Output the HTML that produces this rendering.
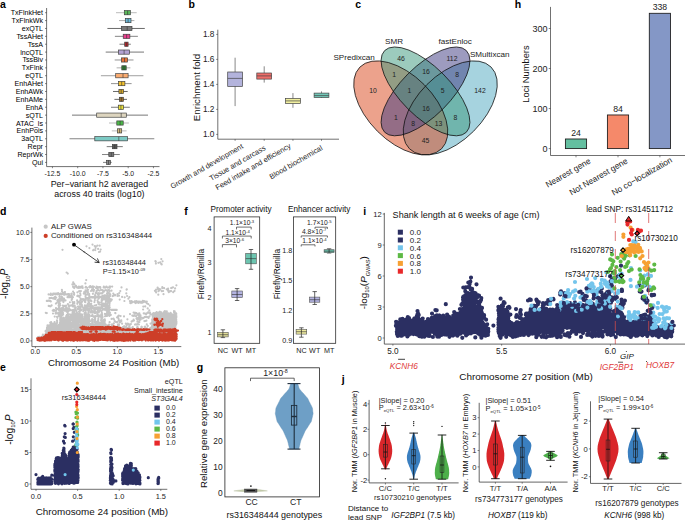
<!DOCTYPE html>
<html><head><meta charset="utf-8"><style>
html,body{margin:0;padding:0;background:#fff;width:685px;height:522px;overflow:hidden}
svg{display:block}
text{font-family:"Liberation Sans",sans-serif}
</style></head><body>
<svg width="685" height="522" viewBox="0 0 685 522">
<rect width="685" height="522" fill="#fff"/>
<text x="0" y="8.4" font-size="10.5" fill="#000" font-weight="bold">a</text>
<line x1="46.6" y1="8" x2="46.6" y2="166.6" stroke="#333" stroke-width="0.7"/>
<line x1="46.6" y1="166.6" x2="159.5" y2="166.6" stroke="#333" stroke-width="0.7"/>
<line x1="45" y1="12.7" x2="46.6" y2="12.7" stroke="#333" stroke-width="0.6"/>
<text x="43" y="15.2" font-size="7.1" text-anchor="end">TxFlnkHet</text>
<line x1="116" y1="12.7" x2="136.7" y2="12.7" stroke="#aaa" stroke-width="0.8"/>
<rect x="124.3" y="10.6" width="6.1" height="4.2" fill="#5cb85c" stroke="#3a3a3a" stroke-width="0.65"/>
<line x1="127.6" y1="10.6" x2="127.6" y2="14.8" stroke="#333" stroke-width="0.6"/>
<line x1="45" y1="20.58" x2="46.6" y2="20.58" stroke="#333" stroke-width="0.6"/>
<text x="43" y="23.08" font-size="7.1" text-anchor="end">TxFlnkWk</text>
<line x1="119" y1="20.58" x2="134.4" y2="20.58" stroke="#999" stroke-width="0.8"/>
<rect x="125.3" y="18.48" width="5.7" height="4.2" fill="#6bb8d8" stroke="#3a3a3a" stroke-width="0.65"/>
<line x1="128.1" y1="18.48" x2="128.1" y2="22.68" stroke="#333" stroke-width="0.6"/>
<line x1="45" y1="28.46" x2="46.6" y2="28.46" stroke="#333" stroke-width="0.6"/>
<text x="43" y="30.96" font-size="7.1" text-anchor="end">exQTL</text>
<line x1="107.4" y1="28.46" x2="144.8" y2="28.46" stroke="#444" stroke-width="0.8"/>
<rect x="121.4" y="26.36" width="10.6" height="4.2" fill="#7a7a7a" stroke="#3a3a3a" stroke-width="0.65"/>
<line x1="127.2" y1="26.36" x2="127.2" y2="30.56" stroke="#333" stroke-width="0.6"/>
<line x1="45" y1="36.34" x2="46.6" y2="36.34" stroke="#333" stroke-width="0.6"/>
<text x="43" y="38.84" font-size="7.1" text-anchor="end">TssAHet</text>
<line x1="114.9" y1="36.34" x2="137.9" y2="36.34" stroke="#666" stroke-width="0.8"/>
<rect x="123.2" y="34.24" width="6.7" height="4.2" fill="#e83e8c" stroke="#3a3a3a" stroke-width="0.65"/>
<line x1="126.6" y1="34.24" x2="126.6" y2="38.44" stroke="#333" stroke-width="0.6"/>
<line x1="45" y1="44.22" x2="46.6" y2="44.22" stroke="#333" stroke-width="0.6"/>
<text x="43" y="46.72" font-size="7.1" text-anchor="end">TssA</text>
<line x1="119.5" y1="44.22" x2="130.8" y2="44.22" stroke="#555" stroke-width="0.8"/>
<rect x="124.7" y="42.12" width="3.4" height="4.2" fill="#b8262b" stroke="#3a3a3a" stroke-width="0.65"/>
<line x1="126.4" y1="42.12" x2="126.4" y2="46.32" stroke="#333" stroke-width="0.6"/>
<line x1="45" y1="52.09" x2="46.6" y2="52.09" stroke="#333" stroke-width="0.6"/>
<text x="43" y="54.59" font-size="7.1" text-anchor="end">lncQTL</text>
<line x1="105.7" y1="52.09" x2="144" y2="52.09" stroke="#555" stroke-width="0.8"/>
<rect x="118.6" y="49.99" width="10.8" height="4.2" fill="#b3a3d3" stroke="#3a3a3a" stroke-width="0.65"/>
<line x1="124.1" y1="49.99" x2="124.1" y2="54.19" stroke="#333" stroke-width="0.6"/>
<line x1="45" y1="59.97" x2="46.6" y2="59.97" stroke="#333" stroke-width="0.6"/>
<text x="43" y="62.47" font-size="7.1" text-anchor="end">TssBiv</text>
<line x1="114.7" y1="59.97" x2="133.5" y2="59.97" stroke="#777" stroke-width="0.8"/>
<rect x="121.4" y="57.87" width="6.2" height="4.2" fill="#e8743b" stroke="#3a3a3a" stroke-width="0.65"/>
<line x1="124.5" y1="57.87" x2="124.5" y2="62.07" stroke="#333" stroke-width="0.6"/>
<line x1="45" y1="67.85" x2="46.6" y2="67.85" stroke="#333" stroke-width="0.6"/>
<text x="43" y="70.35" font-size="7.1" text-anchor="end">TxFlnk</text>
<line x1="116.6" y1="67.85" x2="130.4" y2="67.85" stroke="#999" stroke-width="0.8"/>
<rect x="121.8" y="65.75" width="4.4" height="4.2" fill="#2e7d32" stroke="#3a3a3a" stroke-width="0.65"/>
<line x1="124" y1="65.75" x2="124" y2="69.95" stroke="#333" stroke-width="0.6"/>
<line x1="45" y1="75.73" x2="46.6" y2="75.73" stroke="#333" stroke-width="0.6"/>
<text x="43" y="78.23" font-size="7.1" text-anchor="end">eQTL</text>
<line x1="100.9" y1="75.73" x2="143.4" y2="75.73" stroke="#888" stroke-width="0.8"/>
<rect x="115.7" y="73.63" width="12.4" height="4.2" fill="#f9ab70" stroke="#3a3a3a" stroke-width="0.65"/>
<line x1="123" y1="73.63" x2="123" y2="77.83" stroke="#333" stroke-width="0.6"/>
<line x1="45" y1="83.61" x2="46.6" y2="83.61" stroke="#333" stroke-width="0.6"/>
<text x="43" y="86.11" font-size="7.1" text-anchor="end">EnhAHet</text>
<line x1="111" y1="83.61" x2="131.6" y2="83.61" stroke="#777" stroke-width="0.8"/>
<rect x="118.6" y="81.51" width="6.3" height="4.2" fill="#f2c12e" stroke="#3a3a3a" stroke-width="0.65"/>
<line x1="121.7" y1="81.51" x2="121.7" y2="85.71" stroke="#333" stroke-width="0.6"/>
<line x1="45" y1="91.49" x2="46.6" y2="91.49" stroke="#333" stroke-width="0.6"/>
<text x="43" y="93.99" font-size="7.1" text-anchor="end">EnhAWk</text>
<line x1="113" y1="91.49" x2="127.7" y2="91.49" stroke="#444" stroke-width="0.8"/>
<rect x="118.9" y="89.39" width="4.6" height="4.2" fill="#d4a82c" stroke="#3a3a3a" stroke-width="0.65"/>
<line x1="121.2" y1="89.39" x2="121.2" y2="93.59" stroke="#333" stroke-width="0.6"/>
<line x1="45" y1="99.37" x2="46.6" y2="99.37" stroke="#333" stroke-width="0.6"/>
<text x="43" y="101.87" font-size="7.1" text-anchor="end">EnhAMe</text>
<line x1="114.4" y1="99.37" x2="127" y2="99.37" stroke="#444" stroke-width="0.8"/>
<rect x="119.4" y="97.27" width="4" height="4.2" fill="#9c6e2a" stroke="#3a3a3a" stroke-width="0.65"/>
<line x1="121.4" y1="97.27" x2="121.4" y2="101.47" stroke="#333" stroke-width="0.6"/>
<line x1="45" y1="107.25" x2="46.6" y2="107.25" stroke="#333" stroke-width="0.6"/>
<text x="43" y="109.75" font-size="7.1" text-anchor="end">EnhA</text>
<line x1="111" y1="107.25" x2="129.8" y2="107.25" stroke="#555" stroke-width="0.8"/>
<rect x="118.3" y="105.15" width="5.2" height="4.2" fill="#e8e03a" stroke="#3a3a3a" stroke-width="0.65"/>
<line x1="120.9" y1="105.15" x2="120.9" y2="109.35" stroke="#333" stroke-width="0.6"/>
<line x1="45" y1="115.13" x2="46.6" y2="115.13" stroke="#333" stroke-width="0.6"/>
<text x="43" y="117.63" font-size="7.1" text-anchor="end">sQTL</text>
<line x1="72" y1="115.13" x2="148" y2="115.13" stroke="#555" stroke-width="0.8"/>
<rect x="96.7" y="113.03" width="29.6" height="4.2" fill="#ddd5bf" stroke="#3a3a3a" stroke-width="0.65"/>
<line x1="121.2" y1="113.03" x2="121.2" y2="117.23" stroke="#333" stroke-width="0.6"/>
<line x1="45" y1="123.01" x2="46.6" y2="123.01" stroke="#333" stroke-width="0.6"/>
<text x="43" y="125.51" font-size="7.1" text-anchor="end">ATAC_ls</text>
<line x1="109" y1="123.01" x2="128.9" y2="123.01" stroke="#aaa" stroke-width="0.8"/>
<rect x="116.8" y="120.91" width="6.4" height="4.2" fill="#4cb848" stroke="#3a3a3a" stroke-width="0.65"/>
<line x1="120.1" y1="120.91" x2="120.1" y2="125.11" stroke="#333" stroke-width="0.6"/>
<line x1="45" y1="130.88" x2="46.6" y2="130.88" stroke="#333" stroke-width="0.6"/>
<text x="43" y="133.38" font-size="7.1" text-anchor="end">EnhPois</text>
<line x1="111.8" y1="130.88" x2="126.6" y2="130.88" stroke="#aaa" stroke-width="0.8"/>
<rect x="117.4" y="128.78" width="4.3" height="4.2" fill="#d3b97a" stroke="#3a3a3a" stroke-width="0.65"/>
<line x1="119.55" y1="128.78" x2="119.55" y2="132.98" stroke="#333" stroke-width="0.6"/>
<line x1="45" y1="138.76" x2="46.6" y2="138.76" stroke="#333" stroke-width="0.6"/>
<text x="43" y="141.26" font-size="7.1" text-anchor="end">3aQTL</text>
<line x1="69.5" y1="138.76" x2="154.3" y2="138.76" stroke="#666" stroke-width="0.8"/>
<rect x="94.8" y="136.66" width="32.8" height="4.2" fill="#7ccac4" stroke="#3a3a3a" stroke-width="0.65"/>
<line x1="118.8" y1="136.66" x2="118.8" y2="140.86" stroke="#333" stroke-width="0.6"/>
<line x1="45" y1="146.64" x2="46.6" y2="146.64" stroke="#333" stroke-width="0.6"/>
<text x="43" y="149.14" font-size="7.1" text-anchor="end">Repr</text>
<line x1="106.7" y1="146.64" x2="122.8" y2="146.64" stroke="#555" stroke-width="0.8"/>
<rect x="112.4" y="144.54" width="4.6" height="4.2" fill="#555555" stroke="#3a3a3a" stroke-width="0.65"/>
<line x1="114.7" y1="144.54" x2="114.7" y2="148.74" stroke="#333" stroke-width="0.6"/>
<line x1="45" y1="154.52" x2="46.6" y2="154.52" stroke="#333" stroke-width="0.6"/>
<text x="43" y="157.02" font-size="7.1" text-anchor="end">ReprWk</text>
<line x1="102" y1="154.52" x2="119.8" y2="154.52" stroke="#666" stroke-width="0.8"/>
<rect x="108.8" y="152.42" width="5" height="4.2" fill="#777777" stroke="#3a3a3a" stroke-width="0.65"/>
<line x1="111.3" y1="152.42" x2="111.3" y2="156.62" stroke="#333" stroke-width="0.6"/>
<line x1="45" y1="162.4" x2="46.6" y2="162.4" stroke="#333" stroke-width="0.6"/>
<text x="43" y="164.9" font-size="7.1" text-anchor="end">Qui</text>
<line x1="103" y1="162.4" x2="111.7" y2="162.4" stroke="#666" stroke-width="0.8"/>
<rect x="106.6" y="160.3" width="3.8" height="4.2" fill="#8a8a8a" stroke="#3a3a3a" stroke-width="0.65"/>
<line x1="108.5" y1="160.3" x2="108.5" y2="164.5" stroke="#333" stroke-width="0.6"/>
<line x1="52.45" y1="166.6" x2="52.45" y2="168.2" stroke="#333" stroke-width="0.6"/>
<text x="52.45" y="176.4" font-size="6.9" text-anchor="middle" fill="#222">-12.5</text>
<line x1="77.7" y1="166.6" x2="77.7" y2="168.2" stroke="#333" stroke-width="0.6"/>
<text x="77.7" y="176.4" font-size="6.9" text-anchor="middle" fill="#222">-10.0</text>
<line x1="102.95" y1="166.6" x2="102.95" y2="168.2" stroke="#333" stroke-width="0.6"/>
<text x="102.95" y="176.4" font-size="6.9" text-anchor="middle" fill="#222">-7.5</text>
<line x1="128.2" y1="166.6" x2="128.2" y2="168.2" stroke="#333" stroke-width="0.6"/>
<text x="128.2" y="176.4" font-size="6.9" text-anchor="middle" fill="#222">-5.0</text>
<line x1="153.45" y1="166.6" x2="153.45" y2="168.2" stroke="#333" stroke-width="0.6"/>
<text x="153.45" y="176.4" font-size="6.9" text-anchor="middle" fill="#222">-2.5</text>
<text x="99.4" y="186.6" font-size="8.9" text-anchor="middle" fill="#111">Per−variant h2 averaged</text>
<text x="99.4" y="197.1" font-size="8.9" text-anchor="middle" fill="#111">across 40 traits (log10)</text>
<text x="188.6" y="8.4" font-size="10.5" fill="#000" font-weight="bold">b</text>
<line x1="217.8" y1="29.7" x2="217.8" y2="139.2" stroke="#333" stroke-width="0.7"/>
<line x1="217.8" y1="139.2" x2="339" y2="139.2" stroke="#333" stroke-width="0.7"/>
<line x1="216.2" y1="134.4" x2="217.8" y2="134.4" stroke="#333" stroke-width="0.6"/>
<text x="214.5" y="137.3" font-size="8.3" text-anchor="end" fill="#222">1.0</text>
<line x1="216.2" y1="109.4" x2="217.8" y2="109.4" stroke="#333" stroke-width="0.6"/>
<text x="214.5" y="112.3" font-size="8.3" text-anchor="end" fill="#222">1.2</text>
<line x1="216.2" y1="84.4" x2="217.8" y2="84.4" stroke="#333" stroke-width="0.6"/>
<text x="214.5" y="87.3" font-size="8.3" text-anchor="end" fill="#222">1.4</text>
<line x1="216.2" y1="59.4" x2="217.8" y2="59.4" stroke="#333" stroke-width="0.6"/>
<text x="214.5" y="62.3" font-size="8.3" text-anchor="end" fill="#222">1.6</text>
<line x1="216.2" y1="34.4" x2="217.8" y2="34.4" stroke="#333" stroke-width="0.6"/>
<text x="214.5" y="37.3" font-size="8.3" text-anchor="end" fill="#222">1.8</text>
<line x1="235.1" y1="57.7" x2="235.1" y2="106.1" stroke="#555" stroke-width="0.7"/>
<rect x="227.7" y="72" width="14.8" height="14.4" fill="#b3b3dc" stroke="#444" stroke-width="0.7"/>
<line x1="227.7" y1="78.4" x2="242.5" y2="78.4" stroke="#444" stroke-width="0.7"/>
<line x1="235.1" y1="139.2" x2="235.1" y2="140.8" stroke="#333" stroke-width="0.6"/>
<line x1="264.2" y1="66.3" x2="264.2" y2="82.6" stroke="#555" stroke-width="0.7"/>
<rect x="256.8" y="73" width="14.8" height="6.1" fill="#ee6e6a" stroke="#444" stroke-width="0.7"/>
<line x1="256.8" y1="75.9" x2="271.6" y2="75.9" stroke="#444" stroke-width="0.7"/>
<line x1="264.2" y1="139.2" x2="264.2" y2="140.8" stroke="#333" stroke-width="0.6"/>
<line x1="292.95" y1="93.1" x2="292.95" y2="107.8" stroke="#555" stroke-width="0.7"/>
<rect x="285.55" y="98.4" width="14.8" height="5.1" fill="#f2f0a0" stroke="#444" stroke-width="0.7"/>
<line x1="285.55" y1="100.9" x2="300.35" y2="100.9" stroke="#444" stroke-width="0.7"/>
<line x1="292.95" y1="139.2" x2="292.95" y2="140.8" stroke="#333" stroke-width="0.6"/>
<line x1="321.5" y1="91.4" x2="321.5" y2="98" stroke="#555" stroke-width="0.7"/>
<rect x="314.1" y="93.1" width="14.8" height="4.4" fill="#72c8b8" stroke="#444" stroke-width="0.7"/>
<line x1="314.1" y1="95.6" x2="328.9" y2="95.6" stroke="#444" stroke-width="0.7"/>
<line x1="321.5" y1="139.2" x2="321.5" y2="140.8" stroke="#333" stroke-width="0.6"/>
<text transform="translate(199.5 87.5) rotate(-90)" font-size="9.7" fill="#111" text-anchor="middle">Enrichment fold</text>
<text x="243.7" y="147.8" font-size="7.4" text-anchor="end" fill="#222" transform="rotate(-30 243.7 147.8)">Growth and development</text>
<text x="266.2" y="149.4" font-size="7.4" text-anchor="end" fill="#222" transform="rotate(-30 266.2 149.4)">Tissue and carcass</text>
<text x="291.5" y="147.4" font-size="7.4" text-anchor="end" fill="#222" transform="rotate(-30 291.5 147.4)">Feed intake and efficiency</text>
<text x="323.1" y="149.4" font-size="7.4" text-anchor="end" fill="#222" transform="rotate(-30 323.1 149.4)">Blood biochemical</text>
<text x="355.2" y="8.4" font-size="10.5" fill="#000" font-weight="bold">c</text>
<ellipse cx="450.25" cy="107.9" rx="57.75" ry="33" transform="rotate(-45 450.25 107.9)" fill="#4da7bf" fill-opacity="0.5" stroke="none"/>
<ellipse cx="400.75" cy="107.9" rx="57.75" ry="33" transform="rotate(45 400.75 107.9)" fill="#d94519" fill-opacity="0.5" stroke="none"/>
<ellipse cx="425.5" cy="91.4" rx="57.75" ry="24.75" transform="rotate(-45 425.5 91.4)" fill="#3b377f" fill-opacity="0.5" stroke="none"/>
<ellipse cx="425.5" cy="91.4" rx="57.75" ry="24.75" transform="rotate(45 425.5 91.4)" fill="#39977b" fill-opacity="0.5" stroke="none"/>
<ellipse cx="400.75" cy="107.9" rx="57.75" ry="33" transform="rotate(45 400.75 107.9)" fill="none" fill-opacity="0" stroke="#111" stroke-width="0.75"/>
<ellipse cx="425.5" cy="91.4" rx="57.75" ry="24.75" transform="rotate(45 425.5 91.4)" fill="none" fill-opacity="0" stroke="#111" stroke-width="0.75"/>
<ellipse cx="425.5" cy="91.4" rx="57.75" ry="24.75" transform="rotate(-45 425.5 91.4)" fill="none" fill-opacity="0" stroke="#111" stroke-width="0.75"/>
<ellipse cx="450.25" cy="107.9" rx="57.75" ry="33" transform="rotate(-45 450.25 107.9)" fill="none" fill-opacity="0" stroke="#111" stroke-width="0.75"/>
<text x="401.1" y="60.6" font-size="6.8" text-anchor="middle" fill="#222">46</text>
<text x="452" y="60.6" font-size="6.8" text-anchor="middle" fill="#222">112</text>
<text x="394.1" y="77.4" font-size="6.8" text-anchor="middle" fill="#222">1</text>
<text x="426.1" y="74.4" font-size="6.8" text-anchor="middle" fill="#222">16</text>
<text x="457.1" y="77.4" font-size="6.8" text-anchor="middle" fill="#222">8</text>
<text x="373" y="92.6" font-size="6.8" text-anchor="middle" fill="#222">10</text>
<text x="409.3" y="92.6" font-size="6.8" text-anchor="middle" fill="#222">1</text>
<text x="442.7" y="92.6" font-size="6.8" text-anchor="middle" fill="#222">5</text>
<text x="480" y="92.6" font-size="6.8" text-anchor="middle" fill="#222">142</text>
<text x="426.1" y="111.3" font-size="6.8" text-anchor="middle" fill="#222">16</text>
<text x="395.9" y="119.5" font-size="6.8" text-anchor="middle" fill="#222">1</text>
<text x="455.3" y="119.5" font-size="6.8" text-anchor="middle" fill="#222">8</text>
<text x="413.2" y="125.8" font-size="6.8" text-anchor="middle" fill="#222">8</text>
<text x="438.5" y="125.8" font-size="6.8" text-anchor="middle" fill="#222">13</text>
<text x="425.6" y="142.9" font-size="6.8" text-anchor="middle" fill="#222">45</text>
<text x="333.4" y="60" font-size="8.1" fill="#222">SPredixcan</text>
<text x="385" y="43.5" font-size="8.1" fill="#222">SMR</text>
<text x="438.5" y="43.7" font-size="8.1" fill="#222">fastEnloc</text>
<text x="469.9" y="56.8" font-size="8.1" fill="#222">SMultixcan</text>
<text x="514.8" y="8.4" font-size="10.5" fill="#000" font-weight="bold">h</text>
<line x1="550.5" y1="6.9" x2="550.5" y2="155.5" stroke="#333" stroke-width="0.7"/>
<line x1="550.5" y1="155.5" x2="685" y2="155.5" stroke="#333" stroke-width="0.7"/>
<line x1="548.7" y1="148.6" x2="550.5" y2="148.6" stroke="#333" stroke-width="0.6"/>
<text x="547.5" y="152" font-size="9" text-anchor="end" fill="#222">0</text>
<line x1="548.7" y1="108.57" x2="550.5" y2="108.57" stroke="#333" stroke-width="0.6"/>
<text x="547.5" y="111.97" font-size="9" text-anchor="end" fill="#222">100</text>
<line x1="548.7" y1="68.54" x2="550.5" y2="68.54" stroke="#333" stroke-width="0.6"/>
<text x="547.5" y="71.94" font-size="9" text-anchor="end" fill="#222">200</text>
<line x1="548.7" y1="28.51" x2="550.5" y2="28.51" stroke="#333" stroke-width="0.6"/>
<text x="547.5" y="31.91" font-size="9" text-anchor="end" fill="#222">300</text>
<rect x="565.4" y="138.99" width="21.2" height="9.61" fill="#64bfa0" stroke="#1a1a1a" stroke-width="0.85"/>
<text x="576" y="136.09" font-size="8.7" text-anchor="middle" fill="#222">24</text>
<line x1="576" y1="155.5" x2="576" y2="157.3" stroke="#333" stroke-width="0.6"/>
<rect x="607.4" y="114.97" width="21.2" height="33.63" fill="#f5896a" stroke="#1a1a1a" stroke-width="0.85"/>
<text x="618" y="112.07" font-size="8.7" text-anchor="middle" fill="#222">84</text>
<line x1="618" y1="155.5" x2="618" y2="157.3" stroke="#333" stroke-width="0.6"/>
<rect x="649.3" y="13.3" width="21.2" height="135.3" fill="#8497c6" stroke="#1a1a1a" stroke-width="0.85"/>
<text x="659.9" y="10.4" font-size="8.7" text-anchor="middle" fill="#222">338</text>
<line x1="659.9" y1="155.5" x2="659.9" y2="157.3" stroke="#333" stroke-width="0.6"/>
<text x="529.2" y="74.1" font-size="9.3" text-anchor="middle" fill="#111" transform="rotate(-90 529.2 74.1)">Loci Numbers</text>
<text x="591.3" y="162.6" font-size="8.4" text-anchor="end" fill="#222" transform="rotate(-30 591.3 162.6)">Nearest gene</text>
<text x="628.4" y="162.6" font-size="8.4" text-anchor="end" fill="#222" transform="rotate(-30 628.4 162.6)">Not Nearest gene</text>
<text x="672.9" y="161.6" font-size="8.4" text-anchor="end" fill="#222" transform="rotate(-30 672.9 161.6)">No co−localization</text>
<text x="0" y="215.2" font-size="10.5" fill="#000" font-weight="bold">d</text>
<path d="M38.5 339.3h0M38.1 337.2h0M37.9 337.3h0M38.5 338.4h0M38.1 339.0h0M38.1 338.4h0M39.5 337.4h0M39.2 336.9h0M38.9 339.6h0M39.2 340.3h0M38.7 338.2h0M40.0 338.1h0M39.9 339.1h0M39.5 339.4h0M40.1 339.3h0M39.8 340.8h0M40.2 339.6h0M40.7 337.5h0M40.8 337.7h0M40.4 338.3h0M40.7 337.4h0M40.6 338.1h0M40.4 338.7h0M41.8 338.6h0M41.9 337.9h0M41.6 337.7h0M41.7 339.6h0M42.3 339.7h0M42.8 339.0h0M42.5 338.6h0M42.7 337.2h0M42.1 336.6h0M43.2 338.9h0M42.9 334.7h0M43.2 338.6h0M43.5 335.9h0M43.2 337.3h0M43.1 338.1h0M42.8 334.9h0M43.2 336.4h0M43.0 335.4h0M42.8 337.3h0M44.4 337.9h0M44.0 338.3h0M44.3 338.9h0M44.1 337.8h0M45.0 336.1h0M44.5 336.0h0M44.4 336.6h0M45.1 339.4h0M44.8 336.4h0M44.4 337.0h0M45.8 336.6h0M45.4 335.2h0M45.4 335.4h0M46.0 333.4h0M45.5 336.1h0M46.0 334.5h0M46.0 333.9h0M45.7 331.1h0M45.8 333.4h0M45.6 331.2h0M45.6 331.0h0M45.3 334.6h0M45.7 330.8h0M46.6 332.5h0M46.6 330.8h0M46.3 335.0h0M46.2 339.2h0M46.2 331.1h0M46.7 338.1h0M46.6 334.3h0M46.5 332.9h0M46.3 330.8h0M46.4 333.1h0M46.6 337.2h0M46.1 334.9h0M46.7 331.8h0M46.7 338.1h0M46.8 331.9h0M47.6 338.4h0M46.9 339.4h0M47.1 334.0h0M47.0 329.6h0M46.9 329.3h0M47.0 328.3h0M46.9 333.0h0M47.6 329.9h0M47.5 328.5h0M47.4 335.0h0M47.4 338.6h0M47.5 325.4h0M47.6 338.2h0M47.2 332.9h0M47.0 328.9h0M47.5 333.0h0M47.6 327.0h0M47.0 327.4h0M47.6 334.9h0M47.4 328.8h0M47.4 337.0h0M48.4 327.7h0M48.0 328.5h0M48.4 326.8h0M47.8 339.2h0M48.2 334.9h0M48.2 326.3h0M48.0 334.3h0M48.1 329.2h0M47.8 332.5h0M47.8 329.1h0M48.4 332.5h0M48.0 330.5h0M47.9 334.4h0M48.0 331.5h0M47.8 328.2h0M48.2 333.6h0M47.8 328.1h0M47.8 336.4h0M47.8 337.6h0M48.4 334.0h0M48.0 327.4h0M48.9 326.4h0M48.8 328.2h0M48.6 328.0h0M49.2 327.0h0M49.1 332.3h0M48.6 330.4h0M49.1 335.1h0M48.7 330.2h0M49.1 326.3h0M48.6 335.3h0M49.2 328.9h0M49.1 325.3h0M49.3 326.8h0M49.2 332.0h0M49.0 335.2h0M49.1 327.7h0M49.1 331.3h0M49.4 328.1h0M49.8 332.9h0M49.8 329.2h0M49.7 328.2h0M50.1 332.9h0M49.5 328.9h0M50.2 336.4h0M49.9 328.2h0M50.1 336.9h0M49.4 326.8h0M49.4 335.9h0M49.8 332.1h0M50.0 335.6h0M50.1 335.2h0M50.0 338.1h0M49.7 339.1h0M49.6 333.8h0M50.2 322.7h0M50.9 323.6h0M50.4 330.4h0M50.3 335.7h0M50.2 328.8h0M50.3 334.5h0M50.9 329.1h0M50.3 326.5h0M50.4 328.5h0M50.4 328.6h0M50.7 328.3h0M50.5 325.0h0M50.9 334.4h0M50.3 336.0h0M51.0 323.3h0M50.3 323.0h0M50.3 328.8h0M50.6 323.6h0M50.2 331.8h0M50.7 337.3h0M50.4 329.4h0M50.9 325.4h0M50.8 325.4h0M51.5 325.0h0M51.2 334.4h0M51.6 334.4h0M51.7 326.9h0M51.3 322.6h0M51.1 328.1h0M51.1 322.2h0M51.5 324.2h0M51.2 324.2h0M51.6 326.3h0M51.8 329.4h0M51.3 325.6h0M51.7 331.0h0M51.5 333.5h0M51.4 324.6h0M51.0 325.2h0M51.0 322.3h0M51.4 329.8h0M51.6 328.0h0M51.6 336.6h0M51.4 327.5h0M51.7 338.2h0M51.4 326.4h0M51.4 336.9h0M51.5 333.2h0M51.1 323.3h0M51.1 329.0h0M51.6 325.4h0M51.4 324.1h0M52.5 327.1h0M52.3 330.8h0M52.3 330.9h0M52.4 331.2h0M52.2 326.2h0M52.2 331.8h0M52.5 331.2h0M52.5 325.9h0M52.2 326.7h0M51.8 331.0h0M52.5 328.4h0M52.3 327.3h0M52.4 328.3h0M52.1 334.6h0M52.0 332.6h0M52.2 323.5h0M52.1 330.2h0M52.1 328.4h0M52.6 324.7h0M52.1 333.0h0M52.5 329.5h0M52.4 337.3h0M52.5 332.3h0M52.2 334.3h0M53.3 330.0h0M53.2 330.2h0M52.9 329.0h0M52.8 332.3h0M53.2 326.2h0M52.7 326.7h0M53.3 330.4h0M52.7 327.3h0M52.8 327.7h0M52.9 327.8h0M52.8 329.9h0M53.1 327.9h0M52.8 324.2h0M52.9 332.5h0M52.8 337.5h0M53.0 326.2h0M53.2 334.5h0M52.7 332.2h0M53.2 329.8h0M53.4 327.6h0M53.1 326.3h0M53.2 331.9h0M52.8 330.5h0M53.0 335.6h0M53.0 327.8h0M52.7 335.7h0M54.2 339.3h0M53.6 335.9h0M53.8 339.7h0M53.8 336.0h0M53.7 328.1h0M53.6 329.9h0M53.8 332.2h0M54.1 336.0h0M54.2 327.2h0M54.0 338.5h0M54.0 330.1h0M54.1 335.1h0M54.2 327.2h0M53.5 333.6h0M53.5 327.8h0M54.2 326.3h0M53.9 329.4h0M55.0 325.6h0M54.5 327.1h0M54.3 324.0h0M54.8 328.7h0M55.0 323.5h0M54.5 336.5h0M54.4 333.4h0M54.5 328.2h0M55.0 331.3h0M55.0 324.6h0M55.0 329.0h0M54.3 323.1h0M54.5 334.5h0M54.9 324.5h0M54.4 331.6h0M55.0 331.6h0M54.8 334.9h0M54.9 335.2h0M54.7 338.1h0M54.7 322.3h0M54.3 331.4h0M54.9 325.6h0M54.5 325.3h0M54.6 322.1h0M54.5 323.5h0M54.8 323.7h0M54.6 323.9h0M54.8 329.3h0M55.7 335.7h0M55.7 334.7h0M55.5 328.6h0M55.4 334.5h0M55.3 338.0h0M55.3 334.8h0M55.2 338.3h0M55.5 335.6h0M55.7 328.1h0M55.3 331.3h0M55.5 338.1h0M55.2 328.4h0M55.5 329.1h0M55.1 331.1h0M55.8 328.6h0M55.1 331.8h0M55.4 329.5h0M55.1 334.8h0M55.7 332.4h0M55.5 327.7h0M55.3 338.9h0M56.0 328.2h0M56.7 328.0h0M56.4 331.8h0M56.4 325.8h0M56.4 325.2h0M56.4 334.1h0M56.4 329.2h0M56.0 327.5h0M56.6 335.5h0M56.3 326.1h0M56.2 332.7h0M56.2 328.5h0M56.5 328.3h0M56.0 325.1h0M56.7 336.4h0M56.1 334.6h0M56.6 324.0h0M55.9 331.7h0M56.1 329.5h0M56.9 325.1h0M57.1 320.5h0M57.1 333.4h0M57.0 316.8h0M57.3 334.2h0M57.4 328.8h0M57.4 339.1h0M57.4 332.7h0M57.1 321.9h0M57.1 332.6h0M56.8 329.4h0M56.8 331.2h0M56.8 325.5h0M57.0 323.2h0M57.0 337.7h0M57.0 320.3h0M56.9 326.7h0M57.3 326.7h0M57.4 317.8h0M57.0 320.6h0M56.9 333.4h0M57.1 322.9h0M57.5 333.2h0M57.3 325.3h0M58.1 336.4h0M58.3 337.0h0M57.6 333.0h0M58.3 338.9h0M58.3 329.5h0M57.6 330.0h0M57.9 330.0h0M58.1 328.8h0M58.4 335.9h0M58.2 331.9h0M58.2 326.6h0M58.4 334.0h0M57.9 326.1h0M58.3 332.4h0M58.3 332.0h0M57.8 328.0h0M57.9 331.4h0M57.9 331.6h0M57.7 338.0h0M58.2 330.0h0M58.1 327.5h0M57.7 334.5h0M57.8 333.4h0M58.2 332.4h0M57.8 329.2h0M58.9 327.2h0M58.6 328.6h0M58.4 331.5h0M58.8 333.8h0M58.6 328.9h0M58.8 335.6h0M58.9 337.3h0M59.2 334.7h0M58.6 334.7h0M59.2 333.3h0M58.9 324.8h0M59.1 338.5h0M58.8 329.0h0M58.9 332.5h0M58.6 340.3h0M58.4 329.6h0M59.5 337.8h0M59.2 326.5h0M59.5 335.1h0M59.8 340.0h0M59.4 326.2h0M59.9 329.4h0M59.3 333.3h0M59.2 334.8h0M59.2 336.6h0M59.7 337.1h0M59.3 326.7h0M59.5 333.1h0M59.3 327.8h0M59.7 330.4h0M59.7 337.1h0M59.4 330.0h0M60.5 323.3h0M60.0 316.5h0M60.1 333.2h0M60.6 317.8h0M60.6 324.7h0M60.1 337.4h0M60.7 315.1h0M60.2 316.9h0M60.3 327.9h0M60.4 339.4h0M60.4 331.0h0M60.6 323.6h0M60.7 316.4h0M60.3 328.7h0M60.8 323.6h0M60.1 336.8h0M60.8 322.1h0M60.0 323.4h0M60.4 325.0h0M60.8 315.6h0M60.1 332.5h0M60.3 317.5h0M60.5 319.3h0M60.5 330.6h0M60.7 338.9h0M60.6 331.1h0M60.4 315.2h0M60.4 336.2h0M60.4 320.5h0M60.0 329.4h0M60.0 322.8h0M60.3 323.6h0M60.2 320.6h0M60.1 316.3h0M60.8 323.8h0M60.4 317.0h0M60.2 318.0h0M60.2 319.4h0M60.3 321.6h0M60.8 336.3h0M61.1 327.8h0M60.9 329.9h0M61.3 334.8h0M61.4 316.8h0M61.6 317.9h0M61.5 332.1h0M61.6 331.4h0M61.5 318.1h0M61.3 324.2h0M61.0 324.2h0M61.1 333.8h0M60.9 319.3h0M61.6 333.3h0M60.8 329.8h0M60.9 331.8h0M61.3 326.2h0M61.2 331.4h0M61.4 329.2h0M61.1 325.4h0M61.6 330.3h0M61.4 328.7h0M61.6 326.8h0M61.2 318.1h0M61.4 334.9h0M60.9 316.4h0M60.8 328.9h0M61.6 338.9h0M61.0 331.1h0M60.9 325.2h0M61.3 328.5h0M60.9 319.1h0M61.5 323.4h0M60.9 323.8h0M62.3 328.0h0M62.1 334.7h0M62.1 321.5h0M62.2 330.8h0M62.5 322.2h0M62.0 327.5h0M62.3 332.9h0M62.2 322.3h0M62.1 319.9h0M62.0 326.5h0M61.9 319.3h0M61.9 322.6h0M62.0 319.1h0M62.4 338.1h0M62.5 324.1h0M61.7 326.0h0M61.7 325.0h0M61.8 328.4h0M61.9 324.1h0M62.3 319.0h0M61.9 324.7h0M61.6 328.3h0M62.4 334.6h0M62.4 323.3h0M61.9 321.3h0M61.9 319.6h0M61.7 334.6h0M62.3 326.8h0M62.7 329.2h0M63.1 325.6h0M62.5 328.6h0M63.3 330.4h0M63.1 336.7h0M63.2 328.8h0M63.2 326.3h0M63.2 337.9h0M63.0 334.6h0M62.7 332.3h0M62.9 328.2h0M63.2 339.7h0M62.6 331.8h0M63.1 329.2h0M62.9 326.6h0M63.0 332.9h0M62.5 330.3h0M63.2 328.6h0M62.5 330.6h0M62.8 328.8h0M62.9 324.6h0M62.7 331.1h0M63.9 326.2h0M63.9 325.9h0M64.1 330.1h0M63.4 320.2h0M63.5 320.0h0M63.8 325.5h0M63.4 320.9h0M63.3 318.3h0M64.0 329.6h0M63.4 319.4h0M63.7 334.3h0M63.7 330.9h0M63.6 323.2h0M64.0 320.7h0M63.4 326.1h0M63.7 317.9h0M63.4 325.5h0M64.0 327.6h0M63.5 324.7h0M63.5 318.8h0M63.3 331.9h0M63.3 322.1h0M63.5 319.2h0M64.0 318.7h0M63.5 340.6h0M63.6 318.3h0M63.9 336.6h0M63.9 319.0h0M64.1 322.0h0M64.0 320.1h0M63.6 335.1h0M63.9 333.9h0M63.6 317.8h0M63.7 325.3h0M64.1 330.0h0M64.1 319.0h0M64.2 321.8h0M64.3 339.7h0M64.8 326.1h0M64.7 324.2h0M64.1 336.1h0M64.5 337.6h0M64.5 324.2h0M64.6 325.9h0M64.1 332.4h0M64.8 335.2h0M64.5 337.6h0M64.9 333.9h0M64.4 326.9h0M64.7 321.6h0M64.7 330.2h0M64.2 324.6h0M64.9 339.2h0M64.7 333.8h0M64.5 327.3h0M64.6 320.9h0M64.7 329.4h0M64.7 328.2h0M64.4 329.9h0M65.1 333.9h0M65.3 330.3h0M65.6 320.9h0M65.2 324.3h0M65.7 329.0h0M65.4 327.3h0M65.5 319.4h0M65.0 319.3h0M65.5 321.6h0M65.4 320.6h0M65.2 322.9h0M65.1 326.2h0M65.5 332.5h0M65.0 321.7h0M65.6 323.6h0M65.2 323.7h0M65.0 323.6h0M65.4 324.4h0M65.3 331.9h0M65.5 327.0h0M65.5 328.9h0M65.0 325.6h0M65.4 319.9h0M65.6 336.9h0M65.6 331.0h0M66.0 324.6h0M66.2 320.7h0M66.3 321.0h0M66.1 321.0h0M66.0 322.3h0M66.1 323.1h0M65.8 324.3h0M65.9 326.7h0M65.8 321.4h0M66.5 327.4h0M65.8 322.0h0M65.8 317.4h0M65.8 327.2h0M66.1 333.9h0M66.0 329.3h0M66.3 316.0h0M66.0 319.1h0M65.9 322.8h0M66.1 329.0h0M66.4 319.8h0M65.8 328.9h0M66.4 315.9h0M66.2 317.8h0M66.5 319.9h0M66.3 330.7h0M66.0 322.0h0M66.5 328.7h0M66.1 338.3h0M66.3 325.5h0M66.4 330.4h0M66.9 331.7h0M66.9 320.0h0M66.7 335.0h0M66.9 330.5h0M67.2 318.8h0M67.3 318.5h0M67.1 331.8h0M67.2 320.3h0M67.2 320.8h0M67.2 328.9h0M67.1 324.1h0M66.8 328.2h0M66.7 324.6h0M66.9 326.1h0M67.3 321.1h0M67.1 316.2h0M66.7 324.3h0M66.6 326.7h0M67.3 335.2h0M67.2 318.1h0M67.0 319.1h0M66.9 327.6h0M67.0 331.6h0M66.8 328.7h0M67.4 328.0h0M66.7 316.9h0M66.7 316.5h0M67.3 321.7h0M66.9 331.5h0M66.6 334.5h0M66.8 326.4h0M67.3 323.8h0M67.4 320.4h0M66.7 323.4h0M66.7 337.3h0M67.5 333.5h0M67.9 322.6h0M67.4 317.0h0M67.6 315.8h0M67.8 320.8h0M67.8 317.8h0M68.2 315.4h0M67.4 321.8h0M67.6 333.5h0M67.5 328.3h0M68.2 316.5h0M68.1 317.4h0M67.6 324.3h0M67.7 326.9h0M67.7 315.9h0M67.4 327.4h0M67.8 317.8h0M67.9 316.8h0M67.5 330.4h0M67.6 327.3h0M68.0 311.8h0M67.9 337.1h0M67.6 315.3h0M68.1 319.5h0M67.7 325.2h0M67.9 314.2h0M67.7 330.1h0M67.4 332.0h0M68.1 318.9h0M68.2 335.0h0M67.7 315.5h0M67.9 335.2h0M67.7 318.6h0M67.9 322.8h0M67.5 312.3h0M68.6 335.9h0M68.4 336.6h0M68.4 332.2h0M68.5 329.4h0M68.5 320.7h0M68.2 335.1h0M68.9 325.3h0M68.6 330.6h0M68.6 331.7h0M68.9 320.6h0M68.5 338.4h0M68.9 329.9h0M68.7 320.1h0M68.9 320.0h0M68.6 320.3h0M68.6 330.6h0M68.6 329.1h0M68.8 320.5h0M68.3 333.2h0M68.5 326.5h0M69.0 318.9h0M69.0 322.0h0M68.8 330.5h0M68.5 340.2h0M68.9 330.4h0M68.3 329.5h0M68.5 322.1h0M68.2 331.5h0M68.9 320.1h0M68.7 324.8h0M68.4 319.9h0M68.8 325.6h0M68.3 331.8h0M69.1 328.2h0M69.4 330.6h0M69.3 329.6h0M69.3 324.5h0M69.4 332.6h0M69.7 326.3h0M69.4 323.1h0M69.6 321.1h0M69.7 323.7h0M69.6 333.7h0M69.6 331.3h0M69.2 334.8h0M69.3 338.8h0M69.6 322.6h0M69.7 334.5h0M69.5 321.3h0M69.0 332.8h0M69.2 327.2h0M69.2 325.8h0M69.3 324.0h0M69.5 323.5h0M69.2 323.2h0M69.6 322.9h0M69.1 319.8h0M69.5 330.9h0M69.4 326.2h0M70.1 327.8h0M70.5 326.2h0M69.9 325.9h0M70.0 339.2h0M70.6 329.4h0M70.3 327.9h0M69.9 318.3h0M70.6 332.1h0M70.2 327.6h0M70.0 322.1h0M70.5 320.5h0M70.4 338.8h0M70.0 324.7h0M70.4 327.3h0M70.2 319.2h0M69.9 330.0h0M70.1 316.9h0M70.0 337.0h0M70.2 322.3h0M70.0 319.2h0M70.0 321.4h0M70.0 318.6h0M70.0 320.9h0M70.5 330.3h0M69.9 323.4h0M70.2 325.4h0M70.5 325.7h0M71.0 326.9h0M70.8 329.3h0M70.9 330.5h0M71.3 334.4h0M70.8 324.5h0M70.9 330.7h0M71.0 325.0h0M71.2 317.3h0M71.4 326.4h0M71.0 326.7h0M70.9 317.6h0M70.7 331.6h0M71.2 323.4h0M70.9 317.8h0M71.0 323.3h0M70.7 318.5h0M70.7 327.1h0M71.4 317.7h0M71.4 319.4h0M70.9 337.9h0M71.0 336.3h0M71.4 339.6h0M70.9 331.7h0M70.7 325.0h0M70.7 318.3h0M71.2 327.7h0M71.4 319.9h0M70.9 319.1h0M71.4 322.8h0M70.9 318.3h0M71.4 328.1h0M72.0 333.3h0M71.9 331.9h0M72.2 331.3h0M71.6 338.1h0M71.8 322.7h0M71.7 329.5h0M72.3 340.0h0M71.7 324.7h0M71.6 323.4h0M72.2 335.2h0M72.0 328.1h0M72.0 331.9h0M71.8 333.1h0M71.7 334.5h0M72.2 323.9h0M71.8 326.2h0M71.9 332.4h0M71.8 323.0h0M71.8 327.7h0M72.3 332.1h0M72.1 335.9h0M72.1 324.8h0M72.2 322.9h0M72.1 322.9h0M71.7 328.5h0M71.7 336.8h0M71.8 325.9h0M72.1 339.3h0M72.5 312.9h0M73.0 314.9h0M72.6 321.2h0M73.0 324.1h0M73.0 313.9h0M72.7 311.6h0M72.6 314.6h0M72.8 324.8h0M72.7 317.8h0M72.7 332.6h0M73.1 310.3h0M72.3 310.7h0M72.7 331.9h0M73.0 322.0h0M72.9 313.0h0M72.7 335.7h0M73.0 315.8h0M73.0 326.7h0M72.9 312.1h0M72.6 322.6h0M72.6 339.5h0M72.5 324.8h0M72.4 314.3h0M72.7 318.6h0M72.5 324.0h0M72.9 321.0h0M72.8 322.3h0M72.8 311.6h0M72.5 319.8h0M72.9 333.7h0M73.1 320.3h0M72.5 314.4h0M73.0 317.2h0M73.1 333.6h0M72.7 314.8h0M73.6 323.2h0M73.6 319.0h0M73.9 313.1h0M73.7 311.1h0M73.2 314.2h0M73.5 314.6h0M73.4 321.1h0M73.8 336.7h0M73.4 320.6h0M73.8 326.7h0M73.8 327.5h0M73.4 319.0h0M73.7 312.0h0M73.8 327.3h0M73.7 317.1h0M73.4 314.1h0M73.9 320.8h0M73.9 331.8h0M73.3 314.3h0M73.4 318.3h0M73.5 331.1h0M73.7 314.8h0M73.2 327.0h0M73.8 311.4h0M73.8 320.3h0M73.4 321.7h0M73.3 320.4h0M73.3 330.4h0M73.4 334.9h0M73.5 315.8h0M73.7 310.2h0M73.8 317.2h0M73.9 321.7h0M73.8 326.2h0M73.6 310.1h0M73.6 320.1h0M73.8 325.4h0M73.8 338.0h0M73.3 329.9h0M73.3 310.7h0M73.1 325.8h0M73.6 315.6h0M73.8 323.4h0M73.3 312.6h0M74.1 328.2h0M74.7 324.8h0M74.4 327.8h0M74.5 326.2h0M74.2 336.2h0M74.1 324.1h0M74.5 323.9h0M74.0 322.6h0M74.3 322.3h0M74.4 327.4h0M74.6 326.2h0M74.5 334.5h0M74.4 330.4h0M74.0 335.1h0M74.3 332.2h0M74.6 335.4h0M74.0 321.5h0M74.2 327.9h0M74.1 333.3h0M74.8 319.8h0M75.6 324.4h0M75.1 331.1h0M74.9 329.0h0M75.5 340.1h0M75.4 322.5h0M74.8 336.2h0M75.4 322.4h0M75.0 319.5h0M74.9 326.8h0M74.9 322.9h0M74.8 332.5h0M75.4 325.4h0M75.3 321.4h0M75.3 332.0h0M75.3 334.5h0M75.0 326.4h0M74.9 334.8h0M75.3 321.3h0M75.1 327.6h0M74.9 325.0h0M75.2 318.4h0M74.8 318.8h0M75.6 328.5h0M75.4 320.0h0M75.3 329.8h0M75.3 319.2h0M74.8 325.8h0M74.8 319.7h0M75.4 337.2h0M75.4 322.1h0M74.9 325.0h0M75.3 328.7h0M75.2 317.8h0M75.3 325.4h0M76.3 325.7h0M76.3 327.8h0M76.1 328.5h0M76.2 331.6h0M76.0 329.4h0M76.1 333.7h0M75.6 336.7h0M75.7 324.3h0M76.2 325.6h0M75.9 336.3h0M76.0 324.3h0M76.0 327.1h0M75.9 335.1h0M76.1 329.1h0M75.9 332.8h0M76.2 331.8h0M76.1 332.8h0M76.2 330.8h0M76.0 323.5h0M76.7 316.1h0M76.7 313.5h0M77.1 319.4h0M77.1 321.8h0M77.0 333.0h0M77.2 316.8h0M76.5 329.1h0M76.9 317.5h0M76.5 314.0h0M76.7 313.4h0M77.0 323.0h0M76.7 334.1h0M76.5 320.0h0M77.0 314.9h0M76.7 314.4h0M76.6 314.4h0M77.2 331.9h0M77.1 318.6h0M77.0 316.1h0M76.8 322.6h0M76.7 315.6h0M77.1 331.7h0M77.0 328.2h0M76.6 330.5h0M76.9 328.1h0M76.6 334.0h0M76.7 317.3h0M76.4 323.1h0M76.9 336.4h0M76.6 314.9h0M77.2 315.9h0M76.5 317.5h0M76.8 331.4h0M76.8 314.6h0M77.1 325.2h0M76.5 315.0h0M77.2 322.5h0M76.6 321.8h0M77.0 323.1h0M76.7 329.0h0M77.4 320.4h0M77.2 323.5h0M77.9 328.6h0M77.7 332.4h0M77.8 323.8h0M77.8 327.1h0M78.0 321.5h0M77.7 324.1h0M77.4 320.5h0M77.7 321.2h0M77.5 320.0h0M77.3 326.5h0M77.3 333.1h0M77.8 336.8h0M77.5 333.1h0M77.9 336.2h0M77.5 321.7h0M77.8 323.8h0M78.0 338.7h0M77.8 323.2h0M77.8 323.7h0M78.7 327.8h0M78.3 339.8h0M78.5 336.7h0M78.7 331.7h0M78.7 336.6h0M78.4 336.5h0M78.7 328.5h0M78.2 323.7h0M78.6 331.7h0M78.7 331.0h0M78.8 332.4h0M78.8 337.6h0M78.6 332.5h0M78.4 327.5h0M78.1 333.7h0M78.1 326.2h0M78.2 329.3h0M78.3 333.5h0M79.4 316.9h0M79.5 327.6h0M78.9 322.1h0M79.0 338.0h0M79.6 318.5h0M79.2 331.9h0M79.5 320.6h0M79.0 311.6h0M79.6 312.6h0M79.5 320.6h0M79.1 318.0h0M79.0 318.7h0M78.9 338.7h0M79.4 325.3h0M79.4 315.4h0M79.5 318.7h0M79.6 317.8h0M79.6 313.1h0M78.9 327.5h0M79.2 327.9h0M79.0 313.6h0M78.9 330.2h0M79.5 328.8h0M79.1 311.8h0M79.5 322.6h0M79.0 327.4h0M79.7 315.1h0M78.9 316.8h0M79.2 316.6h0M79.1 332.2h0M78.9 326.6h0M79.6 313.2h0M79.4 316.0h0M79.0 325.0h0M79.6 311.5h0M79.2 315.4h0M79.6 311.3h0M79.1 317.9h0M79.2 322.2h0M79.7 321.6h0M80.3 320.5h0M79.8 331.4h0M80.2 319.1h0M80.1 332.3h0M80.2 318.8h0M80.4 319.7h0M80.0 330.8h0M80.4 321.3h0M80.4 328.0h0M79.9 331.3h0M80.4 319.4h0M80.0 320.0h0M80.0 326.9h0M80.1 331.7h0M79.9 330.7h0M79.9 325.7h0M79.8 321.4h0M79.8 327.0h0M80.2 334.0h0M80.0 324.9h0M80.1 319.7h0M80.3 334.5h0M80.4 325.1h0M80.2 333.4h0M80.1 322.6h0M80.7 316.7h0M81.0 319.7h0M81.2 325.2h0M81.3 315.9h0M81.2 325.8h0M80.9 331.5h0M81.1 315.7h0M80.6 318.3h0M81.1 337.2h0M81.3 323.5h0M80.7 337.6h0M81.1 326.8h0M80.9 330.8h0M81.0 325.4h0M81.2 319.7h0M81.1 329.1h0M80.6 315.9h0M81.3 320.2h0M81.3 319.0h0M81.0 324.9h0M80.8 323.3h0M80.7 324.7h0M80.9 337.5h0M80.8 328.2h0M81.0 317.1h0M81.0 319.8h0M81.0 329.0h0M80.8 316.5h0M81.3 331.2h0M80.5 314.5h0M81.2 320.9h0M81.2 321.1h0M81.2 329.3h0M80.9 319.6h0M80.7 318.8h0M80.7 318.9h0M81.2 324.8h0M81.3 320.4h0M81.1 338.3h0M80.6 318.9h0M81.3 320.5h0M82.1 314.8h0M81.8 323.9h0M81.9 328.8h0M81.9 318.2h0M81.8 328.3h0M81.3 330.3h0M82.0 329.8h0M81.4 328.7h0M81.7 320.4h0M82.0 315.2h0M82.1 314.7h0M81.7 332.1h0M82.1 329.2h0M81.8 328.2h0M82.0 330.1h0M81.7 329.5h0M82.0 319.7h0M81.8 326.8h0M81.5 315.1h0M81.9 317.4h0M82.1 321.0h0M81.5 319.9h0M81.6 322.0h0M81.7 320.9h0M82.1 316.0h0M81.7 315.9h0M82.0 316.7h0M81.8 314.4h0M82.4 323.6h0M82.5 327.6h0M82.5 332.6h0M82.2 337.3h0M82.7 329.6h0M82.5 319.6h0M82.7 321.3h0M82.8 319.3h0M82.2 328.4h0M82.9 326.9h0M82.9 332.8h0M82.2 320.1h0M82.5 326.1h0M82.9 332.0h0M82.9 328.1h0M82.3 331.6h0M82.6 326.8h0M82.9 337.2h0M82.2 333.7h0M82.6 321.7h0M82.5 324.3h0M82.7 338.8h0M82.3 318.7h0M83.4 332.9h0M83.0 333.0h0M83.2 328.8h0M83.3 327.1h0M83.3 338.4h0M83.2 321.6h0M83.0 324.5h0M83.4 324.8h0M83.2 330.0h0M83.4 322.2h0M83.2 336.4h0M83.0 322.6h0M83.2 335.4h0M83.4 323.0h0M83.5 334.5h0M83.3 332.0h0M83.0 321.5h0M83.3 335.0h0M83.7 321.3h0M83.6 332.2h0M83.1 327.5h0M83.4 322.6h0M83.8 322.2h0M83.2 326.6h0M83.1 327.6h0M83.0 335.6h0M83.1 331.3h0M83.2 324.9h0M83.0 335.6h0M83.5 325.3h0M83.5 324.7h0M83.5 327.0h0M84.0 320.1h0M83.9 323.9h0M84.0 325.9h0M84.5 321.5h0M84.1 329.5h0M84.4 321.5h0M84.1 318.0h0M84.3 316.3h0M84.3 317.5h0M84.2 320.6h0M84.5 335.0h0M84.2 322.5h0M83.8 319.3h0M84.4 316.9h0M84.1 325.1h0M84.5 326.3h0M84.5 326.1h0M84.1 329.4h0M84.0 325.9h0M83.9 318.6h0M84.6 334.7h0M83.8 340.0h0M84.5 335.7h0M84.3 328.7h0M83.9 330.1h0M85.3 323.9h0M84.8 331.6h0M85.1 322.8h0M84.9 328.5h0M85.0 318.3h0M85.0 319.4h0M85.1 324.0h0M85.0 321.9h0M85.0 321.2h0M84.7 328.8h0M85.3 327.2h0M85.3 317.9h0M85.1 334.8h0M85.2 322.2h0M84.8 319.0h0M85.0 336.6h0M84.7 331.0h0M85.1 319.7h0M84.7 338.5h0M85.1 326.9h0M85.0 319.7h0M85.4 317.5h0M85.2 340.1h0M86.2 337.2h0M85.8 331.2h0M85.8 333.2h0M85.6 333.8h0M85.5 329.1h0M85.8 327.1h0M85.9 324.5h0M85.7 325.3h0M85.7 327.8h0M86.1 331.2h0M85.8 328.1h0M85.5 329.4h0M85.5 334.0h0M85.9 324.3h0M86.2 333.4h0M85.5 329.5h0M85.8 331.5h0M86.1 327.2h0M85.9 328.2h0M85.9 327.6h0M86.2 324.6h0M86.2 325.5h0M85.5 330.4h0M86.7 336.5h0M86.4 326.5h0M86.3 326.0h0M86.4 318.1h0M86.5 327.0h0M86.9 323.3h0M86.3 330.9h0M86.7 331.4h0M86.4 322.2h0M86.6 329.6h0M86.7 322.0h0M86.3 329.5h0M86.5 317.9h0M86.3 327.7h0M86.4 320.9h0M86.9 336.4h0M86.9 320.9h0M86.4 317.3h0M86.5 319.3h0M86.3 325.4h0M86.7 317.6h0M86.9 323.6h0M86.3 325.9h0M86.5 316.1h0M86.8 326.4h0M86.5 319.7h0M86.3 318.8h0M86.8 325.8h0M86.8 326.6h0M87.1 337.1h0M87.4 326.1h0M87.2 329.9h0M87.9 326.1h0M87.8 327.8h0M87.5 328.9h0M87.6 330.4h0M87.4 333.9h0M87.1 331.8h0M87.7 329.3h0M87.2 326.2h0M87.1 325.0h0M87.6 329.2h0M87.4 326.1h0M87.1 339.5h0M87.5 332.9h0M87.4 329.5h0M87.1 324.5h0M87.6 336.8h0M87.7 329.5h0M88.7 334.4h0M88.7 325.8h0M88.0 327.9h0M88.2 318.9h0M88.3 336.3h0M88.5 325.5h0M88.5 337.2h0M88.6 319.0h0M87.9 325.8h0M88.0 324.9h0M88.0 319.1h0M88.0 322.5h0M88.4 329.0h0M88.1 318.6h0M87.9 330.6h0M88.1 323.9h0M88.2 334.6h0M88.3 321.6h0M88.5 325.6h0M88.1 339.4h0M88.3 323.1h0M88.2 318.0h0M88.0 320.2h0M88.5 318.9h0M88.6 331.0h0M88.6 327.3h0M88.4 318.1h0M88.4 323.9h0M87.9 323.7h0M88.1 327.6h0M88.2 317.8h0M88.4 321.5h0M88.0 329.4h0M88.6 334.3h0M89.0 322.9h0M89.1 323.9h0M89.0 319.3h0M88.9 331.8h0M89.1 334.7h0M89.1 323.4h0M89.3 333.8h0M89.0 317.8h0M89.0 316.9h0M89.3 336.9h0M89.0 318.1h0M89.1 319.8h0M89.5 319.8h0M89.1 316.7h0M89.1 339.2h0M88.9 321.3h0M89.5 321.1h0M88.9 314.3h0M89.0 329.9h0M89.2 326.8h0M88.8 319.1h0M89.3 314.6h0M88.8 315.6h0M89.4 329.2h0M89.1 320.6h0M89.0 333.9h0M89.4 331.8h0M89.1 324.6h0M89.4 322.0h0M89.0 314.5h0M89.0 318.8h0M88.9 318.3h0M89.3 317.0h0M90.0 321.3h0M89.8 338.9h0M89.7 321.0h0M89.5 337.3h0M89.6 321.6h0M89.8 324.3h0M90.1 328.4h0M90.1 327.9h0M90.0 330.7h0M89.5 325.8h0M89.7 331.4h0M90.2 329.6h0M89.6 325.2h0M90.0 337.2h0M89.8 325.5h0M89.7 320.4h0M90.2 327.2h0M90.3 338.1h0M89.7 321.3h0M89.9 333.7h0M90.0 323.8h0M90.0 337.6h0M89.6 328.8h0M90.9 331.9h0M90.4 327.3h0M90.6 327.2h0M90.8 329.8h0M90.7 329.3h0M90.5 334.4h0M91.1 335.2h0M90.7 328.6h0M90.6 332.8h0M91.1 335.2h0M90.5 327.2h0M90.6 333.3h0M91.1 333.5h0M91.2 327.8h0M91.0 334.9h0M91.8 333.9h0M91.3 333.5h0M91.3 330.7h0M91.6 327.9h0M91.2 334.5h0M91.3 333.1h0M91.3 324.4h0M91.5 335.6h0M91.7 324.0h0M91.8 327.7h0M91.5 330.9h0M91.4 325.8h0M91.8 329.7h0M91.9 327.6h0M91.7 333.1h0M91.4 333.8h0M91.9 325.9h0M91.9 325.6h0M91.8 330.5h0M91.8 335.0h0M91.7 338.3h0M92.0 325.0h0M91.3 326.2h0M91.8 338.3h0M91.6 330.7h0M92.6 332.2h0M92.4 325.3h0M92.0 334.3h0M92.3 333.1h0M92.2 323.4h0M92.8 327.1h0M92.5 322.1h0M92.5 323.7h0M92.0 320.6h0M92.1 333.0h0M92.4 324.8h0M92.6 330.3h0M92.8 324.2h0M92.7 326.7h0M92.0 339.3h0M92.5 327.7h0M92.3 329.6h0M92.1 326.8h0M92.2 320.3h0M92.1 319.2h0M92.7 328.5h0M92.6 324.9h0M92.4 321.4h0M92.7 332.4h0M92.7 338.1h0M92.0 326.6h0M92.2 327.7h0M92.4 326.9h0M92.7 319.9h0M92.3 330.4h0M92.5 332.5h0M92.3 322.8h0M92.0 322.0h0M92.6 328.4h0M93.0 325.4h0M93.3 332.3h0M93.5 328.0h0M92.9 330.7h0M93.2 324.1h0M93.1 330.1h0M93.6 330.5h0M93.5 336.6h0M93.1 334.6h0M93.5 328.7h0M93.0 336.7h0M93.1 336.6h0M93.2 326.5h0M93.1 334.9h0M93.1 335.0h0M93.5 336.6h0M93.4 331.9h0M93.4 326.0h0M92.9 326.2h0M93.6 328.5h0M93.3 332.1h0M92.9 326.3h0M93.5 334.2h0M94.1 332.3h0M94.4 327.3h0M94.4 329.4h0M94.2 325.7h0M93.6 329.7h0M93.8 327.3h0M93.8 327.8h0M93.9 328.8h0M94.2 326.1h0M94.3 331.4h0M94.2 335.3h0M93.7 328.1h0M94.4 327.8h0M94.0 329.0h0M94.2 329.7h0M93.9 326.7h0M93.9 326.2h0M94.3 327.3h0M95.3 324.7h0M94.7 320.6h0M95.2 322.4h0M94.5 337.4h0M94.8 319.7h0M95.2 327.3h0M94.9 324.5h0M94.5 340.5h0M94.9 324.7h0M95.1 332.1h0M95.1 329.7h0M94.9 321.0h0M94.6 317.2h0M95.2 316.9h0M94.4 322.1h0M95.0 318.3h0M94.6 333.9h0M95.1 330.0h0M94.5 335.1h0M95.0 324.1h0M95.1 319.4h0M94.4 317.5h0M95.2 317.4h0M95.1 327.1h0M94.6 317.8h0M94.8 325.0h0M95.0 321.4h0M95.0 322.5h0M94.9 320.1h0M94.8 329.9h0M95.2 318.8h0M95.0 332.5h0M94.5 317.6h0M95.2 329.7h0M95.0 338.7h0M94.8 321.1h0M94.7 319.4h0M95.2 333.5h0M95.0 327.3h0M94.6 327.9h0M95.9 340.0h0M95.3 320.9h0M95.7 326.0h0M95.5 323.0h0M95.7 326.3h0M95.5 323.7h0M95.4 334.8h0M95.7 323.0h0M95.5 331.1h0M95.4 326.1h0M95.9 335.1h0M95.7 327.1h0M95.3 327.2h0M95.5 333.3h0M96.1 336.2h0M95.5 325.9h0M95.6 339.1h0M96.0 332.4h0M95.6 322.0h0M96.1 321.9h0M95.6 324.1h0M96.0 333.3h0M96.1 335.8h0M95.8 332.4h0M95.4 334.8h0M96.0 335.1h0M96.0 334.1h0M95.5 333.0h0M96.1 336.1h0M96.0 331.2h0M96.0 324.0h0M96.2 330.8h0M96.1 327.2h0M96.6 333.0h0M96.1 324.3h0M96.2 332.1h0M96.1 331.2h0M96.4 329.0h0M96.3 333.4h0M96.7 332.9h0M96.4 329.6h0M96.3 326.6h0M96.1 332.1h0M96.4 333.2h0M96.8 331.6h0M96.4 329.9h0M96.8 334.0h0M96.8 324.2h0M96.3 334.9h0M96.7 332.3h0M96.3 337.2h0M96.6 324.3h0M96.8 328.3h0M97.4 322.1h0M97.5 325.3h0M97.5 335.3h0M97.1 337.1h0M97.7 321.6h0M97.4 334.6h0M97.0 329.0h0M97.2 333.6h0M97.0 326.0h0M97.5 337.2h0M97.2 331.5h0M97.3 326.6h0M97.2 323.2h0M97.2 331.5h0M97.5 323.5h0M97.6 334.2h0M97.1 328.7h0M97.7 326.4h0M97.4 331.0h0M97.7 333.9h0M97.4 325.6h0M97.6 323.8h0M97.2 332.1h0M97.7 327.4h0M97.1 335.0h0M97.6 323.4h0M97.4 330.0h0M97.4 321.8h0M97.4 324.2h0M97.6 324.6h0M97.3 334.0h0M98.5 333.7h0M97.8 323.9h0M98.4 336.1h0M98.2 330.8h0M98.5 328.8h0M97.8 321.6h0M98.0 327.6h0M97.8 329.4h0M97.8 331.0h0M98.2 330.1h0M98.3 319.9h0M98.2 338.2h0M98.5 332.4h0M98.0 325.7h0M98.2 329.2h0M98.1 324.0h0M98.1 330.4h0M98.1 328.3h0M98.0 324.4h0M98.1 327.8h0M98.3 321.2h0M98.3 329.2h0M98.5 335.1h0M98.4 327.6h0M98.0 320.7h0M98.3 318.9h0M98.4 334.8h0M98.1 321.8h0M97.8 325.4h0M98.5 331.4h0M97.8 330.3h0M98.0 330.4h0M98.1 320.9h0M98.1 324.6h0M99.3 332.9h0M99.3 333.0h0M99.1 329.1h0M98.6 337.8h0M98.9 336.5h0M98.8 335.2h0M98.8 331.4h0M98.8 333.0h0M98.9 328.8h0M98.6 325.7h0M98.9 326.4h0M98.5 338.2h0M98.6 326.5h0M98.9 327.2h0M99.1 337.4h0M99.7 325.6h0M99.4 323.6h0M99.8 331.0h0M99.9 332.5h0M99.9 330.2h0M99.8 334.2h0M99.5 324.3h0M99.8 330.1h0M100.0 323.7h0M99.5 322.8h0M99.4 327.4h0M99.6 333.0h0M99.8 327.5h0M99.7 326.1h0M100.1 334.7h0M99.6 327.4h0M99.7 331.8h0M99.8 326.3h0M100.1 323.4h0M100.0 331.3h0M100.1 326.1h0M100.4 328.3h0M100.7 326.0h0M100.7 325.2h0M100.2 338.7h0M100.3 329.6h0M100.5 337.4h0M100.3 329.5h0M100.5 327.5h0M100.6 326.3h0M100.8 330.5h0M100.5 334.6h0M100.4 332.4h0M100.5 335.3h0M100.6 336.7h0M100.9 329.8h0M100.3 332.8h0M100.4 335.7h0M100.6 335.2h0M100.3 328.1h0M100.5 328.4h0M100.6 330.4h0M100.4 331.4h0M100.6 332.6h0M100.9 334.1h0M100.4 332.6h0M101.5 328.4h0M101.5 320.4h0M101.2 322.9h0M101.6 327.8h0M101.1 323.9h0M101.2 328.3h0M101.4 318.4h0M101.1 336.1h0M101.4 318.7h0M101.0 323.3h0M101.0 324.8h0M101.1 323.0h0M101.3 323.1h0M101.2 336.0h0M101.1 330.3h0M101.1 332.2h0M101.4 326.9h0M101.7 325.8h0M101.4 322.2h0M101.7 324.3h0M101.0 326.5h0M101.0 323.9h0M101.1 325.0h0M101.1 320.0h0M101.1 323.0h0M101.6 330.3h0M101.5 329.1h0M101.2 330.7h0M101.0 322.8h0M101.1 332.2h0M101.1 320.7h0M101.4 326.3h0M101.5 320.7h0M101.5 325.5h0M101.3 325.4h0M102.2 317.9h0M101.9 336.2h0M102.5 317.1h0M101.9 338.3h0M101.8 323.2h0M101.9 323.5h0M102.4 338.9h0M102.5 330.1h0M102.3 327.7h0M102.1 326.6h0M101.8 326.1h0M102.0 327.6h0M102.0 328.1h0M102.4 316.5h0M102.0 318.3h0M102.3 334.7h0M101.8 318.0h0M102.0 334.5h0M102.4 320.9h0M102.6 324.6h0M102.1 328.5h0M102.0 322.1h0M102.6 335.3h0M102.1 327.7h0M101.9 322.9h0M102.6 329.5h0M102.4 317.8h0M102.0 317.5h0M102.4 321.9h0M102.0 329.5h0M101.9 317.8h0M102.5 335.2h0M102.3 331.2h0M103.4 323.2h0M102.7 329.0h0M103.1 320.6h0M102.9 333.0h0M102.9 331.6h0M102.8 329.6h0M102.8 326.6h0M103.4 320.1h0M102.8 325.6h0M103.2 334.0h0M103.1 332.7h0M102.9 330.0h0M103.3 331.9h0M103.1 325.3h0M102.9 320.4h0M102.9 330.0h0M103.2 327.0h0M103.2 334.0h0M102.8 323.1h0M103.0 321.4h0M102.8 331.8h0M103.3 329.3h0M102.7 332.2h0M103.3 331.2h0M103.1 321.7h0M103.1 322.8h0M103.4 330.5h0M103.4 325.9h0M102.8 334.5h0M104.1 329.6h0M103.5 326.1h0M103.9 331.1h0M103.6 330.7h0M104.2 329.3h0M103.8 329.0h0M103.9 328.8h0M103.6 335.8h0M103.5 326.5h0M103.5 333.8h0M103.9 330.3h0M104.2 334.5h0M103.6 335.5h0M103.9 333.2h0M103.8 328.1h0M103.7 328.3h0M103.5 329.7h0M104.7 319.5h0M104.5 330.4h0M104.6 326.5h0M105.0 327.6h0M104.3 323.4h0M104.5 320.8h0M104.5 330.5h0M104.4 330.3h0M104.8 331.1h0M104.3 325.2h0M104.9 335.2h0M104.6 336.6h0M104.3 328.9h0M104.5 320.9h0M104.3 324.3h0M104.9 328.1h0M104.7 331.6h0M104.5 337.2h0M105.0 338.3h0M104.4 323.1h0M104.7 326.4h0M104.5 333.7h0M104.9 334.7h0M104.5 322.7h0M104.5 319.9h0M104.4 326.2h0M104.7 326.6h0M104.9 337.5h0M104.7 322.1h0M104.3 325.9h0M104.6 328.3h0M104.7 324.6h0M104.9 320.6h0M104.8 319.3h0M105.2 337.1h0M105.3 335.7h0M105.7 326.1h0M105.6 330.5h0M105.5 332.7h0M105.9 339.4h0M105.4 327.7h0M105.2 324.1h0M105.5 330.7h0M105.2 332.3h0M105.6 332.3h0M105.1 327.6h0M105.3 324.2h0M105.7 325.7h0M105.8 324.6h0M105.4 327.7h0M105.3 333.8h0M105.3 336.0h0M105.3 333.4h0M105.7 332.8h0M105.1 329.9h0M106.1 331.5h0M106.1 332.3h0M106.6 334.4h0M106.4 332.8h0M106.0 339.6h0M106.6 333.9h0M106.5 333.1h0M106.6 335.9h0M106.3 331.6h0M106.6 339.3h0M106.2 332.4h0M106.4 336.8h0M106.4 330.2h0M106.5 335.5h0M106.3 334.5h0M106.2 333.7h0M106.7 339.9h0M106.7 339.2h0M106.0 335.7h0M107.4 327.8h0M107.1 339.8h0M107.3 328.1h0M106.8 328.7h0M106.7 329.6h0M107.1 328.0h0M107.5 338.7h0M107.1 335.1h0M107.1 338.2h0M107.0 332.9h0M106.7 332.2h0M107.5 338.4h0M107.5 332.0h0M106.9 327.5h0M107.1 332.6h0M107.0 328.2h0M106.8 335.5h0M107.0 338.3h0M107.4 332.0h0M107.2 328.2h0M107.1 334.6h0M107.8 334.5h0M107.9 328.1h0M107.7 325.5h0M107.8 333.8h0M107.7 332.1h0M107.9 328.7h0M108.3 334.2h0M108.2 333.3h0M107.9 336.4h0M108.3 332.4h0M108.1 339.2h0M108.1 334.6h0M107.9 328.7h0M107.7 330.4h0M108.2 335.7h0M107.9 335.3h0M107.7 330.9h0M107.9 329.1h0M108.3 328.4h0M107.8 330.9h0M108.9 330.3h0M108.5 326.1h0M108.6 331.5h0M109.1 334.6h0M109.1 334.3h0M108.5 330.1h0M109.0 331.6h0M109.1 331.7h0M109.0 336.6h0M108.6 336.3h0M109.0 330.7h0M108.9 334.1h0M109.0 324.9h0M108.4 332.8h0M109.1 326.3h0M109.1 334.3h0M108.8 337.2h0M108.7 329.3h0M108.6 331.3h0M108.7 337.2h0M108.4 327.0h0M108.4 324.9h0M109.1 324.9h0M109.0 340.5h0M109.3 338.9h0M110.0 330.7h0M109.8 336.2h0M109.9 331.4h0M109.5 337.8h0M109.3 334.6h0M109.9 338.6h0M109.6 335.1h0M109.9 337.4h0M109.7 335.4h0M109.7 331.3h0M109.9 331.2h0M110.1 335.6h0M110.1 330.5h0M110.1 336.4h0M110.7 330.6h0M110.8 334.1h0M110.1 330.3h0M110.3 330.5h0M110.0 339.3h0M110.5 331.3h0M110.5 332.6h0M110.5 337.3h0M110.1 334.5h0M110.5 335.7h0M111.2 335.9h0M111.6 330.3h0M110.9 333.8h0M111.0 335.2h0M110.9 338.5h0M110.9 337.7h0M111.4 338.5h0M111.6 331.3h0M111.1 332.1h0M111.6 337.9h0M111.3 334.0h0M111.1 335.7h0M110.9 332.4h0M111.0 334.4h0M111.9 324.7h0M112.1 328.8h0M111.8 327.9h0M112.0 329.2h0M112.0 337.2h0M112.4 327.3h0M112.4 332.6h0M111.9 335.8h0M111.9 332.3h0M111.8 333.3h0M111.9 325.5h0M112.0 325.9h0M111.7 334.7h0M112.4 338.1h0M111.7 329.5h0M111.9 334.6h0M112.2 328.3h0M111.8 329.2h0M112.0 325.6h0M111.7 333.8h0M113.2 327.4h0M112.7 329.1h0M112.7 327.6h0M112.7 340.3h0M112.5 332.3h0M112.5 327.3h0M113.0 331.1h0M113.0 332.7h0M113.2 329.7h0M112.8 334.4h0M112.6 334.0h0M112.8 337.9h0M113.2 334.8h0M113.8 330.6h0M113.4 327.7h0M113.4 334.9h0M113.9 333.9h0M114.0 335.2h0M113.6 330.2h0M114.0 328.5h0M113.5 331.7h0M113.6 330.3h0M113.5 328.9h0M113.9 336.2h0M113.6 333.9h0M114.1 332.5h0M114.4 327.6h0M114.4 339.9h0M114.2 329.8h0M114.4 328.5h0M114.6 329.9h0M114.4 330.9h0M114.7 333.2h0M114.5 328.5h0M114.9 333.6h0M114.2 328.5h0M114.5 327.4h0M114.7 333.3h0M114.8 331.3h0M114.7 328.1h0M114.6 327.6h0M114.4 333.2h0M114.6 332.9h0M114.7 331.5h0M114.7 328.6h0M114.6 327.8h0M114.8 328.3h0M114.1 339.8h0M115.7 333.1h0M115.5 335.0h0M115.5 328.0h0M115.6 333.4h0M115.3 331.5h0M115.2 332.0h0M115.7 328.2h0M115.2 330.0h0M115.7 333.4h0M115.6 328.9h0M115.7 337.8h0M115.7 327.3h0M115.1 330.5h0M115.0 330.8h0M115.5 329.4h0M115.6 334.3h0M115.8 336.9h0M116.0 332.7h0M116.1 332.3h0M116.3 332.2h0M116.4 332.0h0M116.0 335.7h0M116.3 334.0h0M116.4 332.4h0M116.0 338.2h0M116.4 333.2h0M116.0 339.2h0M115.8 336.7h0M116.0 337.2h0M115.8 337.6h0M116.7 334.1h0M117.3 330.6h0M116.9 337.7h0M116.8 332.1h0M116.9 332.9h0M117.2 332.2h0M117.3 338.3h0M116.8 339.4h0M117.0 332.5h0M116.8 338.9h0M117.0 337.1h0M118.2 335.5h0M118.0 335.4h0M117.7 337.9h0M117.6 332.4h0M117.8 336.2h0M118.2 331.8h0M117.6 334.9h0M117.9 337.5h0M117.8 336.3h0M118.1 338.5h0M118.2 336.7h0M117.7 338.8h0M118.3 330.6h0M118.5 329.7h0M118.5 326.1h0M118.4 327.4h0M118.4 329.2h0M118.6 330.6h0M118.6 329.5h0M118.3 338.1h0M119.0 334.3h0M118.5 334.5h0M118.7 325.9h0M118.6 333.2h0M118.5 339.2h0M118.3 338.4h0M118.5 325.9h0M118.3 330.3h0M118.4 338.8h0M118.9 336.5h0M118.3 327.5h0M118.4 335.1h0M119.0 335.2h0M118.9 333.4h0M118.7 333.4h0M119.8 337.1h0M119.6 337.5h0M119.3 338.7h0M119.6 331.9h0M119.7 331.5h0M119.4 337.0h0M119.0 334.2h0M119.8 334.1h0M119.5 330.5h0M119.7 331.8h0M119.5 336.3h0M119.7 334.4h0M119.6 336.4h0M119.8 337.2h0M119.7 330.7h0M119.2 330.9h0M119.6 332.8h0M120.1 334.6h0M120.4 332.4h0M120.4 335.4h0M120.1 332.1h0M120.7 336.7h0M120.2 336.1h0M120.7 340.0h0M120.6 332.1h0M120.1 332.7h0M120.2 333.0h0M120.2 331.1h0M120.2 331.8h0M121.5 336.1h0M121.4 328.4h0M121.4 331.5h0M121.2 328.8h0M121.0 329.6h0M121.3 329.3h0M121.0 331.1h0M120.8 338.3h0M120.8 330.3h0M121.0 328.9h0M120.7 336.5h0M121.4 333.4h0M120.9 330.0h0M120.9 328.4h0M120.9 329.3h0M121.7 329.5h0M121.7 333.5h0M122.0 332.5h0M122.1 331.3h0M121.7 340.2h0M122.1 332.1h0M122.0 333.0h0M122.3 335.1h0M122.2 336.8h0M122.1 329.3h0M121.6 330.7h0M121.7 338.7h0M121.9 331.2h0M121.7 329.3h0M121.5 335.5h0M121.8 334.3h0M121.7 339.7h0M121.7 335.5h0M122.1 334.2h0M122.6 336.3h0M122.5 328.0h0M122.7 334.0h0M122.5 328.2h0M122.9 329.8h0M123.0 335.0h0M122.9 338.1h0M122.9 333.9h0M122.9 335.3h0M122.6 330.1h0M123.1 333.7h0M122.5 337.0h0M122.9 328.0h0M122.3 333.6h0M122.5 327.5h0M122.4 338.1h0M122.9 327.1h0M123.5 331.3h0M123.9 329.0h0M123.2 332.1h0M123.8 331.1h0M123.7 327.0h0M123.9 328.2h0M123.6 333.9h0M123.3 336.1h0M123.7 328.8h0M123.8 327.5h0M123.4 333.6h0M123.3 331.1h0M123.9 328.9h0M123.5 336.2h0M124.6 333.9h0M124.3 330.3h0M124.7 334.6h0M124.3 338.2h0M124.0 334.6h0M124.6 329.3h0M124.4 332.3h0M124.2 328.4h0M124.4 337.9h0M124.5 326.3h0M124.0 326.3h0M124.0 333.7h0M124.8 326.5h0M124.1 328.9h0M124.5 332.5h0M124.6 329.8h0M124.1 331.4h0M124.5 329.9h0M124.4 328.7h0M124.1 338.7h0M124.0 329.9h0M124.3 327.7h0M124.8 337.0h0M125.2 330.3h0M125.3 335.4h0M125.3 335.1h0M125.2 338.1h0M125.2 333.7h0M125.3 332.9h0M125.2 331.5h0M124.9 331.4h0M125.3 331.9h0M125.1 338.3h0M125.5 330.9h0M125.6 333.8h0M125.5 330.5h0M125.2 330.3h0M125.7 332.5h0M126.0 329.7h0M126.1 327.6h0M126.3 337.2h0M125.9 327.5h0M126.2 339.7h0M126.1 336.7h0M126.0 326.5h0M125.7 328.0h0M126.0 326.6h0M126.3 338.1h0M126.1 327.7h0M125.8 329.2h0M125.8 335.3h0M127.2 336.3h0M126.8 333.8h0M127.0 330.2h0M126.9 330.9h0M126.5 332.4h0M126.6 330.9h0M126.9 337.6h0M127.1 333.5h0M126.8 338.5h0M127.2 333.6h0M127.1 338.6h0M127.0 334.8h0M127.9 329.1h0M127.4 329.6h0M127.3 340.1h0M127.5 335.1h0M127.9 332.1h0M127.6 330.1h0M128.0 331.4h0M127.8 329.6h0M127.5 328.5h0M127.4 339.0h0M127.9 336.6h0M127.5 332.6h0M127.3 333.5h0M127.5 338.1h0M127.7 333.2h0M127.4 330.2h0M127.6 339.5h0M128.1 333.8h0M128.3 338.6h0M128.3 335.8h0M128.2 329.1h0M128.2 339.4h0M128.2 333.7h0M128.2 330.0h0M128.8 327.6h0M128.4 328.0h0M128.7 329.5h0M128.7 332.6h0M128.7 330.8h0M128.7 328.5h0M128.1 327.5h0M128.1 331.9h0M128.5 327.6h0M128.1 329.2h0M128.3 338.7h0M128.9 331.0h0M128.9 336.3h0M129.2 338.8h0M129.6 330.2h0M129.6 336.8h0M129.6 335.2h0M129.1 332.2h0M128.9 340.4h0M129.6 335.1h0M129.5 334.4h0M129.0 333.9h0M129.0 338.5h0M128.9 334.6h0M129.1 335.2h0M129.7 331.2h0M130.3 329.9h0M130.1 335.1h0M129.9 332.8h0M129.9 328.2h0M130.1 330.1h0M130.4 330.7h0M129.8 334.0h0M130.5 338.7h0M129.9 330.7h0M130.4 328.8h0M130.3 329.9h0M130.0 338.3h0M130.2 338.1h0M130.4 336.9h0M129.7 327.3h0M130.6 331.3h0M130.5 333.2h0M131.2 336.2h0M130.5 339.6h0M130.6 332.7h0M131.0 331.8h0M131.0 333.8h0M130.7 337.0h0M131.3 331.5h0M130.9 332.5h0M131.1 336.4h0M130.7 332.8h0M131.3 331.3h0M131.6 338.7h0M132.1 335.4h0M132.0 336.1h0M132.1 333.7h0M132.0 332.7h0M132.0 338.6h0M131.4 334.9h0M132.1 330.4h0M131.9 332.8h0M131.4 330.3h0M131.9 332.6h0M132.7 329.3h0M132.8 337.3h0M132.8 327.1h0M132.7 335.8h0M132.9 337.2h0M132.3 327.6h0M132.6 333.3h0M132.8 329.6h0M132.3 334.8h0M132.8 328.0h0M132.2 331.0h0M132.7 333.4h0M132.2 332.2h0M132.9 328.8h0M132.3 327.7h0M132.7 333.9h0M133.3 335.2h0M133.2 331.3h0M133.6 334.1h0M133.8 332.7h0M133.8 331.6h0M133.5 332.5h0M133.6 332.1h0M133.7 335.4h0M133.3 336.4h0M133.7 331.1h0M133.3 334.9h0M134.4 331.7h0M134.3 334.6h0M134.4 332.1h0M134.5 335.9h0M134.2 331.8h0M134.2 332.6h0M134.2 332.4h0M133.9 340.7h0M133.9 335.2h0M134.1 331.7h0M134.6 338.1h0M134.5 334.6h0M134.5 335.7h0M134.4 340.5h0M134.2 336.0h0M135.0 334.1h0M135.1 332.3h0M135.3 330.8h0M135.2 336.3h0M135.1 334.6h0M134.8 335.6h0M134.8 333.8h0M134.7 333.8h0M135.0 340.4h0M134.8 330.8h0M135.1 338.9h0M135.1 332.5h0M135.6 334.4h0M136.1 336.9h0M135.6 338.0h0M135.9 339.0h0M135.9 332.6h0M136.1 333.5h0M135.4 335.2h0M135.6 334.6h0M135.6 338.1h0M136.2 332.1h0M135.5 332.5h0M137.1 332.3h0M136.6 333.7h0M136.6 332.8h0M136.5 337.4h0M136.4 334.1h0M136.7 332.5h0M136.4 333.0h0M137.0 333.4h0M136.4 338.0h0M136.3 336.3h0M137.4 338.7h0M137.6 337.4h0M137.7 330.4h0M137.2 329.6h0M137.4 331.4h0M137.5 334.5h0M137.4 328.8h0M137.8 328.2h0M137.5 328.0h0M137.2 327.0h0M137.1 327.7h0M137.7 332.9h0M137.7 327.2h0M137.2 330.1h0M138.0 334.2h0M137.9 336.0h0M138.6 336.7h0M138.7 335.5h0M138.0 332.7h0M138.0 334.7h0M138.7 332.7h0M138.4 337.5h0M138.3 336.8h0M138.2 336.6h0M138.1 339.7h0M138.5 340.3h0M139.3 331.8h0M139.1 330.0h0M139.2 329.0h0M139.2 329.2h0M139.4 330.6h0M139.0 332.7h0M138.8 330.5h0M139.2 329.7h0M138.8 337.2h0M139.2 330.4h0M138.8 339.3h0M139.0 334.3h0M138.8 337.8h0M138.9 339.9h0M138.8 339.5h0M140.1 332.6h0M139.9 336.8h0M139.6 336.8h0M140.3 331.0h0M140.0 332.6h0M140.2 331.0h0M139.7 331.1h0M140.1 335.7h0M139.8 337.0h0M140.0 329.9h0M140.2 337.1h0M139.6 335.7h0M139.7 337.4h0M140.1 335.3h0M140.0 335.3h0M140.3 332.7h0M140.6 335.0h0M140.6 334.7h0M140.6 336.1h0M140.5 331.6h0M140.5 336.5h0M140.7 338.3h0M140.5 335.4h0M140.8 334.4h0M140.7 333.4h0M141.0 336.6h0M140.6 333.7h0M140.7 332.4h0M140.4 334.3h0M140.6 337.2h0M141.8 327.4h0M142.0 336.8h0M141.3 337.5h0M141.4 326.9h0M141.7 336.1h0M141.3 328.4h0M141.7 340.5h0M141.7 335.4h0M141.4 337.2h0M142.0 331.6h0M141.7 335.2h0M141.5 329.5h0M141.8 326.9h0M141.4 334.6h0M141.5 333.6h0M141.9 332.7h0M142.5 334.9h0M142.0 331.6h0M142.1 330.7h0M142.2 336.0h0M142.4 330.3h0M142.3 333.7h0M142.3 337.9h0M142.2 330.3h0M142.8 336.0h0M142.8 340.0h0M142.6 339.7h0M142.3 334.3h0M142.4 330.1h0M142.3 339.9h0M142.9 339.2h0M143.0 331.8h0M143.2 338.0h0M143.4 335.7h0M143.3 331.7h0M143.4 334.5h0M143.6 334.7h0M143.2 332.5h0M143.6 333.3h0M143.1 335.5h0M142.8 337.0h0M143.5 334.9h0M143.5 333.6h0M144.0 331.0h0M144.0 334.2h0M144.3 338.3h0M144.4 328.6h0M144.3 332.9h0M144.0 333.6h0M144.0 335.8h0M144.3 329.2h0M144.1 329.4h0M143.9 329.4h0M144.4 331.0h0M144.4 330.5h0M144.2 332.8h0M143.7 337.3h0M144.3 336.4h0M144.2 336.7h0M144.3 328.6h0M144.1 339.1h0M144.2 332.8h0M144.7 326.8h0M145.1 326.9h0M144.9 329.2h0M145.2 329.4h0M144.5 336.1h0M144.5 336.9h0M144.5 332.5h0M145.0 327.4h0M144.8 336.0h0M145.2 326.8h0M145.3 339.3h0M144.9 329.7h0M144.9 335.5h0M145.2 330.7h0M144.5 333.1h0M145.9 335.5h0M145.6 334.3h0M145.4 328.1h0M145.6 329.3h0M146.0 334.4h0M145.3 331.5h0M145.5 328.2h0M145.4 329.6h0M145.3 334.6h0M145.4 328.4h0M145.8 330.2h0M145.3 334.1h0M146.0 330.6h0M145.9 331.8h0M145.4 327.8h0M146.6 338.5h0M146.7 332.4h0M146.4 333.9h0M146.5 338.7h0M146.2 335.3h0M146.1 337.1h0M146.4 333.0h0M146.5 337.3h0M146.7 331.8h0M146.6 332.6h0M146.3 331.5h0M147.5 331.3h0M147.4 332.8h0M147.5 330.3h0M147.4 338.4h0M147.1 328.3h0M147.3 331.2h0M147.0 331.8h0M147.4 330.1h0M147.7 332.9h0M147.2 336.7h0M147.2 333.1h0M147.7 332.4h0M147.5 330.3h0M148.2 339.4h0M147.9 333.7h0M148.3 338.3h0M147.8 333.2h0M148.1 336.6h0M148.3 334.2h0M148.6 338.7h0M148.4 335.5h0M147.9 335.3h0M148.6 334.0h0M149.1 337.2h0M148.8 333.5h0M148.9 336.3h0M149.3 334.9h0M149.0 334.5h0M148.6 335.9h0M149.2 334.2h0M149.3 336.6h0M149.5 338.1h0M149.5 336.9h0M149.7 333.9h0M150.0 330.6h0M149.8 331.6h0M149.8 335.0h0M149.8 331.8h0M150.2 330.3h0M149.4 331.8h0M149.5 331.9h0M150.1 331.3h0M149.5 333.8h0M149.5 331.6h0M150.5 330.9h0M150.4 327.8h0M151.0 339.2h0M150.7 329.7h0M150.4 339.1h0M150.2 329.8h0M150.2 333.2h0M150.9 338.6h0M150.8 332.6h0M150.5 332.1h0M150.5 328.4h0M150.7 333.2h0M150.3 331.8h0M151.0 328.1h0M150.3 333.5h0M150.6 332.9h0M150.3 335.9h0M150.6 329.7h0M150.8 330.1h0M150.8 340.1h0M151.2 333.3h0M151.3 333.9h0M151.0 328.6h0M151.8 330.9h0M151.2 332.6h0M151.8 331.0h0M151.6 330.1h0M151.8 330.5h0M151.1 332.0h0M151.8 337.0h0M151.1 338.7h0M151.1 336.4h0M151.7 331.0h0M151.6 331.5h0M151.3 329.3h0M151.2 333.6h0M152.5 324.9h0M152.3 330.4h0M152.3 320.6h0M152.2 322.0h0M152.3 325.9h0M152.3 334.0h0M152.0 333.0h0M152.3 323.3h0M152.4 332.1h0M152.1 333.8h0M152.4 327.6h0M152.1 331.7h0M152.6 326.4h0M152.7 329.5h0M152.0 322.5h0M152.6 333.3h0M152.5 324.6h0M152.6 319.2h0M152.2 319.3h0M152.0 327.1h0M152.2 331.2h0M152.2 322.0h0M151.9 326.4h0M152.3 332.4h0M152.4 331.1h0M152.3 324.9h0M152.5 319.3h0M152.6 326.1h0M152.1 331.3h0M152.5 321.9h0M152.5 320.8h0M152.3 319.9h0M153.3 319.1h0M153.3 313.9h0M153.0 317.2h0M152.9 322.6h0M153.4 313.2h0M153.4 317.1h0M153.4 314.7h0M153.2 328.8h0M152.7 317.0h0M153.3 317.6h0M153.1 319.0h0M153.2 321.6h0M153.2 329.4h0M153.1 319.6h0M153.1 328.4h0M152.8 319.1h0M152.8 316.4h0M152.8 316.8h0M153.0 314.4h0M152.8 331.6h0M153.2 316.8h0M152.9 323.0h0M153.2 327.4h0M153.0 320.9h0M152.9 332.0h0M153.4 332.9h0M153.5 315.5h0M153.0 315.2h0M152.7 321.0h0M152.9 327.2h0M153.4 336.9h0M153.4 334.8h0M153.2 327.6h0M153.1 314.0h0M153.3 333.9h0M152.9 322.6h0M153.2 339.6h0M153.4 315.5h0M153.4 330.1h0M153.9 329.7h0M153.5 330.5h0M154.0 319.4h0M153.8 316.2h0M153.9 323.4h0M153.8 325.8h0M153.8 317.8h0M153.8 330.1h0M153.8 316.1h0M154.0 334.2h0M153.8 324.5h0M153.5 315.5h0M154.2 334.3h0M153.9 328.0h0M153.7 329.0h0M153.5 320.1h0M153.8 319.9h0M154.1 322.3h0M153.8 332.9h0M154.0 320.4h0M154.1 333.0h0M153.5 316.9h0M154.0 334.6h0M154.1 336.3h0M154.0 322.7h0M154.1 334.6h0M154.2 315.9h0M154.3 318.8h0M153.7 315.3h0M154.0 319.6h0M154.0 330.8h0M154.2 320.9h0M153.7 326.4h0M153.6 325.2h0M154.3 326.3h0M153.8 318.1h0M153.5 333.6h0M154.1 333.3h0M154.0 317.9h0M153.9 335.2h0M155.1 320.8h0M154.9 321.9h0M154.6 321.6h0M154.3 325.6h0M155.0 330.9h0M154.8 319.6h0M154.4 317.2h0M154.5 315.5h0M154.6 321.5h0M155.1 317.8h0M154.7 331.2h0M154.8 322.0h0M154.4 326.3h0M155.1 323.2h0M154.4 320.9h0M154.7 316.3h0M154.7 338.0h0M154.4 331.8h0M155.1 326.8h0M154.6 315.3h0M154.5 321.4h0M155.1 316.3h0M154.4 324.4h0M154.5 319.9h0M154.5 331.7h0M154.5 333.2h0M154.9 328.8h0M154.6 328.9h0M154.6 328.1h0M154.6 319.8h0M154.4 320.2h0M154.6 334.6h0M154.4 316.5h0M154.3 328.9h0M155.3 327.5h0M155.8 332.8h0M155.9 332.7h0M155.6 315.7h0M155.6 321.3h0M155.5 328.0h0M155.9 323.8h0M155.6 319.6h0M155.9 328.3h0M155.2 313.3h0M155.5 318.4h0M155.6 315.5h0M155.8 317.1h0M155.1 314.5h0M155.2 314.1h0M155.1 315.7h0M155.6 337.6h0M155.7 319.7h0M155.2 313.7h0M155.6 322.4h0M155.9 329.6h0M155.3 313.4h0M155.3 314.8h0M155.3 314.9h0M155.5 318.9h0M155.6 324.1h0M155.5 318.2h0M155.2 313.0h0M155.8 329.4h0M155.3 324.1h0M156.2 316.1h0M156.1 317.3h0M156.6 333.5h0M156.4 319.7h0M156.7 326.8h0M156.3 313.0h0M156.0 313.7h0M156.2 325.6h0M156.8 324.4h0M156.1 329.6h0M156.5 318.8h0M156.1 321.9h0M156.2 314.8h0M156.2 319.2h0M156.7 328.6h0M156.7 322.1h0M156.5 327.6h0M156.5 317.0h0M156.4 314.4h0M156.3 338.6h0M156.7 320.2h0M156.4 319.6h0M156.0 327.2h0M156.0 318.5h0M156.6 318.3h0M156.6 325.9h0M156.0 323.9h0M156.1 326.7h0M156.1 330.5h0M156.5 319.6h0M156.6 312.2h0M156.1 313.0h0M156.6 320.4h0M156.7 321.5h0M156.0 332.6h0M156.2 317.6h0M156.4 317.8h0M156.0 328.3h0M157.1 329.7h0M157.0 317.2h0M157.3 328.8h0M157.5 336.6h0M157.0 323.9h0M157.4 321.0h0M157.3 313.8h0M157.1 330.9h0M157.1 321.1h0M156.9 336.9h0M157.4 313.1h0M157.5 325.4h0M157.1 315.9h0M157.6 325.9h0M157.5 318.4h0M156.9 323.6h0M156.8 324.6h0M157.2 316.5h0M157.0 319.3h0M157.3 321.9h0M157.3 323.4h0M157.3 323.3h0M157.5 333.3h0M157.5 317.5h0M156.8 318.0h0M157.1 322.3h0M157.2 317.7h0M157.2 319.6h0M156.9 335.2h0M157.3 313.1h0M156.8 314.5h0M157.1 319.2h0M157.0 318.5h0M157.1 316.5h0M157.0 326.5h0M157.3 333.7h0M157.6 320.2h0M157.6 331.0h0M157.3 330.2h0M158.0 322.9h0M158.0 331.3h0M158.1 329.3h0M157.8 318.8h0M158.1 319.8h0M158.3 317.6h0M157.8 315.7h0M158.0 322.9h0M157.8 326.4h0M158.0 337.6h0M158.2 327.3h0M158.1 319.7h0M158.1 335.5h0M158.0 327.2h0M158.2 320.0h0M158.0 319.7h0M157.7 318.2h0M158.4 316.9h0M158.2 326.0h0M158.3 322.8h0M157.8 323.2h0M158.3 320.6h0M158.3 337.5h0M158.4 316.5h0M158.0 316.5h0M157.7 326.9h0M157.7 320.8h0M158.3 316.4h0M157.6 319.1h0M158.0 330.6h0M158.3 323.4h0M157.6 326.7h0M158.6 319.9h0M158.5 313.7h0M158.4 312.7h0M158.9 316.7h0M158.9 321.8h0M158.8 329.7h0M158.6 333.9h0M158.6 318.6h0M158.9 320.4h0M158.8 313.1h0M159.1 328.0h0M158.9 312.7h0M158.6 317.7h0M158.9 318.3h0M158.9 316.9h0M158.7 313.3h0M158.9 325.9h0M158.9 318.0h0M159.2 319.0h0M158.8 325.5h0M158.7 327.3h0M158.9 314.6h0M158.9 329.9h0M158.4 314.3h0M158.6 317.9h0M159.2 313.2h0M158.9 313.7h0M158.7 313.2h0M159.0 334.6h0M159.1 331.3h0M159.2 336.2h0M159.0 331.6h0M158.8 325.0h0M159.1 327.7h0M159.0 313.2h0M158.5 317.4h0M158.5 316.2h0M159.1 332.1h0M159.1 323.4h0M158.7 312.8h0M158.7 329.6h0M158.7 313.8h0M159.2 323.0h0M158.8 319.8h0M159.9 311.8h0M159.6 322.9h0M160.0 323.6h0M159.5 313.9h0M159.6 318.1h0M159.5 317.4h0M159.5 315.3h0M159.6 312.7h0M159.7 313.9h0M159.6 317.6h0M159.4 319.4h0M159.8 329.9h0M159.7 312.7h0M159.4 321.6h0M159.9 323.2h0M159.2 320.8h0M159.6 312.6h0M159.8 315.5h0M159.5 313.2h0M159.9 333.9h0M159.8 313.0h0M159.8 311.8h0M159.4 319.4h0M159.7 326.7h0M159.9 323.0h0M159.8 315.3h0M159.8 333.4h0M159.3 314.6h0M160.1 322.0h0M160.2 313.4h0M160.2 313.2h0M160.6 320.7h0M160.6 317.9h0M160.3 322.2h0M160.1 336.3h0M160.8 314.9h0M160.7 333.5h0M160.6 317.4h0M160.4 324.9h0M160.6 339.1h0M160.4 328.2h0M160.4 320.8h0M160.4 314.4h0M160.8 316.6h0M160.7 322.0h0M160.3 315.5h0M160.1 319.9h0M160.6 333.3h0M160.2 318.3h0M160.7 324.6h0M160.5 317.6h0M160.5 322.8h0M160.6 317.5h0M160.7 320.6h0M160.6 330.1h0M160.2 315.6h0M160.2 323.4h0M160.8 331.8h0M161.4 315.3h0M161.5 316.0h0M161.3 320.8h0M161.0 332.9h0M161.5 336.0h0M161.6 330.4h0M161.5 323.1h0M161.4 316.4h0M161.1 315.1h0M161.5 320.0h0M161.3 324.6h0M161.7 324.5h0M161.1 320.5h0M161.6 313.3h0M161.3 324.4h0M161.5 320.5h0M161.5 315.0h0M161.4 312.5h0M161.4 312.4h0M161.4 329.3h0M161.4 316.2h0M161.2 331.0h0M161.1 316.0h0M161.0 338.9h0M161.6 312.5h0M161.6 315.6h0M161.5 320.7h0M161.4 316.6h0M161.1 329.7h0M161.4 319.5h0M161.7 323.9h0M161.2 332.7h0M162.2 315.9h0M161.8 332.4h0M162.2 328.5h0M161.7 317.1h0M161.8 325.4h0M162.3 318.9h0M162.5 322.3h0M161.8 335.3h0M162.2 323.4h0M161.9 332.2h0M162.0 328.8h0M162.0 327.3h0M162.3 324.9h0M162.4 324.0h0M161.9 316.6h0M162.2 317.9h0M161.9 315.8h0M162.2 326.7h0M161.9 334.5h0M161.7 331.3h0M161.9 323.5h0M162.0 336.9h0M161.8 338.6h0M161.7 328.6h0M162.2 332.6h0M162.4 315.6h0M162.2 336.8h0M163.3 314.7h0M163.1 316.2h0M162.6 323.3h0M162.9 330.3h0M163.0 322.2h0M163.3 335.7h0M162.7 331.7h0M162.7 327.6h0M162.8 315.1h0M162.8 323.8h0M162.6 330.2h0M162.7 322.0h0M162.7 328.6h0M162.9 338.7h0M163.2 336.4h0M162.8 314.6h0M162.6 336.8h0M162.9 320.8h0M162.8 330.2h0M163.1 321.6h0M162.8 321.1h0M163.2 323.1h0M162.8 321.1h0M162.9 334.3h0M163.2 333.3h0M163.1 324.9h0M163.1 323.0h0M163.2 324.1h0M162.7 318.3h0M163.2 323.4h0M163.3 319.4h0M163.3 331.0h0M163.3 318.3h0M163.3 326.8h0M163.9 327.4h0M163.6 313.4h0M163.9 336.0h0M163.5 320.9h0M163.5 322.9h0M163.9 334.5h0M163.5 314.5h0M163.4 333.3h0M164.0 318.4h0M163.7 314.9h0M163.5 339.6h0M164.0 319.2h0M163.6 320.4h0M163.4 326.7h0M163.8 315.2h0M163.6 335.6h0M163.4 326.9h0M163.8 317.8h0M163.9 314.6h0M163.9 318.5h0M163.8 318.6h0M163.9 312.8h0M163.5 319.1h0M163.4 329.9h0M164.1 324.4h0M163.8 329.7h0M163.7 337.8h0M163.8 313.2h0M163.9 318.6h0M163.8 326.5h0M164.0 324.8h0M163.6 321.1h0M164.1 317.3h0M163.9 332.6h0M164.0 323.9h0M163.8 320.8h0M164.0 337.3h0M163.4 327.6h0M163.5 318.3h0M163.4 334.1h0M163.8 335.3h0M164.0 326.3h0M163.6 320.0h0M164.1 327.6h0M163.5 325.3h0M164.3 337.3h0M164.4 325.9h0M164.8 317.3h0M164.8 324.0h0M164.5 312.3h0M164.2 337.9h0M164.2 314.6h0M164.6 317.0h0M164.7 314.7h0M164.6 325.7h0M164.2 323.5h0M164.3 312.5h0M164.8 326.9h0M164.6 322.0h0M164.6 312.2h0M164.4 318.7h0M164.6 312.0h0M164.3 318.0h0M164.2 320.3h0M164.9 316.5h0M164.2 311.5h0M164.6 319.5h0M164.9 319.4h0M164.3 323.0h0M164.8 323.9h0M164.3 324.0h0M164.2 333.4h0M164.2 321.1h0M164.4 330.3h0M164.7 318.8h0M164.8 331.0h0M164.6 327.6h0M164.5 322.6h0M164.6 319.7h0M164.9 318.5h0M164.4 315.0h0M164.3 315.4h0M164.6 327.7h0M164.8 332.8h0M164.2 327.3h0M164.6 318.4h0M164.4 319.5h0M164.9 311.2h0M164.7 326.4h0M164.5 314.8h0M164.9 312.1h0M164.5 325.4h0M165.7 321.5h0M165.3 319.4h0M165.3 321.3h0M165.1 334.0h0M165.3 328.4h0M165.1 314.1h0M165.5 325.4h0M165.8 333.7h0M165.2 315.4h0M165.8 317.0h0M165.1 321.4h0M165.0 335.7h0M165.7 340.2h0M165.0 333.8h0M165.5 320.1h0M165.1 324.8h0M165.7 330.1h0M165.0 319.8h0M165.0 321.6h0M165.2 337.4h0M165.5 317.8h0M165.2 331.8h0M165.8 329.1h0M165.2 325.9h0M165.2 329.1h0M165.7 334.8h0M165.6 322.1h0M165.0 332.1h0M165.5 321.5h0M165.2 327.8h0M165.7 318.1h0M165.5 314.7h0M165.1 326.8h0M165.6 324.1h0M165.3 316.7h0M165.8 315.4h0M165.6 324.0h0M165.5 329.7h0M165.2 330.3h0M165.5 314.3h0M165.6 328.5h0M166.5 322.0h0M166.0 327.0h0M165.8 325.0h0M166.1 322.6h0M166.3 313.0h0M166.5 320.0h0M166.1 330.8h0M166.3 335.3h0M165.8 318.5h0M165.9 314.4h0M166.3 321.1h0M166.5 332.2h0M166.0 321.5h0M166.6 334.5h0M166.3 313.1h0M165.9 317.2h0M166.3 325.1h0M166.2 312.9h0M166.2 322.7h0M166.2 337.2h0M166.4 336.0h0M166.6 312.2h0M166.5 313.6h0M166.3 326.6h0M166.3 317.8h0M165.9 315.8h0M166.0 321.3h0M166.0 327.2h0M166.5 315.9h0M165.8 315.9h0M166.5 317.2h0M166.3 327.8h0M166.4 324.6h0M166.5 317.2h0M166.0 313.8h0M166.8 338.7h0M167.2 334.0h0M166.8 316.0h0M166.9 326.8h0M166.7 335.9h0M167.1 331.8h0M167.4 337.6h0M166.9 330.1h0M167.3 315.8h0M166.7 335.6h0M166.7 316.0h0M167.2 318.2h0M167.0 322.1h0M167.1 333.0h0M167.3 315.2h0M167.2 328.4h0M166.8 311.4h0M167.4 315.8h0M167.2 322.2h0M167.3 317.0h0M167.0 317.2h0M166.7 323.8h0M167.3 321.7h0M167.1 319.8h0M167.4 329.5h0M167.2 322.4h0M166.8 336.0h0M167.1 330.1h0M167.1 322.9h0M166.9 313.1h0M166.7 319.8h0M166.9 331.3h0M166.9 313.5h0M167.6 322.9h0M167.9 335.4h0M168.1 326.0h0M167.6 330.5h0M168.2 315.1h0M167.8 328.7h0M168.0 336.3h0M168.1 339.7h0M167.5 327.0h0M167.8 339.8h0M167.7 314.4h0M168.1 336.0h0M168.1 324.0h0M168.2 327.4h0M167.7 319.7h0M167.8 328.5h0M167.9 320.5h0M167.7 317.1h0M168.0 318.3h0M168.0 329.8h0M168.0 331.5h0M167.5 323.2h0M167.6 333.1h0M167.9 314.6h0M167.5 324.5h0M167.5 322.4h0M167.9 323.5h0M167.5 319.3h0M167.8 321.7h0M168.0 315.7h0M167.8 315.6h0M167.6 324.3h0M167.6 326.1h0M168.2 314.6h0M167.8 328.5h0M167.7 315.8h0M167.8 330.8h0M168.1 323.0h0M168.9 338.7h0M169.0 323.5h0M168.4 314.6h0M168.6 318.7h0M168.9 330.5h0M169.0 321.2h0M168.3 321.7h0M168.3 313.4h0M168.8 325.3h0M168.9 316.6h0M168.8 329.2h0M168.3 315.5h0M169.0 326.2h0M168.6 324.7h0M168.5 314.1h0M168.7 318.2h0M168.7 334.3h0M168.3 332.1h0M168.6 319.8h0M169.1 314.7h0M168.8 325.2h0M168.5 318.5h0M168.5 317.2h0M168.8 333.1h0M168.9 334.2h0M168.5 313.5h0M168.8 315.5h0M169.0 328.4h0M168.9 325.5h0M168.3 333.6h0M168.3 319.8h0M168.8 315.7h0M168.5 317.2h0M168.5 327.0h0M168.8 325.0h0M169.1 326.9h0M168.4 315.1h0M169.0 331.5h0M168.5 322.3h0M168.3 325.5h0M168.9 317.1h0M168.4 327.3h0M168.5 318.7h0M168.3 313.3h0M169.6 315.6h0M169.6 317.1h0M169.5 330.3h0M169.4 321.5h0M169.5 318.3h0M169.5 326.2h0M169.5 323.2h0M169.1 327.5h0M169.5 319.6h0M169.4 319.0h0M169.5 326.5h0M169.3 318.1h0M169.8 319.3h0M169.2 319.7h0M169.5 316.0h0M169.1 318.5h0M169.4 317.1h0M169.6 339.5h0M169.6 323.0h0M169.3 333.5h0M169.4 322.4h0M169.5 338.6h0M169.2 320.1h0M169.5 319.0h0M169.4 329.3h0M169.7 330.4h0M169.1 326.5h0M169.4 330.7h0M169.8 330.0h0M169.2 320.5h0M169.2 328.7h0M169.4 328.9h0M169.6 332.9h0M169.6 333.7h0M170.5 313.3h0M170.3 331.5h0M170.2 316.4h0M170.0 318.6h0M170.1 313.9h0M170.2 326.5h0M170.1 321.2h0M170.7 321.2h0M170.5 321.6h0M169.9 320.2h0M170.4 320.0h0M170.1 328.0h0M170.1 337.4h0M170.0 327.4h0M170.3 314.0h0M170.5 321.7h0M170.5 323.4h0M169.9 318.2h0M170.5 318.8h0M170.6 316.3h0M170.6 336.4h0M170.7 320.2h0M170.4 319.7h0M170.1 327.0h0M170.6 319.9h0M170.7 329.8h0M170.4 319.9h0M169.9 319.4h0M170.2 323.7h0M170.0 320.1h0M170.4 314.3h0M170.6 312.8h0M170.7 317.9h0M170.1 321.2h0M169.9 320.7h0M170.1 321.3h0M170.5 335.6h0M170.6 336.9h0M170.3 329.5h0M169.9 322.6h0M170.1 334.6h0M170.6 328.6h0M170.6 319.8h0M170.2 335.6h0M170.6 333.4h0M170.5 321.5h0M171.0 338.5h0M171.3 318.4h0M170.8 322.4h0M170.8 318.3h0M170.9 331.2h0M170.9 313.6h0M171.4 324.8h0M171.4 325.8h0M170.9 314.9h0M170.7 316.8h0M171.5 334.6h0M171.4 317.0h0M170.7 323.8h0M170.9 325.3h0M171.0 325.0h0M170.7 328.2h0M170.9 319.5h0M171.3 317.5h0M171.2 315.0h0M171.2 327.1h0M170.7 318.0h0M171.2 331.5h0M171.1 314.1h0M171.2 327.2h0M171.4 325.0h0M170.7 334.8h0M171.5 334.2h0M171.3 337.5h0M171.8 334.4h0M171.8 317.6h0M172.0 332.7h0M172.2 315.6h0M171.9 326.0h0M171.5 335.3h0M171.8 333.5h0M172.3 319.8h0M171.8 321.0h0M171.7 314.8h0M171.9 318.7h0M171.7 323.3h0M172.1 325.3h0M171.6 323.4h0M172.2 323.6h0M172.3 321.5h0M172.2 337.4h0M172.0 322.5h0M171.8 315.1h0M171.6 323.1h0M171.8 314.1h0M172.2 330.4h0M171.6 338.0h0M171.7 314.6h0M172.2 316.9h0M171.8 323.2h0M172.0 316.7h0M171.5 331.0h0M172.0 332.4h0M172.3 336.6h0M172.3 330.0h0M172.9 315.0h0M172.7 316.3h0M173.1 314.9h0M172.6 324.1h0M172.4 326.1h0M172.6 333.4h0M173.0 328.7h0M172.4 333.7h0M172.4 318.7h0M172.8 323.1h0M172.7 315.3h0M172.6 324.1h0M172.9 315.8h0M173.0 316.6h0M172.5 315.6h0M173.0 327.4h0M173.0 315.4h0M172.9 319.0h0M173.0 316.6h0M173.0 335.2h0M172.5 333.5h0M172.7 335.8h0M172.8 315.9h0M173.1 337.2h0M172.9 332.7h0M173.0 337.6h0M172.4 327.6h0M172.3 320.4h0M172.5 319.4h0M173.1 324.2h0M172.7 314.7h0M172.6 316.5h0M172.9 339.3h0M173.2 316.6h0M173.9 318.3h0M173.8 321.3h0M173.8 324.0h0M173.5 319.3h0M173.5 327.7h0M173.4 324.7h0M173.5 318.4h0M173.8 317.6h0M173.9 326.4h0M173.5 316.9h0M173.3 319.3h0M173.6 320.0h0M173.7 319.9h0M173.4 338.1h0M173.9 315.9h0M173.6 320.1h0M173.2 324.2h0M173.6 319.4h0M173.3 334.5h0M173.9 316.7h0M173.3 317.2h0M173.8 331.3h0M173.8 325.9h0M173.4 332.0h0M173.6 321.0h0M173.6 334.2h0M173.8 327.5h0M173.4 320.5h0M173.3 315.7h0M173.7 317.8h0M173.4 324.9h0M173.4 329.3h0M173.5 317.8h0M173.6 317.0h0M173.3 328.2h0M173.2 315.6h0M173.2 322.4h0M173.7 330.6h0M174.2 331.7h0M174.5 320.7h0M174.5 318.4h0M174.8 315.2h0M174.2 315.6h0M174.3 311.3h0M174.4 338.9h0M174.7 327.0h0M174.7 318.5h0M174.6 315.8h0M174.7 313.9h0M174.5 325.5h0M174.4 326.9h0M174.3 322.0h0M174.3 326.6h0M174.2 326.0h0M174.1 319.1h0M174.1 327.9h0M174.1 316.5h0M174.2 333.4h0M174.7 322.6h0M174.6 325.7h0M174.3 319.7h0M174.0 311.2h0M174.1 312.4h0M174.5 315.3h0M174.2 312.8h0M174.4 323.2h0M174.1 330.5h0M174.7 311.4h0M174.3 316.1h0M174.6 321.2h0M174.4 319.8h0M174.3 315.7h0M174.3 320.9h0M174.1 311.3h0M174.0 316.3h0M174.5 325.0h0M174.8 336.8h0M174.2 325.2h0M174.5 319.0h0M174.6 313.4h0M174.0 319.6h0M174.3 316.8h0M174.4 324.9h0M174.0 326.0h0M174.3 325.2h0M174.3 317.6h0M174.3 313.6h0M175.2 315.7h0M175.3 314.6h0M174.8 314.8h0M175.0 315.8h0M174.8 316.5h0M175.3 319.5h0M175.1 325.7h0M174.9 332.6h0M175.3 326.8h0M174.8 331.7h0M174.9 330.9h0M175.2 315.5h0M175.3 318.5h0M174.9 319.4h0M175.5 314.2h0M175.4 321.0h0M175.6 333.0h0M175.5 318.9h0M175.4 326.5h0M174.9 332.6h0M175.4 327.6h0M175.6 333.3h0M175.5 323.7h0M175.0 329.1h0M175.1 326.2h0M175.0 330.1h0M175.6 324.9h0M175.3 319.2h0M175.1 315.1h0M175.0 330.9h0M174.8 328.9h0M174.9 320.6h0M175.3 338.1h0M175.6 318.7h0M176.1 331.1h0M176.3 313.9h0M175.7 322.5h0M175.8 314.8h0M175.7 316.5h0M175.8 319.7h0M176.2 317.4h0M175.7 323.0h0M175.7 332.9h0M175.8 332.1h0M176.4 321.3h0M175.8 322.9h0M175.7 329.9h0M176.1 318.6h0M176.1 313.4h0M176.4 316.1h0M176.0 317.5h0M175.8 315.5h0M175.8 313.3h0M175.6 316.7h0M176.0 316.4h0M176.0 316.1h0M176.2 319.7h0M176.4 333.2h0M176.4 322.1h0M176.2 319.1h0M175.9 322.0h0M176.4 322.9h0M176.4 339.3h0M176.1 318.7h0M175.9 334.8h0M176.3 317.5h0M175.9 334.0h0M176.3 317.1h0M176.3 316.3h0M175.8 320.0h0M176.0 325.1h0M176.0 319.0h0M176.4 323.2h0M175.9 319.9h0M176.1 324.7h0M176.1 319.4h0M176.2 331.4h0M176.2 324.5h0M137.5 314.4h0M138.5 315.5h0M139.5 315.2h0M140.5 315.4h0M144.8 317.0h0M145.7 316.9h0M146.7 317.1h0M147.7 317.0h0M143.7 313.3h0M144.7 313.5h0M145.7 313.9h0M48.7 305.9h0M49.6 306.1h0M50.6 306.3h0M51.6 305.4h0M52.9 298.5h0M53.9 298.7h0M54.9 298.6h0M55.9 297.5h0M52.7 310.6h0M53.7 309.9h0M54.7 310.6h0M55.7 310.4h0M108.8 314.6h0M109.8 314.5h0M110.8 314.9h0M107.6 305.4h0M108.6 306.2h0M137.4 321.7h0M138.4 321.9h0M139.4 322.1h0M88.7 310.2h0M77.8 295.6h0M78.8 296.4h0M79.8 295.8h0M86.2 297.9h0M87.2 298.0h0M88.2 297.9h0M136.5 318.4h0M137.5 318.1h0M138.5 319.1h0M78.1 309.0h0M79.1 308.8h0M80.1 308.4h0M81.0 309.4h0M60.6 310.2h0M61.6 310.5h0M147.1 313.1h0M148.1 312.3h0M149.1 313.1h0M150.1 312.7h0M114.6 321.1h0M115.6 321.8h0M116.6 322.2h0M117.6 321.8h0M63.6 306.4h0M64.6 305.9h0M66.9 314.8h0M67.9 314.6h0M68.8 314.4h0M69.8 314.6h0M70.8 314.6h0M93.0 316.5h0M94.0 316.4h0M94.9 316.3h0M95.9 316.2h0M84.1 300.6h0M150.0 313.7h0M151.0 314.3h0M152.0 314.3h0M153.0 313.8h0M154.0 314.0h0M107.9 300.1h0M108.9 300.3h0M109.8 299.9h0M110.8 301.0h0M111.8 299.7h0M92.6 308.2h0M93.6 308.7h0M94.6 308.2h0M95.6 307.7h0M96.6 308.4h0M135.4 313.6h0M136.4 313.2h0M137.4 314.3h0M138.4 313.8h0M139.4 313.4h0M66.9 310.7h0M67.9 310.5h0M68.8 310.2h0M69.8 310.6h0M75.5 309.4h0M76.5 310.9h0M46.8 300.9h0M47.8 300.9h0M48.8 300.7h0M49.8 300.9h0M50.8 301.4h0M101.9 306.1h0M102.9 306.6h0M103.9 305.6h0M104.9 306.3h0M105.9 306.4h0M139.6 317.8h0M140.6 317.5h0M141.6 317.5h0M142.6 318.5h0M143.6 317.9h0M133.6 312.6h0M134.6 312.9h0M135.5 313.2h0M49.5 298.1h0M50.4 298.1h0M51.4 297.9h0M58.0 308.9h0M59.0 309.3h0M60.0 308.8h0M93.9 309.6h0M94.8 310.3h0M95.8 309.2h0M96.8 309.1h0M97.8 310.0h0M118.0 324.4h0M119.0 324.6h0M76.1 316.9h0M77.1 317.0h0M78.1 317.8h0M79.0 316.0h0M80.0 317.1h0M87.4 316.8h0M88.4 316.1h0M89.4 316.2h0M146.8 324.4h0M147.8 325.9h0M100.5 297.1h0M101.5 297.4h0M102.5 297.3h0M103.5 297.3h0M104.5 297.7h0M99.0 308.4h0M100.0 308.2h0M101.0 307.8h0M102.0 307.9h0M91.2 311.5h0M92.2 311.7h0M93.2 311.8h0M94.2 312.3h0M95.2 311.5h0M55.6 313.6h0M56.6 313.5h0M57.6 313.1h0M132.3 315.6h0M133.3 315.9h0M134.3 315.4h0M135.2 316.0h0M136.2 316.1h0M73.8 314.8h0M74.8 313.6h0M75.7 313.9h0M76.7 314.0h0M77.7 313.7h0M102.0 304.5h0M102.9 303.9h0M103.9 303.5h0M104.9 304.6h0M45.8 312.8h0M46.8 313.1h0M108.3 295.1h0M109.3 295.5h0M110.3 294.5h0M67.7 308.9h0M68.7 308.5h0M138.2 318.0h0M139.2 317.1h0M140.2 317.2h0M60.0 308.4h0M60.9 309.1h0M61.9 308.0h0M62.9 308.7h0M72.1 305.2h0M73.1 306.6h0M66.6 310.4h0M67.6 309.3h0M68.6 309.6h0M69.6 309.5h0M70.6 309.9h0M78.6 301.8h0M79.6 302.9h0M80.6 302.5h0M81.6 302.8h0M131.6 321.7h0M132.6 320.9h0M82.1 299.4h0M83.1 299.0h0M103.1 308.9h0M104.0 309.4h0M105.0 309.2h0M106.0 309.2h0M107.0 308.4h0M61.9 297.4h0M102.9 309.7h0M103.9 309.5h0M104.9 309.8h0M105.8 309.7h0M139.7 320.2h0M140.7 319.5h0M135.0 324.6h0M136.0 324.3h0M137.0 324.7h0M138.0 324.1h0M138.9 324.5h0M58.9 303.9h0M54.2 297.6h0M55.2 298.0h0M56.2 297.6h0M98.8 311.1h0M99.8 310.8h0M100.8 310.7h0M117.8 325.7h0M118.8 325.4h0M59.3 306.1h0M60.3 305.5h0M78.5 316.7h0M79.5 316.6h0M80.5 316.6h0M81.4 316.8h0M97.4 316.0h0M98.4 316.9h0M99.3 316.3h0M100.3 316.7h0M126.8 325.0h0M127.8 323.9h0M128.8 324.1h0M129.8 325.0h0M117.1 317.4h0M118.1 317.7h0M144.4 321.1h0M145.4 321.0h0M146.4 320.7h0M69.2 306.2h0M80.9 291.1h0M72.1 299.0h0M72.0 296.2h0M75.6 316.5h0M84.0 308.2h0M68.1 309.4h0M51.9 298.0h0M85.5 300.5h0M86.8 307.1h0M80.0 304.6h0M108.2 308.0h0M61.2 314.8h0M72.5 302.1h0M87.6 298.1h0M92.4 314.9h0M75.8 307.4h0M58.7 301.7h0M99.4 315.9h0M84.4 313.9h0M99.5 302.5h0M55.9 303.6h0M66.6 311.6h0M92.8 306.5h0M108.9 293.2h0M104.3 306.3h0M107.4 315.2h0M99.5 307.7h0M105.0 316.3h0M87.2 315.2h0M69.9 302.3h0M60.3 299.0h0M83.3 311.2h0M84.9 305.4h0M53.9 298.6h0M95.7 293.3h0M109.7 307.4h0M91.4 301.2h0M55.0 298.2h0M68.6 306.0h0M90.0 303.9h0M69.0 294.3h0M57.6 301.3h0M63.2 292.9h0M109.4 298.4h0M106.2 297.1h0M92.0 297.6h0M107.8 311.4h0M96.7 312.4h0M80.1 308.2h0M90.8 300.4h0M107.3 295.2h0M55.8 312.5h0M54.6 298.5h0M73.1 291.6h0M65.0 292.1h0M98.3 297.2h0M89.2 294.0h0M66.2 294.4h0M106.0 301.2h0M92.5 311.1h0M82.0 301.7h0M71.2 315.9h0M110.2 296.0h0M74.3 303.2h0M88.2 292.1h0M86.1 298.2h0M101.2 314.4h0M87.6 292.8h0M102.5 293.0h0M61.8 296.8h0M69.0 294.2h0M100.0 307.3h0M87.4 304.8h0M109.7 302.6h0M56.6 303.1h0M53.0 313.5h0M82.0 305.0h0M56.0 308.2h0M69.5 309.6h0M79.0 316.1h0M53.8 310.9h0M95.9 292.6h0M98.2 315.0h0M102.5 295.7h0M103.7 298.1h0M67.9 304.1h0M78.9 316.1h0M85.0 310.1h0M110.4 299.7h0M101.6 316.2h0M95.6 296.1h0M80.2 310.5h0M81.7 302.7h0M78.5 308.7h0M92.9 293.8h0M68.3 294.1h0M55.2 299.1h0M73.0 303.4h0M73.6 314.9h0M62.0 291.3h0M77.4 292.3h0M83.8 293.6h0M79.2 291.2h0M81.2 310.3h0M62.6 315.2h0M58.6 299.3h0M74.1 294.3h0M64.0 292.7h0M63.5 310.0h0M72.7 310.2h0M77.3 296.1h0M56.2 310.7h0M55.1 296.8h0M59.2 303.8h0M105.2 308.8h0M58.9 310.1h0M109.6 314.6h0M104.9 313.9h0M61.9 296.9h0M91.1 308.7h0M95.0 313.2h0M106.0 302.0h0M110.0 301.5h0M87.0 294.7h0M87.6 314.8h0M89.4 309.4h0M91.0 291.0h0M89.3 295.3h0M73.6 316.7h0M54.7 316.6h0M65.2 310.0h0M71.6 300.0h0M97.9 297.0h0M98.0 294.8h0M96.2 305.1h0M77.2 314.9h0M52.6 294.7h0M60.9 294.5h0M76.4 315.5h0M101.8 314.2h0M101.8 312.5h0M101.7 310.7h0M102.3 303.8h0M101.5 302.1h0M101.6 300.3h0M102.0 298.6h0M94.9 312.5h0M93.7 309.0h0M94.5 305.5h0M94.4 302.1h0M94.8 300.3h0M94.9 298.6h0M94.8 296.8h0M94.9 295.1h0M107.1 312.5h0M107.6 310.7h0M107.8 309.0h0M106.9 307.3h0M107.6 303.8h0M107.5 300.3h0M107.9 296.8h0M107.7 295.1h0M107.0 293.4h0M107.5 291.6h0M105.7 315.9h0M105.9 314.2h0M105.7 307.3h0M105.4 303.8h0M105.8 302.1h0M105.7 300.3h0M105.7 298.6h0M97.3 314.2h0M97.5 312.5h0M98.0 310.7h0M97.3 309.0h0M97.2 307.3h0M97.8 302.1h0M97.5 300.3h0M63.1 314.2h0M62.9 312.5h0M62.8 310.7h0M63.2 309.0h0M63.2 307.3h0M62.9 305.5h0M63.4 302.1h0M63.1 300.3h0M63.0 298.6h0M62.5 293.4h0M61.9 289.9h0M88.4 312.5h0M88.2 309.0h0M87.8 303.8h0M88.4 300.3h0M88.1 298.6h0M64.8 310.7h0M65.4 309.0h0M88.2 310.7h0M88.4 303.8h0M88.4 302.1h0M88.1 300.3h0M61.5 315.9h0M61.6 314.2h0M61.6 312.5h0M61.5 310.7h0M61.6 309.0h0M84.9 312.5h0M85.7 309.0h0M85.3 307.3h0M85.3 305.5h0M85.1 300.3h0M109.4 315.9h0M109.6 314.2h0M108.9 312.5h0M109.0 310.7h0M109.5 309.0h0M109.5 307.3h0M107.1 315.9h0M107.8 314.2h0M107.8 310.7h0M107.9 309.0h0M107.6 307.3h0M108.0 305.5h0M107.3 303.8h0M107.8 302.1h0M107.7 300.3h0M107.6 298.6h0M107.2 296.8h0M107.4 295.1h0M107.1 293.4h0M91.4 315.9h0M92.1 312.5h0M91.8 310.7h0M91.3 309.0h0M91.5 307.3h0M91.6 305.5h0M91.2 303.8h0M107.3 314.2h0M106.8 310.7h0M85.4 312.5h0M85.7 309.0h0M85.2 307.3h0M85.5 305.5h0M85.0 302.1h0M85.7 300.3h0M85.6 298.6h0M85.5 296.8h0M85.5 295.1h0M85.3 293.4h0M86.0 291.6h0M77.4 315.9h0M77.5 314.2h0M76.9 312.5h0M77.6 309.0h0M77.3 303.8h0M77.4 302.1h0M77.1 300.3h0M65.9 310.7h0M66.0 309.0h0M66.2 307.3h0M66.1 305.5h0M98.2 312.5h0M98.5 310.7h0M98.0 309.0h0M98.7 307.3h0M98.4 303.8h0M98.6 302.1h0M98.7 298.6h0M98.8 295.1h0M98.3 293.4h0M58.7 315.9h0M58.6 314.2h0M58.5 312.5h0M59.0 309.0h0M58.8 307.3h0M58.6 305.5h0M59.0 303.8h0M58.6 302.1h0M58.8 300.3h0M59.4 296.8h0M60.0 314.2h0M59.9 310.7h0M59.5 309.0h0M59.4 303.8h0M102.2 315.9h0M102.1 314.2h0M101.8 312.5h0M101.6 310.7h0M102.6 309.0h0M102.2 307.3h0M101.8 305.5h0M101.7 302.1h0M102.2 300.3h0M102.2 298.6h0M101.6 296.8h0M75.5 315.9h0M75.0 314.2h0M74.2 312.5h0M75.2 310.7h0M74.7 309.0h0M75.1 307.3h0M74.7 305.5h0M74.3 302.1h0M85.0 315.9h0M86.1 314.2h0M85.8 312.5h0M85.7 310.7h0M85.2 309.0h0M85.8 307.3h0M85.4 305.5h0M85.4 302.1h0M106.5 314.2h0M107.3 312.5h0M106.6 310.7h0M107.3 309.0h0M59.9 315.9h0M59.8 314.2h0M60.0 312.5h0M60.0 310.7h0M59.9 309.0h0M59.2 305.5h0M60.0 303.8h0M59.6 302.1h0M59.6 300.3h0M60.0 298.6h0M59.8 296.8h0M109.8 314.2h0M109.9 312.5h0M109.5 309.0h0M109.5 307.3h0M109.4 305.5h0M109.6 303.8h0M109.4 302.1h0M109.1 296.8h0M109.7 293.4h0M99.5 315.9h0M100.0 310.7h0M100.1 309.0h0M88.0 314.2h0M88.5 312.5h0M89.6 310.7h0M89.0 309.0h0M88.7 305.5h0M88.4 303.8h0M89.2 302.1h0M88.8 300.3h0M89.0 295.1h0M80.6 315.9h0M80.1 314.2h0M79.7 310.7h0M80.3 309.0h0M79.4 307.3h0M80.6 303.8h0M79.9 302.1h0M80.2 300.3h0M80.6 298.6h0M79.5 296.8h0M80.5 295.1h0M80.2 293.4h0M68.7 295.7h0M69.6 295.7h0M70.5 295.7h0M71.4 295.7h0M89.0 297.2h0M89.9 297.2h0M90.8 297.2h0M91.7 297.2h0M92.6 297.2h0M93.5 297.2h0M94.4 297.2h0M95.3 297.2h0M96.2 297.2h0M97.1 297.2h0M61.3 298.7h0M62.2 298.7h0M63.1 298.7h0M64.0 298.7h0M104.4 295.4h0M105.3 295.4h0M106.2 295.4h0M107.1 295.4h0M108.1 295.4h0M57.4 300.4h0M58.3 300.4h0M59.2 300.4h0M60.1 300.4h0M61.0 300.4h0M61.9 300.4h0M62.8 300.4h0M63.7 300.4h0M64.6 300.4h0M65.5 300.4h0M78.0 306.7h0M78.9 306.7h0M79.8 306.7h0M80.7 306.7h0M81.6 306.7h0M82.5 306.7h0M83.2 309.5h0M84.1 309.5h0M85.0 309.5h0M85.9 309.5h0M86.8 309.5h0M87.7 309.5h0M88.6 309.5h0M56.7 309.0h0M57.6 309.0h0M58.5 309.0h0M59.4 309.0h0M60.3 309.0h0M61.2 309.0h0M62.1 309.0h0M63.0 309.0h0M61.5 309.9h0M62.4 309.9h0M63.3 309.9h0M64.3 309.9h0M65.2 309.9h0M105.6 300.0h0M106.5 300.0h0M107.4 300.0h0M108.3 300.0h0M109.2 300.0h0M110.1 300.0h0M56.5 294.1h0M57.4 294.1h0M58.3 294.1h0M59.2 294.1h0M60.1 294.1h0M61.0 294.1h0M61.9 294.1h0M62.8 294.1h0M63.7 294.1h0M99.2 304.5h0M100.1 304.5h0M101.0 304.5h0M101.9 304.5h0M102.8 304.5h0M103.8 304.5h0M104.7 304.5h0M105.6 304.5h0M106.5 304.5h0M83.3 308.1h0M84.2 308.1h0M85.1 308.1h0M86.0 308.1h0M86.9 308.1h0M87.8 308.1h0M88.7 308.1h0M89.6 308.1h0M90.5 308.1h0M91.4 308.1h0M92.3 308.1h0M84.9 306.1h0M85.8 306.1h0M86.7 306.1h0M87.6 306.1h0M88.5 306.1h0M89.4 306.1h0M90.3 306.1h0M91.2 306.1h0M92.1 306.1h0M83.0 299.4h0M83.9 299.4h0M84.8 299.4h0M85.7 299.4h0M65.5 308.3h0M66.4 308.3h0M67.3 308.3h0M68.2 308.3h0M69.1 308.3h0M97.1 293.3h0M98.0 293.3h0M98.9 293.3h0M99.8 293.3h0M100.7 293.3h0M101.6 293.3h0M101.8 299.3h0M102.7 299.3h0M103.6 299.3h0M104.5 299.3h0M105.4 299.3h0M106.3 299.3h0M107.2 299.3h0M108.1 299.3h0M109.0 299.3h0M109.9 299.3h0M110.8 299.3h0M69.1 305.6h0M70.0 305.6h0M70.9 305.6h0M71.8 305.6h0M72.7 305.6h0M73.6 305.6h0M67.5 297.2h0M68.4 297.2h0M69.3 297.2h0M70.2 297.2h0M71.1 297.2h0M72.0 297.2h0M72.9 297.2h0M85.9 298.4h0M86.8 298.4h0M87.7 298.4h0M88.6 298.4h0M89.5 298.4h0M111.3 309.9h0M112.2 309.9h0M113.1 309.9h0M114.0 309.9h0M114.9 309.9h0M115.8 309.9h0M116.7 309.9h0M97.8 296.9h0M98.7 296.9h0M99.6 296.9h0M100.5 296.9h0M101.4 296.9h0M102.3 296.9h0M103.2 296.9h0M104.1 296.9h0M90.7 312.4h0M91.6 312.4h0M92.5 312.4h0M93.4 312.4h0M94.3 312.4h0M95.2 312.4h0M96.1 312.4h0M97.0 312.4h0M97.9 312.4h0M98.8 312.4h0M93.2 297.5h0M94.1 297.5h0M95.0 297.5h0M95.9 297.5h0M96.8 297.5h0M97.7 297.5h0M98.6 297.5h0M99.6 297.5h0M118.5 318.5h0M120.6 316.1h0M112.6 324.6h0M149.5 316.4h0M119.9 322.4h0M127.7 323.5h0M115.2 313.1h0M118.2 316.2h0M139.8 316.4h0M122.1 323.7h0M135.5 312.8h0M125.8 323.7h0M130.9 324.1h0M124.0 316.4h0M119.5 320.5h0M136.6 324.5h0M115.4 313.2h0M146.2 314.3h0M133.6 319.7h0M113.8 323.4h0M114.0 319.3h0M127.8 324.4h0M113.4 318.7h0M115.2 326.6h0M118.8 315.5h0M137.2 319.5h0M118.8 320.2h0M109.6 322.2h0M129.6 325.5h0M133.9 320.6h0M111.5 324.7h0M130.0 314.1h0M111.6 318.9h0M121.3 321.3h0M148.5 317.9h0M121.3 320.4h0M151.0 314.6h0M127.4 319.3h0M128.7 324.7h0M150.5 323.6h0M86.5 246.3h0M84.3 252.1h0M100.7 249.5h0M100.1 251.6h0M94.7 246.0h0M92.5 244.6h0M93.6 249.8h0M89.4 248.1h0M99.7 245.7h0M93.1 250.3h0M99.0 252.0h0M95.8 246.7h0M95.5 248.1h0M95.3 250.1h0M97.4 245.6h0M98.1 248.9h0M73.2 282.3h0M72.4 284.4h0M74.5 284.6h0M74.2 283.9h0M48.6 294.4h0M50.6 295.0h0M68.5 295.0h0M71.6 294.4h0M57.3 294.3h0M71.3 293.8h0M52.5 295.0h0M63.4 293.0h0M57.2 293.5h0M62.1 293.6h0M53.0 294.6h0M58.1 293.1h0M60.2 294.4h0M63.4 293.0h0M53.2 293.5h0M64.1 294.8h0M53.4 294.5h0M74.1 293.0h0M54.2 293.5h0M50.7 294.3h0M55.0 294.1h0M63.1 294.1h0M59.8 294.7h0M65.5 294.3h0M50.7 294.6h0M58.9 294.5h0M62.7 293.9h0M74.1 294.8h0M71.7 293.7h0M63.2 294.1h0M55.8 293.7h0M50.8 293.6h0M64.8 293.4h0M62.9 293.8h0M60.5 293.7h0M67.2 294.3h0M60.3 293.8h0M68.8 294.8h0M55.5 294.3h0M56.6 293.7h0M92.8 286.3h0M74.2 288.1h0M89.5 287.3h0M90.1 286.9h0M109.9 287.8h0M85.5 287.5h0M97.8 287.9h0M91.9 287.1h0M103.6 287.5h0M96.6 286.7h0M112.2 286.6h0M97.9 287.1h0M86.0 287.4h0M89.2 287.0h0M106.7 287.1h0M87.1 287.8h0M109.5 286.6h0M90.0 287.0h0M110.2 286.7h0M78.3 287.9h0M103.8 286.7h0M90.2 286.0h0M81.4 286.8h0M96.0 287.9h0M74.7 287.1h0M80.3 287.2h0M106.3 287.0h0M93.3 287.3h0M85.9 286.9h0M78.1 287.4h0M78.7 287.0h0M81.5 287.5h0M90.8 287.1h0M73.1 286.6h0M80.5 287.4h0M89.5 286.8h0M107.8 287.6h0M107.1 287.3h0M109.9 287.3h0M81.3 286.5h0M77.3 287.6h0M106.4 286.5h0M100.4 287.9h0M82.2 287.2h0M89.7 286.6h0M109.5 286.8h0M105.1 287.7h0M109.9 287.8h0M92.1 286.7h0M80.0 287.8h0M94.0 286.8h0M76.9 287.4h0M77.0 287.2h0M76.0 285.9h0M82.4 286.3h0M78.9 286.7h0M82.7 287.9h0M100.2 287.0h0M99.3 287.1h0M73.3 287.2h0M96.6 290.9h0M104.4 290.7h0M98.1 290.2h0M111.5 290.7h0M106.7 290.3h0M96.7 291.0h0M87.6 289.6h0M93.8 290.8h0M94.0 289.8h0M93.1 289.2h0M103.8 291.7h0M107.5 291.0h0M107.3 290.5h0M88.1 289.8h0M87.3 290.7h0M102.5 290.2h0M104.4 290.8h0M105.9 290.1h0M109.6 291.1h0M92.3 289.9h0M84.2 292.1h0M93.4 291.4h0M92.0 289.4h0M85.5 290.3h0M102.8 290.9h0M97.7 289.2h0M101.1 289.8h0M108.5 289.8h0M99.6 290.6h0M109.1 290.1h0M128.4 298.7h0M127.1 296.0h0M124.4 301.0h0M112.7 296.1h0M129.4 297.2h0M120.3 291.1h0M117.5 294.2h0M113.6 295.7h0M115.0 294.8h0M113.3 293.6h0M122.1 296.9h0M119.0 295.7h0M117.5 296.0h0M126.6 289.7h0M113.9 295.0h0M119.7 299.6h0M126.3 293.4h0M126.8 289.4h0M124.7 297.3h0M121.5 287.4h0M115.2 295.3h0M119.3 293.0h0M139.1 301.9h0M142.8 301.8h0M135.6 303.1h0M131.8 301.4h0M136.1 301.6h0M144.0 301.7h0M137.2 302.4h0M136.5 302.2h0M143.2 302.2h0M139.8 301.5h0M132.1 302.4h0M136.3 301.0h0M145.4 301.6h0M130.2 303.0h0M142.8 300.9h0M135.0 301.7h0M142.6 302.1h0M132.5 301.8h0M141.0 302.8h0M144.5 301.7h0M130.8 303.2h0M146.2 302.4h0M131.5 301.0h0M129.9 301.1h0M143.9 302.0h0M138.5 302.4h0M130.3 301.3h0M141.0 301.8h0M138.5 301.7h0M146.8 301.5h0M146.5 302.4h0M144.8 301.4h0M138.7 303.0h0M143.8 301.0h0M142.4 302.7h0M134.4 302.2h0M142.6 302.2h0M134.8 301.4h0M136.9 301.4h0M131.1 301.6h0M145.2 306.4h0M149.8 305.6h0M143.3 306.6h0M147.7 308.4h0M143.1 309.5h0M149.3 310.4h0M146.9 303.3h0M148.2 304.0h0M161.2 264.0h0M158.4 262.8h0M161.3 263.9h0M161.3 259.1h0M155.4 261.2h0M160.2 262.4h0M161.7 264.4h0M162.6 261.3h0M155.8 261.7h0M155.9 263.6h0M170.1 291.2h0M168.1 288.6h0M159.9 289.7h0M158.3 294.7h0M155.6 290.4h0M158.0 289.1h0M162.3 287.2h0M161.8 291.2h0M155.8 291.7h0M173.0 287.3h0M158.4 291.2h0M156.1 289.6h0M158.9 288.8h0M164.1 288.2h0M168.1 289.8h0M156.1 292.4h0M157.6 287.6h0M154.9 290.8h0M163.1 291.0h0M176.4 285.3h0M171.6 287.9h0M173.2 292.2h0M174.5 290.9h0M159.2 290.4h0M168.6 291.5h0M163.5 294.2h0M162.3 288.1h0M171.1 288.1h0M166.7 289.3h0M168.1 290.8h0M160.3 289.4h0M175.1 288.4h0M168.8 292.2h0M168.2 290.6h0M171.1 291.1h0M62.5 249.8h0M66.6 272.5h0M67.8 273.6h0M86.2 280.1h0M85.4 283.4h0" stroke="#c4c4c4" stroke-width="2.2" stroke-linecap="round" fill="none"/>
<path d="M37.4 338.8h0M37.4 338.8h0M37.5 339.9h0M37.2 338.3h0M37.5 339.0h0M37.8 339.7h0M37.8 339.9h0M37.6 339.6h0M37.9 340.2h0M37.6 339.9h0M38.5 339.8h0M38.5 339.2h0M38.4 338.8h0M38.2 338.4h0M38.5 339.3h0M39.0 338.8h0M38.7 340.2h0M38.7 339.4h0M38.9 338.8h0M38.8 338.4h0M39.4 340.5h0M39.0 338.3h0M39.4 339.8h0M39.1 340.4h0M39.2 338.3h0M39.6 338.5h0M39.6 339.9h0M39.9 338.4h0M40.0 340.6h0M39.7 339.0h0M40.4 339.9h0M40.3 340.1h0M40.1 338.4h0M40.3 339.0h0M40.2 338.7h0M40.7 340.5h0M40.6 338.2h0M40.6 338.2h0M40.6 338.6h0M40.7 338.8h0M40.7 338.6h0M41.3 339.1h0M41.0 338.1h0M41.0 339.3h0M41.4 337.7h0M41.3 340.2h0M41.5 340.5h0M41.8 338.1h0M41.8 338.2h0M41.8 340.4h0M41.8 338.5h0M41.7 338.6h0M42.0 338.0h0M42.1 339.8h0M42.0 339.4h0M42.2 339.9h0M42.0 339.0h0M42.0 338.9h0M42.5 340.2h0M42.9 338.2h0M42.9 338.2h0M42.7 339.3h0M42.7 338.6h0M42.9 339.4h0M43.4 337.4h0M43.3 338.3h0M43.4 338.9h0M43.3 340.3h0M43.1 338.7h0M43.3 339.8h0M43.7 340.0h0M43.5 339.0h0M43.8 337.3h0M43.8 339.6h0M43.9 339.9h0M43.6 338.1h0M44.1 338.8h0M44.4 338.7h0M44.0 339.1h0M44.2 338.5h0M44.4 338.6h0M44.3 337.9h0M44.6 338.4h0M44.5 340.1h0M44.5 339.9h0M44.5 338.7h0M44.5 336.7h0M44.6 340.8h0M44.7 337.5h0M45.0 338.6h0M45.3 337.3h0M45.2 336.1h0M45.4 340.7h0M45.1 336.0h0M44.9 338.5h0M45.3 340.1h0M45.2 336.1h0M45.4 339.8h0M45.6 340.7h0M45.7 338.8h0M45.6 336.5h0M45.8 336.5h0M45.5 338.4h0M45.7 337.7h0M45.8 338.1h0M46.0 336.4h0M46.3 335.0h0M46.1 335.4h0M46.2 336.5h0M46.0 335.4h0M45.9 334.9h0M46.2 336.8h0M46.0 336.3h0M46.0 335.6h0M46.5 335.6h0M46.7 338.2h0M46.7 336.0h0M46.6 336.0h0M46.8 335.1h0M46.8 339.6h0M46.8 334.8h0M46.6 335.0h0M46.5 340.2h0M46.6 339.5h0M47.1 334.9h0M47.1 334.8h0M47.1 337.3h0M46.9 339.8h0M47.3 336.2h0M47.2 335.2h0M47.2 338.4h0M47.3 336.0h0M46.9 335.5h0M47.8 335.3h0M47.8 339.5h0M47.7 338.1h0M47.8 339.5h0M47.8 334.6h0M47.6 336.7h0M47.7 335.0h0M47.4 335.2h0M47.5 337.5h0M47.8 339.4h0M48.2 336.0h0M48.0 336.1h0M48.0 340.4h0M48.0 339.2h0M48.1 337.4h0M48.1 335.1h0M48.1 339.0h0M48.3 336.4h0M48.3 337.4h0M48.5 334.4h0M48.5 334.6h0M48.5 335.4h0M48.7 335.3h0M48.5 334.3h0M48.6 339.8h0M48.7 339.8h0M48.7 335.6h0M48.5 339.4h0M48.4 335.9h0M49.3 337.8h0M48.9 336.0h0M49.3 335.5h0M49.1 338.2h0M49.2 334.8h0M49.0 335.6h0M49.2 334.1h0M49.0 337.4h0M48.9 339.0h0M49.2 338.2h0M49.5 335.0h0M49.5 335.2h0M49.6 338.6h0M49.4 338.0h0M49.4 334.6h0M49.8 335.0h0M49.3 334.5h0M49.7 334.7h0M49.7 338.6h0M49.5 337.3h0M49.8 334.9h0M50.0 336.5h0M49.9 335.3h0M50.2 340.2h0M49.9 335.9h0M49.9 340.5h0M49.9 339.3h0M50.2 335.7h0M50.1 338.2h0M50.2 336.4h0M50.4 336.2h0M50.6 337.7h0M50.6 338.6h0M50.6 339.4h0M50.8 335.6h0M50.6 334.9h0M50.7 336.8h0M50.6 336.2h0M50.8 335.8h0M50.8 335.0h0M51.2 336.6h0M51.1 334.9h0M50.8 339.2h0M51.0 334.6h0M51.2 336.5h0M51.0 339.2h0M50.8 339.3h0M50.9 337.0h0M51.0 334.7h0M51.6 338.9h0M51.5 340.3h0M51.6 337.3h0M51.8 337.8h0M51.7 337.3h0M51.6 337.5h0M51.7 338.4h0M51.4 340.0h0M51.5 335.3h0M51.5 334.7h0M51.6 336.4h0M51.8 336.4h0M51.9 339.8h0M51.9 339.0h0M52.1 338.2h0M51.9 337.4h0M52.3 338.4h0M51.9 338.4h0M52.0 338.1h0M52.2 334.4h0M52.0 335.0h0M52.5 335.6h0M52.3 334.8h0M52.5 337.1h0M52.8 335.1h0M52.4 337.4h0M52.7 337.3h0M52.8 338.9h0M52.8 336.5h0M52.6 336.2h0M53.0 338.7h0M53.2 338.0h0M52.9 335.1h0M53.0 334.8h0M53.0 336.2h0M53.2 336.9h0M53.2 335.5h0M53.2 336.8h0M52.8 339.1h0M52.9 336.8h0M53.5 337.0h0M53.3 337.4h0M53.4 336.8h0M53.5 334.2h0M53.5 334.4h0M53.3 337.6h0M53.6 336.9h0M53.3 337.5h0M53.5 334.1h0M53.4 339.6h0M53.6 335.9h0M54.0 338.0h0M54.1 335.1h0M53.9 334.9h0M54.0 337.0h0M53.9 339.7h0M53.9 338.5h0M54.0 337.0h0M54.2 337.8h0M54.1 338.4h0M54.0 339.8h0M54.4 335.8h0M54.5 336.7h0M54.4 334.8h0M54.5 339.2h0M54.3 336.6h0M54.5 338.1h0M54.4 334.8h0M54.6 339.1h0M54.7 340.0h0M54.7 334.7h0M54.3 334.0h0M54.8 335.7h0M55.0 339.1h0M54.9 338.6h0M55.1 336.2h0M55.2 337.8h0M55.0 337.4h0M54.9 336.1h0M55.1 335.5h0M54.8 338.1h0M55.1 335.1h0M55.2 337.5h0M55.3 336.8h0M55.4 336.7h0M55.5 339.0h0M55.3 335.7h0M55.6 334.4h0M55.5 339.9h0M55.3 334.5h0M55.6 339.0h0M55.5 338.8h0M55.6 335.7h0M56.1 337.2h0M56.2 337.3h0M56.1 338.5h0M55.9 336.0h0M55.9 334.6h0M56.0 334.2h0M56.0 336.1h0M56.0 338.7h0M55.9 334.4h0M56.1 335.0h0M55.9 338.6h0M56.4 335.1h0M56.3 337.6h0M56.5 334.3h0M56.3 334.1h0M56.6 338.7h0M56.2 334.4h0M56.6 335.4h0M56.4 339.6h0M56.5 335.8h0M56.4 334.2h0M56.7 338.0h0M57.2 335.3h0M57.1 338.8h0M57.2 335.8h0M56.9 335.6h0M56.8 334.5h0M56.8 338.2h0M57.1 337.2h0M57.2 334.9h0M57.1 337.5h0M57.4 338.0h0M57.2 338.4h0M57.6 336.7h0M57.4 337.9h0M57.3 339.8h0M57.3 336.2h0M57.7 335.9h0M57.4 336.5h0M57.3 339.8h0M57.2 336.5h0M57.8 334.5h0M57.8 336.7h0M58.0 340.3h0M57.8 336.6h0M58.0 335.8h0M58.0 339.8h0M57.7 334.9h0M57.8 337.6h0M58.1 340.1h0M58.1 335.9h0M58.3 336.8h0M58.6 338.8h0M58.3 336.9h0M58.6 337.4h0M58.4 334.6h0M58.5 335.4h0M58.5 336.7h0M58.4 336.1h0M58.6 339.2h0M58.3 338.7h0M58.8 337.0h0M58.9 334.2h0M58.7 338.8h0M59.1 336.9h0M58.9 334.3h0M58.7 340.5h0M59.1 334.9h0M59.0 338.2h0M59.1 339.0h0M58.9 338.9h0M59.2 337.1h0M59.4 334.5h0M59.4 336.7h0M59.3 338.2h0M59.3 334.5h0M59.2 336.1h0M59.6 334.7h0M59.5 338.9h0M59.6 336.8h0M59.4 334.9h0M60.0 335.9h0M60.0 339.0h0M60.1 338.7h0M59.8 335.5h0M60.1 338.5h0M59.9 335.5h0M59.9 338.7h0M59.9 336.5h0M60.0 338.2h0M60.5 338.2h0M60.3 338.3h0M60.3 339.4h0M60.4 339.0h0M60.5 339.6h0M60.3 334.9h0M60.4 335.1h0M60.3 335.6h0M60.2 334.9h0M60.6 336.1h0M61.0 335.5h0M61.0 335.6h0M60.8 335.6h0M60.8 337.0h0M60.9 338.8h0M60.8 335.1h0M60.7 337.1h0M60.9 339.6h0M60.7 337.4h0M60.8 338.5h0M61.3 336.3h0M61.6 338.1h0M61.3 336.0h0M61.3 339.4h0M61.5 337.8h0M61.1 338.0h0M61.6 340.1h0M61.6 336.4h0M61.6 336.7h0M61.5 335.1h0M61.7 336.7h0M61.9 336.9h0M61.8 334.7h0M61.9 336.5h0M61.7 338.4h0M61.8 334.7h0M61.7 337.0h0M62.0 336.4h0M62.0 337.8h0M61.7 338.7h0M62.4 337.4h0M62.6 337.4h0M62.2 336.2h0M62.4 335.3h0M62.4 340.7h0M62.4 338.9h0M62.2 335.4h0M62.6 334.8h0M62.2 337.2h0M62.6 335.0h0M62.8 336.6h0M62.7 340.5h0M62.7 336.9h0M63.0 335.9h0M62.9 336.6h0M62.9 335.7h0M62.9 336.2h0M63.1 339.5h0M62.6 337.0h0M63.6 338.0h0M63.4 335.8h0M63.2 340.7h0M63.3 338.8h0M63.2 337.1h0M63.2 336.5h0M63.4 337.0h0M63.4 338.8h0M63.4 335.0h0M63.5 339.5h0M64.0 336.5h0M63.8 335.2h0M64.0 336.6h0M63.7 334.6h0M63.8 337.8h0M63.7 334.7h0M63.9 339.9h0M63.7 334.8h0M63.6 336.0h0M63.9 336.9h0M64.3 336.0h0M64.5 336.3h0M64.4 336.1h0M64.2 337.7h0M64.5 336.3h0M64.2 334.7h0M64.3 338.3h0M64.2 334.4h0M64.5 337.9h0M64.2 334.8h0M64.8 336.2h0M65.1 336.1h0M64.6 337.0h0M65.0 338.4h0M64.6 340.0h0M65.0 335.0h0M64.8 338.2h0M64.8 339.0h0M64.8 337.2h0M64.9 339.6h0M65.4 336.1h0M65.5 340.0h0M65.4 337.3h0M65.4 334.1h0M65.1 338.8h0M65.3 336.3h0M65.5 335.2h0M65.4 338.6h0M65.3 336.9h0M65.1 334.2h0M65.5 335.8h0M65.9 338.0h0M65.9 340.3h0M65.9 336.7h0M66.0 336.6h0M66.0 338.7h0M65.8 338.0h0M66.1 334.7h0M65.7 336.3h0M65.6 336.7h0M66.1 339.3h0M66.3 334.1h0M66.3 334.9h0M66.4 335.0h0M66.5 335.8h0M66.2 336.1h0M66.5 334.9h0M66.4 336.9h0M66.1 339.4h0M66.4 337.3h0M66.4 336.5h0M66.7 335.1h0M66.7 336.2h0M66.6 334.5h0M66.6 336.9h0M67.0 338.5h0M66.9 337.4h0M67.0 339.3h0M66.7 336.6h0M66.9 336.5h0M66.6 336.9h0M67.4 338.1h0M67.5 337.7h0M67.1 340.6h0M67.2 338.5h0M67.5 335.7h0M67.2 338.5h0M67.1 339.5h0M67.4 340.1h0M67.4 337.7h0M67.8 339.5h0M67.9 334.7h0M67.6 334.2h0M67.9 336.1h0M67.9 340.1h0M67.7 334.5h0M68.0 338.5h0M67.8 337.7h0M67.6 335.1h0M67.9 339.9h0M68.0 339.6h0M68.2 340.2h0M68.3 335.7h0M68.2 335.6h0M68.1 339.7h0M68.3 340.3h0M68.4 334.6h0M68.0 335.1h0M68.3 334.2h0M68.4 334.5h0M68.9 335.1h0M69.0 339.6h0M68.9 335.5h0M68.7 337.0h0M68.6 337.8h0M68.9 336.3h0M69.0 338.2h0M68.6 335.2h0M69.0 337.4h0M68.7 340.0h0M68.6 334.3h0M69.3 334.5h0M69.1 335.6h0M69.5 337.5h0M69.3 335.1h0M69.1 338.1h0M69.3 338.1h0M69.1 338.9h0M69.4 336.7h0M69.3 335.7h0M69.2 335.6h0M69.2 339.5h0M69.8 335.8h0M70.0 340.1h0M69.8 335.7h0M69.7 337.2h0M69.9 336.6h0M69.7 335.9h0M69.8 339.7h0M69.7 334.7h0M69.6 336.7h0M69.8 339.4h0M70.2 336.5h0M70.1 335.6h0M70.3 335.5h0M70.1 336.8h0M70.4 337.4h0M70.3 337.5h0M70.4 336.3h0M70.4 334.7h0M70.4 336.6h0M70.1 336.9h0M71.0 339.3h0M70.8 340.4h0M70.5 337.3h0M70.5 335.6h0M70.7 337.2h0M70.9 337.4h0M70.6 337.9h0M70.5 335.2h0M70.8 337.0h0M70.9 337.6h0M70.6 340.2h0M71.2 338.0h0M71.2 340.1h0M71.0 336.1h0M71.2 335.6h0M71.4 337.8h0M71.2 335.7h0M71.1 335.5h0M71.2 338.5h0M71.2 336.2h0M71.4 335.4h0M71.6 338.0h0M71.5 337.4h0M71.7 337.0h0M71.7 338.6h0M71.8 340.1h0M71.5 335.9h0M71.6 339.2h0M71.6 336.7h0M71.6 336.3h0M72.2 334.4h0M72.3 339.2h0M72.1 339.5h0M72.3 338.8h0M72.2 339.6h0M72.4 335.4h0M72.3 335.6h0M72.2 338.8h0M72.0 337.3h0M72.4 340.3h0M72.7 339.9h0M72.6 335.7h0M72.6 338.1h0M72.6 338.8h0M72.9 334.8h0M72.8 338.5h0M72.6 336.0h0M72.8 335.4h0M72.5 338.9h0M72.6 337.4h0M73.0 337.9h0M73.0 334.9h0M73.3 334.9h0M73.1 336.4h0M73.4 340.4h0M73.3 335.1h0M73.2 335.0h0M73.3 338.8h0M73.4 334.2h0M73.1 334.1h0M73.2 336.5h0M73.9 338.2h0M73.5 334.7h0M73.7 336.3h0M73.7 334.5h0M73.7 335.5h0M73.8 340.8h0M73.7 336.0h0M73.5 338.9h0M73.5 337.1h0M73.8 338.3h0M74.0 337.5h0M74.1 334.0h0M74.0 334.6h0M74.2 338.1h0M74.1 339.2h0M74.2 335.6h0M74.2 334.9h0M74.3 335.5h0M74.3 337.0h0M74.0 336.4h0M74.2 339.0h0M74.7 335.7h0M74.5 338.4h0M74.5 334.5h0M74.8 337.9h0M74.5 337.7h0M74.8 334.5h0M74.5 334.4h0M74.5 340.2h0M74.5 340.5h0M74.6 335.2h0M75.3 339.6h0M75.3 339.3h0M75.1 334.6h0M75.3 335.6h0M75.2 337.6h0M75.2 337.2h0M75.3 335.9h0M75.4 335.0h0M75.3 339.6h0M74.9 337.5h0M75.7 336.0h0M75.8 335.7h0M75.5 336.7h0M75.8 334.7h0M75.4 333.7h0M75.7 337.9h0M75.6 334.0h0M75.9 337.4h0M75.7 339.8h0M75.8 339.7h0M75.8 337.7h0M76.0 334.7h0M76.0 337.2h0M76.0 337.1h0M76.3 338.5h0M76.3 337.8h0M76.0 335.4h0M76.1 336.3h0M76.4 335.9h0M76.1 336.4h0M76.3 338.7h0M76.5 340.2h0M76.7 336.6h0M76.5 336.6h0M76.5 334.7h0M76.6 336.3h0M76.5 334.0h0M76.5 336.0h0M76.8 336.4h0M76.6 335.6h0M76.8 339.1h0M76.5 338.7h0M77.2 334.7h0M77.0 335.0h0M77.1 335.1h0M76.9 338.1h0M77.3 335.1h0M77.3 336.2h0M77.0 334.8h0M77.2 335.5h0M77.1 335.0h0M77.7 339.2h0M77.6 339.6h0M77.6 336.3h0M77.5 340.7h0M77.6 335.3h0M77.6 335.2h0M77.6 336.4h0M77.5 339.7h0M77.8 336.6h0M77.8 335.1h0M78.1 337.9h0M78.0 336.8h0M78.2 334.6h0M78.4 335.3h0M78.2 338.0h0M78.2 338.0h0M78.3 338.4h0M78.1 338.4h0M78.0 335.1h0M78.0 337.7h0M77.9 334.3h0M78.6 334.2h0M78.5 338.2h0M78.6 338.5h0M78.8 333.9h0M78.4 336.8h0M78.6 333.8h0M78.9 339.9h0M78.8 335.6h0M78.6 336.9h0M78.8 339.2h0M78.6 339.5h0M79.3 335.1h0M78.9 338.4h0M79.2 339.0h0M78.9 334.9h0M78.9 334.8h0M79.2 337.5h0M79.0 337.5h0M79.3 336.4h0M78.9 336.5h0M79.0 334.8h0M79.6 340.4h0M79.5 335.9h0M79.7 334.9h0M79.4 337.2h0M79.4 336.0h0M79.4 334.9h0M79.6 336.8h0M79.5 337.6h0M79.8 335.7h0M79.5 335.4h0M79.9 338.6h0M80.1 337.2h0M79.9 335.8h0M80.0 336.0h0M80.1 336.1h0M80.3 335.7h0M80.1 335.9h0M80.1 334.4h0M80.2 339.1h0M79.9 337.2h0M80.4 338.3h0M80.8 335.1h0M80.6 338.9h0M80.4 337.6h0M80.4 334.3h0M80.6 336.5h0M80.6 336.5h0M80.5 335.1h0M80.7 334.2h0M80.6 339.2h0M80.8 340.5h0M81.2 335.2h0M81.3 336.5h0M81.0 340.3h0M81.2 336.3h0M80.9 335.7h0M81.3 338.9h0M81.1 337.5h0M81.1 339.5h0M81.3 338.2h0M81.1 338.6h0M81.8 338.4h0M81.8 335.2h0M81.6 336.7h0M81.3 335.6h0M81.7 336.5h0M81.7 337.1h0M81.5 335.7h0M81.6 336.4h0M81.4 338.8h0M81.4 335.4h0M82.3 336.1h0M82.2 339.3h0M82.0 334.0h0M82.0 338.9h0M82.0 334.9h0M82.3 340.2h0M82.1 334.5h0M82.2 334.1h0M82.1 334.4h0M82.0 335.9h0M82.1 336.8h0M82.7 339.1h0M82.7 335.7h0M82.4 337.7h0M82.7 337.2h0M82.7 337.4h0M82.8 337.5h0M82.8 337.5h0M82.5 338.9h0M82.7 339.8h0M82.7 336.8h0M83.1 334.1h0M83.0 338.4h0M83.3 334.3h0M83.2 335.9h0M82.9 340.5h0M83.2 335.6h0M83.0 336.4h0M83.2 338.3h0M82.8 339.5h0M83.3 338.5h0M83.3 340.3h0M83.5 336.7h0M83.3 336.3h0M83.6 334.8h0M83.7 334.9h0M83.3 334.6h0M83.5 334.6h0M83.7 339.7h0M83.5 336.6h0M83.6 334.3h0M83.3 336.1h0M83.8 335.7h0M84.1 339.4h0M83.8 336.8h0M84.3 335.0h0M84.1 337.4h0M84.2 336.9h0M83.8 336.2h0M83.8 334.8h0M84.0 335.5h0M84.2 335.2h0M84.7 337.3h0M84.3 338.2h0M84.6 337.8h0M84.8 337.8h0M84.6 339.3h0M84.5 334.9h0M84.7 339.8h0M84.7 334.0h0M84.3 334.8h0M84.3 335.5h0M84.8 339.6h0M84.8 336.1h0M84.9 336.2h0M85.1 338.7h0M84.9 339.4h0M85.0 339.7h0M84.8 335.3h0M85.1 340.3h0M85.1 335.6h0M84.9 337.9h0M84.9 336.0h0M84.8 336.3h0M85.5 335.4h0M85.4 338.0h0M85.5 337.9h0M85.6 339.2h0M85.7 334.5h0M85.3 336.9h0M85.4 337.8h0M85.4 336.6h0M85.7 338.5h0M85.6 335.5h0M86.2 336.1h0M86.1 334.2h0M86.2 336.2h0M85.9 336.1h0M86.1 335.4h0M85.9 335.3h0M85.9 339.3h0M86.2 334.4h0M86.0 336.4h0M85.8 334.3h0M86.5 339.3h0M86.3 336.4h0M86.6 334.4h0M86.6 336.2h0M86.5 338.2h0M86.4 336.2h0M86.3 338.1h0M86.3 340.3h0M86.5 337.6h0M86.5 337.4h0M87.2 340.2h0M86.7 340.5h0M87.1 337.8h0M87.2 338.1h0M86.9 336.0h0M87.2 335.0h0M86.9 336.1h0M86.8 336.7h0M87.0 338.3h0M87.1 338.2h0M87.3 336.4h0M87.7 335.8h0M87.7 334.1h0M87.6 334.9h0M87.6 336.5h0M87.6 334.9h0M87.6 340.7h0M87.2 336.8h0M87.6 337.1h0M87.4 340.4h0M87.5 334.1h0M87.8 335.9h0M87.9 337.5h0M87.7 335.5h0M87.7 334.8h0M87.7 335.1h0M87.9 337.6h0M88.0 338.8h0M87.8 335.5h0M88.2 339.2h0M87.9 334.1h0M88.7 337.3h0M88.6 335.4h0M88.6 336.8h0M88.4 337.5h0M88.3 339.7h0M88.4 334.7h0M88.4 336.3h0M88.6 339.5h0M88.4 337.4h0M88.6 334.4h0M89.0 340.8h0M88.8 337.6h0M88.8 337.6h0M88.9 337.1h0M88.8 337.7h0M88.8 337.5h0M89.0 340.4h0M89.2 339.3h0M89.1 338.3h0M88.7 335.6h0M89.3 337.4h0M89.6 335.5h0M89.3 338.4h0M89.5 339.3h0M89.3 335.0h0M89.5 340.4h0M89.4 337.3h0M89.6 337.1h0M89.3 334.9h0M89.3 335.9h0M90.0 339.0h0M90.1 337.7h0M90.0 335.6h0M89.9 336.7h0M89.7 336.7h0M89.9 334.9h0M89.9 339.1h0M89.9 335.4h0M89.7 340.3h0M90.2 336.6h0M90.4 338.7h0M90.5 338.3h0M90.4 338.6h0M90.6 337.3h0M90.5 338.8h0M90.5 337.9h0M90.2 337.8h0M90.2 336.0h0M90.4 334.6h0M90.2 337.2h0M90.7 337.6h0M91.1 339.7h0M91.0 336.9h0M91.1 337.0h0M91.0 338.5h0M91.2 338.8h0M91.1 336.1h0M90.9 337.7h0M90.7 335.6h0M90.8 335.2h0M91.1 338.8h0M91.5 335.5h0M91.2 335.2h0M91.6 336.2h0M91.6 334.5h0M91.3 334.6h0M91.6 336.4h0M91.2 334.5h0M91.5 337.6h0M91.3 334.6h0M91.3 335.2h0M92.0 335.1h0M91.7 338.3h0M91.7 337.4h0M91.7 334.6h0M92.0 336.3h0M91.7 338.6h0M91.9 334.6h0M92.1 334.5h0M91.8 335.7h0M91.9 336.5h0M92.3 338.1h0M92.3 338.4h0M92.6 337.5h0M92.2 335.8h0M92.6 336.3h0M92.3 334.4h0M92.5 335.9h0M92.4 335.1h0M92.5 336.3h0M92.3 335.0h0M92.7 340.3h0M92.7 334.3h0M92.9 337.1h0M93.1 334.0h0M92.8 337.3h0M92.9 335.9h0M93.1 334.3h0M92.8 334.4h0M92.7 338.5h0M92.8 339.7h0M92.8 340.3h0M93.5 338.1h0M93.4 337.2h0M93.5 337.9h0M93.2 334.9h0M93.5 335.3h0M93.2 340.1h0M93.6 333.9h0M93.2 336.6h0M93.4 338.0h0M93.2 338.2h0M93.6 336.9h0M93.7 336.1h0M94.0 338.4h0M94.0 340.5h0M93.7 336.2h0M93.7 337.1h0M93.9 340.4h0M94.0 335.7h0M94.0 336.1h0M93.8 335.9h0M93.9 336.3h0M94.3 334.3h0M94.3 337.7h0M94.4 334.0h0M94.5 339.5h0M94.2 335.5h0M94.6 336.3h0M94.4 340.9h0M94.2 334.8h0M94.2 336.3h0M94.4 336.0h0M94.5 335.7h0M94.9 335.8h0M94.6 334.5h0M94.9 334.4h0M95.0 340.3h0M94.6 335.0h0M94.7 334.7h0M95.1 335.4h0M94.9 337.2h0M95.1 336.1h0M94.7 335.6h0M95.2 337.6h0M95.5 335.5h0M95.3 335.1h0M95.4 337.8h0M95.1 335.9h0M95.2 336.8h0M95.2 336.1h0M95.1 338.2h0M95.4 335.0h0M95.5 338.1h0M95.8 334.5h0M95.7 335.2h0M95.6 335.0h0M95.6 337.5h0M95.8 335.9h0M95.7 335.2h0M96.1 335.6h0M95.6 339.6h0M96.0 337.3h0M95.8 335.0h0M96.3 337.9h0M96.1 339.4h0M96.1 337.2h0M96.5 339.4h0M96.3 335.9h0M96.5 333.9h0M96.4 336.1h0M96.4 337.0h0M96.5 334.7h0M96.2 336.4h0M96.2 339.3h0M96.9 336.7h0M96.8 336.5h0M96.8 340.4h0M96.9 335.2h0M96.8 335.9h0M96.7 335.5h0M96.8 336.0h0M96.9 337.2h0M96.7 334.5h0M97.0 337.5h0M97.5 335.4h0M97.2 335.1h0M97.2 335.0h0M97.1 334.5h0M97.2 334.6h0M97.2 337.6h0M97.2 336.3h0M97.2 335.8h0M97.4 335.4h0M97.3 337.2h0M97.8 336.7h0M97.7 336.6h0M97.6 337.4h0M97.7 336.7h0M97.9 340.3h0M97.8 339.6h0M97.7 335.6h0M97.9 335.7h0M98.0 337.8h0M97.7 338.9h0M98.4 335.9h0M98.4 336.6h0M98.1 336.0h0M98.5 334.9h0M98.1 337.6h0M98.3 336.1h0M98.4 340.4h0M98.5 337.2h0M98.5 335.3h0M98.2 334.5h0M98.6 338.7h0M98.8 335.3h0M98.7 334.4h0M98.7 334.2h0M98.9 335.4h0M98.7 336.6h0M98.7 336.7h0M99.0 335.3h0M98.9 337.3h0M98.7 336.2h0M99.4 338.3h0M99.4 334.2h0M99.4 335.1h0M99.4 336.0h0M99.2 335.1h0M99.2 338.7h0M99.5 334.0h0M99.1 334.6h0M99.3 337.5h0M99.2 339.0h0M99.3 338.4h0M100.0 337.9h0M99.7 336.5h0M99.6 339.1h0M99.6 334.8h0M99.8 335.0h0M99.9 337.9h0M99.6 339.9h0M99.9 336.4h0M99.9 335.7h0M99.6 336.7h0M99.7 339.3h0M100.4 336.1h0M100.2 339.4h0M100.1 337.3h0M100.4 337.4h0M100.4 337.7h0M100.3 335.7h0M100.2 337.1h0M100.0 339.5h0M100.4 339.7h0M100.1 337.0h0M101.0 334.8h0M100.7 338.7h0M100.7 339.8h0M100.6 335.2h0M100.8 334.0h0M100.7 336.9h0M100.9 338.1h0M100.6 333.7h0M100.7 334.3h0M100.7 334.1h0M100.9 337.8h0M101.3 337.9h0M101.2 335.9h0M101.2 338.3h0M101.4 335.5h0M101.4 338.0h0M101.5 337.0h0M101.2 339.3h0M101.4 336.0h0M101.5 339.7h0M101.0 335.1h0M101.7 339.4h0M101.7 338.7h0M101.5 334.6h0M101.6 337.7h0M101.6 335.2h0M101.9 334.7h0M101.7 335.4h0M101.9 335.1h0M101.6 336.9h0M101.8 338.0h0M102.3 334.8h0M102.4 336.9h0M102.0 338.3h0M102.2 334.0h0M102.1 334.7h0M102.1 336.0h0M102.4 336.8h0M102.1 337.8h0M102.4 335.5h0M102.3 338.5h0M102.4 334.6h0M102.6 336.1h0M102.9 337.0h0M102.8 335.4h0M102.9 339.7h0M102.8 339.9h0M102.6 335.7h0M102.6 335.8h0M102.9 335.7h0M102.9 336.1h0M102.7 334.2h0M103.1 336.8h0M103.3 337.6h0M103.4 337.8h0M103.1 336.6h0M103.1 336.1h0M103.1 337.6h0M103.3 335.8h0M103.0 336.4h0M103.2 337.6h0M103.2 336.2h0M103.8 334.5h0M103.7 338.1h0M103.8 338.9h0M103.5 339.1h0M103.5 337.0h0M103.7 333.9h0M103.9 334.6h0M103.8 338.7h0M103.5 334.7h0M103.8 340.0h0M103.7 338.0h0M104.2 336.9h0M104.3 335.1h0M104.4 336.7h0M104.1 334.7h0M104.0 335.2h0M104.0 338.0h0M104.4 337.9h0M104.0 339.3h0M104.4 337.2h0M104.1 334.5h0M104.6 339.3h0M104.9 337.2h0M104.7 338.9h0M104.6 334.2h0M104.9 338.6h0M104.8 339.1h0M104.7 334.8h0M104.6 335.9h0M104.5 337.9h0M104.8 337.5h0M104.6 337.6h0M105.1 335.9h0M105.1 335.8h0M105.0 339.9h0M105.0 334.9h0M105.0 337.0h0M105.4 338.3h0M105.0 338.0h0M105.2 334.3h0M105.0 336.3h0M104.9 333.8h0M105.2 335.5h0M105.7 335.2h0M105.5 338.7h0M105.6 335.2h0M105.9 335.5h0M105.5 338.0h0M105.8 337.2h0M105.6 334.3h0M105.6 335.4h0M105.5 334.7h0M105.6 334.7h0M106.4 335.7h0M106.0 337.2h0M106.4 339.3h0M106.2 336.4h0M106.1 338.0h0M106.1 338.6h0M106.0 340.2h0M106.3 334.4h0M106.0 339.9h0M106.1 339.4h0M106.1 338.2h0M106.8 334.6h0M106.8 334.8h0M106.9 337.2h0M106.5 338.9h0M106.6 335.5h0M106.8 338.9h0M106.7 339.8h0M106.7 334.6h0M106.6 335.6h0M106.7 335.7h0M107.2 340.0h0M107.1 340.1h0M107.4 337.8h0M107.0 334.9h0M107.1 336.8h0M107.3 336.8h0M107.1 335.6h0M107.1 339.2h0M107.3 336.9h0M107.4 336.6h0M107.4 340.4h0M107.6 334.5h0M107.6 335.7h0M107.6 337.4h0M107.6 337.9h0M107.4 335.4h0M107.5 334.0h0M107.7 338.9h0M107.5 338.7h0M107.8 338.1h0M107.7 336.8h0M108.3 336.7h0M108.0 339.0h0M108.0 338.8h0M108.2 335.4h0M108.2 335.6h0M108.3 336.4h0M108.0 336.0h0M107.9 336.9h0M108.0 335.7h0M108.2 337.8h0M108.7 336.6h0M108.5 339.4h0M108.8 339.6h0M108.5 335.1h0M108.4 339.1h0M108.6 339.0h0M108.4 335.1h0M108.5 334.4h0M108.4 338.1h0M108.7 339.5h0M109.1 336.1h0M109.3 337.2h0M109.3 338.5h0M109.2 337.1h0M109.3 336.6h0M109.3 339.0h0M109.0 336.4h0M109.2 337.4h0M109.3 337.4h0M109.3 334.4h0M109.7 335.2h0M109.4 335.8h0M109.7 336.9h0M109.5 335.8h0M109.5 339.0h0M109.5 334.6h0M109.6 339.3h0M109.6 335.6h0M109.7 335.9h0M109.8 338.2h0M110.3 337.5h0M110.1 335.0h0M110.2 334.6h0M109.9 336.1h0M110.1 337.3h0M110.0 337.5h0M110.3 336.9h0M110.0 335.7h0M110.3 337.3h0M109.9 335.5h0M110.7 340.5h0M110.4 334.0h0M110.6 338.1h0M110.4 336.7h0M110.5 339.0h0M110.7 338.8h0M110.8 338.4h0M110.8 337.5h0M110.5 335.1h0M110.6 339.1h0M110.8 336.2h0M111.0 334.8h0M111.1 339.8h0M111.3 336.2h0M111.0 340.2h0M110.9 339.3h0M111.0 336.5h0M111.0 335.0h0M111.1 337.1h0M111.1 338.3h0M111.1 338.4h0M111.6 336.0h0M111.5 335.6h0M111.5 334.6h0M111.4 336.4h0M111.5 337.1h0M111.4 337.8h0M111.4 335.8h0M111.7 335.3h0M111.8 337.5h0M111.6 334.4h0M112.1 335.8h0M111.8 334.8h0M112.0 335.3h0M111.9 336.7h0M112.1 335.2h0M112.1 336.0h0M112.3 338.1h0M112.0 334.6h0M112.0 336.1h0M112.1 334.2h0M112.7 340.3h0M112.5 335.1h0M112.4 335.0h0M112.8 335.1h0M112.7 338.0h0M112.4 334.1h0M112.5 334.3h0M112.6 334.2h0M112.3 334.8h0M112.7 336.2h0M112.4 338.6h0M113.0 334.9h0M113.3 338.3h0M112.8 340.2h0M113.0 334.5h0M113.2 335.8h0M112.8 338.1h0M112.9 338.9h0M112.9 340.2h0M113.1 337.4h0M113.0 337.9h0M113.2 337.8h0M113.4 338.4h0M113.5 337.6h0M113.4 336.2h0M113.4 334.8h0M113.7 336.9h0M113.7 338.7h0M113.4 334.8h0M113.5 335.6h0M113.7 335.8h0M113.5 337.6h0M114.2 336.0h0M113.8 335.3h0M113.9 335.2h0M113.9 340.5h0M114.2 335.0h0M114.0 334.9h0M113.8 339.2h0M114.3 334.8h0M114.1 337.9h0M114.1 340.9h0M114.7 338.5h0M114.3 336.8h0M114.6 337.9h0M114.7 334.6h0M114.4 337.5h0M114.7 336.7h0M114.7 337.9h0M114.7 335.0h0M114.7 334.8h0M114.5 336.7h0M115.1 336.2h0M114.8 338.4h0M115.0 335.0h0M115.2 333.7h0M115.0 333.8h0M115.0 338.7h0M115.2 339.4h0M115.0 334.8h0M115.1 334.4h0M115.0 336.8h0M114.9 335.7h0M115.5 335.6h0M115.5 335.5h0M115.5 335.1h0M115.4 337.5h0M115.4 334.5h0M115.6 334.2h0M115.5 334.2h0M115.6 334.5h0M115.4 334.0h0M115.4 335.2h0M115.9 339.5h0M115.8 340.6h0M116.0 336.2h0M115.8 340.2h0M115.8 336.1h0M116.1 334.4h0M116.0 335.2h0M115.9 340.0h0M116.0 337.7h0M116.0 339.4h0M116.1 334.5h0M116.3 338.0h0M116.3 333.8h0M116.4 339.0h0M116.7 338.5h0M116.3 337.3h0M116.3 336.7h0M116.5 337.7h0M116.5 334.8h0M116.4 338.0h0M116.6 337.0h0M116.4 334.0h0M116.9 338.1h0M117.1 336.0h0M117.2 338.3h0M117.1 335.9h0M116.8 338.4h0M117.2 337.2h0M116.8 339.3h0M116.9 336.0h0M116.8 339.1h0M117.2 338.3h0M117.6 335.1h0M117.5 336.8h0M117.6 337.4h0M117.6 335.4h0M117.3 340.7h0M117.6 336.7h0M117.5 335.6h0M117.5 339.2h0M117.5 337.9h0M117.5 340.3h0M117.7 338.7h0M118.1 337.1h0M118.0 338.3h0M117.7 336.3h0M117.8 338.7h0M117.8 336.0h0M118.1 333.6h0M117.8 334.3h0M118.0 340.5h0M117.9 333.5h0M118.1 335.3h0M118.1 333.7h0M118.3 340.0h0M118.5 338.8h0M118.7 334.1h0M118.5 336.0h0M118.3 334.9h0M118.4 335.2h0M118.4 334.9h0M118.3 334.1h0M118.6 337.6h0M118.4 338.5h0M119.2 336.8h0M118.9 336.9h0M118.9 337.1h0M119.0 335.4h0M119.1 340.3h0M119.2 337.6h0M118.9 336.5h0M119.2 340.2h0M119.1 335.6h0M119.0 337.2h0M119.5 336.9h0M119.7 336.2h0M119.4 334.4h0M119.2 334.4h0M119.4 339.2h0M119.5 338.2h0M119.4 336.4h0M119.7 335.6h0M119.4 335.8h0M119.5 339.1h0M119.8 339.4h0M119.9 340.2h0M119.8 338.8h0M120.0 337.2h0M119.7 334.1h0M120.1 335.7h0M120.0 335.5h0M119.8 335.5h0M119.9 338.7h0M119.8 334.9h0M120.6 334.1h0M120.7 336.8h0M120.5 336.1h0M120.2 335.3h0M120.6 338.7h0M120.4 335.9h0M120.7 337.6h0M120.6 339.8h0M120.5 338.0h0M120.6 338.8h0M120.9 335.6h0M121.0 337.8h0M121.0 339.2h0M120.9 335.0h0M120.8 338.5h0M120.9 338.7h0M120.9 337.4h0M121.0 340.5h0M121.1 337.5h0M120.7 336.3h0M121.3 335.5h0M121.2 334.6h0M121.3 336.3h0M121.2 334.3h0M121.6 336.0h0M121.3 337.7h0M121.5 338.2h0M121.5 334.8h0M121.2 338.3h0M121.6 335.0h0M121.7 336.2h0M122.1 334.6h0M121.7 337.1h0M121.9 335.2h0M121.9 340.2h0M121.7 337.0h0M121.7 336.9h0M122.0 336.9h0M121.9 340.6h0M122.0 340.3h0M122.2 337.2h0M122.6 334.8h0M122.6 335.5h0M122.4 335.0h0M122.2 340.3h0M122.6 335.4h0M122.4 338.2h0M122.6 338.5h0M122.3 334.2h0M122.5 334.7h0M123.1 337.0h0M122.8 335.9h0M122.8 337.4h0M122.9 334.0h0M122.9 337.4h0M122.7 334.4h0M123.0 338.4h0M123.0 339.6h0M122.7 337.8h0M123.0 336.2h0M123.0 334.0h0M123.6 336.7h0M123.4 340.8h0M123.2 336.7h0M123.3 336.1h0M123.1 333.7h0M123.4 338.8h0M123.5 335.8h0M123.5 333.5h0M123.4 340.9h0M123.2 336.9h0M123.3 336.4h0M123.9 340.0h0M123.6 340.3h0M124.0 337.1h0M123.9 337.2h0M124.0 333.9h0M123.9 338.6h0M124.0 338.5h0M124.0 336.1h0M123.6 338.7h0M123.7 337.3h0M124.1 335.3h0M124.3 340.3h0M124.2 334.6h0M124.3 338.1h0M124.6 338.5h0M124.5 337.4h0M124.3 337.7h0M124.3 338.2h0M124.3 336.9h0M124.3 340.5h0M124.3 334.9h0M124.7 338.5h0M124.9 335.7h0M124.6 337.7h0M124.9 335.4h0M124.9 335.6h0M125.1 334.3h0M124.7 334.4h0M124.7 340.8h0M125.0 334.1h0M124.7 335.0h0M124.7 334.1h0M125.3 334.4h0M125.3 336.4h0M125.2 338.8h0M125.4 334.7h0M125.3 340.7h0M125.2 336.7h0M125.1 339.1h0M125.2 334.8h0M125.3 339.2h0M125.4 336.2h0M126.0 336.1h0M125.6 336.0h0M125.9 336.5h0M125.7 338.6h0M125.9 335.0h0M125.6 335.1h0M125.8 335.8h0M126.0 339.6h0M126.0 335.1h0M125.8 338.2h0M125.9 336.0h0M126.4 335.4h0M126.5 334.3h0M126.6 340.4h0M126.5 334.6h0M126.6 335.1h0M126.6 334.1h0M126.2 339.3h0M126.4 334.5h0M126.4 336.6h0M126.5 336.2h0M126.9 336.3h0M126.8 334.7h0M126.6 337.5h0M126.6 335.4h0M126.8 334.1h0M126.8 334.0h0M126.7 333.9h0M127.0 337.8h0M126.8 339.7h0M126.9 335.3h0M126.8 336.8h0M127.5 338.6h0M127.5 335.4h0M127.3 334.1h0M127.4 336.6h0M127.3 337.6h0M127.3 339.6h0M127.4 337.6h0M127.4 336.0h0M127.6 335.3h0M127.1 339.3h0M127.8 336.8h0M127.9 334.3h0M127.6 335.9h0M127.7 337.3h0M128.0 339.9h0M127.7 336.6h0M127.9 334.2h0M128.0 334.3h0M128.0 336.9h0M127.7 334.6h0M128.4 334.9h0M128.5 336.2h0M128.2 340.6h0M128.2 335.5h0M128.2 338.6h0M128.1 340.2h0M128.3 335.5h0M128.5 334.8h0M128.1 338.5h0M128.5 337.9h0M128.3 334.7h0M128.6 336.7h0M128.8 336.3h0M128.6 334.0h0M128.8 335.5h0M128.9 338.2h0M128.6 335.8h0M129.0 334.3h0M129.0 338.6h0M129.0 339.7h0M128.7 334.7h0M128.6 334.9h0M129.5 334.3h0M129.4 338.8h0M129.1 339.7h0M129.2 337.7h0M129.5 334.4h0M129.1 336.6h0M129.4 337.1h0M129.3 334.2h0M129.5 338.8h0M129.4 336.7h0M129.1 337.7h0M129.6 338.8h0M130.0 336.8h0M130.0 337.9h0M129.6 333.9h0M129.7 333.8h0M129.9 334.4h0M129.7 335.1h0M129.9 335.2h0M130.0 334.0h0M129.8 333.8h0M129.9 334.0h0M130.2 339.2h0M130.0 336.0h0M130.5 336.1h0M130.5 335.2h0M130.3 337.4h0M130.1 334.5h0M130.5 334.8h0M130.2 335.5h0M130.3 335.2h0M130.3 340.6h0M130.7 337.8h0M130.7 340.5h0M130.8 334.5h0M130.8 338.6h0M131.0 334.8h0M131.0 339.4h0M130.9 337.8h0M130.9 337.5h0M130.6 334.3h0M130.9 335.9h0M131.3 335.7h0M131.2 337.2h0M131.1 335.9h0M131.2 337.1h0M131.2 334.4h0M131.3 339.1h0M131.1 335.1h0M131.5 338.5h0M131.3 336.7h0M131.2 335.5h0M131.9 338.4h0M131.8 338.9h0M131.6 337.4h0M131.8 336.4h0M131.5 336.4h0M131.6 338.8h0M131.9 335.5h0M131.6 334.8h0M132.0 334.3h0M131.6 335.4h0M131.7 336.8h0M132.1 334.4h0M132.2 339.0h0M132.2 337.1h0M132.1 335.5h0M132.3 335.6h0M132.4 334.8h0M132.5 335.7h0M132.5 334.3h0M132.1 337.5h0M132.2 337.0h0M132.7 335.4h0M132.7 336.0h0M132.8 336.2h0M132.5 337.6h0M132.9 337.7h0M133.0 334.6h0M132.7 334.5h0M132.6 337.0h0M132.9 339.7h0M132.7 337.4h0M133.2 336.1h0M133.4 340.0h0M133.1 335.6h0M133.2 335.4h0M133.4 334.9h0M133.1 338.5h0M133.3 340.0h0M133.3 336.0h0M133.2 334.8h0M133.0 340.5h0M133.9 340.2h0M133.8 335.7h0M133.5 336.9h0M133.8 335.6h0M133.6 340.6h0M133.5 338.1h0M133.6 338.4h0M133.6 339.4h0M133.7 337.4h0M133.6 337.1h0M133.9 334.6h0M134.0 336.5h0M134.0 335.2h0M134.1 334.4h0M134.1 336.6h0M134.0 339.0h0M134.1 334.6h0M134.5 336.1h0M134.3 335.5h0M134.2 334.6h0M134.1 334.7h0M134.7 336.3h0M134.8 338.9h0M134.6 334.8h0M134.6 338.1h0M134.7 334.5h0M134.6 339.0h0M134.5 334.5h0M134.6 335.7h0M134.5 337.3h0M134.7 335.7h0M135.2 338.9h0M135.2 336.7h0M135.1 339.1h0M135.4 338.6h0M135.1 336.7h0M135.0 334.9h0M135.0 334.6h0M135.0 340.4h0M135.2 336.3h0M135.2 334.2h0M135.3 334.7h0M135.8 334.6h0M135.9 334.9h0M135.5 336.3h0M135.8 336.3h0M135.7 337.6h0M135.5 334.1h0M135.6 340.3h0M135.6 333.6h0M135.4 333.6h0M135.5 340.2h0M135.9 338.0h0M136.1 337.3h0M136.4 338.0h0M136.3 334.2h0M136.1 339.2h0M136.3 338.8h0M136.1 338.4h0M136.4 337.8h0M136.2 335.2h0M136.1 335.8h0M136.3 333.4h0M136.1 337.3h0M136.7 337.8h0M136.6 335.9h0M136.8 335.5h0M136.7 339.2h0M136.8 338.6h0M136.8 334.6h0M136.6 334.3h0M136.7 335.4h0M136.8 335.8h0M136.5 336.2h0M137.3 336.6h0M137.4 333.9h0M137.1 334.2h0M137.0 338.9h0M137.2 334.4h0M137.3 337.6h0M137.2 334.6h0M137.3 333.6h0M137.0 334.8h0M137.2 337.8h0M137.4 336.3h0M137.9 336.3h0M137.7 336.0h0M137.8 335.5h0M137.5 339.9h0M137.9 335.0h0M137.5 334.4h0M137.7 335.8h0M137.8 334.1h0M137.6 339.9h0M137.7 337.7h0M137.8 335.4h0M138.3 338.9h0M138.0 336.3h0M138.0 336.4h0M138.0 333.8h0M138.3 334.8h0M138.3 338.2h0M138.2 335.8h0M137.9 338.2h0M138.3 338.1h0M138.3 336.6h0M138.1 339.2h0M138.6 338.3h0M138.5 338.8h0M138.8 337.2h0M138.7 337.4h0M138.8 336.2h0M138.6 333.8h0M138.8 333.6h0M138.8 338.3h0M138.6 334.6h0M138.5 336.7h0M138.5 336.7h0M139.0 336.0h0M139.0 336.6h0M139.2 335.2h0M139.1 338.8h0M139.4 336.3h0M139.1 340.2h0M139.3 334.9h0M139.2 336.8h0M139.1 334.7h0M139.3 336.0h0M139.2 334.6h0M139.5 335.3h0M139.7 337.7h0M139.8 335.3h0M139.4 336.7h0M139.7 334.5h0M139.7 338.4h0M139.5 334.2h0M139.8 337.1h0M139.6 335.2h0M139.7 338.2h0M140.3 336.9h0M139.9 339.5h0M139.9 335.7h0M140.0 335.7h0M140.0 334.9h0M140.1 334.2h0M140.2 336.7h0M140.3 337.7h0M140.1 337.5h0M139.9 337.8h0M139.9 339.4h0M140.5 336.5h0M140.6 336.1h0M140.5 338.1h0M140.4 334.7h0M140.4 336.1h0M140.6 339.8h0M140.8 336.8h0M140.6 335.5h0M140.5 337.5h0M140.4 334.9h0M141.3 334.7h0M141.1 336.1h0M141.0 336.8h0M141.0 334.3h0M141.2 334.5h0M141.0 338.6h0M140.9 336.2h0M141.0 338.1h0M141.1 336.3h0M141.2 334.6h0M141.6 334.6h0M141.5 336.5h0M141.6 335.4h0M141.7 337.4h0M141.5 336.1h0M141.8 337.4h0M141.6 338.4h0M141.8 340.0h0M141.5 339.7h0M141.6 336.2h0M142.2 338.3h0M141.9 337.8h0M142.3 334.9h0M142.0 340.3h0M141.9 337.1h0M141.8 335.8h0M142.1 337.4h0M141.9 334.5h0M142.0 338.4h0M142.3 335.5h0M142.5 334.8h0M142.7 334.4h0M142.8 336.1h0M142.7 334.2h0M142.4 335.8h0M142.7 334.8h0M142.7 336.8h0M142.8 336.6h0M142.5 336.9h0M142.7 339.7h0M142.3 339.9h0M142.9 339.3h0M142.8 338.3h0M143.1 335.5h0M143.1 334.6h0M142.8 334.8h0M142.8 336.3h0M142.9 335.6h0M143.2 335.2h0M143.0 339.1h0M143.2 335.8h0M143.5 336.6h0M143.8 339.3h0M143.6 334.6h0M143.4 335.2h0M143.7 338.3h0M143.5 337.0h0M143.8 334.4h0M143.8 337.4h0M143.7 336.6h0M143.6 335.7h0M143.7 337.6h0M143.9 334.6h0M144.0 334.2h0M143.9 335.9h0M144.3 335.5h0M144.2 334.3h0M144.1 338.8h0M144.1 335.8h0M144.0 338.8h0M144.0 335.1h0M144.0 335.0h0M144.7 336.0h0M144.8 338.5h0M144.7 337.0h0M144.4 338.9h0M144.4 335.6h0M144.7 337.9h0M144.5 339.3h0M144.6 339.4h0M144.5 334.5h0M144.6 337.9h0M144.8 335.0h0M145.2 336.5h0M144.9 338.3h0M145.2 335.1h0M145.3 338.6h0M145.0 334.7h0M145.1 336.5h0M144.9 333.9h0M144.9 335.1h0M145.1 334.7h0M145.2 336.6h0M145.3 335.1h0M145.4 339.3h0M145.3 337.9h0M145.3 338.9h0M145.5 337.5h0M145.4 338.8h0M145.6 336.3h0M145.5 338.6h0M145.7 339.5h0M145.5 338.5h0M145.6 336.3h0M146.1 335.4h0M145.8 340.6h0M146.1 334.5h0M146.2 333.4h0M146.2 335.9h0M146.1 337.3h0M146.3 333.5h0M146.1 338.2h0M146.0 335.1h0M146.2 335.4h0M146.2 334.6h0M146.3 335.1h0M146.5 334.7h0M146.3 336.5h0M146.4 336.6h0M146.7 334.9h0M146.7 334.5h0M146.3 335.1h0M146.6 334.9h0M146.4 337.3h0M146.6 338.0h0M146.5 337.0h0M146.8 338.7h0M147.0 334.7h0M147.1 338.0h0M147.1 335.2h0M147.2 335.8h0M147.1 335.9h0M146.8 336.3h0M146.8 336.1h0M147.1 337.6h0M146.8 336.8h0M147.4 335.7h0M147.3 334.5h0M147.7 337.6h0M147.7 335.1h0M147.6 337.3h0M147.4 338.7h0M147.6 335.8h0M147.7 336.1h0M147.3 338.7h0M147.3 338.1h0M148.0 335.9h0M147.9 334.2h0M148.0 338.3h0M147.9 337.2h0M147.8 336.1h0M148.0 340.5h0M147.9 339.3h0M147.9 338.8h0M147.8 337.3h0M147.8 339.8h0M148.1 338.4h0M148.4 335.9h0M148.6 339.4h0M148.2 337.3h0M148.7 337.3h0M148.4 335.7h0M148.2 335.8h0M148.6 334.0h0M148.5 335.3h0M148.3 336.7h0M148.3 337.7h0M148.3 337.1h0M148.9 340.3h0M149.2 337.3h0M148.9 335.8h0M149.1 335.8h0M148.9 336.5h0M148.9 335.4h0M148.9 334.6h0M148.9 338.6h0M149.2 339.9h0M149.2 334.3h0M149.4 339.4h0M149.4 335.3h0M149.3 335.5h0M149.4 336.3h0M149.6 336.6h0M149.5 337.5h0M149.5 334.8h0M149.6 334.1h0M149.4 339.5h0M149.2 339.0h0M149.6 338.7h0M149.7 334.7h0M149.9 338.9h0M150.0 334.8h0M149.7 336.9h0M149.8 333.8h0M149.9 336.6h0M150.0 334.5h0M150.2 337.0h0M149.9 334.4h0M150.1 335.3h0M150.1 333.9h0M150.5 338.3h0M150.7 340.5h0M150.4 337.0h0M150.2 337.9h0M150.4 339.6h0M150.6 337.7h0M150.4 335.3h0M150.6 338.4h0M150.6 338.1h0M150.7 334.7h0M150.7 334.6h0M151.0 334.9h0M150.9 334.0h0M150.9 335.0h0M150.7 334.2h0M150.9 339.1h0M150.9 339.2h0M151.0 335.7h0M150.8 339.6h0M151.1 335.5h0M151.0 334.0h0M151.4 340.1h0M151.6 335.0h0M151.4 336.3h0M151.5 336.0h0M151.5 338.3h0M151.5 335.5h0M151.4 336.6h0M151.4 336.2h0M151.6 340.3h0M151.6 335.6h0M151.8 335.8h0M152.1 339.0h0M152.0 335.2h0M151.8 334.8h0M151.9 339.7h0M152.1 340.2h0M152.1 336.3h0M151.7 339.0h0M151.7 335.7h0M152.1 337.4h0M152.0 336.2h0M152.3 339.1h0M152.4 334.3h0M152.3 334.4h0M152.2 334.2h0M152.4 334.3h0M152.4 336.1h0M152.5 338.8h0M152.2 337.0h0M152.2 338.2h0M152.3 339.2h0M152.6 335.5h0M153.1 340.6h0M153.1 335.0h0M152.9 334.3h0M152.8 339.2h0M152.7 335.3h0M152.8 338.2h0M153.1 334.6h0M152.8 337.6h0M152.9 337.2h0M153.1 336.4h0M153.2 334.3h0M153.3 334.3h0M153.6 337.1h0M153.3 335.5h0M153.2 339.9h0M153.2 336.3h0M153.5 335.9h0M153.6 339.7h0M153.5 335.6h0M153.5 336.6h0M153.8 338.4h0M154.1 335.3h0M154.1 336.4h0M153.7 335.5h0M153.8 335.9h0M153.9 336.4h0M153.7 334.7h0M153.8 334.9h0M154.1 336.4h0M153.7 337.4h0M154.3 339.7h0M154.6 335.9h0M154.4 339.5h0M154.4 334.8h0M154.2 334.2h0M154.2 339.2h0M154.5 338.7h0M154.6 338.1h0M154.2 335.8h0M154.1 339.4h0M154.4 335.1h0M155.0 338.8h0M155.0 336.8h0M155.0 339.1h0M154.9 339.5h0M154.7 337.5h0M154.9 336.1h0M154.7 337.8h0M155.1 340.3h0M154.8 334.6h0M155.0 336.1h0M154.7 338.2h0M155.4 337.7h0M155.6 334.2h0M155.5 338.1h0M155.3 334.1h0M155.3 333.4h0M155.3 336.1h0M155.5 339.4h0M155.4 335.5h0M155.2 338.7h0M155.1 337.1h0M155.4 339.7h0M155.7 334.7h0M155.6 340.7h0M155.9 337.5h0M156.1 337.2h0M156.0 336.6h0M155.9 337.2h0M156.0 340.3h0M156.0 335.6h0M156.0 339.4h0M156.0 336.4h0M156.0 336.4h0M156.5 335.8h0M156.6 336.1h0M156.3 334.1h0M156.2 334.6h0M156.4 333.4h0M156.1 337.7h0M156.6 335.7h0M156.2 335.0h0M156.3 335.8h0M156.2 340.2h0M156.5 335.2h0M156.8 337.8h0M156.6 335.8h0M157.0 333.6h0M156.8 337.8h0M156.7 333.6h0M156.9 336.0h0M157.0 334.7h0M156.9 334.5h0M156.9 334.6h0M156.8 334.9h0M156.7 340.0h0M157.5 338.4h0M157.5 336.7h0M157.4 334.4h0M157.5 335.6h0M157.2 338.8h0M157.4 336.0h0M157.4 337.2h0M157.2 334.1h0M157.4 335.4h0M157.1 336.3h0M157.3 339.7h0M157.7 336.0h0M158.0 336.0h0M157.7 334.9h0M157.9 335.0h0M157.9 339.0h0M157.8 338.2h0M157.7 340.0h0M158.0 336.4h0M157.7 335.5h0M157.8 339.8h0M158.5 336.0h0M158.4 335.9h0M158.2 339.9h0M158.4 337.8h0M158.4 337.6h0M158.3 333.9h0M158.1 337.9h0M158.4 336.8h0M158.5 339.2h0M158.1 334.5h0M158.1 337.8h0M158.8 334.6h0M158.8 335.5h0M158.6 336.5h0M158.7 338.6h0M158.7 337.4h0M158.9 339.5h0M158.7 334.3h0M158.7 340.4h0M159.0 340.7h0M158.8 335.6h0M159.5 333.6h0M159.3 333.4h0M159.2 337.4h0M159.4 335.4h0M159.5 339.1h0M159.2 335.4h0M159.1 336.2h0M159.5 340.3h0M159.5 334.8h0M159.3 338.3h0M159.4 337.2h0M159.6 334.9h0M160.0 334.0h0M160.0 339.9h0M159.9 338.2h0M159.6 334.7h0M160.0 339.8h0M159.7 336.6h0M160.0 336.7h0M159.6 335.0h0M160.0 338.9h0M160.0 333.8h0M160.5 335.8h0M160.5 335.6h0M160.2 335.4h0M160.2 337.5h0M160.0 339.7h0M160.1 335.6h0M160.3 337.2h0M160.3 337.7h0M160.2 335.9h0M160.4 335.2h0M160.3 334.0h0M161.0 337.6h0M160.9 339.3h0M161.0 335.7h0M160.6 339.1h0M160.9 335.0h0M160.7 336.5h0M160.9 334.4h0M160.9 337.0h0M160.7 335.1h0M160.6 335.0h0M160.9 334.5h0M161.2 338.4h0M161.2 335.9h0M161.2 334.6h0M161.3 335.1h0M161.5 335.1h0M161.1 337.7h0M161.0 337.3h0M161.2 337.8h0M161.2 338.7h0M161.4 337.3h0M161.7 337.6h0M161.6 335.8h0M161.7 335.4h0M161.8 334.5h0M161.7 340.2h0M161.6 335.5h0M161.6 336.3h0M161.6 335.0h0M161.7 338.1h0M162.0 335.7h0M162.5 334.6h0M162.0 334.1h0M162.1 335.1h0M162.2 337.8h0M162.2 340.7h0M162.4 338.0h0M162.3 339.0h0M162.1 340.5h0M162.2 337.0h0M162.4 336.9h0M162.3 336.0h0M162.7 335.0h0M163.0 336.8h0M162.7 334.9h0M162.8 340.2h0M162.6 336.0h0M162.6 336.6h0M163.0 336.6h0M162.7 335.1h0M162.8 334.9h0M162.5 334.9h0M163.1 336.3h0M163.3 339.0h0M163.4 336.8h0M163.4 337.6h0M163.2 336.5h0M163.3 335.3h0M163.2 336.1h0M163.1 335.6h0M163.2 334.5h0M163.4 339.8h0M163.7 337.6h0M163.6 335.2h0M163.9 336.8h0M163.7 337.5h0M163.9 333.7h0M163.7 336.7h0M163.6 337.9h0M163.7 337.0h0M163.6 337.3h0M163.5 337.9h0M163.8 334.1h0M164.3 338.5h0M164.4 338.3h0M164.0 334.3h0M164.1 338.6h0M164.2 334.8h0M164.2 336.9h0M164.3 340.4h0M164.4 335.5h0M164.3 337.6h0M164.5 339.8h0M164.8 335.9h0M164.5 335.0h0M164.7 337.8h0M164.8 337.4h0M164.5 337.3h0M164.5 338.0h0M164.8 339.8h0M164.7 337.0h0M164.5 338.7h0M164.5 336.7h0M165.0 336.0h0M165.4 340.1h0M165.3 337.6h0M165.0 334.3h0M165.1 334.4h0M165.4 338.1h0M165.4 334.0h0M165.0 334.2h0M165.3 340.7h0M165.2 334.3h0M165.4 334.2h0M165.5 337.5h0M165.6 335.7h0M165.6 336.1h0M165.6 336.7h0M165.8 334.7h0M165.5 336.8h0M165.6 335.7h0M165.8 335.2h0M165.5 339.0h0M165.9 337.7h0M165.8 340.5h0M166.1 335.4h0M166.0 334.2h0M166.3 335.7h0M166.2 334.7h0M166.2 335.6h0M166.1 340.5h0M166.2 334.7h0M166.3 339.6h0M166.0 338.8h0M166.3 337.7h0M166.1 334.3h0M166.8 337.7h0M166.8 338.1h0M166.7 339.2h0M166.6 336.0h0M166.8 339.0h0M166.8 334.4h0M166.7 338.2h0M166.8 336.4h0M166.8 335.1h0M166.9 339.1h0M167.0 334.0h0M167.4 335.3h0M167.2 339.0h0M167.1 339.2h0M167.1 339.6h0M166.9 340.0h0M167.1 339.0h0M167.0 335.3h0M167.3 334.3h0M167.3 334.3h0M167.7 336.9h0M167.6 340.5h0M167.8 337.6h0M167.8 333.8h0M167.8 336.3h0M167.7 334.1h0M167.5 335.8h0M167.7 335.7h0M167.6 336.6h0M167.7 334.7h0M167.9 340.0h0M168.2 335.4h0M168.2 334.4h0M168.1 337.0h0M168.2 333.5h0M168.1 336.8h0M168.2 333.4h0M168.0 335.6h0M168.2 334.0h0M168.1 335.5h0M168.0 337.0h0M167.9 337.8h0M168.6 337.1h0M168.5 338.2h0M168.6 335.6h0M168.7 333.9h0M168.5 334.8h0M168.4 338.4h0M168.4 336.6h0M168.4 339.9h0M168.7 335.7h0M168.5 335.8h0M168.6 334.5h0M169.2 333.7h0M169.0 336.7h0M169.3 335.1h0M168.9 340.6h0M169.0 333.8h0M168.9 340.4h0M169.3 339.1h0M169.1 334.3h0M169.1 340.1h0M169.1 335.1h0M169.0 338.0h0M169.4 335.5h0M169.4 338.5h0M169.6 335.1h0M169.4 334.1h0M169.6 338.9h0M169.5 336.4h0M169.4 338.9h0M169.9 334.5h0M169.7 335.2h0M169.4 338.1h0M169.4 336.1h0M169.9 334.3h0M169.9 334.4h0M170.1 336.9h0M169.9 337.5h0M170.1 335.8h0M170.4 337.9h0M169.9 334.5h0M170.1 337.4h0M170.3 336.1h0M170.1 339.2h0M170.5 335.6h0M170.5 338.2h0M170.7 334.8h0M170.9 335.1h0M170.7 335.6h0M170.5 333.8h0M170.7 339.9h0M170.6 337.4h0M170.4 335.1h0M170.8 333.9h0M170.8 333.4h0M171.1 337.3h0M171.2 335.6h0M170.9 338.1h0M171.0 339.8h0M171.0 336.8h0M171.0 339.1h0M171.3 339.9h0M171.0 335.7h0M171.1 335.9h0M170.9 334.4h0M171.8 337.1h0M171.8 340.3h0M171.5 333.9h0M171.4 334.6h0M171.5 336.7h0M171.5 337.5h0M171.8 336.7h0M171.4 335.1h0M171.5 336.3h0M171.7 336.8h0M171.4 335.2h0M172.2 333.6h0M172.1 338.4h0M172.0 334.3h0M172.3 337.8h0M172.3 334.5h0M172.0 334.2h0M172.1 338.9h0M172.1 338.0h0M172.1 333.4h0M171.9 335.8h0M172.1 338.7h0M172.5 334.1h0M172.8 336.2h0M172.5 339.0h0M172.5 336.2h0M172.6 339.1h0M172.7 336.5h0M172.8 337.1h0M172.6 334.7h0M172.5 334.7h0M172.6 339.3h0M172.8 334.1h0M173.0 336.3h0M172.9 337.3h0M172.9 336.6h0M173.1 334.5h0M173.2 338.2h0M173.2 334.3h0M172.9 336.5h0M172.9 338.3h0M173.1 340.6h0M173.1 338.0h0M173.6 338.7h0M173.4 334.5h0M173.5 336.5h0M173.4 334.4h0M173.6 338.1h0M173.7 336.0h0M173.6 337.2h0M173.4 335.4h0M173.3 339.9h0M173.6 334.8h0M173.9 334.2h0M173.9 338.5h0M174.0 335.7h0M174.1 333.7h0M174.1 337.1h0M174.0 338.5h0M174.2 338.6h0M174.1 339.5h0M174.2 337.1h0M174.2 338.7h0M174.1 333.9h0M174.4 339.4h0M174.6 333.5h0M174.5 335.1h0M174.6 333.5h0M174.5 339.5h0M174.4 333.9h0M174.4 335.8h0M174.6 333.9h0M174.5 338.1h0M174.8 335.6h0M174.8 334.6h0M175.0 340.8h0M175.2 337.3h0M174.8 334.9h0M175.3 334.9h0M174.9 337.4h0M175.0 337.7h0M175.1 335.0h0M174.9 337.1h0M175.0 338.0h0M175.1 334.6h0M175.2 333.7h0M175.8 334.4h0M175.5 334.6h0M175.8 337.8h0M175.5 340.3h0M175.7 334.3h0M175.4 336.5h0M175.4 337.2h0M175.5 333.5h0M175.4 335.6h0M175.7 334.8h0M175.3 337.2h0M175.9 336.5h0M176.2 338.4h0M176.0 333.6h0M175.8 337.7h0M175.8 339.9h0M176.2 336.0h0M176.1 337.9h0M176.1 338.9h0M175.9 339.8h0M176.2 337.4h0M175.9 336.7h0M176.7 338.1h0M176.3 334.8h0M176.6 338.8h0M176.5 339.0h0M176.7 334.4h0M176.3 338.5h0M176.5 336.0h0M176.7 334.5h0M176.7 336.2h0M176.6 334.5h0M141.9 330.0h0M142.6 330.0h0M143.3 330.0h0M143.9 330.0h0M144.6 330.0h0M127.5 329.5h0M128.2 329.5h0M128.8 329.5h0M129.5 329.5h0M51.5 332.2h0M52.1 332.2h0M52.8 332.2h0M53.4 332.2h0M54.1 332.2h0M54.8 332.2h0M55.4 332.2h0M148.0 332.8h0M148.7 332.8h0M149.3 332.8h0M150.0 332.8h0M150.7 332.8h0M151.3 332.8h0M152.0 332.8h0M72.1 332.8h0M72.8 332.8h0M73.4 332.8h0M74.1 332.8h0M74.8 332.8h0M75.4 332.8h0M76.1 332.8h0M168.8 330.6h0M169.5 330.6h0M170.1 330.6h0M170.8 330.6h0M171.4 330.6h0M172.1 330.6h0M172.7 330.6h0M173.4 330.6h0M50.7 332.8h0M51.3 332.8h0M52.0 332.8h0M52.6 332.8h0M114.7 327.0h0M115.4 327.0h0M116.0 327.0h0M112.7 331.7h0M113.4 331.7h0M114.0 331.7h0M114.7 331.7h0M61.7 332.8h0M62.4 332.8h0M63.0 332.8h0M63.7 332.8h0M64.3 332.8h0M65.0 332.8h0M153.0 332.2h0M153.7 332.2h0M154.3 332.2h0M155.0 332.2h0M155.7 332.2h0M162.7 331.7h0M163.3 331.7h0M164.0 331.7h0M164.6 331.7h0M165.3 331.7h0M165.9 331.7h0M171.7 329.5h0M172.4 329.5h0M173.0 329.5h0M173.7 329.5h0M174.3 329.5h0M175.0 329.5h0M175.6 329.5h0M136.7 331.7h0M137.4 331.7h0M138.0 331.7h0M68.6 332.8h0M69.3 332.8h0M69.9 332.8h0M70.6 332.8h0M71.2 332.8h0M71.9 332.8h0M77.0 332.8h0M77.6 332.8h0M78.3 332.8h0M79.0 332.8h0M79.6 332.8h0M80.3 332.8h0M80.9 332.8h0M81.6 332.8h0M85.2 327.9h0M85.9 327.9h0M86.5 327.9h0M87.2 327.9h0M87.8 327.9h0M88.5 327.9h0M116.4 327.9h0M117.1 327.9h0M117.7 327.9h0M118.4 327.9h0M119.1 327.9h0M119.7 327.9h0M120.4 327.9h0M73.5 332.2h0M74.1 332.2h0M74.8 332.2h0M91.5 327.0h0M92.2 327.0h0M92.8 327.0h0M93.5 327.0h0M113.5 329.0h0M114.1 329.0h0M114.8 329.0h0M115.4 329.0h0M116.1 329.0h0M116.7 329.0h0M150.5 332.2h0M151.2 332.2h0M151.8 332.2h0M152.5 332.2h0M149.5 332.2h0M150.2 332.2h0M150.9 332.2h0M151.5 332.2h0M152.2 332.2h0M152.8 332.2h0M153.5 332.2h0M154.1 332.2h0M133.3 330.0h0M134.0 330.0h0M134.6 330.0h0M135.3 330.0h0M135.9 330.0h0M136.6 330.0h0M85.7 327.9h0M86.4 327.9h0M87.1 327.9h0M87.7 327.9h0M66.3 332.2h0M66.9 332.2h0M67.6 332.2h0M68.2 332.2h0M68.9 332.2h0M95.1 329.0h0M95.7 329.0h0M96.4 329.0h0M97.0 329.0h0M97.7 329.0h0M98.3 329.0h0M99.0 329.0h0M81.5 327.9h0M82.2 327.9h0M82.9 327.9h0M83.5 327.9h0M84.2 327.9h0M55.4 332.8h0M56.0 332.8h0M56.7 332.8h0M57.3 332.8h0M78.9 332.2h0M79.5 332.2h0M80.2 332.2h0M80.9 332.2h0M163.7 329.5h0M164.4 329.5h0M165.0 329.5h0M165.7 329.5h0M173.7 330.6h0M174.4 330.6h0M175.0 330.6h0M99.7 327.9h0M100.4 327.9h0M101.0 327.9h0M101.7 327.9h0M102.3 327.9h0M103.0 327.9h0M103.6 327.9h0M126.7 329.5h0M127.3 329.5h0M128.0 329.5h0M128.6 329.5h0M129.3 329.5h0M130.0 329.5h0M66.0 332.8h0M66.7 332.8h0M67.3 332.8h0M162.0 331.7h0M162.7 331.7h0M163.3 331.7h0M135.5 330.0h0M136.2 330.0h0M136.9 330.0h0M145.6 329.5h0M146.2 329.5h0M146.9 329.5h0M147.6 329.5h0M148.2 329.5h0M148.9 329.5h0M149.5 329.5h0M172.0 330.6h0M172.7 330.6h0M173.3 330.6h0M174.0 330.6h0M174.6 330.6h0M175.3 330.6h0M174.4 329.5h0M175.1 329.5h0M175.7 329.5h0M53.6 332.8h0M54.3 332.8h0M55.0 332.8h0M55.6 332.8h0M56.3 332.8h0M56.9 332.8h0M57.6 332.8h0M78.8 332.2h0M79.5 332.2h0M80.1 332.2h0M80.8 332.2h0M81.4 332.2h0M82.1 332.2h0M131.5 330.0h0M132.2 330.0h0M132.8 330.0h0M133.5 330.0h0M173.0 331.7h0M173.7 331.7h0M174.3 331.7h0M175.0 331.7h0M175.7 331.7h0M60.0 332.8h0M60.6 332.8h0M61.3 332.8h0M61.9 332.8h0M62.6 332.8h0M63.2 332.8h0M63.9 332.8h0M95.2 327.0h0M95.8 327.0h0M96.5 327.0h0M97.1 327.0h0M97.8 327.0h0M98.4 327.0h0M99.1 327.0h0M56.3 332.8h0M57.0 332.8h0M57.6 332.8h0M58.3 332.8h0M58.9 332.8h0M59.6 332.8h0M142.9 329.5h0M143.5 329.5h0M144.2 329.5h0M144.8 329.5h0M97.9 327.0h0M98.5 327.0h0M99.2 327.0h0M99.8 327.0h0M100.5 327.0h0M101.1 327.0h0M174.0 330.6h0M174.7 330.6h0M175.3 330.6h0M176.0 330.6h0M176.7 330.6h0M177.3 330.6h0M178.0 330.6h0M102.7 329.0h0M103.4 329.0h0M104.0 329.0h0M104.7 329.0h0M105.3 329.0h0M106.0 329.0h0M90.1 331.7h0M90.7 331.7h0M91.4 331.7h0M91.0 327.0h0M91.7 327.0h0M92.3 327.0h0M89.7 329.0h0M90.3 329.0h0M91.0 329.0h0M68.0 332.2h0M68.6 332.2h0M69.3 332.2h0M70.0 332.2h0M70.6 332.2h0M81.4 327.9h0M82.1 327.9h0M82.8 327.9h0M83.4 327.9h0M84.1 327.9h0M167.9 329.5h0M168.6 329.5h0M169.2 329.5h0M169.9 329.5h0M170.5 329.5h0M110.9 329.0h0M111.6 329.0h0M112.2 329.0h0M112.9 329.0h0M113.5 329.0h0M114.2 329.0h0M114.8 329.0h0M115.5 329.0h0M68.9 332.2h0M69.6 332.2h0M70.3 332.2h0M70.9 332.2h0M71.6 332.2h0M115.2 327.0h0M115.8 327.0h0M116.5 327.0h0M117.2 327.0h0M95.6 331.7h0M96.3 331.7h0M96.9 331.7h0M155.0 329.5h0M155.7 329.5h0M156.3 329.5h0M157.0 329.5h0M157.6 329.5h0M158.3 329.5h0M54.0 332.8h0M54.7 332.8h0M55.3 332.8h0M56.0 332.8h0M56.6 332.8h0M57.3 332.8h0M58.0 332.8h0M95.8 327.9h0M96.5 327.9h0M97.1 327.9h0M97.8 327.9h0M169.9 330.6h0M170.5 330.6h0M171.2 330.6h0M82.0 327.0h0M82.7 327.0h0M83.3 327.0h0M84.0 327.0h0M84.6 327.0h0M137.0 329.5h0M137.6 329.5h0M138.3 329.5h0M138.9 329.5h0M139.6 329.5h0M140.3 329.5h0M140.9 329.5h0M141.6 329.5h0M57.9 332.2h0M58.6 332.2h0M59.2 332.2h0M59.9 332.2h0M60.5 332.2h0M61.2 332.2h0M61.9 332.2h0M171.3 331.7h0M171.9 331.7h0M172.6 331.7h0M159.9 331.7h0M160.6 331.7h0M161.2 331.7h0M161.9 331.7h0M162.5 331.7h0M48.8 332.8h0M49.5 332.8h0M50.1 332.8h0M50.8 332.8h0M51.5 332.8h0M52.1 332.8h0M52.8 332.8h0M66.6 332.2h0M67.3 332.2h0M67.9 332.2h0M68.6 332.2h0M69.3 332.2h0M69.9 332.2h0M70.6 332.2h0M126.5 330.0h0M127.2 330.0h0M127.9 330.0h0M128.5 330.0h0M129.2 330.0h0M129.8 330.0h0M171.3 331.7h0M172.0 331.7h0M172.6 331.7h0M173.3 331.7h0M173.9 331.7h0M174.6 331.7h0M175.3 331.7h0M175.9 331.7h0M64.2 332.8h0M64.8 332.8h0M65.5 332.8h0M66.1 332.8h0M66.8 332.8h0M67.4 332.8h0M68.1 332.8h0M80.5 327.5h0M81.1 327.7h0M81.6 327.8h0M81.6 328.7h0M82.2 327.1h0M82.8 326.7h0M82.8 329.2h0M83.4 327.6h0M83.9 327.6h0M83.9 329.0h0M84.5 326.9h0M84.5 328.4h0M85.1 327.6h0M85.1 329.0h0M86.2 327.3h0M86.2 329.2h0M86.8 327.8h0M86.8 329.1h0M88.5 327.4h0M88.5 329.3h0M89.1 328.6h0M89.7 328.2h0M90.3 329.0h0M90.8 327.8h0M91.4 327.5h0M91.4 329.2h0M92.0 327.1h0M92.0 329.3h0M92.6 328.7h0M93.1 327.0h0M93.1 329.6h0M93.7 327.1h0M94.3 327.5h0M94.3 329.4h0M94.9 327.5h0M95.4 327.3h0M95.4 329.2h0M96.0 327.6h0M96.0 329.4h0M96.6 327.9h0M96.6 328.8h0M97.1 327.5h0M97.7 327.0h0M97.7 329.1h0M98.3 329.0h0M98.9 328.0h0M98.9 329.1h0M99.4 327.2h0M99.4 329.1h0M100.0 327.1h0M100.0 329.4h0M100.6 327.4h0M101.2 327.4h0M101.2 329.3h0M101.7 327.5h0M102.3 327.0h0M102.9 327.2h0M103.5 327.3h0M103.5 328.4h0M104.0 329.0h0M104.6 327.9h0M105.2 329.3h0M105.8 327.1h0M105.8 329.7h0M106.3 328.7h0M106.9 329.2h0M107.5 326.8h0M107.5 329.0h0M108.1 327.0h0M108.6 326.9h0M108.6 328.7h0M109.2 327.1h0M109.8 327.4h0M109.8 328.9h0M110.3 327.0h0M110.3 329.1h0M110.9 327.2h0M111.5 327.5h0M112.6 327.6h0M113.2 327.5h0M113.2 328.9h0M113.8 326.4h0M113.8 329.1h0M114.4 327.9h0M114.4 329.1h0M117.4 330.1h0M118.0 329.5h0M119.7 329.6h0M120.3 329.0h0M120.8 329.3h0M121.4 329.7h0M122.6 330.1h0M123.1 329.1h0M124.3 329.7h0M125.4 329.8h0M126.0 330.1h0M126.6 329.9h0M128.3 329.8h0M128.9 329.4h0M129.5 330.1h0M131.7 329.9h0M132.9 329.3h0M134.0 329.8h0M134.6 329.2h0M136.3 330.1h0M136.9 329.6h0M137.5 329.5h0M138.6 329.5h0M139.8 330.1h0M140.4 329.6h0M140.9 329.4h0M142.7 330.0h0M143.2 329.5h0M143.8 329.7h0M146.1 329.6h0M146.7 329.9h0M154.4 324.6h0M155.4 319.2h0M155.9 320.3h0M156.8 322.5h0M157.3 319.2h0M157.8 326.8h0M158.3 324.6h0M158.8 324.6h0M159.3 322.5h0M159.8 324.6h0M160.3 324.6h0M160.8 324.6h0M161.3 324.6h0M162.3 319.2h0M157.2 319.1h0M155.5 320.2h0M156.8 318.6h0M154.6 319.0h0M154.8 319.2h0M156.3 319.9h0M154.8 319.6h0M155.1 320.2h0M155.5 319.5h0M156.3 320.2h0M154.8 318.6h0M154.5 319.6h0M155.6 319.5h0M156.5 319.4h0M158.6 324.1h0M162.9 323.7h0M162.0 324.6h0M157.0 325.1h0M162.7 324.2h0M162.5 325.9h0M155.8 324.5h0M158.2 324.7h0M157.8 324.3h0M159.3 325.5h0M160.2 324.8h0M158.0 325.2h0M160.3 324.9h0M159.9 324.2h0M158.8 324.7h0M154.5 324.9h0M156.7 323.8h0M157.7 324.6h0M158.7 322.5h0M157.8 322.4h0M157.7 322.1h0M160.2 322.0h0M159.2 322.4h0M160.9 321.2h0M158.5 322.2h0M158.2 320.9h0M161.2 321.2h0M157.8 322.7h0M164.0 330.6h0M161.2 331.4h0M167.6 330.3h0M154.2 330.0h0M169.2 330.5h0M170.3 329.6h0M169.4 330.0h0M167.7 330.3h0M160.9 329.6h0M169.1 331.7h0M162.3 330.6h0M168.2 332.1h0M159.3 330.6h0M159.6 331.0h0M168.4 329.9h0M157.4 331.0h0M172.6 331.2h0M172.3 330.7h0M166.2 330.7h0M159.4 330.2h0M161.4 331.4h0M156.9 331.9h0M170.6 332.0h0M175.4 329.6h0M156.2 331.7h0M155.1 331.0h0M163.4 331.6h0M175.8 329.8h0M158.2 331.1h0M158.2 329.5h0M162.7 331.2h0M161.2 330.3h0M159.6 330.0h0M166.7 329.8h0M156.0 331.6h0M155.5 330.9h0M164.8 330.7h0M175.2 332.2h0M158.0 330.0h0M158.7 330.3h0M158.7 330.2h0M155.4 331.8h0M155.7 330.4h0M160.8 330.2h0M160.0 329.7h0M167.0 331.0h0M157.2 330.0h0M174.4 328.9h0M166.6 331.0h0M171.9 331.0h0" stroke="#cd3e28" stroke-width="2.2" stroke-linecap="round" fill="none"/>
<line x1="31.9" y1="227.6" x2="31.9" y2="346.6" stroke="#333" stroke-width="0.7"/>
<line x1="31.9" y1="346.6" x2="181.3" y2="346.6" stroke="#333" stroke-width="0.7"/>
<line x1="30.3" y1="340.9" x2="31.9" y2="340.9" stroke="#333" stroke-width="0.6"/>
<text x="29.5" y="343.3" font-size="6.9" text-anchor="end" fill="#222">0.0</text>
<line x1="30.3" y1="313.77" x2="31.9" y2="313.77" stroke="#333" stroke-width="0.6"/>
<text x="29.5" y="316.17" font-size="6.9" text-anchor="end" fill="#222">2.5</text>
<line x1="30.3" y1="286.65" x2="31.9" y2="286.65" stroke="#333" stroke-width="0.6"/>
<text x="29.5" y="289.05" font-size="6.9" text-anchor="end" fill="#222">5.0</text>
<line x1="30.3" y1="259.52" x2="31.9" y2="259.52" stroke="#333" stroke-width="0.6"/>
<text x="29.5" y="261.92" font-size="6.9" text-anchor="end" fill="#222">7.5</text>
<line x1="30.3" y1="232.4" x2="31.9" y2="232.4" stroke="#333" stroke-width="0.6"/>
<text x="29.5" y="234.8" font-size="6.9" text-anchor="end" fill="#222">10.0</text>
<line x1="35.4" y1="346.6" x2="35.4" y2="348.2" stroke="#333" stroke-width="0.6"/>
<text x="35.4" y="353.6" font-size="6.9" text-anchor="middle" fill="#222">0.0</text>
<line x1="76.4" y1="346.6" x2="76.4" y2="348.2" stroke="#333" stroke-width="0.6"/>
<text x="76.4" y="353.6" font-size="6.9" text-anchor="middle" fill="#222">0.5</text>
<line x1="117.4" y1="346.6" x2="117.4" y2="348.2" stroke="#333" stroke-width="0.6"/>
<text x="117.4" y="353.6" font-size="6.9" text-anchor="middle" fill="#222">1.0</text>
<line x1="158.4" y1="346.6" x2="158.4" y2="348.2" stroke="#333" stroke-width="0.6"/>
<text x="158.4" y="353.6" font-size="6.9" text-anchor="middle" fill="#222">1.5</text>
<circle cx="45.7" cy="226.7" r="2.1" fill="#c6c6c6"/>
<circle cx="45.7" cy="235.9" r="2.1" fill="#cd3e28"/>
<text x="50.9" y="228.9" font-size="7.9" fill="#222">ALP GWAS</text>
<text x="50.9" y="238.2" font-size="7.9" fill="#222">Conditioned on rs316348444</text>
<circle cx="74.0" cy="244.7" r="1.9" fill="#000"/>
<line x1="74" y1="244.7" x2="99.2" y2="262.6" stroke="#111" stroke-width="0.8"/>
<path d="M94.6 262.2 L99.2 262.6 L97.4 258.4" fill="none" stroke="#111" stroke-width="0.8"/>
<text x="102.8" y="264.8" font-size="7.4" fill="#222">rs316348444</text>
<text x="102.8" y="274.0" font-size="7.4" fill="#222">P=1.15×10<tspan font-size="4.3" dy="-2.8">-09</tspan></text>
<text transform="translate(8.0 299.0) rotate(-90)" font-size="10.2" fill="#111">-log<tspan font-size="5.8" dy="2.2">10</tspan><tspan dy="-2.2" font-style="italic">P</tspan></text>
<text x="47.9" y="366.3" font-size="9.7" fill="#111">Chromosome 24 Position (Mb)</text>
<text x="0" y="370.6" font-size="10.5" fill="#000" font-weight="bold">e</text>
<path d="M39.5 479.4h0M44.7 478.5h0M46.2 482.1h0M38.1 483.7h0M39.8 478.6h0M50.8 478.9h0M38.7 478.0h0M39.5 481.1h0M51.1 480.5h0M46.5 482.6h0M42.9 483.5h0M44.9 483.0h0M47.0 480.1h0M41.6 482.8h0M39.6 480.4h0M48.8 481.8h0M47.1 482.1h0M44.9 478.0h0M49.2 483.6h0M45.4 481.9h0M51.5 483.6h0M40.6 478.3h0M45.5 481.8h0M44.5 482.8h0M42.7 483.6h0M46.0 481.1h0M41.0 482.4h0M49.0 483.7h0M49.9 484.0h0M39.5 482.5h0M44.3 481.2h0M41.6 481.6h0M38.8 478.6h0M50.3 478.5h0M43.7 478.3h0M39.8 479.5h0M47.2 481.9h0M40.5 481.6h0M50.4 482.4h0M40.7 482.4h0M38.1 483.9h0M40.5 479.5h0M42.6 483.2h0M44.3 484.0h0M50.5 482.0h0M47.5 480.2h0M42.5 482.2h0M37.9 482.6h0M39.9 480.6h0M51.8 483.6h0M44.2 484.0h0M47.4 481.1h0M38.4 481.6h0M38.1 478.9h0M49.6 482.3h0M46.0 479.6h0M42.0 484.0h0M42.2 484.0h0M38.9 481.1h0M40.1 483.3h0M38.0 483.9h0M49.5 483.7h0M44.3 482.6h0M39.5 482.8h0M48.1 481.3h0M40.4 478.7h0M38.5 482.6h0M46.1 483.5h0M50.3 481.2h0M38.0 484.0h0M49.1 482.5h0M40.4 482.9h0M39.0 482.5h0M37.9 483.9h0M41.8 481.4h0M47.9 480.9h0M44.6 479.9h0M49.7 478.1h0M40.7 482.7h0M42.1 480.7h0M41.3 482.1h0M51.5 483.4h0M51.0 478.7h0M42.5 479.9h0M43.8 478.2h0M42.1 479.3h0M48.2 478.5h0M38.2 483.7h0M38.6 484.0h0M43.4 483.4h0M41.1 482.3h0M49.6 480.4h0M48.2 482.2h0M45.4 481.7h0M47.0 479.8h0M47.5 483.9h0M48.7 480.5h0M50.8 483.9h0M39.8 483.2h0M46.5 480.1h0M39.7 480.4h0M43.9 482.4h0M48.8 483.0h0M50.3 479.3h0M48.4 483.1h0M38.2 484.0h0M42.7 483.2h0M40.0 484.0h0M51.8 479.4h0M39.7 483.7h0M41.1 477.9h0M42.7 483.4h0M38.5 482.9h0M50.0 481.2h0M46.7 482.9h0M39.9 482.5h0M44.7 483.8h0M38.8 482.5h0M46.3 484.0h0M40.9 483.3h0M38.2 478.5h0M39.3 483.1h0M45.5 483.1h0M46.7 480.5h0M42.3 478.8h0M46.8 483.0h0M42.6 482.5h0M39.5 480.2h0M42.1 479.6h0M43.3 481.0h0M50.6 483.5h0M39.3 483.5h0M38.9 479.8h0M45.6 480.3h0M51.3 478.7h0M50.5 479.7h0M47.6 482.3h0M38.6 483.7h0M49.1 478.7h0M47.3 480.3h0M39.7 481.2h0M44.2 480.5h0M38.4 482.5h0M49.0 482.7h0M47.8 481.2h0M49.0 481.9h0M48.4 480.2h0M41.4 478.3h0M48.8 479.1h0M41.2 482.5h0M39.6 482.6h0M43.2 478.4h0M44.7 482.4h0M41.7 479.5h0M46.2 483.8h0M46.2 482.1h0M41.1 481.7h0M46.5 479.4h0M42.7 478.8h0M48.1 483.6h0M41.8 480.9h0M49.0 480.9h0M43.5 483.6h0M45.5 479.2h0M47.2 481.4h0M45.0 478.1h0M41.3 483.5h0M51.5 481.6h0M39.0 482.8h0M42.3 480.8h0M45.4 481.0h0M38.1 481.7h0M39.9 482.8h0M49.0 481.7h0M48.8 482.6h0M46.7 478.7h0M50.4 482.0h0M48.4 481.9h0M41.9 483.2h0M46.8 483.2h0M42.5 478.1h0M48.3 482.9h0M43.1 478.9h0M39.8 481.1h0M50.1 477.9h0M47.4 483.6h0M48.2 478.2h0M45.6 479.7h0M48.7 481.3h0M44.0 480.2h0M45.7 480.1h0M38.5 482.1h0M45.5 480.8h0M49.2 483.3h0M47.6 484.0h0M49.0 480.5h0M44.7 481.9h0M50.1 478.6h0M39.2 483.1h0M50.0 479.3h0M42.9 477.8h0M39.0 478.6h0M46.4 478.0h0M44.1 483.6h0M43.7 483.6h0M49.7 483.3h0M39.6 482.6h0M46.4 483.8h0M43.5 483.6h0M45.1 484.0h0M44.7 478.3h0M39.6 482.6h0M44.9 480.9h0M49.9 482.1h0M40.1 480.0h0M37.8 479.4h0M38.6 482.5h0M44.2 481.5h0M51.4 483.8h0M38.3 483.0h0M51.7 483.3h0M45.2 482.9h0M39.4 482.8h0M43.6 481.3h0M40.6 482.8h0M47.8 482.8h0M45.3 479.2h0M41.7 484.0h0M41.3 484.0h0M49.9 483.9h0M48.5 478.9h0M43.8 480.8h0M43.4 480.1h0M48.1 478.1h0M51.4 483.4h0M38.8 478.4h0M39.9 483.2h0M42.8 481.6h0M44.8 480.5h0M38.7 479.5h0M38.4 483.2h0M40.8 481.9h0M43.1 483.9h0M48.1 483.0h0M46.3 477.9h0M38.1 478.6h0M38.3 481.2h0M44.1 479.6h0M50.0 478.6h0M50.6 482.8h0M42.8 477.9h0M50.2 482.1h0M50.8 483.6h0M43.4 481.6h0M48.2 481.1h0M42.8 480.4h0M39.8 480.5h0M45.8 483.9h0M38.9 480.8h0M47.0 478.4h0M36.0 474.6h0M51.8 475.2h0M42.7 476.4h0M55.2 470.9h0M55.1 478.7h0M55.2 472.3h0M55.2 474.6h0M55.0 465.4h0M55.1 469.0h0M55.2 480.2h0M54.8 470.2h0M55.2 467.9h0M54.9 479.6h0M54.9 471.5h0M55.0 469.0h0M54.9 464.9h0M54.9 479.6h0M54.9 464.0h0M54.8 475.5h0M55.2 474.0h0M55.1 481.6h0M55.2 476.4h0M54.8 467.0h0M55.2 463.7h0M55.1 464.3h0M55.2 470.2h0M54.8 465.3h0M54.9 474.7h0M55.0 482.0h0M54.7 475.8h0M55.0 466.9h0M55.2 465.8h0M55.2 468.7h0M55.1 469.6h0M54.8 481.0h0M55.3 464.2h0M55.5 483.3h0M55.5 470.8h0M55.3 474.9h0M55.4 472.9h0M55.6 477.3h0M55.4 467.6h0M55.7 478.9h0M55.3 476.7h0M55.3 477.5h0M55.3 476.2h0M55.3 470.1h0M55.5 472.5h0M55.3 479.5h0M55.4 477.2h0M55.5 462.8h0M55.6 476.4h0M55.2 480.5h0M55.4 472.5h0M55.6 479.9h0M55.3 466.1h0M55.5 469.3h0M55.7 478.9h0M55.3 468.4h0M55.5 461.0h0M55.7 467.9h0M55.6 465.9h0M55.3 467.7h0M55.4 472.6h0M55.3 483.2h0M55.6 465.5h0M55.6 474.2h0M55.4 477.1h0M55.5 463.4h0M55.6 461.8h0M55.3 465.8h0M56.0 479.2h0M56.0 469.5h0M55.9 473.3h0M56.1 470.7h0M55.9 479.2h0M55.9 464.2h0M56.2 472.8h0M56.2 463.8h0M55.8 475.0h0M56.1 474.3h0M56.2 473.0h0M56.1 466.5h0M55.8 463.9h0M55.9 479.3h0M55.7 471.2h0M56.0 475.1h0M56.1 475.2h0M56.1 482.0h0M55.8 477.8h0M55.9 473.3h0M55.9 464.1h0M56.0 468.3h0M55.9 464.8h0M56.0 465.9h0M56.2 468.2h0M55.9 475.3h0M56.2 465.6h0M56.1 476.3h0M55.9 463.6h0M55.8 464.7h0M56.0 476.3h0M55.9 480.3h0M56.1 466.2h0M55.7 474.4h0M56.3 467.0h0M56.6 466.3h0M56.3 459.4h0M56.6 466.4h0M56.4 466.0h0M56.4 478.1h0M56.3 481.0h0M56.3 474.2h0M56.5 466.1h0M56.5 461.1h0M56.3 470.4h0M56.3 469.7h0M56.3 480.1h0M56.3 470.4h0M56.6 473.2h0M56.6 474.5h0M56.4 468.5h0M56.3 469.0h0M56.5 461.0h0M56.2 461.5h0M56.5 466.1h0M56.2 460.0h0M56.4 466.8h0M56.5 459.4h0M56.5 457.9h0M56.3 464.3h0M56.5 467.5h0M56.5 466.7h0M56.4 464.7h0M56.3 468.3h0M56.4 475.1h0M56.5 464.2h0M56.3 472.8h0M56.2 465.7h0M56.3 474.6h0M56.4 468.9h0M56.2 458.7h0M56.3 465.4h0M56.3 465.7h0M56.4 472.2h0M57.0 466.8h0M57.1 474.2h0M56.8 474.6h0M56.9 466.6h0M56.9 473.1h0M56.8 466.8h0M56.8 468.5h0M57.1 466.3h0M56.8 472.0h0M57.2 479.4h0M57.1 470.2h0M57.0 471.2h0M56.8 467.5h0M56.7 461.8h0M57.1 471.6h0M57.0 468.3h0M57.2 481.2h0M56.9 470.9h0M57.1 464.2h0M56.9 482.9h0M57.0 470.9h0M56.8 466.1h0M56.9 473.2h0M56.9 468.4h0M56.8 471.2h0M57.2 469.3h0M56.8 468.4h0M57.2 461.7h0M57.1 461.1h0M57.1 465.2h0M56.9 477.5h0M57.1 466.1h0M57.2 472.9h0M57.2 475.5h0M57.2 459.4h0M56.7 472.8h0M57.2 459.9h0M57.1 478.0h0M57.3 462.7h0M57.6 471.8h0M57.6 463.4h0M57.4 463.8h0M57.4 473.8h0M57.2 477.8h0M57.5 482.4h0M57.5 477.6h0M57.6 478.7h0M57.3 475.2h0M57.5 464.9h0M57.6 466.0h0M57.6 469.5h0M57.4 477.3h0M57.6 472.1h0M57.5 480.6h0M57.4 479.6h0M57.4 466.2h0M57.4 467.0h0M57.3 472.6h0M57.4 470.2h0M57.3 466.8h0M57.7 464.8h0M57.2 470.6h0M57.4 469.0h0M57.3 466.2h0M57.4 462.7h0M57.2 472.0h0M57.5 464.5h0M57.6 477.3h0M57.4 466.1h0M57.4 475.3h0M57.7 464.3h0M57.4 469.4h0M57.8 459.2h0M58.2 462.8h0M58.1 463.6h0M58.0 465.8h0M57.8 466.2h0M58.1 468.0h0M58.1 468.6h0M58.1 462.9h0M57.8 461.9h0M57.9 479.4h0M57.8 471.9h0M58.0 471.8h0M57.8 461.9h0M57.9 459.8h0M57.8 463.5h0M57.9 460.3h0M58.0 463.8h0M57.8 462.3h0M57.9 462.5h0M58.1 477.9h0M57.7 462.1h0M58.2 459.3h0M57.9 460.6h0M57.7 480.4h0M58.0 467.0h0M58.1 474.4h0M57.9 457.6h0M57.9 469.9h0M58.0 457.5h0M57.8 463.5h0M57.9 470.0h0M57.8 468.5h0M58.0 470.2h0M58.0 464.7h0M58.1 466.3h0M57.9 458.2h0M57.8 480.9h0M58.2 473.5h0M57.8 470.4h0M57.9 471.1h0M58.4 477.7h0M58.3 458.9h0M58.4 471.3h0M58.6 459.2h0M58.5 461.5h0M58.3 471.5h0M58.5 474.5h0M58.4 475.9h0M58.3 461.0h0M58.6 478.3h0M58.4 463.3h0M58.6 466.7h0M58.6 474.5h0M58.6 461.4h0M58.4 474.5h0M58.2 465.2h0M58.5 483.8h0M58.5 459.1h0M58.2 477.5h0M58.2 469.4h0M58.4 460.4h0M58.2 475.6h0M58.7 482.4h0M58.3 470.4h0M58.2 473.1h0M58.5 465.5h0M58.5 464.7h0M58.5 481.5h0M58.5 466.2h0M58.3 469.8h0M58.3 460.4h0M58.4 476.7h0M58.6 462.5h0M58.6 464.2h0M58.4 468.5h0M58.5 465.9h0M58.7 473.7h0M58.6 482.5h0M58.3 459.0h0M58.3 467.7h0M59.0 468.2h0M59.1 458.2h0M59.2 476.1h0M58.8 473.1h0M58.8 462.3h0M59.1 477.4h0M58.8 472.1h0M59.1 462.2h0M58.9 464.9h0M59.2 460.1h0M58.8 463.4h0M59.1 459.6h0M58.9 476.9h0M59.0 471.0h0M58.9 461.6h0M59.0 464.0h0M59.0 477.3h0M58.7 470.3h0M59.1 464.7h0M59.1 465.2h0M59.1 457.9h0M59.1 460.4h0M59.2 462.8h0M59.1 479.6h0M58.7 459.3h0M58.8 472.6h0M58.8 465.0h0M58.7 461.6h0M58.9 462.7h0M59.2 463.8h0M58.9 465.2h0M59.1 463.4h0M58.8 483.1h0M59.2 465.2h0M58.7 466.8h0M59.0 472.9h0M59.2 474.4h0M58.8 472.5h0M58.9 460.0h0M59.0 478.0h0M59.3 465.6h0M59.6 479.5h0M59.5 475.2h0M59.4 464.9h0M59.7 474.4h0M59.5 473.7h0M59.2 467.5h0M59.3 465.9h0M59.6 478.0h0M59.5 476.2h0M59.6 474.2h0M59.6 466.7h0M59.5 475.9h0M59.6 472.6h0M59.6 470.1h0M59.4 465.5h0M59.4 464.6h0M59.4 465.0h0M59.6 461.4h0M59.4 472.8h0M59.7 469.2h0M59.4 465.7h0M59.3 461.2h0M59.6 466.7h0M59.4 463.8h0M59.7 464.1h0M59.7 479.6h0M59.6 462.8h0M59.5 480.0h0M59.5 475.3h0M59.2 461.6h0M59.6 466.9h0M59.6 466.2h0M59.4 478.6h0M59.4 469.4h0M59.5 473.9h0M59.9 477.2h0M60.2 476.3h0M59.9 469.7h0M59.8 470.5h0M60.0 481.3h0M60.2 469.7h0M59.8 462.2h0M59.8 466.4h0M60.0 475.5h0M59.9 470.8h0M59.9 475.7h0M59.9 471.7h0M60.1 476.9h0M59.7 464.6h0M59.7 468.0h0M60.0 462.4h0M59.8 463.7h0M59.8 477.6h0M60.0 477.7h0M60.0 467.3h0M59.8 465.3h0M59.9 462.5h0M59.7 480.3h0M60.0 475.5h0M59.9 463.4h0M59.9 481.2h0M59.8 469.4h0M60.1 465.9h0M59.9 475.9h0M59.8 476.3h0M59.8 463.4h0M59.9 479.1h0M60.0 471.3h0M59.7 462.3h0M60.3 468.0h0M60.4 470.2h0M60.5 469.4h0M60.4 479.3h0M60.6 473.8h0M60.4 469.0h0M60.6 466.0h0M60.4 470.8h0M60.3 480.1h0M60.3 476.5h0M60.4 477.5h0M60.7 474.0h0M60.4 467.1h0M60.6 468.9h0M60.7 469.3h0M60.4 466.3h0M60.2 467.2h0M60.4 475.5h0M60.4 474.4h0M60.6 468.4h0M60.6 477.5h0M60.4 481.0h0M60.6 482.0h0M60.4 479.2h0M60.6 466.9h0M60.4 467.5h0M60.3 469.7h0M60.3 473.7h0M60.9 477.7h0M61.0 467.3h0M61.2 475.1h0M60.8 480.8h0M60.8 482.5h0M60.8 468.3h0M60.8 469.5h0M60.9 477.0h0M61.0 473.0h0M60.9 479.6h0M61.0 465.7h0M60.7 480.6h0M61.0 475.2h0M60.8 464.5h0M60.9 465.5h0M61.0 482.3h0M60.8 480.8h0M61.0 465.6h0M60.7 482.4h0M60.7 476.1h0M60.8 464.8h0M61.1 465.2h0M61.0 466.9h0M61.1 475.7h0M61.0 475.8h0M60.9 466.9h0M60.8 478.2h0M61.1 472.5h0M60.8 475.2h0M60.9 465.8h0M60.9 465.5h0M61.7 462.2h0M61.5 464.4h0M61.4 478.9h0M61.5 481.0h0M61.4 467.4h0M61.6 462.6h0M61.3 463.1h0M61.5 467.4h0M61.4 463.4h0M61.4 483.2h0M61.6 466.7h0M61.6 478.6h0M61.3 467.3h0M61.6 466.7h0M61.5 466.8h0M61.3 470.7h0M61.4 465.3h0M61.5 465.6h0M61.6 462.4h0M61.6 481.1h0M61.5 472.4h0M61.3 470.2h0M61.6 464.3h0M61.3 476.4h0M61.6 461.4h0M61.2 479.8h0M61.6 467.5h0M61.6 476.5h0M61.5 464.2h0M61.4 471.8h0M61.2 464.2h0M61.4 472.3h0M61.5 463.3h0M61.6 473.1h0M61.5 472.1h0M61.6 464.3h0M62.1 466.6h0M62.0 476.2h0M62.1 472.3h0M62.0 483.6h0M61.9 464.1h0M62.0 465.3h0M61.8 463.3h0M62.0 464.7h0M61.9 476.5h0M62.0 480.5h0M62.2 470.6h0M61.9 468.0h0M61.8 458.4h0M62.2 459.7h0M62.0 457.3h0M61.9 467.7h0M61.8 468.7h0M62.2 463.1h0M62.0 466.0h0M62.0 464.3h0M61.9 466.6h0M61.8 468.2h0M62.0 474.2h0M61.8 460.0h0M61.8 475.1h0M62.1 477.6h0M61.9 457.9h0M61.9 459.8h0M62.1 482.2h0M61.8 457.9h0M61.9 469.2h0M62.2 478.1h0M62.2 463.4h0M62.0 483.8h0M62.0 459.7h0M61.9 479.5h0M61.8 479.3h0M61.9 459.8h0M61.7 469.2h0M61.9 469.4h0M62.0 466.0h0M61.8 460.3h0M62.4 454.0h0M62.6 475.3h0M62.7 463.0h0M62.4 472.7h0M62.2 472.5h0M62.4 469.4h0M62.7 462.6h0M62.3 468.6h0M62.4 478.6h0M62.4 464.8h0M62.7 466.8h0M62.6 460.5h0M62.3 463.3h0M62.4 475.4h0M62.2 453.3h0M62.3 455.7h0M62.4 478.7h0M62.7 460.9h0M62.4 456.8h0M62.6 467.3h0M62.6 459.1h0M62.3 459.6h0M62.7 460.3h0M62.6 453.4h0M62.6 465.8h0M62.5 458.4h0M62.5 479.2h0M62.2 471.6h0M62.6 473.3h0M62.4 457.1h0M62.3 471.4h0M62.3 480.4h0M62.6 470.1h0M62.4 469.7h0M62.2 456.6h0M62.3 471.2h0M62.6 469.3h0M62.5 469.8h0M62.5 470.2h0M62.4 482.9h0M62.2 464.8h0M62.6 453.2h0M62.6 464.4h0M62.5 460.7h0M62.6 453.4h0M62.4 466.5h0M62.6 473.5h0M63.2 482.3h0M63.2 454.3h0M62.8 458.0h0M62.9 471.3h0M63.2 454.9h0M63.1 466.3h0M63.2 462.6h0M63.2 458.8h0M62.7 457.0h0M63.1 455.0h0M63.0 480.8h0M63.1 466.7h0M62.8 473.4h0M62.8 456.6h0M62.7 454.2h0M62.7 458.8h0M62.8 464.1h0M62.8 454.6h0M62.8 465.4h0M63.0 465.8h0M62.8 470.7h0M63.2 476.6h0M62.7 454.4h0M63.1 459.7h0M62.9 453.4h0M62.9 482.5h0M62.9 463.7h0M63.0 454.9h0M62.7 455.7h0M63.0 458.6h0M62.9 470.5h0M62.9 471.2h0M62.9 461.9h0M63.1 474.7h0M62.9 463.7h0M63.1 459.1h0M63.0 460.0h0M62.9 456.8h0M63.1 462.8h0M62.8 466.6h0M62.8 474.0h0M62.9 456.5h0M62.9 466.5h0M62.9 474.3h0M63.0 466.9h0M63.2 461.4h0M63.2 455.6h0M63.0 482.2h0M63.3 456.3h0M63.3 458.7h0M63.4 463.4h0M63.6 469.3h0M63.3 469.6h0M63.7 461.3h0M63.3 475.1h0M63.2 468.1h0M63.5 464.2h0M63.6 449.8h0M63.5 467.7h0M63.6 477.7h0M63.6 452.6h0M63.6 477.2h0M63.5 454.6h0M63.4 453.5h0M63.3 462.0h0M63.5 454.9h0M63.4 470.7h0M63.6 476.5h0M63.4 463.8h0M63.6 465.1h0M63.5 457.8h0M63.5 450.5h0M63.4 460.8h0M63.2 473.2h0M63.3 472.4h0M63.5 472.9h0M63.5 454.0h0M63.2 471.3h0M63.5 480.0h0M63.3 460.7h0M63.4 452.0h0M63.5 455.7h0M63.4 466.7h0M63.6 459.6h0M63.7 470.9h0M63.3 457.9h0M63.3 478.3h0M63.4 457.6h0M63.4 455.8h0M63.4 469.7h0M63.5 459.9h0M63.3 460.2h0M63.3 450.4h0M63.5 472.7h0M63.2 472.3h0M63.4 460.7h0M63.5 456.9h0M63.4 459.1h0M63.5 469.3h0M63.3 465.9h0M63.8 457.5h0M63.7 472.9h0M64.0 452.7h0M64.1 456.2h0M63.8 448.0h0M64.0 450.0h0M64.2 470.7h0M64.2 477.7h0M64.0 470.0h0M63.8 459.5h0M63.8 453.3h0M63.9 469.5h0M63.7 455.9h0M64.0 452.8h0M63.9 449.9h0M63.7 449.8h0M64.1 476.6h0M64.2 477.3h0M64.1 470.4h0M64.1 451.9h0M63.8 467.5h0M64.2 462.3h0M63.8 477.4h0M63.8 476.5h0M63.9 453.6h0M63.9 476.8h0M63.9 462.1h0M63.9 457.4h0M64.0 454.3h0M64.0 480.9h0M64.1 453.4h0M64.1 463.6h0M64.1 476.9h0M64.1 458.7h0M64.1 478.5h0M64.2 480.9h0M63.8 461.1h0M64.0 473.1h0M63.8 449.8h0M63.9 463.4h0M63.8 459.5h0M64.1 454.5h0M63.8 465.9h0M64.0 448.3h0M64.1 471.4h0M63.7 467.3h0M64.0 469.4h0M64.1 470.0h0M63.8 458.5h0M64.1 472.0h0M63.9 469.9h0M63.7 456.2h0M63.7 458.2h0M64.0 460.7h0M64.2 464.8h0M64.4 482.4h0M64.2 458.5h0M64.4 459.8h0M64.3 471.9h0M64.7 474.2h0M64.4 465.3h0M64.6 470.2h0M64.5 473.4h0M64.5 481.9h0M64.3 479.7h0M64.3 459.1h0M64.4 458.3h0M64.7 474.6h0M64.6 454.1h0M64.4 478.9h0M64.4 464.1h0M64.5 463.4h0M64.4 475.5h0M64.4 466.1h0M64.3 470.9h0M64.6 467.3h0M64.3 461.1h0M64.4 464.8h0M64.4 477.3h0M64.6 463.5h0M64.7 483.3h0M64.5 467.2h0M64.4 459.7h0M64.3 467.9h0M64.3 463.5h0M64.4 480.7h0M64.3 468.1h0M64.5 478.2h0M64.5 457.5h0M64.4 479.4h0M64.3 458.8h0M64.5 476.5h0M64.3 457.2h0M64.5 460.4h0M64.3 453.7h0M64.3 469.3h0M64.3 454.7h0M64.5 463.9h0M64.4 459.8h0M64.4 466.3h0M65.1 479.5h0M65.2 455.9h0M65.0 475.6h0M64.8 476.5h0M65.1 469.3h0M65.2 469.9h0M64.9 461.3h0M65.1 464.9h0M64.8 475.3h0M65.1 459.2h0M65.2 463.7h0M65.1 461.3h0M65.0 458.2h0M64.8 476.0h0M64.9 468.7h0M65.2 457.9h0M65.1 456.4h0M64.9 454.4h0M65.2 474.8h0M64.9 470.9h0M64.8 455.4h0M64.9 456.9h0M65.0 479.8h0M64.9 458.9h0M64.9 471.3h0M64.8 466.3h0M65.2 482.2h0M65.1 463.1h0M64.8 456.3h0M65.2 454.7h0M64.9 467.9h0M65.0 456.5h0M64.9 470.2h0M64.9 482.0h0M65.1 466.7h0M64.9 462.3h0M65.1 460.6h0M64.9 471.3h0M64.9 464.8h0M65.1 483.0h0M65.0 457.5h0M65.0 468.8h0M64.9 465.2h0M65.0 479.1h0M65.1 464.3h0M65.7 468.6h0M65.6 471.4h0M65.5 474.8h0M65.3 470.5h0M65.3 459.8h0M65.4 470.0h0M65.5 473.5h0M65.4 464.3h0M65.5 467.9h0M65.6 457.4h0M65.7 464.4h0M65.7 455.9h0M65.5 476.8h0M65.5 465.2h0M65.6 472.2h0M65.7 470.0h0M65.7 472.1h0M65.4 461.6h0M65.3 468.4h0M65.5 459.9h0M65.7 464.6h0M65.7 471.9h0M65.5 459.8h0M65.2 459.2h0M65.6 464.4h0M65.7 461.2h0M65.4 458.8h0M65.5 461.5h0M65.7 461.2h0M65.6 458.5h0M65.3 481.0h0M65.2 466.8h0M65.7 467.3h0M65.7 471.6h0M65.3 468.4h0M65.6 455.3h0M65.5 469.1h0M65.6 467.9h0M65.4 459.9h0M65.2 459.4h0M65.7 478.0h0M65.6 481.9h0M65.3 471.6h0M65.7 480.2h0M65.9 475.4h0M66.2 473.4h0M66.2 465.1h0M66.1 460.4h0M66.0 459.0h0M66.1 476.6h0M65.7 467.3h0M65.8 463.9h0M66.2 465.8h0M65.8 477.5h0M66.0 460.4h0M66.1 460.1h0M65.9 457.5h0M66.0 461.8h0M65.7 466.4h0M65.7 474.2h0M65.9 464.3h0M65.7 461.1h0M65.9 474.0h0M66.2 462.3h0M65.9 477.3h0M65.9 459.8h0M66.0 471.2h0M65.8 473.8h0M66.1 476.0h0M66.2 460.7h0M65.9 475.0h0M65.9 455.9h0M65.8 473.2h0M65.7 460.8h0M66.2 464.7h0M65.9 455.7h0M66.0 455.8h0M65.9 476.5h0M65.7 472.5h0M65.9 460.0h0M65.9 472.4h0M66.2 464.2h0M66.0 458.7h0M66.0 473.3h0M66.2 475.9h0M65.8 462.5h0M66.0 473.6h0M66.1 478.2h0M66.7 459.0h0M66.5 461.0h0M66.5 474.3h0M66.6 464.9h0M66.5 457.9h0M66.5 471.7h0M66.4 466.1h0M66.6 460.0h0M66.4 467.6h0M66.2 464.3h0M66.6 475.3h0M66.5 477.2h0M66.6 462.3h0M66.7 472.8h0M66.3 465.8h0M66.2 460.5h0M66.3 477.4h0M66.3 462.9h0M66.2 469.2h0M66.3 461.3h0M66.2 475.4h0M66.6 467.0h0M66.3 457.2h0M66.4 469.3h0M66.6 467.6h0M66.6 466.5h0M66.3 466.5h0M66.6 472.9h0M66.5 465.6h0M66.5 470.8h0M66.3 463.7h0M66.6 468.0h0M66.3 460.8h0M66.5 463.3h0M66.3 461.2h0M66.4 459.1h0M66.3 483.2h0M66.4 462.5h0M66.6 459.9h0M66.3 465.2h0M66.2 474.5h0M67.0 463.6h0M67.0 468.5h0M67.2 473.8h0M67.0 465.0h0M66.8 466.8h0M66.7 473.0h0M66.8 471.7h0M66.8 480.9h0M66.9 472.6h0M67.1 482.9h0M67.0 481.5h0M66.9 482.6h0M67.2 470.6h0M66.9 480.5h0M67.1 475.3h0M66.9 466.4h0M67.1 472.7h0M66.7 462.1h0M66.8 481.6h0M67.0 463.9h0M66.7 481.5h0M67.0 469.1h0M66.8 475.3h0M67.1 482.5h0M66.8 473.2h0M67.1 474.2h0M66.7 466.1h0M67.0 478.8h0M67.1 468.1h0M66.9 469.0h0M67.0 465.2h0M67.2 473.6h0M66.7 473.1h0M67.0 475.5h0M67.3 466.2h0M67.6 479.3h0M67.3 476.0h0M67.3 466.4h0M67.3 470.6h0M67.4 480.9h0M67.2 468.5h0M67.5 471.9h0M67.3 474.6h0M67.5 477.2h0M67.5 466.4h0M67.3 465.0h0M67.5 464.4h0M67.7 481.1h0M67.5 476.6h0M67.5 465.6h0M67.4 469.2h0M67.5 477.8h0M67.4 475.6h0M67.4 467.5h0M67.3 470.8h0M67.5 473.8h0M67.6 474.4h0M67.6 480.9h0M67.4 479.8h0M67.6 469.0h0M67.3 474.0h0M67.3 465.7h0M67.6 465.6h0M67.5 476.1h0M67.4 469.0h0M67.7 471.5h0M67.7 476.9h0M68.1 470.1h0M68.1 469.1h0M68.0 476.6h0M68.1 479.4h0M67.7 474.8h0M67.8 468.8h0M67.8 482.1h0M68.1 465.3h0M68.1 465.0h0M68.1 465.4h0M68.0 467.5h0M68.1 479.6h0M67.9 470.0h0M67.9 466.2h0M67.7 479.4h0M67.9 474.7h0M68.1 483.0h0M68.1 464.8h0M67.7 465.1h0M68.0 479.3h0M68.1 479.6h0M67.9 476.8h0M67.9 478.9h0M67.9 470.8h0M67.9 471.6h0M68.1 466.5h0M67.8 468.2h0M68.1 465.7h0M68.7 467.8h0M68.4 468.8h0M68.4 465.2h0M68.5 461.8h0M68.4 480.9h0M68.3 470.9h0M68.4 462.9h0M68.5 477.0h0M68.3 468.3h0M68.6 464.9h0M68.5 474.6h0M68.5 474.9h0M68.2 463.9h0M68.5 459.8h0M68.6 474.7h0M68.2 470.5h0M68.4 468.7h0M68.4 481.1h0M68.2 472.1h0M68.5 476.8h0M68.3 475.2h0M68.6 463.8h0M68.4 480.8h0M68.7 461.9h0M68.3 483.1h0M68.4 477.0h0M68.4 471.2h0M68.4 461.1h0M68.4 478.7h0M68.5 461.6h0M68.3 468.9h0M68.4 465.5h0M68.4 474.6h0M68.7 462.7h0M68.5 465.9h0M68.7 480.7h0M68.4 466.5h0M69.2 464.1h0M69.1 458.7h0M69.0 459.7h0M68.9 459.5h0M69.0 462.3h0M68.8 468.6h0M69.0 467.7h0M69.2 469.0h0M69.1 478.4h0M68.8 476.3h0M68.8 466.2h0M68.7 464.3h0M69.1 459.5h0M68.7 474.3h0M68.9 482.7h0M69.0 469.1h0M68.9 477.0h0M68.7 460.2h0M69.0 471.7h0M69.1 478.2h0M68.9 479.8h0M69.1 460.2h0M68.8 461.5h0M69.2 474.7h0M69.2 471.9h0M69.1 467.2h0M68.9 465.8h0M68.7 468.0h0M68.9 465.2h0M69.1 460.3h0M69.1 460.5h0M68.9 478.6h0M69.0 481.0h0M69.2 468.4h0M68.8 481.7h0M69.1 461.2h0M68.8 462.4h0M68.7 463.9h0M69.0 465.0h0M68.8 462.0h0M69.6 467.6h0M69.3 463.6h0M69.5 458.4h0M69.4 462.1h0M69.5 462.6h0M69.6 470.4h0M69.3 471.0h0M69.6 453.7h0M69.4 461.0h0M69.5 455.7h0M69.2 461.8h0M69.6 453.8h0M69.4 465.4h0M69.6 454.5h0M69.3 455.5h0M69.3 480.1h0M69.2 478.9h0M69.2 472.8h0M69.3 453.7h0M69.6 477.7h0M69.3 460.0h0M69.5 466.4h0M69.4 458.8h0M69.4 459.4h0M69.2 477.8h0M69.3 462.5h0M69.5 456.0h0M69.6 457.3h0M69.4 479.7h0M69.6 454.6h0M69.2 483.4h0M69.3 468.8h0M69.5 466.1h0M69.5 457.2h0M69.3 470.4h0M69.7 463.9h0M69.4 463.6h0M69.5 459.3h0M69.6 461.7h0M69.5 462.9h0M69.3 458.4h0M69.3 472.0h0M69.4 464.3h0M69.6 469.0h0M69.5 466.7h0M69.4 453.8h0M69.5 482.2h0M69.9 452.1h0M69.8 452.2h0M70.0 460.5h0M69.9 452.0h0M70.1 463.2h0M69.9 467.1h0M69.9 474.2h0M69.8 459.5h0M70.1 453.4h0M69.8 469.6h0M69.8 460.4h0M69.8 469.2h0M69.7 456.6h0M70.2 475.9h0M69.9 456.4h0M70.1 468.3h0M69.7 456.8h0M70.1 466.9h0M70.2 458.1h0M70.0 461.4h0M69.7 452.2h0M70.2 474.7h0M70.1 461.7h0M69.9 461.3h0M69.8 468.3h0M69.9 459.0h0M70.0 481.4h0M69.8 467.2h0M69.9 456.3h0M70.1 452.4h0M70.2 464.2h0M70.0 461.0h0M69.9 480.7h0M69.8 456.1h0M70.1 469.6h0M69.8 461.9h0M70.1 479.7h0M70.0 472.5h0M69.8 465.5h0M69.8 457.4h0M69.7 464.0h0M70.0 455.3h0M70.0 476.2h0M70.1 452.7h0M69.7 453.2h0M70.0 461.2h0M69.9 474.8h0M70.0 453.9h0M69.7 462.3h0M70.7 482.3h0M70.4 476.3h0M70.4 453.5h0M70.3 468.1h0M70.6 457.3h0M70.7 476.4h0M70.2 472.6h0M70.4 459.1h0M70.3 460.4h0M70.3 452.2h0M70.5 475.8h0M70.6 464.1h0M70.6 462.7h0M70.6 470.6h0M70.7 482.0h0M70.4 475.1h0M70.7 481.9h0M70.3 467.2h0M70.2 453.3h0M70.6 462.8h0M70.4 473.6h0M70.3 466.6h0M70.5 454.8h0M70.3 454.6h0M70.5 475.0h0M70.2 481.6h0M70.7 471.8h0M70.2 459.6h0M70.3 452.7h0M70.5 454.0h0M70.5 457.8h0M70.4 466.1h0M70.6 474.1h0M70.2 453.4h0M70.4 462.3h0M70.4 457.5h0M70.6 474.0h0M70.6 469.4h0M70.5 464.4h0M70.6 466.3h0M70.6 452.7h0M70.5 455.7h0M70.6 472.4h0M70.4 453.6h0M70.6 454.9h0M70.5 467.4h0M70.6 468.5h0M70.5 473.0h0M70.4 465.4h0M70.7 456.0h0M71.2 475.5h0M70.9 460.9h0M70.8 479.4h0M71.1 471.4h0M71.2 464.7h0M71.0 464.2h0M70.9 471.9h0M71.0 466.9h0M71.1 471.2h0M70.8 456.6h0M71.0 473.1h0M71.1 471.3h0M71.1 461.3h0M70.8 461.7h0M70.9 481.4h0M71.2 472.1h0M70.9 456.1h0M71.0 475.2h0M71.0 481.9h0M71.1 462.6h0M71.0 463.5h0M70.9 461.3h0M70.9 459.1h0M70.7 472.0h0M70.8 465.0h0M71.0 473.5h0M71.2 468.8h0M70.7 459.7h0M70.8 482.4h0M70.8 466.1h0M70.8 470.0h0M70.8 469.2h0M71.1 470.6h0M71.0 473.8h0M70.8 470.3h0M70.7 466.0h0M71.0 467.4h0M70.8 470.1h0M71.1 472.7h0M70.9 460.6h0M70.8 455.1h0M70.8 481.7h0M70.9 464.2h0M71.0 470.2h0M71.1 456.9h0M71.6 454.6h0M71.3 475.4h0M71.3 477.9h0M71.6 466.6h0M71.3 461.5h0M71.3 479.9h0M71.4 454.1h0M71.5 450.2h0M71.4 450.7h0M71.4 463.3h0M71.6 464.2h0M71.3 457.1h0M71.7 467.4h0M71.4 469.0h0M71.5 463.2h0M71.3 452.3h0M71.2 453.9h0M71.6 477.4h0M71.2 458.8h0M71.5 474.0h0M71.4 477.4h0M71.4 462.2h0M71.6 466.8h0M71.3 451.0h0M71.5 475.6h0M71.2 466.6h0M71.3 467.1h0M71.3 451.9h0M71.6 458.2h0M71.2 455.0h0M71.4 453.0h0M71.2 475.1h0M71.3 454.4h0M71.7 456.2h0M71.3 479.7h0M71.7 474.1h0M71.6 463.8h0M71.4 465.7h0M71.2 476.4h0M71.6 464.4h0M71.5 468.2h0M71.4 454.9h0M71.5 466.0h0M71.4 450.1h0M71.2 465.9h0M71.3 477.0h0M71.2 455.7h0M71.4 461.5h0M71.3 466.2h0M71.4 454.0h0M71.2 473.7h0M71.9 464.2h0M72.0 451.1h0M72.2 471.8h0M71.9 462.7h0M72.1 463.3h0M71.8 479.9h0M71.9 460.6h0M71.8 464.9h0M71.9 451.8h0M72.0 451.4h0M72.0 463.8h0M72.2 466.3h0M72.0 481.6h0M71.8 470.2h0M71.8 465.5h0M72.1 472.9h0M71.7 461.8h0M71.9 480.1h0M72.1 452.3h0M72.1 455.6h0M72.1 451.3h0M71.8 453.8h0M72.0 452.0h0M72.1 462.1h0M72.0 471.6h0M71.9 475.2h0M71.9 455.0h0M71.9 453.6h0M71.8 459.6h0M71.8 459.8h0M72.1 453.7h0M72.1 475.5h0M72.0 469.9h0M71.9 475.6h0M71.9 459.3h0M71.7 461.1h0M72.1 462.8h0M71.9 473.0h0M71.9 466.7h0M72.0 457.1h0M72.0 456.7h0M72.1 457.5h0M71.8 461.4h0M71.9 478.5h0M72.0 475.5h0M72.0 462.5h0M71.7 465.9h0M72.0 471.5h0M72.2 452.0h0M71.7 457.7h0M72.6 450.4h0M72.4 458.4h0M72.4 457.5h0M72.7 467.7h0M72.2 449.5h0M72.2 456.9h0M72.5 465.3h0M72.7 476.0h0M72.3 453.1h0M72.2 470.2h0M72.3 464.8h0M72.6 450.0h0M72.3 482.3h0M72.6 451.1h0M72.2 459.0h0M72.5 460.7h0M72.5 469.6h0M72.6 471.8h0M72.7 450.0h0M72.6 465.9h0M72.7 472.0h0M72.4 462.2h0M72.3 449.1h0M72.3 463.0h0M72.2 469.5h0M72.6 457.1h0M72.4 458.0h0M72.3 457.7h0M72.6 482.2h0M72.3 470.4h0M72.2 450.9h0M72.5 458.9h0M72.5 457.3h0M72.3 472.5h0M72.2 474.4h0M72.3 454.0h0M72.4 465.9h0M72.6 449.6h0M72.2 459.8h0M72.4 473.3h0M72.4 454.3h0M72.3 460.5h0M72.4 481.9h0M72.6 452.3h0M72.6 464.3h0M72.4 457.3h0M72.7 462.4h0M72.3 463.1h0M72.5 458.5h0M72.7 460.0h0M72.6 463.2h0M72.4 451.1h0M72.3 468.8h0M72.7 473.8h0M72.9 457.6h0M73.2 476.2h0M72.7 456.2h0M73.1 477.2h0M72.8 456.4h0M73.0 451.3h0M73.0 449.3h0M72.8 454.6h0M73.0 465.2h0M73.1 451.9h0M73.0 455.5h0M72.9 451.5h0M72.9 458.1h0M73.0 461.4h0M73.1 455.8h0M73.0 455.5h0M73.0 467.4h0M72.8 458.5h0M72.8 452.9h0M73.1 457.6h0M72.9 448.5h0M73.1 451.5h0M73.1 460.0h0M72.8 473.1h0M73.1 458.2h0M72.8 472.0h0M72.9 457.8h0M73.1 462.4h0M72.8 456.6h0M72.8 473.5h0M72.9 459.9h0M72.7 475.1h0M73.0 464.6h0M72.9 462.7h0M72.8 448.8h0M73.2 457.8h0M72.7 456.3h0M73.1 467.2h0M72.8 455.2h0M73.0 465.3h0M72.8 449.8h0M72.7 468.1h0M72.9 459.1h0M72.8 459.0h0M72.7 460.8h0M72.7 465.3h0M73.0 472.3h0M72.8 448.8h0M72.9 479.1h0M72.9 469.5h0M73.1 451.1h0M73.1 456.6h0M73.0 479.1h0M73.4 468.8h0M73.5 470.4h0M73.7 458.3h0M73.6 476.2h0M73.2 473.3h0M73.3 459.8h0M73.5 449.9h0M73.2 461.4h0M73.5 464.1h0M73.2 476.8h0M73.2 467.4h0M73.3 448.5h0M73.5 476.8h0M73.5 461.2h0M73.6 472.6h0M73.4 461.7h0M73.4 474.6h0M73.6 473.9h0M73.4 459.2h0M73.4 466.7h0M73.6 460.6h0M73.5 453.6h0M73.7 461.6h0M73.4 449.3h0M73.7 450.5h0M73.3 449.6h0M73.5 460.6h0M73.3 473.7h0M73.6 468.6h0M73.4 463.7h0M73.4 463.8h0M73.3 449.8h0M73.4 468.4h0M73.3 452.5h0M73.6 451.9h0M73.5 467.1h0M73.3 465.5h0M73.2 469.1h0M73.4 475.9h0M73.3 475.7h0M73.4 449.1h0M73.7 476.5h0M73.5 483.0h0M73.5 457.5h0M73.4 469.0h0M73.4 480.2h0M73.5 453.1h0M73.2 447.2h0M73.3 449.4h0M73.7 463.8h0M73.6 459.4h0M73.3 455.7h0M73.4 474.1h0M73.6 472.5h0M73.7 472.1h0M74.1 453.6h0M73.9 459.6h0M74.2 469.5h0M73.8 476.9h0M74.0 457.4h0M73.8 456.6h0M73.8 462.5h0M74.0 460.4h0M74.0 465.9h0M74.0 472.4h0M74.1 466.2h0M74.1 459.7h0M73.9 463.5h0M74.0 465.3h0M74.0 463.5h0M74.1 470.5h0M74.1 465.5h0M74.1 453.8h0M73.7 451.3h0M74.1 458.4h0M73.8 453.7h0M74.0 471.6h0M74.0 476.2h0M74.0 473.1h0M73.8 481.5h0M73.9 459.7h0M74.0 465.4h0M73.8 477.4h0M73.9 455.0h0M74.2 451.5h0M73.7 475.8h0M73.9 461.1h0M73.7 477.6h0M74.1 449.6h0M73.9 454.7h0M74.0 455.3h0M73.9 451.3h0M73.8 470.4h0M74.0 471.0h0M74.1 454.0h0M74.1 452.5h0M74.0 473.5h0M73.9 483.2h0M73.9 458.9h0M74.0 456.8h0M73.8 451.4h0M74.0 472.5h0M74.2 457.9h0M74.0 459.7h0M73.7 461.3h0M74.0 458.1h0M73.8 463.6h0M74.6 470.7h0M74.5 478.3h0M74.3 465.1h0M74.2 465.9h0M74.6 467.8h0M74.3 476.3h0M74.5 464.3h0M74.5 464.3h0M74.5 464.2h0M74.3 482.5h0M74.3 453.7h0M74.4 452.9h0M74.2 454.8h0M74.6 470.1h0M74.4 469.3h0M74.4 448.8h0M74.5 476.3h0M74.7 455.5h0M74.6 451.0h0M74.6 452.7h0M74.3 453.6h0M74.5 463.8h0M74.6 482.3h0M74.4 449.7h0M74.5 465.0h0M74.2 472.3h0M74.3 446.9h0M74.5 467.7h0M74.6 457.6h0M74.3 456.3h0M74.2 460.3h0M74.5 478.3h0M74.5 481.3h0M74.3 453.7h0M74.4 454.3h0M74.5 462.2h0M74.5 481.6h0M74.2 448.3h0M74.5 472.6h0M74.5 448.6h0M74.6 456.6h0M74.5 457.2h0M74.3 462.8h0M74.6 465.6h0M74.3 460.4h0M74.6 449.8h0M74.7 447.6h0M74.2 462.5h0M74.5 455.6h0M74.2 465.6h0M74.4 457.7h0M74.4 467.4h0M74.3 456.0h0M74.3 471.7h0M74.6 464.9h0M74.3 477.1h0M74.9 459.4h0M74.8 462.9h0M74.8 478.9h0M75.2 455.1h0M74.9 472.4h0M75.0 458.8h0M75.0 448.7h0M74.9 450.0h0M74.9 448.8h0M75.2 464.6h0M74.9 450.8h0M75.1 477.1h0M74.9 476.9h0M75.1 469.7h0M74.9 467.9h0M75.0 467.7h0M74.9 451.4h0M74.9 450.2h0M75.1 463.4h0M74.8 449.7h0M75.0 466.6h0M74.7 463.1h0M74.7 458.1h0M74.9 468.9h0M74.8 454.5h0M75.1 482.7h0M75.0 478.0h0M74.7 448.6h0M74.8 460.9h0M75.1 457.7h0M74.9 456.0h0M75.1 457.6h0M74.9 454.5h0M74.9 466.4h0M74.8 448.8h0M74.7 479.4h0M74.8 475.7h0M74.9 449.7h0M75.2 471.3h0M74.8 465.0h0M75.2 469.8h0M75.1 457.8h0M75.1 469.4h0M75.2 448.2h0M74.9 449.8h0M75.1 471.4h0M74.9 470.4h0M75.1 471.2h0M75.1 469.4h0M75.1 453.5h0M75.1 469.7h0M75.0 458.1h0M74.9 448.5h0M75.2 457.4h0M75.4 472.8h0M75.4 458.0h0M75.6 449.8h0M75.3 450.4h0M75.6 457.5h0M75.4 461.2h0M75.3 469.0h0M75.4 459.8h0M75.5 462.0h0M75.6 472.9h0M75.3 447.2h0M75.5 456.4h0M75.4 462.7h0M75.4 459.1h0M75.6 479.7h0M75.7 471.9h0M75.4 450.2h0M75.3 455.4h0M75.5 458.4h0M75.6 474.7h0M75.3 447.8h0M75.7 475.0h0M75.5 476.4h0M75.7 446.9h0M75.5 460.9h0M75.5 458.2h0M75.6 450.0h0M75.6 449.8h0M75.3 471.2h0M75.5 458.5h0M75.7 478.8h0M75.4 449.0h0M75.4 474.5h0M75.4 446.4h0M75.6 449.8h0M75.3 450.9h0M75.2 470.6h0M75.5 455.2h0M75.4 446.5h0M75.4 468.5h0M75.3 452.5h0M75.6 450.2h0M75.5 480.3h0M75.4 472.9h0M75.3 480.9h0M75.5 469.3h0M75.5 446.4h0M75.3 467.9h0M75.3 478.2h0M75.5 458.5h0M75.5 446.4h0M75.5 456.7h0M75.6 448.8h0M75.4 456.8h0M75.4 460.3h0M75.4 459.2h0M75.3 456.9h0M75.3 466.9h0M76.1 478.7h0M76.2 474.3h0M76.0 471.6h0M76.0 453.2h0M75.9 463.8h0M76.2 460.3h0M75.9 471.7h0M76.1 457.3h0M75.8 462.7h0M75.8 455.2h0M76.1 456.5h0M76.0 475.8h0M76.1 460.1h0M76.1 456.0h0M76.1 454.4h0M76.1 460.0h0M75.8 470.9h0M76.1 454.7h0M75.8 476.9h0M76.1 482.3h0M76.0 457.1h0M75.9 451.8h0M76.0 449.8h0M76.0 461.2h0M75.7 452.6h0M75.7 470.1h0M76.0 457.7h0M76.1 451.0h0M76.1 454.9h0M75.9 456.6h0M75.8 468.4h0M76.2 458.9h0M76.2 474.2h0M76.0 473.5h0M76.0 451.4h0M75.9 482.0h0M75.9 477.8h0M75.9 454.6h0M76.2 470.0h0M75.8 479.9h0M75.8 470.7h0M75.8 452.5h0M75.8 474.5h0M75.8 456.6h0M75.9 466.3h0M76.0 459.1h0M75.9 459.4h0M75.8 464.9h0M76.0 481.6h0M75.9 466.5h0M75.8 462.8h0M76.0 456.2h0M76.5 482.0h0M76.3 455.6h0M76.2 458.3h0M76.2 450.7h0M76.3 463.0h0M76.2 472.8h0M76.4 460.1h0M76.6 471.5h0M76.6 470.2h0M76.4 447.4h0M76.4 469.5h0M76.4 451.2h0M76.6 475.8h0M76.4 465.0h0M76.2 462.8h0M76.3 453.5h0M76.2 462.4h0M76.4 463.4h0M76.4 446.9h0M76.5 464.7h0M76.4 462.9h0M76.7 457.8h0M76.7 471.6h0M76.4 454.0h0M76.6 476.3h0M76.4 449.8h0M76.5 474.4h0M76.4 460.8h0M76.2 463.4h0M76.4 447.3h0M76.4 459.9h0M76.2 480.2h0M76.4 456.7h0M76.3 458.5h0M76.2 468.8h0M76.4 467.5h0M76.4 454.3h0M76.3 456.0h0M76.7 451.1h0M76.4 456.5h0M76.2 454.0h0M76.6 470.9h0M76.4 457.5h0M76.5 457.0h0M76.6 450.4h0M76.4 482.0h0M76.6 476.0h0M76.5 454.3h0M76.6 459.8h0M76.5 447.3h0M76.6 468.4h0M76.7 455.3h0M76.3 468.7h0M76.4 460.5h0M76.6 462.2h0M76.5 466.5h0M76.8 465.6h0M77.0 471.2h0M76.9 455.2h0M76.7 465.0h0M77.1 457.6h0M77.1 470.3h0M77.0 468.4h0M76.7 454.0h0M76.8 455.4h0M77.1 453.5h0M76.8 453.6h0M76.8 457.3h0M76.7 454.0h0M76.7 455.8h0M77.0 478.9h0M77.0 456.2h0M77.1 449.0h0M76.8 464.5h0M76.9 457.4h0M76.8 460.4h0M76.8 472.2h0M77.1 460.7h0M77.1 457.4h0M77.1 462.9h0M76.7 448.5h0M76.8 453.0h0M76.8 461.8h0M76.8 457.5h0M76.7 478.4h0M76.9 452.3h0M76.9 476.0h0M77.2 476.6h0M76.8 460.2h0M76.8 456.4h0M76.9 453.8h0M76.7 453.0h0M77.1 470.4h0M76.8 451.5h0M76.9 465.4h0M77.0 460.7h0M77.1 457.2h0M77.0 464.3h0M76.9 452.2h0M77.1 458.8h0M77.0 468.6h0M76.9 472.6h0M76.9 479.0h0M76.8 469.2h0M76.9 456.8h0M76.7 458.0h0M77.1 473.9h0M76.8 476.8h0M77.0 465.4h0M77.2 468.0h0M77.2 456.5h0M77.3 456.0h0M77.2 468.8h0M77.6 475.3h0M77.2 455.4h0M77.6 464.2h0M77.2 470.3h0M77.4 452.4h0M77.3 459.8h0M77.5 454.6h0M77.5 467.7h0M77.4 464.7h0M77.5 463.2h0M77.2 456.9h0M77.4 460.7h0M77.3 465.5h0M77.7 482.4h0M77.5 473.9h0M77.7 455.8h0M77.6 455.4h0M77.4 463.9h0M77.6 464.9h0M77.7 455.9h0M77.4 463.3h0M77.4 471.1h0M77.4 466.1h0M77.5 454.5h0M77.4 462.4h0M77.5 456.3h0M77.7 457.8h0M77.5 458.3h0M77.2 457.8h0M77.3 454.4h0M77.6 460.6h0M77.7 480.0h0M77.2 464.2h0M77.3 481.7h0M77.7 466.4h0M77.6 470.5h0M77.5 479.0h0M77.5 458.6h0M77.5 464.6h0M77.6 472.6h0M77.5 470.5h0M77.2 467.7h0M77.6 474.8h0M77.6 468.2h0M77.4 479.0h0M78.0 455.8h0M77.8 460.9h0M78.1 457.3h0M78.2 477.7h0M78.0 471.3h0M77.7 465.6h0M78.2 469.8h0M77.8 454.2h0M78.0 475.8h0M77.7 478.8h0M77.7 456.4h0M78.0 474.9h0M77.9 466.9h0M78.1 454.6h0M77.7 481.6h0M78.0 480.1h0M77.9 462.1h0M77.9 474.8h0M77.8 464.5h0M77.8 455.5h0M77.8 457.3h0M77.8 465.5h0M78.1 461.5h0M77.8 472.4h0M77.9 465.4h0M78.2 469.6h0M77.9 464.6h0M77.8 457.7h0M77.7 459.4h0M78.1 470.2h0M78.1 460.0h0M78.1 461.4h0M78.0 471.6h0M77.9 477.4h0M78.0 465.2h0M77.7 477.6h0M77.8 474.4h0M77.8 458.9h0M77.8 479.6h0M78.1 455.0h0M78.1 466.8h0M78.2 456.0h0M78.0 460.7h0M78.0 464.3h0M78.1 456.9h0M65.1 426.0h0M65.3 437.4h0M73.0 424.1h0M73.2 428.6h0M73.3 436.8h0M63.5 441.2h0M64.3 443.1h0M64.7 425.4h0M64.3 436.8h0M65.1 433.6h0M73.4 424.1h0M74.3 432.3h0M75.1 439.9h0M72.6 441.2h0M73.9 427.3h0M111.7 481.8h0M111.6 473.9h0M111.2 467.5h0M111.0 467.9h0M112.1 474.5h0M111.4 468.0h0M112.0 467.6h0M110.8 467.2h0M110.7 464.5h0M111.7 473.1h0M111.6 468.3h0M111.2 465.2h0M111.3 476.5h0M112.0 464.1h0M111.6 475.5h0M111.4 469.5h0M110.9 479.9h0M110.7 478.7h0M111.1 481.0h0M111.0 469.9h0M111.6 482.9h0M112.1 472.7h0M111.9 468.1h0M110.9 476.9h0M111.0 478.6h0M111.5 464.4h0M111.9 478.4h0M111.0 470.9h0M110.9 473.1h0M111.3 465.4h0M111.7 470.1h0M111.2 472.7h0M110.5 477.3h0M111.6 466.5h0M111.9 476.0h0M111.6 466.9h0M110.5 468.9h0M110.9 471.4h0M111.3 463.9h0M111.3 469.8h0M110.6 470.6h0M110.9 468.7h0M111.1 479.2h0M111.3 473.6h0M112.1 484.0h0M111.7 479.9h0M111.3 482.6h0M110.5 471.1h0M110.5 475.8h0M111.8 479.0h0M111.4 474.3h0M111.6 464.6h0M110.7 482.0h0M112.1 480.5h0M111.3 465.9h0M111.4 478.0h0M111.6 469.4h0M111.5 481.1h0M111.8 482.6h0M110.8 470.3h0M111.4 458.4h0M110.7 452.8h0M111.0 453.7h0M110.7 461.8h0M111.5 450.1h0M110.6 457.7h0M111.2 464.2h0M111.6 460.1h0M110.7 460.0h0M111.4 457.8h0M111.1 461.4h0M111.5 458.6h0M111.5 449.7h0M111.1 449.4h0M110.9 473.4h0M111.1 475.5h0M111.3 477.8h0M110.8 479.5h0M110.8 476.6h0M111.7 476.2h0M111.4 475.7h0M110.3 480.4h0M111.8 479.4h0M111.6 481.3h0M113.2 482.4h0M112.9 480.5h0M112.2 481.1h0M111.8 480.8h0M110.4 478.6h0M112.2 479.6h0M113.2 475.7h0M113.3 481.1h0M113.1 475.9h0M112.5 473.9h0M111.2 478.3h0M110.7 474.9h0M110.8 483.1h0M111.4 481.0h0M110.4 483.0h0M111.1 478.4h0M113.3 479.7h0M112.5 478.5h0M112.4 481.4h0M110.6 483.6h0M111.7 475.4h0M111.7 473.4h0M113.1 481.8h0M112.3 475.6h0M111.1 480.0h0M110.9 475.6h0M110.4 477.2h0M111.7 475.4h0M112.1 472.8h0M111.4 480.8h0M115.9 480.9h0M122.6 474.3h0M122.6 480.3h0M122.7 480.2h0M122.9 482.9h0M122.7 476.3h0M122.9 472.8h0M122.8 480.4h0M122.6 475.9h0M122.6 473.8h0M122.9 474.9h0M123.0 477.5h0M123.0 480.3h0M122.7 476.7h0M123.0 483.6h0M123.0 478.3h0M123.0 473.7h0M123.0 476.3h0M122.6 479.1h0M122.7 475.5h0M123.3 478.7h0M123.3 481.1h0M123.2 474.1h0M123.2 477.5h0M123.4 475.6h0M123.3 482.3h0M123.5 473.8h0M123.4 475.0h0M123.5 474.1h0M123.3 478.4h0M123.3 481.4h0M123.1 475.7h0M123.4 475.6h0M123.3 481.1h0M123.2 473.5h0M123.5 479.4h0M123.2 480.7h0M123.2 477.8h0M124.0 482.0h0M123.7 482.1h0M123.7 474.0h0M123.6 475.8h0M123.8 475.9h0M123.8 475.4h0M123.7 479.2h0M123.9 480.4h0M123.9 472.8h0M123.8 479.0h0M123.7 476.4h0M123.9 472.4h0M123.7 480.0h0M123.7 472.4h0M123.6 479.4h0M123.5 475.4h0M123.8 473.4h0M123.8 475.0h0M123.9 477.0h0M123.7 483.3h0M124.0 479.2h0M124.2 474.9h0M124.2 479.1h0M124.4 477.6h0M124.2 479.0h0M124.1 472.3h0M124.3 474.6h0M124.5 470.9h0M124.3 470.3h0M124.3 470.9h0M124.3 478.4h0M124.3 480.0h0M124.2 478.9h0M124.3 481.3h0M124.2 474.4h0M124.5 469.8h0M124.4 475.8h0M124.4 470.5h0M124.4 479.5h0M124.3 475.2h0M124.5 473.3h0M124.5 482.3h0M124.4 479.1h0M124.9 468.4h0M124.6 469.9h0M124.6 477.2h0M124.6 468.6h0M124.6 470.6h0M124.8 471.5h0M124.6 474.9h0M124.8 477.4h0M124.8 481.3h0M124.6 472.4h0M124.7 469.9h0M124.8 469.7h0M124.9 471.7h0M125.0 478.1h0M124.8 480.3h0M124.9 470.4h0M125.0 474.0h0M125.0 476.0h0M124.7 471.4h0M125.0 481.3h0M124.8 475.1h0M124.5 480.6h0M124.9 468.9h0M124.8 478.2h0M125.0 475.4h0M125.4 473.0h0M125.4 476.8h0M125.2 479.0h0M125.3 477.7h0M125.4 470.7h0M125.4 482.7h0M125.3 482.2h0M125.2 477.9h0M125.3 482.4h0M125.1 470.5h0M125.0 477.3h0M125.3 481.0h0M125.2 473.9h0M125.2 474.6h0M125.5 481.3h0M125.4 482.9h0M125.2 472.8h0M125.5 475.8h0M125.3 475.5h0M125.1 481.4h0M125.3 471.2h0M125.2 472.5h0M125.3 477.4h0M125.6 477.0h0M125.7 470.6h0M125.5 482.0h0M126.0 472.3h0M126.0 465.8h0M125.6 474.8h0M126.0 483.4h0M126.0 465.7h0M125.9 474.6h0M125.9 482.8h0M125.7 482.2h0M125.7 470.0h0M125.5 467.1h0M125.6 477.3h0M125.7 480.1h0M125.9 470.1h0M125.8 473.9h0M125.8 474.8h0M125.9 467.1h0M125.9 474.9h0M126.0 475.9h0M125.9 469.2h0M125.7 467.5h0M126.0 479.9h0M125.5 476.2h0M125.5 465.9h0M125.7 479.0h0M125.8 466.3h0M126.0 467.3h0M126.2 481.1h0M126.4 476.4h0M126.4 482.6h0M126.4 480.3h0M126.5 477.7h0M126.3 470.3h0M126.3 481.3h0M126.5 471.3h0M126.4 474.2h0M126.1 472.3h0M126.2 470.2h0M126.2 472.1h0M126.3 479.8h0M126.4 468.6h0M126.1 473.2h0M126.3 470.1h0M126.2 470.2h0M126.4 479.1h0M126.4 475.0h0M126.1 478.2h0M126.2 471.3h0M126.1 472.5h0M126.4 474.1h0M126.5 471.5h0M126.3 468.7h0M126.6 477.6h0M126.9 467.1h0M126.7 474.8h0M126.6 467.2h0M127.0 465.9h0M126.7 466.5h0M126.6 481.0h0M126.8 475.0h0M126.8 481.0h0M126.6 472.6h0M126.8 469.1h0M126.9 474.3h0M126.7 476.2h0M126.6 474.0h0M126.8 465.1h0M126.9 467.7h0M126.9 466.0h0M127.0 478.4h0M126.7 476.5h0M126.9 472.6h0M127.0 471.2h0M126.5 477.0h0M126.7 479.4h0M126.8 481.8h0M126.6 483.2h0M126.6 469.2h0M126.8 465.7h0M126.6 478.1h0M126.6 477.9h0M127.2 478.0h0M127.1 475.9h0M127.0 470.0h0M127.3 474.0h0M127.3 473.4h0M127.5 475.8h0M127.3 478.6h0M127.2 480.9h0M127.5 471.8h0M127.4 470.8h0M127.1 472.4h0M127.1 472.6h0M127.1 479.6h0M127.1 473.6h0M127.1 476.1h0M127.2 468.2h0M127.4 473.0h0M127.4 483.3h0M127.2 477.3h0M127.4 480.2h0M127.5 476.7h0M127.5 469.7h0M127.3 483.8h0M127.1 475.8h0M127.4 474.5h0M128.0 475.7h0M128.0 472.4h0M127.6 482.2h0M127.7 474.2h0M127.6 467.2h0M127.7 468.9h0M127.6 473.9h0M127.7 468.9h0M127.7 477.7h0M127.9 470.6h0M127.6 477.4h0M127.6 468.0h0M127.7 468.1h0M127.8 468.6h0M127.9 473.4h0M127.6 474.6h0M127.8 465.9h0M127.7 469.4h0M127.6 470.8h0M127.9 483.9h0M127.9 467.6h0M128.0 467.5h0M127.7 479.3h0M127.7 467.4h0M127.9 472.8h0M127.5 481.1h0M127.8 467.5h0M127.8 475.1h0M128.1 476.3h0M128.2 477.0h0M128.0 477.0h0M128.2 483.3h0M128.4 474.9h0M128.1 476.2h0M128.4 477.2h0M128.4 481.5h0M128.0 480.1h0M128.4 479.5h0M128.4 482.4h0M128.3 478.0h0M128.4 475.8h0M128.4 476.4h0M128.1 475.1h0M128.4 475.3h0M128.2 478.1h0M128.1 474.6h0M129.0 479.0h0M128.8 478.0h0M128.8 471.7h0M128.6 477.6h0M128.7 481.6h0M128.5 471.5h0M128.7 474.1h0M128.9 474.8h0M128.7 474.5h0M129.0 476.7h0M129.0 472.7h0M128.9 474.2h0M129.0 476.3h0M129.0 481.7h0M128.9 481.2h0M128.7 475.4h0M128.9 474.4h0M128.6 481.7h0M128.6 475.0h0M128.6 472.2h0M129.2 472.2h0M129.1 472.5h0M129.1 472.2h0M129.2 473.2h0M129.4 478.4h0M129.0 479.8h0M129.4 468.2h0M129.3 481.1h0M129.3 476.4h0M129.1 470.7h0M129.4 473.5h0M129.3 468.3h0M129.0 469.4h0M129.5 469.5h0M129.3 469.0h0M129.3 475.9h0M129.3 482.2h0M129.0 473.7h0M129.3 481.5h0M129.4 479.7h0M129.1 474.3h0M129.4 474.1h0M129.5 470.6h0M129.3 469.2h0M129.2 472.9h0M129.3 481.0h0M130.0 477.1h0M130.0 482.0h0M129.6 478.3h0M129.5 471.3h0M129.6 473.1h0M129.6 473.2h0M129.8 474.6h0M129.9 476.4h0M129.9 470.3h0M129.6 477.2h0M129.8 479.2h0M129.5 472.8h0M129.9 480.7h0M129.8 474.6h0M129.8 468.8h0M129.5 479.1h0M129.6 472.7h0M129.9 473.7h0M129.5 474.2h0M129.6 481.1h0M129.7 469.8h0M129.9 468.3h0M129.8 479.1h0M129.7 481.2h0M129.7 472.9h0M130.5 473.3h0M130.1 465.0h0M130.1 474.4h0M130.1 467.4h0M130.5 476.9h0M130.3 482.4h0M130.4 478.5h0M130.2 470.1h0M130.2 466.4h0M130.0 476.9h0M130.1 473.1h0M130.4 463.4h0M130.5 477.5h0M130.1 475.2h0M130.3 465.4h0M130.3 481.9h0M130.4 468.9h0M130.2 470.4h0M130.1 474.9h0M130.3 473.5h0M130.2 478.6h0M130.5 470.7h0M130.4 469.4h0M130.1 481.9h0M130.1 473.5h0M130.1 473.9h0M130.5 482.8h0M130.1 467.4h0M130.4 475.9h0M130.1 474.1h0M130.4 475.4h0M130.3 472.2h0M130.5 469.0h0M130.7 479.9h0M130.9 478.5h0M130.6 475.9h0M130.8 472.7h0M130.5 471.9h0M130.9 469.8h0M130.6 481.1h0M130.7 478.0h0M131.0 470.5h0M130.7 468.6h0M130.8 482.1h0M130.6 477.2h0M131.0 471.1h0M130.6 468.2h0M130.7 466.4h0M130.8 483.2h0M130.7 470.6h0M130.7 470.8h0M130.6 483.1h0M130.6 471.1h0M130.6 468.6h0M130.9 479.8h0M130.5 470.7h0M130.9 467.7h0M130.7 482.6h0M130.9 471.7h0M131.0 476.3h0M130.5 481.6h0M131.2 480.7h0M131.0 468.9h0M131.2 467.3h0M131.3 476.6h0M131.3 473.2h0M131.3 476.3h0M131.2 478.1h0M131.1 473.1h0M131.3 469.8h0M131.1 473.4h0M131.2 476.9h0M131.3 474.3h0M131.1 468.2h0M131.1 474.1h0M131.4 479.1h0M131.3 469.7h0M131.1 479.5h0M131.2 476.6h0M131.2 478.8h0M131.2 464.6h0M131.0 470.0h0M131.2 465.7h0M131.4 472.2h0M131.1 464.2h0M131.4 465.1h0M131.1 473.3h0M131.2 475.2h0M131.1 474.6h0M131.1 464.0h0M131.5 469.2h0M131.3 463.5h0M131.3 467.0h0M131.7 479.7h0M131.6 471.8h0M131.9 477.4h0M131.6 472.3h0M131.7 472.5h0M131.8 473.1h0M131.8 470.7h0M131.6 471.5h0M131.8 473.4h0M132.0 482.7h0M131.6 473.1h0M131.9 478.8h0M131.7 471.7h0M132.0 470.6h0M131.6 477.0h0M131.7 475.7h0M131.9 475.7h0M131.7 474.1h0M131.9 474.3h0M132.0 470.5h0M131.9 471.4h0M131.6 474.6h0M132.1 474.5h0M132.4 472.7h0M132.4 478.8h0M132.2 473.2h0M132.1 472.2h0M132.0 477.5h0M132.0 478.7h0M132.4 471.2h0M132.2 479.3h0M132.2 472.6h0M132.1 473.2h0M132.2 479.1h0M132.5 479.5h0M132.5 476.7h0M132.5 473.6h0M132.4 475.6h0M132.5 473.8h0M132.2 482.3h0M132.1 472.3h0M132.5 482.9h0M132.2 476.6h0M132.5 472.2h0M132.9 472.0h0M132.7 472.0h0M133.0 472.8h0M132.7 477.4h0M132.8 471.7h0M132.8 476.8h0M132.5 478.0h0M132.6 476.2h0M132.7 479.8h0M132.6 474.5h0M132.6 474.2h0M132.8 472.1h0M132.6 471.2h0M132.9 476.0h0M132.7 479.6h0M132.8 480.0h0M132.7 482.1h0M132.8 474.8h0M132.9 472.4h0M132.8 477.4h0M133.3 476.8h0M133.2 478.9h0M133.1 473.0h0M133.5 474.3h0M133.3 480.3h0M133.2 471.6h0M133.5 481.9h0M133.4 479.6h0M133.5 479.4h0M133.4 471.5h0M133.0 483.4h0M133.3 476.8h0M133.5 478.5h0M133.0 472.3h0M133.3 475.9h0M133.3 472.0h0M133.1 479.1h0M133.5 475.9h0M133.0 473.3h0M133.3 482.5h0M133.2 475.0h0M133.8 472.2h0M133.9 475.2h0M133.9 471.1h0M133.6 471.1h0M134.0 468.5h0M133.7 480.3h0M133.8 480.8h0M133.8 470.9h0M133.8 471.5h0M133.9 474.4h0M133.6 470.4h0M133.8 471.5h0M133.7 469.0h0M133.7 472.7h0M133.8 473.7h0M133.9 477.6h0M133.5 479.6h0M133.7 471.4h0M133.6 475.2h0M133.8 478.7h0M133.8 472.1h0M133.6 469.1h0M134.0 468.7h0M133.6 476.7h0M133.8 470.0h0M133.5 477.9h0M134.1 478.5h0M134.5 472.9h0M134.4 481.1h0M134.2 480.4h0M134.1 480.1h0M134.1 470.9h0M134.1 469.4h0M134.0 476.9h0M134.2 475.6h0M134.3 474.2h0M134.2 476.6h0M134.4 476.9h0M134.4 474.2h0M134.1 471.0h0M134.3 472.5h0M134.0 474.8h0M134.3 475.5h0M134.2 480.2h0M134.3 470.8h0M134.3 477.1h0M134.1 476.1h0M134.2 479.1h0M134.2 476.3h0M134.3 470.1h0M134.2 472.0h0M134.6 471.7h0M134.9 473.2h0M134.9 471.4h0M135.0 473.1h0M135.0 478.6h0M134.7 479.7h0M134.6 476.9h0M134.7 474.1h0M134.7 480.3h0M134.8 477.7h0M134.9 473.5h0M135.0 470.7h0M134.8 478.7h0M134.8 478.2h0M134.8 472.7h0M134.9 476.1h0M134.7 482.8h0M134.9 472.0h0M134.8 472.2h0M134.6 473.8h0M134.7 472.1h0M134.7 475.8h0M135.2 469.8h0M135.5 477.8h0M135.4 468.8h0M135.3 473.1h0M135.4 472.3h0M135.3 469.5h0M135.3 470.8h0M135.5 477.0h0M135.4 479.1h0M135.3 472.4h0M135.4 477.0h0M135.5 471.2h0M135.5 478.0h0M135.3 475.0h0M135.5 470.5h0M135.1 469.3h0M135.2 474.7h0M135.0 474.2h0M135.5 474.9h0M135.0 470.1h0M135.2 480.8h0M135.4 479.2h0M135.3 475.5h0M135.1 475.3h0M135.2 474.8h0M135.8 481.9h0M135.8 468.7h0M135.9 475.3h0M135.9 479.4h0M135.9 479.2h0M135.5 472.0h0M135.7 474.0h0M135.5 478.3h0M135.5 468.9h0M135.6 468.9h0M135.5 478.8h0M135.9 472.4h0M135.5 476.6h0M135.6 476.5h0M135.7 473.7h0M135.9 482.6h0M135.8 468.8h0M135.7 472.0h0M135.7 477.2h0M135.8 481.8h0M135.8 473.7h0M135.6 482.6h0M136.0 472.1h0M135.5 470.5h0M135.6 474.8h0M136.5 475.1h0M136.3 478.2h0M136.2 482.2h0M136.4 481.1h0M136.3 480.0h0M136.1 482.6h0M136.2 481.3h0M136.4 475.4h0M136.1 483.0h0M136.2 473.2h0M136.1 475.7h0M136.1 472.1h0M136.1 480.0h0M136.3 478.9h0M136.4 473.9h0M136.4 472.2h0M136.2 482.7h0M136.2 479.4h0M136.1 477.6h0M136.0 483.8h0M136.6 472.3h0M136.6 481.4h0M136.8 472.5h0M136.9 472.0h0M136.7 479.0h0M136.5 471.2h0M136.8 471.2h0M136.9 474.0h0M136.9 480.1h0M137.0 472.0h0M136.7 476.5h0M136.8 475.0h0M136.6 471.1h0M136.7 482.7h0M136.8 480.6h0M137.0 471.3h0M136.9 482.0h0M136.9 479.9h0M136.8 480.1h0M136.9 473.5h0M136.7 479.1h0M136.9 471.2h0M137.5 476.9h0M137.2 477.6h0M137.0 477.4h0M137.3 477.4h0M137.0 475.5h0M137.2 481.0h0M137.4 476.5h0M137.0 478.1h0M137.4 476.2h0M137.2 475.0h0M137.2 481.1h0M137.1 474.2h0M137.1 476.7h0M137.1 479.3h0M137.2 483.5h0M137.0 482.1h0M137.4 479.7h0M137.2 476.5h0M138.0 474.7h0M137.9 479.2h0M138.0 473.3h0M137.8 474.5h0M137.6 473.1h0M137.6 474.6h0M137.5 474.8h0M137.8 478.1h0M137.6 477.4h0M137.6 478.6h0M138.0 478.5h0M137.9 477.7h0M137.9 475.3h0M137.9 475.2h0M137.8 473.8h0M137.8 474.3h0M137.8 477.6h0M137.6 479.0h0M138.1 479.2h0M138.5 475.4h0M138.2 475.2h0M138.2 482.3h0M138.5 482.6h0M138.5 477.9h0M138.3 477.2h0M138.2 474.0h0M138.2 472.8h0M138.3 474.1h0M138.1 480.5h0M138.2 473.7h0M138.2 474.3h0M138.3 480.6h0M138.3 481.3h0M138.3 480.8h0M138.3 477.5h0M138.3 477.6h0M138.3 477.8h0M139.0 478.8h0M138.6 480.1h0M138.9 478.6h0M138.7 478.4h0M138.9 475.9h0M138.6 476.2h0M138.7 478.1h0M138.7 479.2h0M138.7 477.2h0M138.7 477.2h0M138.6 483.4h0M138.6 481.0h0M138.6 479.4h0M138.8 476.4h0M139.3 475.3h0M139.3 476.3h0M139.4 476.7h0M139.2 475.9h0M139.4 474.8h0M139.4 477.6h0M139.1 483.7h0M139.1 476.6h0M139.1 476.6h0M139.1 481.3h0M139.4 481.8h0M139.4 477.4h0M139.1 480.6h0M139.3 480.3h0M139.3 477.3h0M139.0 480.3h0M139.6 477.9h0M139.9 477.5h0M139.9 480.3h0M140.0 483.2h0M139.5 478.9h0M139.5 479.3h0M139.7 478.3h0M139.7 480.6h0M139.8 476.7h0M139.6 482.9h0M139.6 477.0h0M139.9 483.9h0M139.6 477.8h0M148.3 477.7h0M158.0 479.7h0M158.3 483.5h0M158.0 483.6h0M158.1 482.1h0M158.3 482.1h0M158.3 479.0h0M158.6 478.0h0M158.3 480.0h0M158.7 478.5h0M158.3 478.5h0M158.3 481.2h0M158.1 480.1h0M158.2 478.4h0M158.7 477.4h0M158.3 478.4h0M158.0 481.1h0M158.0 483.3h0M158.4 482.3h0M158.3 480.3h0M158.3 482.6h0" stroke="#2b2f62" stroke-width="3.2" stroke-linecap="round" fill="none"/>
<path d="M65.1 474.6h0M133.3 470.1h0" stroke="#71c6ec" stroke-width="3.2" stroke-linecap="round" fill="none"/>
<path d="M76.7 444.3h0M77.6 417.1h0M76.7 441.8h0M76.6 431.8h0M76.3 438.4h0M77.4 429.1h0M76.3 428.4h0M76.4 443.3h0M77.1 425.8h0M77.1 434.7h0M77.5 413.1h0M77.7 434.9h0M77.5 416.8h0M77.0 422.0h0M77.6 418.2h0M75.9 412.0h0M76.4 438.5h0M77.1 432.8h0M76.9 412.7h0M77.3 445.0h0M76.0 429.7h0M77.0 422.6h0M75.9 417.5h0M76.6 427.1h0M75.7 444.9h0M77.1 430.9h0M77.2 433.9h0M76.3 426.9h0M77.3 434.7h0M77.0 436.4h0M76.2 413.7h0M77.0 422.3h0M76.5 439.4h0M77.1 433.0h0" stroke="#5cb846" stroke-width="3.2" stroke-linecap="round" fill="none"/>
<path d="M77.4 443.5h0M76.2 440.5h0M77.3 440.1h0M76.4 428.3h0M76.3 433.5h0M77.3 440.5h0M77.9 444.3h0M77.3 447.7h0M77.1 429.0h0M76.1 444.4h0M76.4 433.1h0M76.6 436.5h0M76.8 436.2h0M76.2 438.7h0M76.4 439.7h0M77.1 441.2h0M76.7 443.8h0M76.6 431.7h0M76.8 433.1h0M76.8 442.6h0M76.7 442.5h0M76.7 430.9h0" stroke="#71c6ec" stroke-width="3.2" stroke-linecap="round" fill="none"/>
<path d="M77.3 383.2h0M77.3 409.7h0M76.9 431.7h0M77.3 452.5h0M77.2 424.1h0M77.4 417.2h0M76.6 406.5h0M77.0 438.6h0" stroke="#f6a033" stroke-width="3.2" stroke-linecap="round" fill="none"/>
<path d="M76.8 394.5h0M76.8 402.1h0M76.8 404.6h0" stroke="#e8282a" stroke-width="3.2" stroke-linecap="round" fill="none"/>
<path d="M76.8 387.2L79.1 389.5L76.8 391.8L74.5 389.5Z" fill="#e8282a" stroke="#000" stroke-width="1.2"/>
<text x="61.7" y="399.6" font-size="7.6" fill="#222">rs316348444</text>
<line x1="31" y1="378.3" x2="31" y2="489.3" stroke="#333" stroke-width="0.7"/>
<line x1="31" y1="489.3" x2="167.3" y2="489.3" stroke="#333" stroke-width="0.7"/>
<line x1="29.4" y1="484" x2="31" y2="484" stroke="#333" stroke-width="0.6"/>
<text x="28.6" y="486.6" font-size="7.4" text-anchor="end" fill="#222">0</text>
<line x1="29.4" y1="452.5" x2="31" y2="452.5" stroke="#333" stroke-width="0.6"/>
<text x="28.6" y="455.1" font-size="7.4" text-anchor="end" fill="#222">5</text>
<line x1="29.4" y1="421" x2="31" y2="421" stroke="#333" stroke-width="0.6"/>
<text x="28.6" y="423.6" font-size="7.4" text-anchor="end" fill="#222">10</text>
<line x1="29.4" y1="389.5" x2="31" y2="389.5" stroke="#333" stroke-width="0.6"/>
<text x="28.6" y="392.1" font-size="7.4" text-anchor="end" fill="#222">15</text>
<line x1="36" y1="489.3" x2="36" y2="490.9" stroke="#333" stroke-width="0.6"/>
<text x="36" y="498.8" font-size="7.4" text-anchor="middle" fill="#222">0.0</text>
<line x1="77.6" y1="489.3" x2="77.6" y2="490.9" stroke="#333" stroke-width="0.6"/>
<text x="77.6" y="498.8" font-size="7.4" text-anchor="middle" fill="#222">0.5</text>
<line x1="119.2" y1="489.3" x2="119.2" y2="490.9" stroke="#333" stroke-width="0.6"/>
<text x="119.2" y="498.8" font-size="7.4" text-anchor="middle" fill="#222">1.0</text>
<line x1="160.8" y1="489.3" x2="160.8" y2="490.9" stroke="#333" stroke-width="0.6"/>
<text x="160.8" y="498.8" font-size="7.4" text-anchor="middle" fill="#222">1.5</text>
<text x="101.9" y="514.5" font-size="9.85" text-anchor="middle" fill="#111">Chromosome 24 position (Mb)</text>
<text transform="translate(12.6 444.8) rotate(-90)" font-size="10.2" fill="#111">-log<tspan font-size="5.8" dy="2.2">10</tspan><tspan dy="-2.2" font-style="italic">P</tspan></text>
<text x="182.8" y="383.6" font-size="7.2" text-anchor="end" fill="#222">eQTL</text>
<text x="182.8" y="392.8" font-size="7.2" text-anchor="end" fill="#222">Small_intestine</text>
<text x="182.8" y="400.8" font-size="7.2" text-anchor="end" fill="#222" font-style="italic">ST3GAL4</text>
<rect x="154.4" y="405.6" width="5.4" height="5" fill="#2b2f62"/>
<text x="166" y="409.8" font-size="7" fill="#222">0.0</text>
<rect x="154.4" y="412.6" width="5.4" height="5" fill="#2b2f62"/>
<text x="166" y="416.8" font-size="7" fill="#222">0.2</text>
<rect x="154.4" y="419.6" width="5.4" height="5" fill="#71c6ec"/>
<text x="166" y="423.8" font-size="7" fill="#222">0.4</text>
<rect x="154.4" y="426.6" width="5.4" height="5" fill="#5cb846"/>
<text x="166" y="430.8" font-size="7" fill="#222">0.6</text>
<rect x="154.4" y="433.6" width="5.4" height="5" fill="#f6a033"/>
<text x="166" y="437.8" font-size="7" fill="#222">0.8</text>
<rect x="154.4" y="440.6" width="5.4" height="5" fill="#e8282a"/>
<text x="166" y="444.8" font-size="7" fill="#222">1.0</text>
<text x="184.3" y="214.7" font-size="10.5" fill="#000" font-weight="bold">f</text>
<text x="210.6" y="212.1" font-size="8.2" fill="#111">Promoter activity</text>
<rect x="214.1" y="216.9" width="45.6" height="126.4" fill="none" stroke="#222" stroke-width="0.75"/>
<text x="211.4" y="335.2" font-size="7.2" text-anchor="end" fill="#222">1</text>
<text x="211.4" y="300.3" font-size="7.2" text-anchor="end" fill="#222">2</text>
<text x="211.4" y="265.4" font-size="7.2" text-anchor="end" fill="#222">3</text>
<text x="211.4" y="230.5" font-size="7.2" text-anchor="end" fill="#222">4</text>
<text transform="translate(203.8 274.1) rotate(-90)" font-size="8.35" fill="#111" text-anchor="middle">Firefly/Renilla</text>
<line x1="251" y1="249.5" x2="251" y2="269.3" stroke="#222" stroke-width="0.7"/>
<line x1="248.8" y1="249.5" x2="253.2" y2="249.5" stroke="#222" stroke-width="0.7"/>
<line x1="248.8" y1="269.3" x2="253.2" y2="269.3" stroke="#222" stroke-width="0.7"/>
<rect x="245.7" y="253.4" width="10.6" height="10.4" fill="#6cc5b0" stroke="#555" stroke-width="0.6"/>
<line x1="245.7" y1="258.6" x2="256.3" y2="258.6" stroke="#333" stroke-width="0.6"/>
<line x1="251" y1="253.4" x2="251" y2="263.8" stroke="#222" stroke-width="0.7"/>
<line x1="237.1" y1="288.6" x2="237.1" y2="300.5" stroke="#222" stroke-width="0.7"/>
<line x1="234.9" y1="288.6" x2="239.3" y2="288.6" stroke="#222" stroke-width="0.7"/>
<line x1="234.9" y1="300.5" x2="239.3" y2="300.5" stroke="#222" stroke-width="0.7"/>
<rect x="231.8" y="291" width="10.6" height="6.6" fill="#b3b3e0" stroke="#555" stroke-width="0.6"/>
<line x1="231.8" y1="294.5" x2="242.4" y2="294.5" stroke="#333" stroke-width="0.6"/>
<line x1="237.1" y1="291" x2="237.1" y2="297.6" stroke="#222" stroke-width="0.7"/>
<line x1="222.9" y1="329.8" x2="222.9" y2="337.6" stroke="#222" stroke-width="0.7"/>
<line x1="220.7" y1="329.8" x2="225.1" y2="329.8" stroke="#222" stroke-width="0.7"/>
<line x1="220.7" y1="337.6" x2="225.1" y2="337.6" stroke="#222" stroke-width="0.7"/>
<rect x="217.6" y="332.4" width="10.6" height="4.5" fill="#e0dd98" stroke="#555" stroke-width="0.6"/>
<line x1="217.6" y1="334.7" x2="228.2" y2="334.7" stroke="#333" stroke-width="0.6"/>
<line x1="222.9" y1="332.4" x2="222.9" y2="336.9" stroke="#222" stroke-width="0.7"/>
<path d="M222.4 247.4V244.6H236.5V247.4" fill="none" stroke="#222" stroke-width="0.65"/>
<path d="M222.4 238.5V236.1H251.2V238.5" fill="none" stroke="#222" stroke-width="0.65"/>
<path d="M236.5 229.4V227.1H251.2V229.4" fill="none" stroke="#222" stroke-width="0.65"/>
<text x="234.6" y="243.3" font-size="6.7" fill="#222" text-anchor="middle">3×10<tspan font-size="4.2" dy="-2.3">-6</tspan></text>
<text x="237.6" y="234.9" font-size="6.7" fill="#222" text-anchor="middle">1.1×10<tspan font-size="4.2" dy="-2.3">-4</tspan></text>
<text x="242.0" y="224.8" font-size="6.7" fill="#222" text-anchor="middle">1.1×10<tspan font-size="4.2" dy="-2.3">-3</tspan></text>
<text x="222.9" y="352.5" font-size="7.2" text-anchor="middle" fill="#222">NC</text>
<text x="237.1" y="352.5" font-size="7.2" text-anchor="middle" fill="#222">WT</text>
<text x="251" y="352.5" font-size="7.2" text-anchor="middle" fill="#222">MT</text>
<text x="288" y="212.1" font-size="8.2" fill="#111">Enhancer activity</text>
<rect x="293.6" y="216.9" width="42.1" height="126.4" fill="none" stroke="#222" stroke-width="0.75"/>
<text x="292.2" y="343.3" font-size="7.2" text-anchor="end" fill="#222">0.9</text>
<text x="292.2" y="313.1" font-size="7.2" text-anchor="end" fill="#222">1.2</text>
<text x="292.2" y="282.9" font-size="7.2" text-anchor="end" fill="#222">1.5</text>
<text x="292.2" y="252.7" font-size="7.2" text-anchor="end" fill="#222">1.8</text>
<text transform="translate(280.0 274.1) rotate(-90)" font-size="8.35" fill="#111" text-anchor="middle">Firefly/Renilla</text>
<line x1="329.1" y1="248.8" x2="329.1" y2="253" stroke="#222" stroke-width="0.7"/>
<line x1="326.9" y1="248.8" x2="331.3" y2="248.8" stroke="#222" stroke-width="0.7"/>
<line x1="326.9" y1="253" x2="331.3" y2="253" stroke="#222" stroke-width="0.7"/>
<rect x="324.1" y="249.7" width="10" height="2.9" fill="#6cc5b0" stroke="#555" stroke-width="0.6"/>
<line x1="324.1" y1="251.2" x2="334.1" y2="251.2" stroke="#333" stroke-width="0.6"/>
<line x1="329.1" y1="249.7" x2="329.1" y2="252.6" stroke="#222" stroke-width="0.7"/>
<line x1="314.7" y1="291.6" x2="314.7" y2="304.5" stroke="#222" stroke-width="0.7"/>
<line x1="312.5" y1="291.6" x2="316.9" y2="291.6" stroke="#222" stroke-width="0.7"/>
<line x1="312.5" y1="304.5" x2="316.9" y2="304.5" stroke="#222" stroke-width="0.7"/>
<rect x="309.6" y="297.1" width="10.2" height="5.1" fill="#b3b3e0" stroke="#555" stroke-width="0.6"/>
<line x1="309.6" y1="299.7" x2="319.8" y2="299.7" stroke="#333" stroke-width="0.6"/>
<line x1="314.7" y1="297.1" x2="314.7" y2="302.2" stroke="#222" stroke-width="0.7"/>
<line x1="301.4" y1="327.8" x2="301.4" y2="337.2" stroke="#222" stroke-width="0.7"/>
<line x1="299.2" y1="327.8" x2="303.6" y2="327.8" stroke="#222" stroke-width="0.7"/>
<line x1="299.2" y1="337.2" x2="303.6" y2="337.2" stroke="#222" stroke-width="0.7"/>
<rect x="296.1" y="329.5" width="10.6" height="4.6" fill="#eeeaa0" stroke="#555" stroke-width="0.6"/>
<line x1="296.1" y1="331.7" x2="306.7" y2="331.7" stroke="#333" stroke-width="0.6"/>
<line x1="301.4" y1="329.5" x2="301.4" y2="334.1" stroke="#222" stroke-width="0.7"/>
<path d="M301.2 246.5V244.8H315.0V246.5" fill="none" stroke="#222" stroke-width="0.65"/>
<path d="M301.2 237.6V235.9H327.4V237.6" fill="none" stroke="#222" stroke-width="0.65"/>
<path d="M315.0 228.9V227.2H327.4V228.9" fill="none" stroke="#222" stroke-width="0.65"/>
<text x="314.5" y="242.9" font-size="6.7" fill="#222" text-anchor="middle">1.1×10<tspan font-size="4.2" dy="-2.3">-4</tspan></text>
<text x="314.2" y="233.7" font-size="6.7" fill="#222" text-anchor="middle">4.8×10<tspan font-size="4.2" dy="-2.3">-7</tspan></text>
<text x="319.3" y="225.0" font-size="6.7" fill="#222" text-anchor="middle">1.7×10<tspan font-size="4.2" dy="-2.3">-5</tspan></text>
<text x="301.4" y="352.5" font-size="7.2" text-anchor="middle" fill="#222">NC</text>
<text x="314.7" y="352.5" font-size="7.2" text-anchor="middle" fill="#222">WT</text>
<text x="329.1" y="352.5" font-size="7.2" text-anchor="middle" fill="#222">MT</text>
<text x="196.8" y="371.3" font-size="10.5" fill="#000" font-weight="bold">g</text>
<rect x="224.9" y="367.8" width="94.7" height="129.1" fill="none" stroke="#222" stroke-width="0.8"/>
<text x="222.6" y="496" font-size="8.4" text-anchor="end" fill="#222">0</text>
<text x="222.6" y="470.1" font-size="8.4" text-anchor="end" fill="#222">10</text>
<text x="222.6" y="444.2" font-size="8.4" text-anchor="end" fill="#222">20</text>
<text x="222.6" y="418.3" font-size="8.4" text-anchor="end" fill="#222">30</text>
<text x="222.6" y="392.4" font-size="8.4" text-anchor="end" fill="#222">40</text>
<text transform="translate(206.6 433.7) rotate(-90)" font-size="9.7" fill="#111" text-anchor="middle">Relative gene expression</text>
<path d="M290.7 383.6L290.4 384.7L290.0 385.8L289.7 386.9L289.4 388.0L288.8 389.2L287.8 390.3L286.9 391.4L285.9 392.5L284.9 393.6L283.9 394.7L283.0 395.8L282.0 396.9L281.0 398.0L280.4 399.1L279.8 400.3L279.3 401.4L278.7 402.5L278.2 403.6L277.6 404.7L277.0 405.8L276.5 406.9L276.0 408.0L275.8 409.1L275.7 410.2L275.6 411.4L275.4 412.5L275.3 413.6L275.5 414.7L275.8 415.8L276.0 416.9L276.3 418.0L276.5 419.1L276.8 420.2L277.0 421.3L277.7 422.5L278.5 423.6L279.2 424.7L279.9 425.8L280.6 426.9L281.3 428.0L282.0 429.1L282.8 430.2L283.4 431.3L283.9 432.4L284.4 433.6L284.9 434.7L285.4 435.8L285.9 436.9L286.4 438.0L286.9 439.1L287.4 440.2L287.7 441.3L288.0 442.4L288.3 443.5L288.5 444.7L288.8 445.8L289.1 446.9L289.4 448.0L289.7 449.1L298.7 449.1L299.0 448.0L299.3 446.9L299.6 445.8L299.9 444.7L300.1 443.5L300.4 442.4L300.7 441.3L301.0 440.2L301.5 439.1L302.0 438.0L302.5 436.9L303.0 435.8L303.5 434.7L304.0 433.6L304.5 432.4L305.0 431.3L305.6 430.2L306.4 429.1L307.1 428.0L307.8 426.9L308.5 425.8L309.2 424.7L309.9 423.6L310.7 422.5L311.4 421.3L311.6 420.2L311.9 419.1L312.1 418.0L312.4 416.9L312.6 415.8L312.9 414.7L313.1 413.6L313.0 412.5L312.8 411.4L312.7 410.2L312.6 409.1L312.4 408.0L311.9 406.9L311.4 405.8L310.8 404.7L310.2 403.6L309.7 402.5L309.1 401.4L308.6 400.3L308.0 399.1L307.4 398.0L306.4 396.9L305.4 395.8L304.5 394.7L303.5 393.6L302.5 392.5L301.5 391.4L300.6 390.3L299.6 389.2L299.0 388.0L298.7 386.9L298.4 385.8L298.0 384.7L297.7 383.6Z" fill="#6e9fc6" stroke="#5f8fb6" stroke-width="0.4"/>
<line x1="294.2" y1="383.6" x2="294.2" y2="449.1" stroke="#1e2c3a" stroke-width="1.1"/>
<line x1="287.5" y1="383.6" x2="300.5" y2="383.6" stroke="#1e2c3a" stroke-width="1.1"/>
<line x1="287.5" y1="449.1" x2="300.5" y2="449.1" stroke="#1e2c3a" stroke-width="1.1"/>
<rect x="291.4" y="405.4" width="5.4" height="19.7" fill="none" stroke="#1e2c3a" stroke-width="0.85"/>
<line x1="291.4" y1="416.5" x2="296.8" y2="416.5" stroke="#1e2c3a" stroke-width="1.4"/>
<path d="M233.8 490.9 Q250.9 487.6 267.4 490.9 Q250.9 492.6 233.8 490.9Z" fill="#c9cfb0" stroke="#a8b090" stroke-width="0.3"/>
<rect x="244.4" y="489" width="12.6" height="3.2" fill="#555" stroke="#333" stroke-width="0.4"/>
<line x1="246.5" y1="490.6" x2="255" y2="490.6" stroke="#111" stroke-width="1"/>
<circle cx="250.9" cy="486.1" r="0.9" fill="#222"/>
<path d="M250.5 381.1V378.2H294.2V381.1" fill="none" stroke="#333" stroke-width="0.75"/>
<text x="275.5" y="375.8" font-size="8.8" fill="#222" text-anchor="middle">1×10<tspan font-size="5.3" dy="-3">-8</tspan></text>
<text x="251.6" y="505.2" font-size="8.6" text-anchor="middle" fill="#222">CC</text>
<text x="295.8" y="505.2" font-size="8.6" text-anchor="middle" fill="#222">CT</text>
<text x="274.4" y="517.9" font-size="8.93" text-anchor="middle" fill="#111">rs316348444 genotypes</text>
<text x="363.2" y="214.7" font-size="10.5" fill="#000" font-weight="bold">i</text>
<path d="M397.6 332.5h0M396.5 325.6h0M398.0 331.1h0M396.7 325.0h0M397.2 328.1h0M397.0 334.1h0M397.2 329.5h0M397.1 326.7h0M397.7 325.8h0M397.8 335.9h0M397.6 326.7h0M398.0 323.1h0M396.3 324.0h0M396.8 325.8h0M397.8 323.8h0M398.2 325.7h0M398.0 327.1h0M396.8 331.8h0M397.3 324.7h0M397.2 325.3h0M396.6 322.8h0M397.2 324.0h0M397.8 324.4h0M397.1 332.9h0M397.2 329.1h0M397.1 322.7h0M395.9 325.8h0M396.1 321.8h0M399.9 326.9h0M398.5 332.4h0M399.7 327.3h0M398.7 322.7h0M398.8 324.2h0M398.9 324.5h0M399.4 335.0h0M399.7 329.6h0M399.2 324.8h0M400.3 327.6h0M399.6 327.1h0M399.6 331.8h0M400.3 332.1h0M399.6 334.0h0M398.5 323.4h0M399.8 333.2h0M398.9 333.9h0M400.2 323.7h0M399.9 325.0h0M399.6 335.2h0M398.4 329.4h0M399.5 323.8h0M399.2 330.2h0M399.6 322.8h0M399.3 326.3h0M398.9 324.5h0M398.6 325.2h0M397.9 323.6h0M400.3 319.4h0M401.9 322.4h0M400.6 321.9h0M400.5 328.4h0M400.6 326.1h0M400.7 330.1h0M401.5 331.1h0M401.3 323.7h0M400.3 321.8h0M401.8 323.1h0M401.7 321.2h0M400.6 333.1h0M401.8 335.7h0M401.6 324.4h0M402.1 332.6h0M401.0 323.0h0M401.0 328.7h0M400.7 335.6h0M401.4 333.7h0M401.2 323.3h0M401.1 324.6h0M402.2 330.7h0M401.6 323.9h0M401.3 328.0h0M400.6 327.4h0M401.4 321.1h0M400.8 322.1h0M401.9 327.6h0M401.5 335.2h0M402.3 325.9h0M403.6 320.6h0M402.0 320.2h0M403.7 327.1h0M403.1 324.7h0M402.8 328.8h0M404.3 328.0h0M403.0 322.3h0M404.2 322.7h0M402.5 323.7h0M402.7 325.2h0M404.0 324.2h0M402.4 325.7h0M402.6 323.5h0M402.8 330.8h0M403.0 326.2h0M404.1 331.3h0M404.0 327.7h0M404.3 325.3h0M402.7 326.6h0M403.8 323.5h0M403.2 328.2h0M403.8 332.9h0M403.7 328.0h0M403.7 333.3h0M402.8 329.4h0M402.9 322.3h0M404.0 333.3h0M403.5 322.4h0M403.9 334.4h0M402.5 318.9h0M403.1 320.8h0M404.4 326.2h0M404.8 326.5h0M404.7 323.4h0M406.0 324.0h0M406.1 322.1h0M405.5 323.4h0M404.6 325.4h0M406.2 323.4h0M406.2 328.6h0M404.6 333.8h0M404.3 325.0h0M405.7 331.0h0M406.2 329.1h0M404.8 323.8h0M404.4 326.5h0M405.6 325.4h0M404.8 322.8h0M405.4 325.2h0M405.1 321.3h0M404.4 329.5h0M405.7 328.7h0M405.8 323.4h0M405.1 322.5h0M405.7 324.2h0M405.4 325.3h0M406.1 322.6h0M404.8 322.1h0M405.5 326.4h0M408.0 320.4h0M405.7 319.8h0M407.6 321.4h0M408.0 329.7h0M406.8 324.8h0M407.3 336.0h0M407.4 321.5h0M407.7 331.7h0M407.7 330.8h0M408.2 325.5h0M408.1 323.1h0M408.2 325.8h0M407.3 333.8h0M407.6 329.6h0M406.8 324.9h0M407.6 332.0h0M407.4 336.5h0M406.4 325.2h0M407.7 326.9h0M407.6 322.5h0M407.4 322.0h0M407.3 322.6h0M407.6 324.5h0M407.3 322.9h0M407.6 322.2h0M408.0 324.1h0M407.0 321.5h0M407.5 329.1h0M408.0 329.9h0M406.3 321.9h0M406.8 327.8h0M406.6 319.7h0M407.8 317.0h0M409.5 326.4h0M409.5 323.4h0M409.9 325.2h0M409.9 329.4h0M408.9 325.9h0M408.8 327.8h0M409.0 321.9h0M409.2 329.1h0M408.5 320.8h0M409.7 322.8h0M408.5 334.9h0M408.9 334.7h0M408.7 319.7h0M409.2 322.0h0M410.1 325.0h0M409.9 323.8h0M409.2 321.7h0M408.7 328.8h0M409.5 328.7h0M408.6 324.1h0M409.7 326.7h0M409.1 323.6h0M408.9 327.4h0M408.7 322.4h0M409.2 321.8h0M409.4 321.3h0M409.6 325.3h0M409.6 322.9h0M408.6 325.5h0M408.6 322.0h0M409.4 321.1h0M410.6 325.0h0M409.3 319.3h0M411.9 321.7h0M410.6 329.6h0M412.0 320.9h0M412.2 320.7h0M411.3 328.5h0M410.4 325.2h0M410.4 324.4h0M410.5 330.3h0M410.8 325.5h0M410.7 326.6h0M412.1 326.4h0M412.0 326.7h0M410.6 327.4h0M412.0 324.1h0M411.0 329.7h0M411.6 326.6h0M411.9 330.7h0M412.1 322.3h0M411.9 324.8h0M411.7 329.8h0M411.4 323.9h0M411.1 324.7h0M412.1 326.4h0M410.9 326.1h0M412.1 331.2h0M411.2 323.1h0M410.9 325.1h0M412.1 327.9h0M411.2 333.6h0M411.6 332.0h0M410.8 321.2h0M409.0 318.0h0M413.6 326.4h0M413.3 333.7h0M412.6 328.8h0M413.0 323.4h0M412.5 324.1h0M412.6 326.1h0M414.1 333.3h0M414.0 324.7h0M413.7 326.9h0M412.4 323.4h0M414.1 333.0h0M413.4 330.5h0M413.9 330.1h0M413.1 324.4h0M412.9 333.7h0M412.8 329.0h0M412.5 323.5h0M413.1 329.1h0M413.6 329.1h0M413.5 324.7h0M413.5 334.1h0M414.2 322.6h0M413.2 327.6h0M413.6 328.3h0M412.9 329.6h0M412.5 323.3h0M412.5 329.3h0M414.1 318.9h0M414.7 320.0h0M415.0 321.6h0M415.8 331.6h0M415.7 321.6h0M416.1 323.9h0M414.7 318.3h0M414.7 326.9h0M414.9 325.0h0M415.1 324.6h0M415.4 319.4h0M416.1 324.4h0M415.0 327.7h0M415.6 319.3h0M415.3 319.9h0M414.9 322.1h0M414.5 324.6h0M415.0 323.8h0M414.9 323.4h0M415.0 328.7h0M414.7 327.9h0M415.9 324.7h0M414.8 320.4h0M415.5 323.1h0M416.1 322.5h0M415.6 323.3h0M414.5 326.0h0M415.9 318.7h0M414.8 329.5h0M415.4 321.5h0M416.1 330.2h0M416.1 318.0h0M416.2 328.0h0M415.5 326.3h0M415.7 331.1h0M415.8 329.2h0M413.4 320.3h0M414.9 320.3h0M417.1 317.2h0M418.3 326.3h0M417.0 322.8h0M417.7 317.2h0M416.6 318.8h0M418.2 333.8h0M416.7 325.4h0M418.1 332.2h0M417.0 320.3h0M417.7 321.9h0M418.3 326.1h0M416.7 326.0h0M416.4 331.5h0M416.9 320.4h0M416.5 320.8h0M417.4 323.7h0M418.0 321.7h0M416.3 318.1h0M417.9 328.9h0M417.3 324.9h0M417.5 316.5h0M417.4 334.7h0M416.6 316.8h0M418.2 323.2h0M418.3 333.2h0M418.1 317.2h0M417.9 323.9h0M417.9 320.5h0M417.3 323.5h0M418.1 321.1h0M416.5 319.4h0M417.6 327.7h0M417.4 325.4h0M416.6 331.9h0M416.4 334.3h0M417.0 318.9h0M419.3 321.8h0M417.0 315.8h0M416.2 318.8h0M417.4 314.6h0M417.5 311.0h0M419.4 319.7h0M418.4 329.0h0M418.8 335.3h0M419.4 331.2h0M419.4 336.2h0M419.9 326.7h0M418.7 328.2h0M418.4 327.9h0M420.1 327.4h0M420.2 322.7h0M419.2 330.5h0M419.8 327.2h0M418.8 320.5h0M419.9 325.5h0M418.7 326.6h0M419.8 327.0h0M418.5 329.1h0M418.7 327.2h0M419.7 327.3h0M419.4 322.2h0M419.3 321.6h0M418.9 321.8h0M419.1 319.9h0M419.4 324.4h0M418.6 323.1h0M418.8 329.9h0M419.0 321.3h0M418.6 323.4h0M419.5 328.5h0M420.1 319.8h0M419.8 323.1h0M420.0 323.6h0M418.8 322.4h0M418.0 313.4h0M418.7 314.9h0M421.3 322.9h0M421.5 332.1h0M421.7 321.7h0M420.7 323.5h0M421.2 325.4h0M421.6 331.7h0M422.2 336.7h0M422.2 324.4h0M421.1 323.8h0M421.3 326.6h0M421.9 334.5h0M420.4 330.2h0M421.2 328.9h0M420.3 324.8h0M421.7 324.1h0M420.6 322.9h0M421.3 323.2h0M420.5 320.8h0M421.2 320.2h0M420.9 332.2h0M421.5 336.6h0M421.4 326.4h0M421.6 333.9h0M421.4 336.1h0M421.8 329.1h0M421.2 322.6h0M420.6 326.5h0M420.7 323.4h0M422.2 329.4h0M421.8 329.7h0M425.0 322.1h0M422.7 318.6h0M420.2 320.3h0M424.0 324.9h0M424.0 323.3h0M422.6 330.5h0M424.3 326.3h0M423.0 329.8h0M422.7 331.0h0M424.3 336.7h0M423.0 324.1h0M422.3 334.9h0M422.5 333.0h0M422.6 328.0h0M423.6 326.8h0M424.2 324.8h0M423.2 331.4h0M424.1 326.1h0M423.9 325.9h0M424.3 329.5h0M423.2 325.6h0M423.0 322.5h0M424.1 330.0h0M424.2 323.7h0M423.1 326.9h0M423.7 330.0h0M422.9 331.0h0M422.9 323.0h0M422.9 323.7h0M422.8 326.9h0M423.8 322.2h0M421.4 321.9h0M424.8 332.8h0M425.8 325.7h0M425.4 330.6h0M424.9 331.8h0M425.3 328.0h0M425.5 326.5h0M425.2 323.7h0M425.8 326.6h0M425.3 325.3h0M424.6 323.9h0M425.5 331.9h0M426.2 332.9h0M426.1 330.5h0M426.3 325.6h0M424.6 332.1h0M424.8 334.2h0M426.0 328.3h0M426.2 331.6h0M424.3 330.5h0M425.8 327.8h0M425.7 328.9h0M426.1 330.7h0M424.8 328.7h0M425.0 329.0h0M425.7 328.5h0M427.0 321.3h0M423.7 326.4h0M427.6 329.9h0M427.0 329.5h0M428.1 324.2h0M426.4 333.1h0M426.4 330.6h0M427.3 330.7h0M427.7 328.6h0M427.6 335.6h0M426.3 326.2h0M427.2 331.1h0M427.5 332.1h0M426.3 325.4h0M426.5 326.4h0M427.8 324.0h0M428.0 326.1h0M427.1 325.9h0M426.9 329.6h0M427.3 331.8h0M427.8 326.2h0M426.5 328.7h0M426.6 329.0h0M427.1 327.5h0M428.1 329.4h0M428.1 325.2h0M426.5 327.6h0M428.0 319.1h0M427.5 322.2h0M429.7 331.5h0M429.3 322.2h0M430.2 323.2h0M428.6 333.9h0M429.4 322.5h0M429.5 335.4h0M429.0 335.7h0M429.8 328.5h0M429.2 332.0h0M430.0 327.6h0M429.4 328.5h0M428.4 330.3h0M428.9 325.8h0M429.3 327.7h0M429.9 324.0h0M429.2 325.2h0M430.0 328.3h0M429.3 324.1h0M428.6 330.8h0M428.9 332.2h0M428.9 335.9h0M429.2 323.0h0M428.3 325.8h0M429.8 325.8h0M429.4 336.0h0M430.0 326.0h0M429.5 327.7h0M427.2 322.1h0M426.1 323.6h0M431.1 325.8h0M430.8 322.3h0M432.2 325.0h0M431.6 331.2h0M431.3 321.7h0M430.3 324.5h0M431.2 329.6h0M430.5 328.1h0M432.1 327.9h0M431.2 323.5h0M430.4 324.6h0M431.7 331.3h0M430.5 332.0h0M430.4 329.5h0M431.3 328.5h0M431.1 328.0h0M431.8 322.0h0M430.4 329.6h0M431.0 325.2h0M431.0 322.8h0M430.5 324.1h0M431.2 328.5h0M431.5 323.2h0M431.5 322.6h0M431.3 323.2h0M431.1 328.3h0M431.5 323.4h0M430.8 322.3h0M430.0 322.8h0M431.2 320.2h0M433.3 324.2h0M433.9 330.9h0M433.6 325.0h0M434.0 331.1h0M433.7 322.9h0M433.9 322.0h0M433.2 328.2h0M432.6 320.0h0M432.7 322.1h0M432.9 320.6h0M433.1 323.0h0M433.5 330.9h0M433.7 332.2h0M433.7 332.3h0M432.6 326.4h0M434.0 326.1h0M433.4 320.7h0M432.9 322.7h0M434.0 324.0h0M432.5 322.0h0M434.2 325.5h0M433.2 320.7h0M434.0 328.3h0M433.8 329.3h0M433.6 319.5h0M433.5 326.3h0M434.0 320.4h0M434.3 329.0h0M432.9 337.0h0M434.1 323.6h0M433.6 319.9h0M433.6 319.9h0M430.7 323.6h0M434.4 318.1h0M431.8 317.9h0M435.8 321.6h0M434.7 319.4h0M435.6 319.3h0M435.1 317.8h0M436.0 320.0h0M434.9 329.1h0M435.6 324.9h0M435.5 325.1h0M436.3 323.9h0M435.7 327.9h0M435.5 333.8h0M436.0 327.1h0M434.7 319.0h0M435.2 319.9h0M435.4 327.9h0M434.6 327.1h0M435.8 318.9h0M434.7 333.5h0M435.9 326.4h0M435.2 320.5h0M435.4 326.7h0M434.5 325.0h0M435.9 322.1h0M436.0 319.0h0M435.1 319.9h0M436.0 321.1h0M434.7 318.8h0M435.7 320.0h0M434.7 324.7h0M436.2 317.5h0M435.9 327.6h0M435.7 318.7h0M435.8 326.4h0M434.7 320.0h0M434.4 321.6h0M436.9 315.4h0M432.0 313.6h0M435.4 310.1h0M435.6 322.6h0M431.4 321.0h0M437.3 318.9h0M437.8 323.7h0M436.6 328.9h0M437.3 336.6h0M437.5 322.8h0M437.1 327.4h0M437.3 319.3h0M437.7 322.4h0M438.2 336.1h0M437.7 331.7h0M436.9 325.0h0M437.5 333.5h0M437.2 325.8h0M437.8 321.3h0M437.8 324.4h0M437.6 331.8h0M437.2 329.5h0M437.4 326.3h0M437.2 327.8h0M437.3 329.2h0M436.9 319.3h0M436.9 328.8h0M436.8 321.3h0M438.2 325.3h0M438.0 323.6h0M437.6 329.2h0M437.1 322.8h0M437.2 325.9h0M437.5 323.3h0M437.5 325.1h0M436.7 320.2h0M437.7 326.1h0M436.6 320.1h0M437.9 317.0h0M435.2 316.0h0M434.8 321.4h0M436.7 310.3h0M438.3 325.6h0M439.2 325.4h0M439.2 324.3h0M439.6 322.3h0M439.9 322.1h0M438.8 329.3h0M440.2 326.7h0M438.6 326.4h0M439.7 322.5h0M440.2 325.0h0M440.2 328.3h0M438.6 332.1h0M439.8 325.4h0M439.2 327.2h0M439.9 327.5h0M438.6 330.6h0M439.3 322.0h0M440.2 326.8h0M439.4 322.0h0M439.3 330.3h0M438.9 333.9h0M438.7 320.8h0M440.2 326.8h0M439.0 336.7h0M438.4 331.8h0M438.4 321.8h0M438.5 328.8h0M438.9 326.9h0M439.2 325.7h0M439.5 315.7h0M439.4 318.4h0M439.3 315.5h0M440.4 325.3h0M442.0 328.4h0M442.0 323.8h0M441.3 322.9h0M441.9 330.0h0M442.1 331.0h0M440.3 332.2h0M441.6 324.1h0M440.9 333.5h0M440.7 328.6h0M441.3 322.3h0M440.9 326.3h0M441.1 327.2h0M441.0 323.0h0M440.4 328.2h0M441.3 325.5h0M441.0 330.4h0M442.1 326.0h0M440.5 327.5h0M441.4 334.9h0M440.7 322.8h0M441.2 329.0h0M440.8 325.9h0M441.7 325.6h0M442.2 328.6h0M441.6 331.8h0M441.3 325.8h0M441.3 324.4h0M441.6 318.2h0M441.7 317.6h0M443.5 321.2h0M443.4 327.9h0M442.6 324.9h0M443.6 332.6h0M444.1 321.5h0M442.9 322.0h0M442.8 320.7h0M442.4 320.6h0M444.1 321.6h0M443.8 328.6h0M443.1 318.5h0M443.4 328.8h0M443.5 326.4h0M442.4 332.7h0M444.0 323.1h0M443.2 323.1h0M442.8 326.1h0M442.9 324.9h0M443.8 326.8h0M443.0 329.8h0M443.9 321.2h0M443.9 324.0h0M443.2 327.2h0M442.6 321.8h0M444.1 324.9h0M443.0 331.9h0M443.2 320.3h0M443.8 320.9h0M444.2 323.2h0M443.1 329.7h0M443.0 318.8h0M444.0 324.7h0M443.5 321.6h0M442.9 317.4h0M441.3 319.7h0M443.2 315.7h0M444.5 324.8h0M446.2 327.0h0M446.1 330.1h0M445.9 321.5h0M445.7 322.9h0M445.2 325.2h0M445.8 324.1h0M444.6 330.7h0M444.4 331.0h0M445.8 332.7h0M446.2 323.7h0M445.1 324.0h0M445.9 332.7h0M446.1 321.7h0M446.2 328.3h0M445.6 331.6h0M445.2 327.0h0M445.4 327.8h0M444.8 323.1h0M445.0 324.4h0M445.7 323.7h0M446.2 327.3h0M445.6 324.7h0M446.2 325.2h0M444.4 324.2h0M444.7 334.5h0M445.1 321.4h0M445.0 325.7h0M445.7 321.1h0M445.9 319.6h0M445.7 322.4h0M445.1 317.7h0M448.0 321.6h0M446.6 318.8h0M448.1 326.0h0M447.5 318.9h0M447.8 322.8h0M446.7 319.7h0M447.1 320.2h0M446.6 321.3h0M448.0 318.9h0M448.1 325.8h0M447.6 329.1h0M447.3 325.1h0M447.0 325.1h0M447.1 318.8h0M446.8 328.6h0M447.2 325.1h0M447.1 323.0h0M448.2 319.3h0M446.7 322.3h0M447.9 318.7h0M446.6 320.7h0M447.3 319.7h0M446.6 320.3h0M447.3 327.8h0M448.3 333.1h0M446.3 322.0h0M446.8 320.7h0M447.0 328.8h0M447.6 321.2h0M447.6 325.9h0M446.5 334.6h0M448.2 321.2h0M448.2 317.2h0M447.1 314.5h0M449.1 318.0h0M448.5 319.7h0M450.0 325.1h0M450.1 330.3h0M449.2 318.5h0M449.8 324.1h0M448.9 319.2h0M448.9 322.7h0M449.5 332.0h0M448.7 321.7h0M448.7 318.0h0M450.1 318.2h0M448.6 321.8h0M448.7 323.0h0M449.2 332.3h0M450.2 323.9h0M449.1 332.3h0M448.9 327.1h0M449.0 321.5h0M448.8 319.6h0M449.5 333.3h0M449.8 323.6h0M449.6 327.9h0M449.5 318.5h0M449.9 318.1h0M450.0 322.1h0M450.0 319.3h0M448.5 322.2h0M449.5 331.6h0M448.6 329.7h0M449.3 330.1h0M448.3 321.9h0M449.5 336.8h0M449.4 329.3h0M449.0 316.6h0M448.0 316.5h0M449.0 321.0h0M450.4 320.8h0M450.6 331.3h0M451.9 329.4h0M450.4 320.7h0M451.6 324.9h0M450.5 325.0h0M452.2 330.9h0M450.4 324.8h0M450.9 325.1h0M451.7 322.8h0M451.9 327.0h0M451.2 321.3h0M452.0 325.4h0M451.5 323.5h0M450.7 328.8h0M452.2 323.0h0M451.8 328.4h0M451.2 329.4h0M451.3 334.9h0M452.1 327.7h0M450.9 330.2h0M451.5 323.4h0M451.3 323.0h0M450.7 328.6h0M450.7 320.4h0M451.6 320.8h0M452.1 326.3h0M450.6 332.8h0M450.4 319.6h0M452.0 330.7h0M449.9 319.8h0M451.5 319.9h0M452.2 318.0h0M452.9 324.6h0M454.3 327.2h0M453.7 329.4h0M452.7 322.0h0M453.4 333.6h0M452.4 325.5h0M454.0 321.9h0M454.0 331.2h0M454.2 322.9h0M453.3 322.9h0M452.9 327.4h0M454.3 326.2h0M453.3 321.6h0M452.8 329.1h0M452.7 322.8h0M452.9 325.5h0M453.0 320.7h0M454.2 331.9h0M453.0 335.6h0M452.6 335.2h0M453.7 320.4h0M454.2 320.7h0M453.2 327.3h0M452.6 321.0h0M454.0 324.9h0M453.8 321.4h0M454.1 320.4h0M453.8 321.0h0M452.6 329.6h0M452.6 321.6h0M452.8 317.7h0M456.0 315.6h0M454.2 312.1h0M454.4 317.5h0M455.9 324.2h0M455.2 323.3h0M455.4 319.2h0M455.6 331.8h0M455.0 318.5h0M456.3 323.1h0M454.8 324.1h0M454.4 318.2h0M454.3 332.8h0M454.3 319.5h0M454.5 319.2h0M456.1 320.6h0M454.4 319.9h0M454.9 329.5h0M455.6 324.5h0M455.1 331.8h0M454.7 322.3h0M455.3 317.9h0M455.8 323.2h0M455.8 317.9h0M454.9 324.8h0M455.0 318.2h0M455.3 326.6h0M454.9 320.5h0M456.0 330.8h0M454.4 318.8h0M455.9 319.0h0M456.0 326.0h0M455.7 320.1h0M455.3 321.0h0M454.7 322.0h0M454.3 330.4h0M455.4 318.8h0M453.2 315.7h0M455.1 317.4h0M455.0 314.3h0M456.3 320.6h0M458.1 328.8h0M457.3 329.7h0M456.8 319.2h0M456.9 327.3h0M458.2 324.4h0M456.9 323.6h0M458.0 331.2h0M457.0 324.5h0M457.2 325.9h0M457.6 324.8h0M457.7 318.7h0M456.3 321.0h0M457.7 325.4h0M457.4 335.7h0M457.9 330.1h0M458.3 323.7h0M456.9 327.6h0M457.3 321.7h0M457.9 323.8h0M458.0 322.9h0M457.4 324.5h0M456.4 334.7h0M458.2 321.1h0M457.7 319.4h0M456.9 318.5h0M456.7 332.9h0M458.0 320.1h0M456.9 324.8h0M458.0 332.2h0M456.4 319.1h0M456.9 330.4h0M456.9 313.9h0M458.2 320.0h0M460.1 320.0h0M460.2 324.0h0M459.9 317.9h0M460.1 320.4h0M460.0 330.0h0M459.3 329.3h0M459.3 330.2h0M459.7 322.5h0M458.5 320.5h0M459.6 318.7h0M460.1 326.5h0M459.3 322.5h0M458.3 326.2h0M459.4 318.6h0M459.8 317.6h0M459.6 320.7h0M460.0 318.1h0M459.6 327.7h0M459.5 333.1h0M459.3 321.2h0M458.6 329.8h0M459.5 320.9h0M460.3 320.1h0M459.9 317.2h0M459.6 320.6h0M460.1 317.9h0M459.5 323.9h0M458.4 317.6h0M459.7 321.0h0M459.0 329.5h0M459.8 322.2h0M458.8 328.2h0M459.5 320.3h0M458.4 334.2h0M459.1 314.8h0M457.0 313.8h0M456.4 315.7h0M456.9 314.8h0M461.0 327.2h0M460.3 312.5h0M461.8 314.3h0M461.3 321.9h0M461.4 312.7h0M462.0 313.0h0M460.7 316.7h0M461.3 313.5h0M461.3 327.2h0M461.6 317.4h0M461.2 312.8h0M460.5 316.3h0M461.7 314.0h0M462.0 320.8h0M460.6 319.5h0M460.4 328.9h0M461.7 322.2h0M460.6 332.5h0M462.3 326.2h0M462.2 322.4h0M460.5 333.7h0M461.6 329.0h0M460.8 319.1h0M461.7 313.7h0M462.1 330.5h0M462.0 326.8h0M460.6 329.5h0M461.5 314.1h0M461.8 320.5h0M460.4 315.7h0M461.7 319.8h0M460.3 323.8h0M461.0 323.1h0M460.9 314.4h0M462.0 319.9h0M461.3 323.6h0M461.4 326.4h0M462.3 324.1h0M461.1 314.0h0M461.9 326.7h0M461.7 322.8h0M462.3 303.7h0M462.7 309.2h0M462.2 309.0h0M461.4 304.8h0M462.2 304.6h0M459.9 309.0h0M462.4 316.1h0M462.7 310.9h0M463.9 332.6h0M463.9 322.7h0M462.8 319.6h0M462.3 337.8h0M464.0 324.0h0M462.9 326.1h0M463.9 326.0h0M462.8 318.1h0M463.1 313.3h0M464.1 316.9h0M462.6 310.4h0M463.4 319.9h0M464.3 318.5h0M462.5 313.4h0M462.5 314.4h0M464.1 319.8h0M463.9 309.2h0M463.1 328.5h0M463.4 310.5h0M464.0 325.8h0M462.9 316.4h0M464.2 323.7h0M464.2 308.8h0M463.3 312.9h0M463.4 316.0h0M463.2 314.9h0M463.5 310.8h0M463.6 313.6h0M462.7 311.6h0M463.7 326.9h0M462.6 319.6h0M463.9 319.0h0M462.8 309.7h0M463.9 331.1h0M464.0 322.4h0M463.0 312.4h0M462.8 318.3h0M463.4 308.9h0M463.4 315.3h0M464.2 312.0h0M462.5 321.5h0M464.2 312.0h0M463.5 326.8h0M462.8 313.7h0M463.3 296.8h0M466.0 308.4h0M465.3 295.4h0M464.0 296.3h0M465.9 297.2h0M463.3 302.2h0M464.9 317.9h0M464.6 321.8h0M464.9 303.7h0M464.8 305.3h0M464.9 309.1h0M465.5 312.2h0M464.3 311.0h0M465.6 316.6h0M465.5 306.1h0M465.2 330.9h0M465.9 313.8h0M465.6 306.3h0M464.8 308.7h0M465.9 313.0h0M465.9 313.9h0M465.9 303.8h0M465.0 316.9h0M464.9 308.2h0M465.5 315.7h0M466.1 311.4h0M466.1 335.4h0M465.9 303.6h0M464.8 309.6h0M465.8 304.1h0M464.6 319.0h0M464.3 325.0h0M465.6 323.1h0M465.9 314.0h0M465.5 316.3h0M465.4 308.8h0M465.1 310.0h0M465.2 317.2h0M465.6 319.2h0M464.5 315.2h0M464.7 317.2h0M464.7 310.2h0M464.5 328.4h0M465.7 312.7h0M465.8 309.9h0M465.6 327.8h0M465.8 310.6h0M464.9 332.6h0M466.3 324.4h0M464.3 322.0h0M465.0 324.3h0M464.8 320.8h0M465.7 305.2h0M465.5 314.0h0M464.7 305.7h0M465.5 305.9h0M465.7 324.3h0M465.8 326.2h0M463.0 297.5h0M466.3 303.6h0M465.3 291.2h0M463.3 287.5h0M463.1 299.7h0M465.5 296.6h0M466.2 298.1h0M468.2 322.4h0M466.7 327.9h0M467.6 306.9h0M466.6 304.0h0M467.8 330.5h0M467.6 323.1h0M466.4 320.6h0M466.8 314.7h0M466.4 321.6h0M467.6 311.8h0M468.0 313.3h0M467.4 320.7h0M466.8 306.7h0M466.4 307.9h0M466.3 306.6h0M468.0 332.2h0M467.6 320.4h0M467.8 308.9h0M468.2 304.9h0M467.3 318.9h0M466.6 301.7h0M467.5 315.8h0M466.9 325.9h0M467.3 302.1h0M468.0 301.4h0M466.9 324.0h0M467.9 302.8h0M466.8 319.4h0M467.3 334.2h0M467.8 305.9h0M468.0 305.5h0M467.2 302.2h0M467.3 309.5h0M468.2 327.7h0M467.2 306.4h0M468.2 323.2h0M467.8 302.4h0M467.4 328.5h0M467.0 309.4h0M467.1 308.8h0M466.7 305.0h0M466.9 326.2h0M467.1 325.3h0M468.0 331.0h0M466.4 314.5h0M467.6 308.9h0M467.2 318.7h0M467.4 309.9h0M466.9 317.2h0M466.9 315.7h0M468.1 307.6h0M468.0 318.8h0M466.5 328.3h0M467.5 309.2h0M467.6 304.1h0M467.1 308.6h0M467.9 302.8h0M464.4 301.4h0M465.9 298.6h0M465.6 287.4h0M468.3 282.6h0M467.3 299.6h0M467.2 304.9h0M467.2 300.5h0M466.3 292.8h0M468.5 302.3h0M468.4 321.8h0M469.6 322.8h0M468.3 303.2h0M469.3 302.2h0M469.2 309.3h0M469.4 317.6h0M469.7 316.7h0M468.5 305.8h0M469.0 304.1h0M469.0 303.9h0M469.6 314.1h0M469.3 333.2h0M468.8 301.3h0M469.5 309.0h0M469.9 308.3h0M469.6 317.0h0M468.9 316.7h0M469.8 306.4h0M468.9 301.1h0M469.0 312.0h0M470.2 312.3h0M469.9 313.5h0M469.0 329.0h0M469.0 311.0h0M468.6 304.7h0M469.7 312.6h0M469.4 325.3h0M470.0 314.5h0M468.6 301.4h0M469.7 319.6h0M468.8 332.3h0M469.9 320.6h0M469.3 310.3h0M470.3 318.6h0M469.2 307.7h0M468.7 298.9h0M469.3 311.8h0M469.3 314.9h0M469.6 306.3h0M468.7 300.1h0M469.8 299.1h0M469.0 312.6h0M470.2 307.7h0M469.0 307.2h0M469.7 299.0h0M470.0 319.4h0M468.7 322.5h0M469.3 307.0h0M468.6 314.5h0M468.4 303.8h0M469.4 307.5h0M470.0 314.2h0M468.4 301.5h0M470.0 308.3h0M469.1 318.3h0M469.8 321.9h0M469.9 318.1h0M469.7 301.5h0M469.5 286.9h0M470.2 293.8h0M468.5 301.3h0M468.0 293.2h0M468.2 295.7h0M469.8 294.5h0M470.7 289.4h0M467.4 301.5h0M467.9 293.4h0M468.0 287.1h0M469.8 283.4h0M471.0 327.5h0M471.0 333.3h0M471.0 320.9h0M471.1 310.7h0M472.0 323.2h0M471.7 317.7h0M471.6 326.4h0M471.6 313.9h0M470.5 321.2h0M470.4 323.4h0M471.1 312.8h0M471.1 308.3h0M472.3 307.7h0M470.9 312.0h0M471.0 308.0h0M471.0 312.9h0M470.9 316.9h0M472.1 316.1h0M471.2 319.1h0M471.5 313.1h0M472.2 319.9h0M472.1 322.6h0M471.7 318.0h0M470.5 332.1h0M472.1 310.9h0M472.0 307.5h0M471.9 320.9h0M471.4 321.0h0M472.3 307.3h0M471.6 320.8h0M471.7 316.7h0M472.3 329.7h0M470.4 325.9h0M471.0 316.6h0M472.0 317.8h0M471.5 307.8h0M470.6 329.1h0M471.8 320.7h0M471.7 316.6h0M470.3 322.3h0M471.0 328.0h0M471.9 310.9h0M470.3 321.8h0M471.8 315.9h0M471.7 323.5h0M471.0 324.7h0M470.6 318.6h0M470.3 316.2h0M473.8 302.2h0M469.8 294.3h0M471.9 293.2h0M471.2 303.7h0M472.1 288.9h0M472.6 295.7h0M470.4 281.6h0M471.0 304.1h0M470.8 301.4h0M469.2 302.0h0M472.5 323.2h0M474.0 318.5h0M473.1 312.1h0M474.1 319.8h0M473.7 319.7h0M473.6 321.7h0M473.2 310.9h0M473.7 307.3h0M473.6 323.1h0M473.7 311.6h0M474.1 312.1h0M474.0 316.6h0M473.6 311.7h0M473.6 318.1h0M473.2 323.8h0M472.9 313.7h0M473.5 322.3h0M473.8 317.9h0M473.7 312.9h0M472.7 313.7h0M473.0 309.8h0M473.9 319.6h0M473.4 319.1h0M473.0 323.8h0M472.6 312.2h0M473.9 309.8h0M473.1 313.4h0M473.4 323.1h0M473.4 306.5h0M473.3 316.3h0M472.6 320.6h0M473.2 317.2h0M473.1 317.9h0M473.4 313.3h0M473.1 311.0h0M474.2 312.9h0M472.7 310.1h0M472.4 323.4h0M473.8 324.6h0M473.9 306.4h0M473.8 332.2h0M473.0 329.3h0M472.8 322.7h0M472.4 323.6h0M473.6 319.6h0M474.1 317.5h0M474.2 322.0h0M473.2 321.1h0M473.2 307.0h0M474.2 301.0h0M472.1 309.7h0M472.5 300.8h0M471.1 297.1h0M472.4 299.8h0M474.5 292.8h0M475.4 308.3h0M473.9 302.6h0M472.0 291.0h0M475.5 308.9h0M475.1 322.4h0M475.6 330.0h0M475.3 317.8h0M476.1 326.0h0M474.9 315.5h0M474.5 328.6h0M475.5 326.4h0M475.6 309.2h0M476.0 321.7h0M474.4 318.5h0M474.6 323.3h0M475.5 316.0h0M474.6 318.7h0M475.0 320.1h0M476.1 309.4h0M474.9 328.8h0M474.9 316.9h0M475.2 318.4h0M476.1 314.0h0M474.9 321.7h0M475.8 311.1h0M475.9 309.1h0M475.0 318.6h0M475.3 310.9h0M475.3 337.4h0M475.1 327.0h0M475.7 313.1h0M476.2 325.7h0M474.6 316.8h0M475.1 318.1h0M474.6 311.4h0M475.8 316.8h0M475.4 308.7h0M474.9 311.9h0M475.9 306.8h0M475.4 311.9h0M475.2 311.9h0M474.5 323.4h0M475.2 323.5h0M474.4 331.0h0M475.0 318.1h0M474.3 325.9h0M475.0 316.4h0M476.0 332.1h0M475.5 310.3h0M475.5 322.9h0M475.7 319.5h0M475.6 293.4h0M474.6 302.6h0M474.2 304.4h0M475.9 307.8h0M473.8 295.0h0M475.7 302.5h0M473.5 296.5h0M474.0 308.4h0M476.9 297.9h0M477.3 318.3h0M477.8 321.9h0M477.6 319.9h0M478.3 315.7h0M477.9 317.4h0M476.9 328.4h0M477.2 317.5h0M477.0 317.3h0M476.3 310.6h0M477.3 322.8h0M477.3 317.4h0M477.3 318.6h0M478.3 330.2h0M477.5 318.5h0M477.6 312.3h0M477.6 327.8h0M478.1 315.6h0M477.3 309.9h0M477.6 309.2h0M476.4 328.5h0M477.7 316.2h0M478.1 307.6h0M477.3 310.3h0M477.2 318.3h0M478.2 312.1h0M476.4 316.1h0M477.2 309.4h0M478.2 310.1h0M478.2 320.8h0M477.7 319.9h0M476.8 320.6h0M476.3 320.4h0M478.0 309.6h0M477.8 320.2h0M478.3 313.6h0M477.2 326.6h0M476.4 313.3h0M476.9 329.5h0M476.4 328.7h0M477.0 322.4h0M477.4 310.3h0M477.3 317.8h0M477.4 312.7h0M476.9 315.7h0M476.7 323.3h0M476.8 312.7h0M477.4 318.6h0M475.7 301.1h0M477.4 295.1h0M478.5 305.3h0M476.8 301.7h0M478.4 304.0h0M475.6 297.5h0M478.4 312.0h0M478.5 310.6h0M480.2 321.1h0M478.3 333.6h0M479.9 316.1h0M479.0 331.0h0M479.7 318.3h0M480.2 316.3h0M479.6 326.1h0M479.6 311.6h0M479.8 325.9h0M479.0 313.2h0M479.0 309.1h0M479.4 321.0h0M479.7 322.8h0M479.7 314.1h0M479.1 319.0h0M480.1 309.7h0M479.1 322.6h0M479.6 320.1h0M480.2 324.7h0M478.5 311.2h0M479.2 324.5h0M479.4 317.4h0M478.5 314.0h0M478.6 322.1h0M478.9 314.3h0M478.4 309.2h0M480.2 315.4h0M479.9 319.2h0M479.3 312.3h0M479.6 321.9h0M479.7 315.5h0M479.0 314.0h0M480.0 312.5h0M479.2 318.5h0M479.6 309.5h0M479.5 327.2h0M479.5 309.3h0M479.3 314.6h0M479.1 320.7h0M479.7 314.8h0M478.6 316.2h0M479.8 310.6h0M480.2 327.9h0M479.2 313.0h0M478.6 328.2h0M479.3 317.4h0M481.0 300.0h0M481.3 298.0h0M480.3 301.6h0M478.7 308.5h0M479.2 303.6h0M480.4 301.3h0M479.4 302.2h0M478.8 307.3h0M481.5 318.4h0M481.8 316.6h0M480.7 321.8h0M481.0 322.6h0M482.0 322.8h0M480.5 318.2h0M481.3 321.3h0M480.4 326.9h0M480.8 319.6h0M481.9 329.1h0M481.0 317.4h0M480.3 335.0h0M480.8 319.1h0M480.4 321.5h0M481.6 321.8h0M482.2 325.3h0M481.5 331.6h0M481.8 325.9h0M481.4 337.7h0M481.4 319.7h0M480.4 321.7h0M481.8 315.5h0M481.5 316.5h0M481.7 332.5h0M482.2 327.9h0M480.8 325.3h0M480.5 316.2h0M480.7 317.2h0M480.5 321.8h0M481.4 320.1h0M480.9 321.3h0M482.1 318.7h0M481.4 321.5h0M480.7 327.3h0M482.2 325.5h0M480.7 332.2h0M481.3 311.2h0M481.1 312.0h0M481.9 313.0h0M481.5 315.5h0M482.0 307.9h0M479.5 306.0h0M483.7 332.3h0M483.1 326.7h0M483.0 325.2h0M483.4 325.8h0M483.9 334.2h0M484.2 326.1h0M482.9 326.4h0M483.1 332.0h0M482.4 335.6h0M482.7 332.2h0M483.0 333.4h0M483.1 334.5h0M483.8 327.8h0M484.1 325.3h0M483.2 327.4h0M484.2 327.3h0M483.6 331.5h0M483.1 331.5h0M482.6 323.2h0M482.6 323.8h0M484.3 325.7h0M483.4 323.8h0M483.1 333.4h0M484.1 325.2h0M483.5 325.3h0M483.8 330.6h0M483.1 316.4h0M482.0 321.5h0M481.5 323.1h0M484.0 317.1h0M484.1 315.2h0M485.3 328.1h0M485.6 330.8h0M484.4 333.4h0M484.3 330.6h0M485.7 330.5h0M485.6 333.4h0M485.9 334.5h0M486.1 327.8h0M484.6 329.5h0M485.8 334.8h0M485.0 329.9h0M485.3 329.0h0M484.6 335.5h0M486.2 335.0h0M484.6 330.1h0M485.7 329.3h0M484.6 333.5h0M485.5 335.7h0M484.4 334.5h0M485.4 332.5h0M487.2 324.3h0M486.1 319.7h0M486.6 324.9h0M488.3 331.5h0M487.2 328.8h0M486.8 330.6h0M486.8 332.9h0M486.5 332.7h0M486.4 330.0h0M487.9 333.5h0M487.4 332.6h0M486.9 334.0h0M487.7 331.2h0M487.1 331.6h0M488.3 328.8h0M487.1 331.7h0M487.6 330.6h0M487.4 334.1h0M487.7 330.8h0M487.9 334.9h0M486.6 330.2h0M486.9 329.5h0M484.3 327.3h0M499.5 310.2h0M498.7 309.2h0M498.4 306.8h0M499.0 324.0h0M498.4 310.4h0M499.7 318.5h0M499.9 320.0h0M498.8 311.2h0M499.5 320.0h0M498.4 329.6h0M498.9 313.2h0M498.9 333.1h0M499.9 309.1h0M499.6 319.4h0M498.4 310.1h0M499.1 315.2h0M499.8 314.6h0M500.2 311.8h0M498.5 322.4h0M498.5 324.5h0M498.7 318.5h0M499.7 336.0h0M499.0 322.3h0M499.8 313.5h0M500.0 314.6h0M500.0 316.8h0M499.0 309.7h0M499.0 326.7h0M498.9 310.2h0M498.5 331.4h0M498.5 327.6h0M499.4 318.4h0M498.5 319.5h0M499.8 307.9h0M498.9 318.1h0M499.1 317.7h0M499.5 332.6h0M499.7 314.4h0M500.2 310.6h0M499.0 319.7h0M499.3 329.5h0M499.3 309.2h0M499.3 308.6h0M499.0 319.4h0M499.5 316.9h0M500.0 308.1h0M499.9 311.1h0M500.2 315.0h0M502.3 312.1h0M500.5 326.5h0M500.3 314.5h0M501.2 312.1h0M500.7 323.0h0M501.7 330.4h0M501.3 319.8h0M502.2 330.8h0M501.8 314.4h0M501.4 315.2h0M501.3 324.2h0M501.2 330.9h0M500.5 318.1h0M501.6 320.1h0M502.2 311.2h0M502.3 310.6h0M500.5 324.7h0M500.5 315.9h0M502.1 313.3h0M501.1 320.1h0M501.2 327.2h0M500.6 314.3h0M500.5 320.3h0M501.5 324.1h0M501.2 314.1h0M501.1 321.8h0M501.9 328.9h0M501.6 311.9h0M500.3 310.8h0M502.1 325.5h0M501.7 316.0h0M501.2 312.2h0M500.9 320.2h0M502.0 324.6h0M500.6 315.2h0M500.6 337.8h0M502.2 318.6h0M501.1 317.9h0M502.0 310.9h0M502.3 334.7h0M500.6 314.7h0M501.6 315.0h0M501.8 316.4h0M502.6 307.0h0M503.1 306.1h0M501.8 305.6h0M504.0 312.8h0M503.1 314.0h0M502.5 325.8h0M502.5 311.2h0M502.9 322.4h0M502.7 319.9h0M503.7 312.1h0M502.4 311.3h0M502.5 331.8h0M502.7 316.4h0M503.3 322.7h0M502.3 319.3h0M503.8 318.5h0M502.4 315.4h0M503.5 326.0h0M503.5 312.1h0M503.4 318.7h0M504.1 316.6h0M502.5 321.9h0M502.7 313.5h0M502.3 312.7h0M503.2 312.6h0M502.6 315.1h0M504.0 312.5h0M503.2 332.9h0M502.6 317.8h0M502.4 320.4h0M503.7 317.1h0M503.1 313.4h0M503.3 322.6h0M503.2 311.0h0M502.5 316.9h0M503.4 313.6h0M503.5 317.4h0M502.4 315.3h0M503.4 315.9h0M502.6 326.5h0M502.6 312.0h0M503.4 312.0h0M502.3 315.4h0M504.0 327.1h0M504.2 319.7h0M504.9 312.7h0M504.9 323.6h0M505.3 332.5h0M505.2 312.7h0M506.3 321.5h0M504.3 318.4h0M505.6 314.1h0M506.2 311.5h0M505.6 310.2h0M505.4 317.8h0M505.3 315.9h0M505.5 312.2h0M504.8 313.6h0M506.1 332.2h0M504.6 317.3h0M504.9 332.0h0M504.6 324.4h0M504.3 312.9h0M505.5 330.2h0M505.9 317.4h0M504.5 317.9h0M505.9 312.0h0M504.8 323.4h0M506.2 336.8h0M505.2 312.3h0M504.9 326.5h0M505.4 313.9h0M505.5 313.7h0M504.9 329.1h0M504.7 315.0h0M504.6 317.8h0M504.5 316.2h0M504.6 315.0h0M506.3 325.7h0M504.5 331.2h0M505.4 312.7h0M504.6 310.3h0M505.8 314.0h0M505.5 314.8h0M505.9 312.0h0M505.5 318.1h0M505.6 333.7h0M505.1 327.9h0M504.6 303.0h0M503.4 303.8h0M503.8 302.2h0M506.5 323.4h0M507.7 319.0h0M506.6 327.7h0M507.2 312.4h0M508.3 315.2h0M506.8 313.1h0M507.3 315.7h0M506.8 324.9h0M508.2 317.1h0M507.5 327.4h0M507.5 328.7h0M506.9 322.1h0M506.5 327.0h0M506.9 316.2h0M506.4 312.6h0M507.5 330.7h0M506.7 315.8h0M507.4 311.6h0M507.0 312.5h0M506.7 321.5h0M507.1 320.3h0M506.8 311.7h0M507.0 326.7h0M508.2 316.9h0M507.6 333.5h0M507.5 312.6h0M507.1 322.7h0M506.8 313.2h0M507.4 323.8h0M506.7 317.6h0M507.0 328.0h0M507.4 314.1h0M507.1 327.5h0M506.6 334.1h0M506.8 325.4h0M506.6 319.4h0M507.0 325.0h0M507.2 322.0h0M507.2 322.9h0M507.7 325.7h0M507.5 318.3h0M508.2 318.5h0M509.5 307.8h0M508.9 306.8h0M507.8 307.6h0M509.8 322.4h0M508.7 321.4h0M509.8 325.2h0M509.8 323.6h0M509.0 324.7h0M508.4 323.9h0M509.4 321.5h0M508.5 324.0h0M508.9 322.4h0M509.4 328.1h0M508.7 324.3h0M509.3 327.0h0M508.9 328.6h0M509.6 326.8h0M510.2 325.5h0M509.0 326.8h0M509.1 327.8h0M509.6 323.1h0M508.9 323.4h0M509.0 330.3h0M508.4 328.4h0M509.9 333.1h0M508.4 326.5h0M508.5 325.4h0M508.7 326.8h0M508.7 324.0h0M509.4 327.7h0M509.4 334.3h0M510.4 314.5h0M509.1 315.3h0M508.3 315.2h0M511.1 331.8h0M511.4 328.1h0M512.2 326.6h0M511.6 334.5h0M511.7 330.1h0M511.0 326.4h0M511.0 329.2h0M511.2 324.7h0M510.8 325.4h0M512.3 330.9h0M511.1 335.4h0M511.3 328.2h0M510.6 333.3h0M511.1 330.8h0M511.3 328.1h0M511.6 329.7h0M510.3 329.8h0M510.5 324.2h0M511.8 330.9h0M510.9 327.9h0M510.9 328.6h0M511.0 326.3h0M511.7 328.1h0M512.0 326.1h0M511.6 323.1h0M511.5 326.0h0M511.6 324.9h0M513.4 324.5h0M513.7 333.3h0M513.0 333.1h0M512.4 324.1h0M512.3 329.3h0M513.9 330.8h0M512.7 326.1h0M513.6 332.6h0M513.0 325.2h0M513.6 330.1h0M514.1 327.0h0M513.4 327.9h0M512.7 327.4h0M512.4 333.1h0M513.2 336.1h0M513.4 327.8h0M513.6 327.7h0M514.1 329.8h0M514.2 326.2h0M513.6 329.8h0M512.9 337.0h0M513.0 324.1h0M513.3 332.4h0M513.0 326.1h0M514.7 325.2h0M514.9 334.5h0M516.2 331.2h0M516.0 335.1h0M516.2 326.4h0M515.8 326.7h0M515.8 328.8h0M515.4 325.3h0M515.6 330.7h0M514.6 325.5h0M515.2 331.7h0M515.0 324.1h0M516.1 324.0h0M514.5 324.2h0M515.5 324.1h0M514.7 329.5h0M514.8 324.1h0M515.4 336.5h0M515.6 324.1h0M516.1 325.0h0M515.6 330.9h0M515.1 335.4h0M515.6 333.8h0M514.5 328.9h0M516.4 324.8h0M518.2 322.5h0M516.6 327.2h0M516.8 325.8h0M516.7 326.1h0M517.6 324.3h0M517.0 322.4h0M518.0 322.8h0M517.6 329.4h0M517.7 323.5h0M518.0 330.2h0M517.8 335.7h0M516.4 323.6h0M516.5 329.9h0M517.8 325.0h0M516.5 333.2h0M517.8 334.3h0M516.6 331.4h0M516.8 332.3h0M517.4 331.1h0M518.1 334.0h0M516.8 327.4h0M516.4 324.1h0M517.9 329.0h0M517.5 330.4h0M516.6 322.3h0M518.0 322.7h0M517.0 315.7h0M516.7 315.1h0M516.2 316.9h0M519.5 326.6h0M519.3 328.8h0M519.5 333.2h0M519.6 327.4h0M520.2 324.9h0M519.6 323.8h0M518.6 326.2h0M520.2 324.6h0M519.1 329.0h0M518.6 326.7h0M518.4 325.2h0M519.5 324.5h0M520.0 324.7h0M518.3 331.2h0M520.3 324.1h0M519.3 331.9h0M520.1 334.1h0M519.7 325.8h0M519.6 325.6h0M519.6 325.9h0M520.0 326.3h0M518.9 330.5h0M520.2 326.3h0M519.1 331.4h0M519.0 328.7h0M520.9 314.6h0M520.7 310.1h0M520.2 312.4h0M520.6 325.0h0M522.0 322.6h0M522.2 326.9h0M520.6 327.5h0M520.4 326.6h0M521.9 325.5h0M521.8 332.4h0M521.9 329.3h0M520.6 323.9h0M520.4 325.1h0M520.7 323.9h0M520.8 333.9h0M520.8 326.4h0M521.1 324.1h0M520.5 335.0h0M520.6 328.0h0M520.9 323.8h0M521.6 326.8h0M521.2 330.7h0M520.8 328.2h0M521.3 330.7h0M521.3 326.5h0M520.9 331.1h0M520.5 331.9h0M520.5 327.1h0M521.1 334.3h0M522.1 326.7h0M519.9 317.9h0M520.8 318.2h0M522.8 319.5h0M524.2 326.0h0M524.0 330.6h0M522.9 329.7h0M522.8 328.5h0M522.7 330.0h0M522.3 325.0h0M523.1 331.4h0M524.0 329.2h0M524.1 325.8h0M523.6 326.9h0M523.2 327.0h0M523.0 328.6h0M524.1 325.4h0M523.7 333.2h0M522.7 324.9h0M523.9 334.9h0M523.4 330.4h0M522.6 334.6h0M524.3 328.9h0M523.2 326.1h0M522.6 328.6h0M522.5 329.5h0M523.8 325.0h0M523.7 322.1h0M522.2 325.6h0M521.9 321.9h0M525.7 329.8h0M524.6 328.1h0M525.0 325.2h0M525.4 328.9h0M524.6 329.0h0M526.2 333.4h0M524.5 326.4h0M525.0 328.5h0M524.6 326.7h0M525.1 325.0h0M524.5 331.5h0M525.5 331.6h0M526.0 330.2h0M524.6 334.0h0M524.4 330.5h0M524.7 330.7h0M524.9 328.2h0M525.9 327.5h0M524.8 325.1h0M525.3 325.4h0M526.3 327.5h0M524.8 325.4h0M525.9 329.6h0M524.7 319.0h0M523.5 320.1h0M522.8 320.8h0M527.5 328.6h0M528.1 326.1h0M526.8 331.6h0M528.0 322.3h0M528.2 332.4h0M526.7 331.4h0M527.3 319.0h0M527.9 320.9h0M526.8 325.2h0M528.0 314.0h0M526.9 324.4h0M527.6 314.0h0M526.9 320.5h0M528.2 313.8h0M527.0 324.1h0M527.7 316.6h0M527.7 330.5h0M527.5 315.1h0M527.2 329.1h0M526.9 321.3h0M526.5 323.0h0M527.1 320.0h0M527.4 324.4h0M527.0 314.0h0M526.9 316.2h0M527.4 322.4h0M526.9 328.2h0M526.3 314.7h0M526.6 330.3h0M528.0 313.7h0M528.0 324.5h0M527.8 313.9h0M528.2 317.9h0M527.9 318.1h0M527.1 318.8h0M526.9 316.2h0M527.9 320.6h0M526.8 328.5h0M528.1 323.3h0M527.0 315.5h0M526.2 313.7h0M525.8 314.7h0M529.4 320.2h0M529.8 329.9h0M528.5 333.3h0M529.4 321.0h0M529.7 317.5h0M528.3 314.0h0M528.7 314.1h0M528.7 317.2h0M528.5 319.2h0M530.2 315.1h0M530.1 316.2h0M528.6 333.8h0M529.8 324.4h0M529.1 314.1h0M529.2 317.7h0M528.9 318.4h0M529.2 328.3h0M528.5 314.1h0M529.9 329.5h0M529.3 318.2h0M530.2 321.1h0M529.5 318.8h0M530.2 322.2h0M530.2 313.7h0M530.0 323.5h0M530.3 325.7h0M529.1 317.0h0M529.6 322.1h0M528.5 335.1h0M530.0 314.0h0M528.9 326.0h0M528.4 318.0h0M528.6 324.9h0M529.6 320.3h0M529.4 323.3h0M528.8 326.2h0M528.9 315.1h0M529.2 326.0h0M530.7 312.2h0M530.6 333.7h0M531.3 317.7h0M531.4 330.6h0M530.7 326.8h0M530.7 311.5h0M530.6 318.0h0M531.4 314.1h0M530.6 318.9h0M530.4 324.5h0M531.7 321.2h0M530.3 319.3h0M532.0 314.1h0M531.4 327.2h0M530.7 309.2h0M530.3 313.6h0M531.8 320.1h0M532.1 317.6h0M532.0 313.6h0M530.5 326.6h0M530.7 320.8h0M532.1 321.6h0M531.3 315.1h0M530.6 321.1h0M531.4 314.9h0M531.3 322.8h0M532.3 319.5h0M532.1 321.8h0M532.1 309.7h0M532.1 311.5h0M530.9 314.1h0M530.9 321.0h0M531.4 318.7h0M531.8 333.0h0M531.3 316.8h0M530.4 326.7h0M532.0 317.6h0M531.8 312.5h0M530.5 315.9h0M530.5 326.0h0M530.9 311.1h0M530.4 311.6h0M531.4 329.9h0M531.1 328.7h0M530.9 323.0h0M530.8 299.9h0M529.9 299.4h0M528.0 300.5h0M534.1 314.3h0M533.6 312.1h0M533.4 311.8h0M532.9 321.2h0M532.9 319.3h0M533.2 333.5h0M533.6 312.5h0M532.9 316.8h0M533.7 310.6h0M533.3 308.5h0M533.3 323.7h0M532.8 321.8h0M533.3 321.2h0M533.6 326.1h0M532.7 310.1h0M532.7 311.0h0M533.1 326.9h0M532.5 333.6h0M533.7 312.4h0M533.1 309.0h0M533.4 323.1h0M533.1 311.6h0M532.9 309.3h0M534.2 309.8h0M534.0 319.9h0M533.6 312.2h0M532.3 310.7h0M532.7 322.5h0M532.4 317.0h0M532.4 330.8h0M533.3 322.9h0M533.3 323.6h0M532.6 317.6h0M533.9 321.4h0M533.7 310.3h0M533.8 332.3h0M534.0 322.5h0M534.1 313.6h0M532.5 331.3h0M532.6 320.2h0M533.2 309.6h0M532.9 309.0h0M532.7 311.7h0M533.8 319.2h0M533.0 308.5h0M534.3 319.2h0M533.0 305.8h0M536.4 306.0h0M534.6 307.0h0M535.0 315.5h0M534.6 325.5h0M535.2 322.1h0M535.6 325.4h0M535.8 313.5h0M535.2 320.1h0M534.8 315.4h0M535.8 323.7h0M534.5 322.7h0M535.3 329.1h0M536.2 323.1h0M535.5 314.4h0M535.4 320.6h0M534.6 327.9h0M534.4 320.0h0M534.5 318.0h0M535.6 314.4h0M534.5 318.3h0M535.4 319.9h0M534.5 318.3h0M534.6 314.3h0M534.6 331.8h0M534.7 333.1h0M536.3 337.2h0M534.4 316.2h0M534.6 319.9h0M535.3 317.6h0M536.1 319.8h0M535.3 331.0h0M536.0 331.3h0M535.7 319.9h0M536.2 324.3h0M535.7 320.5h0M535.3 324.3h0M535.0 314.1h0M536.2 320.2h0M536.0 327.0h0M535.5 328.3h0M535.3 328.6h0M534.4 327.2h0M534.8 305.8h0M535.1 308.5h0M533.9 305.8h0M538.2 312.1h0M538.2 318.6h0M537.8 320.2h0M536.6 319.3h0M537.4 328.2h0M536.8 332.0h0M537.0 322.7h0M537.5 319.1h0M538.2 325.4h0M537.6 322.5h0M536.4 317.0h0M536.4 327.4h0M537.9 316.8h0M538.1 319.4h0M536.4 318.0h0M536.3 316.1h0M536.7 320.5h0M538.0 312.4h0M537.4 322.1h0M537.7 315.8h0M536.7 312.3h0M538.0 322.3h0M538.1 316.5h0M536.7 318.9h0M536.4 315.2h0M536.9 316.1h0M536.5 324.2h0M536.5 314.5h0M536.5 335.6h0M538.3 325.4h0M537.8 330.4h0M536.6 328.8h0M536.7 314.5h0M538.3 323.1h0M538.0 317.3h0M537.5 326.3h0M537.3 326.8h0M537.3 317.6h0M537.9 324.7h0M537.9 322.8h0M537.1 317.7h0M536.9 301.1h0M536.4 299.7h0M538.0 302.8h0M540.2 323.1h0M539.1 321.3h0M540.0 314.1h0M539.6 318.6h0M539.8 326.2h0M539.7 315.6h0M540.3 316.0h0M539.2 315.8h0M539.4 323.5h0M539.7 315.2h0M539.9 314.2h0M539.6 326.2h0M540.2 317.1h0M538.4 313.7h0M538.5 323.3h0M539.6 327.9h0M538.6 323.9h0M539.6 316.5h0M540.0 322.9h0M539.6 320.7h0M538.4 313.0h0M538.8 330.7h0M540.3 319.5h0M540.1 319.8h0M539.7 322.9h0M540.2 327.0h0M540.2 318.0h0M538.7 334.7h0M539.8 322.3h0M539.9 322.1h0M539.4 329.8h0M539.8 312.8h0M539.5 323.9h0M540.2 329.4h0M539.7 312.7h0M540.1 325.1h0M539.4 325.0h0M540.1 314.9h0M540.3 327.9h0M540.2 332.1h0M539.7 325.0h0M538.4 325.9h0M537.9 304.2h0M537.2 300.9h0M538.9 302.0h0M540.7 320.3h0M540.3 321.9h0M542.1 310.2h0M542.3 313.3h0M540.6 322.9h0M540.4 327.3h0M542.0 326.3h0M542.2 321.2h0M541.8 315.5h0M540.4 311.0h0M541.8 322.7h0M540.4 323.9h0M540.4 315.8h0M541.5 313.8h0M540.8 310.3h0M542.1 315.3h0M541.2 317.0h0M541.9 316.1h0M540.9 313.2h0M541.7 329.9h0M541.2 310.9h0M541.0 318.4h0M541.0 316.9h0M541.6 322.0h0M540.8 313.6h0M540.8 314.3h0M541.7 316.6h0M542.2 323.1h0M542.2 316.4h0M540.9 310.1h0M541.1 330.6h0M541.7 309.0h0M541.0 316.4h0M540.6 313.1h0M541.7 336.8h0M541.3 309.7h0M541.0 321.7h0M542.2 312.8h0M540.8 310.3h0M542.3 312.1h0M540.5 329.0h0M540.9 312.0h0M541.2 322.8h0M541.5 314.0h0M541.6 310.1h0M541.1 309.1h0M541.6 309.6h0M542.8 305.8h0M543.2 331.7h0M544.0 322.6h0M544.1 319.5h0M543.1 322.7h0M544.3 315.5h0M543.7 310.8h0M542.5 316.0h0M543.4 319.3h0M543.2 323.7h0M543.7 319.1h0M543.6 314.8h0M543.0 328.7h0M543.2 323.1h0M542.8 310.7h0M542.6 319.9h0M544.0 336.8h0M544.1 316.4h0M542.6 318.8h0M542.3 315.5h0M543.0 312.5h0M543.1 315.4h0M543.5 310.6h0M542.9 316.6h0M542.4 318.2h0M542.8 310.7h0M542.9 309.9h0M543.7 316.5h0M542.6 312.5h0M542.5 312.3h0M544.1 312.7h0M543.9 320.2h0M543.8 331.6h0M542.5 321.3h0M542.9 312.0h0M544.1 318.0h0M542.7 320.1h0M543.4 313.8h0M543.1 311.8h0M544.0 316.5h0M543.9 316.0h0M542.8 310.4h0M544.0 312.7h0M543.0 335.4h0M543.5 316.4h0M544.0 304.8h0M543.0 303.2h0M544.2 304.3h0M545.5 331.7h0M545.2 311.6h0M544.5 319.4h0M545.1 321.0h0M544.9 312.0h0M544.9 325.2h0M545.1 320.9h0M546.1 337.3h0M546.3 328.2h0M544.7 314.3h0M545.0 311.5h0M545.1 320.6h0M545.9 315.2h0M544.4 316.0h0M546.2 316.4h0M544.8 315.8h0M546.0 311.5h0M545.2 319.8h0M544.4 324.8h0M546.1 320.6h0M544.5 321.9h0M545.9 329.7h0M545.4 316.8h0M545.2 319.9h0M544.6 324.9h0M546.1 315.3h0M545.8 319.3h0M545.3 322.8h0M545.9 325.5h0M544.9 316.2h0M544.9 310.7h0M545.3 311.5h0M545.5 317.9h0M544.5 309.0h0M546.3 319.1h0M546.2 322.4h0M544.5 308.7h0M545.9 319.1h0M546.3 308.9h0M545.2 320.2h0M544.5 322.8h0M545.9 326.0h0M545.5 332.7h0M545.5 324.6h0M546.2 309.4h0M547.0 336.4h0M546.9 323.0h0M546.7 327.8h0M546.4 318.2h0M547.4 325.4h0M547.6 330.8h0M548.1 318.6h0M547.1 313.8h0M546.9 317.5h0M547.5 329.3h0M546.3 315.1h0M546.4 314.8h0M547.0 320.6h0M547.0 319.2h0M548.1 313.3h0M546.4 314.2h0M547.7 313.0h0M546.6 312.4h0M547.4 312.8h0M547.7 312.7h0M547.2 326.4h0M547.3 332.1h0M547.3 323.0h0M546.8 332.3h0M547.6 322.9h0M546.6 312.6h0M546.3 325.6h0M547.4 313.1h0M548.0 318.3h0M546.4 315.6h0M546.9 321.0h0M547.0 312.1h0M547.5 315.6h0M547.2 321.2h0M547.6 315.2h0M547.3 313.3h0M548.0 321.2h0M547.5 313.2h0M547.2 317.1h0M547.6 325.5h0M548.3 312.5h0M547.1 302.3h0M545.9 303.2h0M547.9 303.9h0M549.7 322.1h0M549.4 323.8h0M548.5 327.7h0M549.1 318.9h0M549.7 313.1h0M548.9 310.2h0M549.5 313.2h0M550.2 314.3h0M548.8 332.3h0M550.0 324.8h0M549.3 312.2h0M549.6 311.2h0M549.6 312.5h0M550.1 309.7h0M548.6 325.9h0M549.3 315.3h0M550.2 332.9h0M548.7 311.0h0M549.4 313.3h0M550.0 323.7h0M549.8 321.1h0M548.7 310.8h0M549.1 315.1h0M549.4 315.5h0M550.1 313.4h0M548.4 320.8h0M548.9 328.1h0M548.4 320.7h0M548.8 331.0h0M548.9 317.8h0M550.1 336.0h0M548.7 314.8h0M550.2 310.5h0M549.7 325.9h0M550.0 310.3h0M549.1 313.7h0M549.7 326.1h0M548.5 313.7h0M548.9 331.9h0M550.1 331.6h0M550.0 312.9h0M549.3 312.6h0M548.7 310.1h0M548.6 313.3h0M550.1 300.9h0M550.4 299.7h0M548.2 300.0h0M551.8 316.3h0M551.2 331.4h0M550.7 315.8h0M550.7 324.3h0M551.0 319.8h0M552.2 311.7h0M551.8 332.3h0M551.9 322.5h0M552.1 312.9h0M551.6 327.7h0M550.6 327.5h0M551.7 325.3h0M550.7 316.3h0M550.8 318.6h0M552.3 313.1h0M551.5 313.6h0M551.7 329.0h0M551.6 312.0h0M552.1 327.2h0M551.7 324.2h0M551.8 320.3h0M551.5 326.3h0M550.5 313.4h0M552.2 317.0h0M552.2 312.6h0M551.5 313.7h0M551.3 314.9h0M552.3 322.5h0M550.4 318.8h0M552.2 312.3h0M551.0 312.8h0M550.8 313.0h0M551.8 319.4h0M551.1 327.2h0M551.6 317.7h0M550.6 315.4h0M551.7 311.8h0M551.0 331.5h0M552.2 325.4h0M551.6 328.3h0M552.1 312.2h0M552.3 310.9h0M551.3 313.9h0M553.5 311.4h0M552.6 309.5h0M552.0 312.5h0M554.2 319.5h0M553.1 325.8h0M552.7 323.7h0M552.8 322.1h0M553.4 322.2h0M553.2 320.1h0M552.3 328.0h0M553.8 327.9h0M552.4 326.0h0M552.9 332.7h0M553.3 327.5h0M552.3 335.7h0M552.4 316.4h0M553.4 319.0h0M554.0 332.9h0M554.0 333.6h0M552.5 320.1h0M553.3 314.7h0M552.6 315.5h0M552.6 326.0h0M554.1 322.7h0M552.3 316.0h0M553.3 327.4h0M553.7 315.2h0M552.9 322.1h0M553.5 325.7h0M554.0 323.3h0M553.0 316.2h0M552.7 322.7h0M553.1 323.5h0M554.1 318.5h0M552.5 325.5h0M553.3 318.9h0M552.8 315.7h0M553.5 325.8h0M553.0 326.4h0M553.1 315.2h0M552.9 317.4h0M553.1 299.3h0M553.2 298.9h0M553.5 299.4h0M555.4 334.4h0M556.1 314.6h0M554.8 325.1h0M554.4 331.1h0M556.2 323.0h0M554.7 334.2h0M555.6 326.2h0M556.1 321.4h0M554.7 312.9h0M556.3 323.4h0M554.5 321.0h0M555.3 324.7h0M555.0 312.5h0M556.3 315.0h0M555.3 320.9h0M556.2 320.0h0M554.3 331.0h0M555.5 314.0h0M555.3 315.6h0M555.8 327.8h0M554.9 322.9h0M555.8 316.6h0M555.7 313.1h0M554.9 315.1h0M555.5 321.6h0M556.1 319.8h0M555.9 326.7h0M555.4 318.0h0M554.4 320.5h0M556.1 335.8h0M556.0 324.2h0M554.3 311.4h0M554.9 323.8h0M555.6 311.0h0M555.1 312.9h0M555.2 315.6h0M555.7 311.2h0M554.3 317.2h0M555.8 324.8h0M555.3 320.1h0M555.5 332.6h0M555.7 321.9h0M556.2 309.5h0M554.7 310.9h0M556.7 312.6h0M557.3 334.5h0M557.1 321.2h0M556.7 315.8h0M557.8 326.2h0M557.8 323.9h0M557.3 310.5h0M556.9 321.7h0M558.3 316.2h0M557.5 320.7h0M557.0 311.7h0M556.8 312.1h0M557.0 323.3h0M558.3 326.7h0M556.7 310.9h0M557.4 314.9h0M556.3 310.9h0M556.4 314.2h0M556.5 312.0h0M556.6 323.0h0M557.5 324.9h0M557.9 320.4h0M557.9 311.6h0M557.8 318.3h0M558.2 323.9h0M558.2 318.6h0M558.0 311.9h0M556.9 313.8h0M557.0 316.0h0M556.8 324.8h0M558.1 322.7h0M557.7 315.1h0M556.7 333.1h0M557.0 315.4h0M557.4 311.6h0M557.0 316.9h0M556.8 319.0h0M557.0 326.7h0M557.9 329.7h0M557.2 318.3h0M557.8 317.6h0M556.7 328.4h0M556.5 324.4h0M556.4 320.3h0M557.1 337.2h0M556.4 312.5h0M557.2 305.0h0M559.9 314.3h0M559.2 323.1h0M559.8 322.0h0M559.6 316.9h0M558.6 317.9h0M558.5 328.7h0M560.1 327.5h0M559.4 318.4h0M559.4 330.9h0M559.7 313.0h0M560.3 320.1h0M559.4 317.6h0M559.3 322.3h0M559.0 324.4h0M558.5 322.0h0M560.3 324.3h0M559.9 325.2h0M559.1 323.9h0M558.6 315.9h0M559.0 312.4h0M558.4 324.6h0M558.9 312.2h0M559.8 324.5h0M559.3 312.6h0M558.4 313.1h0M559.6 324.7h0M559.1 319.9h0M560.2 314.7h0M559.1 324.1h0M559.2 331.9h0M559.0 318.8h0M559.8 323.0h0M558.7 323.1h0M559.9 325.4h0M559.7 322.9h0M558.5 326.8h0M559.5 333.8h0M558.5 328.9h0M559.7 321.7h0M558.6 313.9h0M559.8 326.7h0M557.4 307.6h0M558.5 307.2h0M561.9 317.4h0M560.9 308.3h0M560.9 310.6h0M561.3 313.2h0M560.8 314.2h0M561.2 313.7h0M561.3 310.9h0M561.2 314.9h0M561.7 325.3h0M562.0 325.4h0M561.1 328.1h0M561.5 320.2h0M560.6 308.5h0M562.0 319.6h0M562.1 313.1h0M561.1 326.6h0M561.3 315.5h0M560.4 331.8h0M561.0 314.9h0M561.1 310.2h0M561.3 326.2h0M562.1 311.6h0M561.5 332.0h0M560.3 328.1h0M560.7 311.6h0M561.5 319.2h0M561.6 318.5h0M561.1 315.6h0M561.7 329.2h0M560.9 308.8h0M562.2 314.4h0M561.8 314.9h0M561.1 315.3h0M561.5 312.8h0M562.2 327.8h0M561.9 311.6h0M560.9 308.8h0M560.8 336.9h0M562.2 315.2h0M561.4 314.2h0M560.5 313.6h0M561.4 319.1h0M560.9 325.1h0M560.4 336.1h0M560.5 314.1h0M561.1 320.3h0M561.8 312.3h0M560.2 294.6h0M560.2 292.8h0M561.0 291.4h0M562.4 323.2h0M563.5 316.8h0M563.7 309.2h0M563.8 315.9h0M563.7 327.3h0M563.2 321.5h0M563.2 308.7h0M563.6 315.8h0M563.5 309.3h0M563.4 308.0h0M563.2 310.7h0M563.1 316.2h0M562.9 326.1h0M564.0 323.6h0M563.8 315.0h0M563.2 316.6h0M563.0 305.9h0M562.3 322.2h0M563.2 306.4h0M564.1 311.2h0M563.0 321.2h0M562.4 316.8h0M564.0 309.7h0M563.4 309.8h0M562.5 306.4h0M563.3 309.9h0M563.1 306.0h0M562.5 315.7h0M562.6 311.1h0M563.9 308.2h0M562.7 320.3h0M562.6 330.4h0M563.1 310.3h0M562.4 308.9h0M562.8 323.5h0M563.7 318.7h0M564.3 325.2h0M563.6 317.4h0M562.3 309.5h0M562.3 318.2h0M563.1 325.5h0M562.8 314.9h0M563.6 325.1h0M563.1 325.0h0M563.5 308.6h0M562.4 315.0h0M562.4 308.5h0M563.2 317.3h0M563.4 318.5h0M564.2 303.4h0M562.3 302.5h0M565.9 321.1h0M566.3 319.0h0M565.6 319.2h0M566.2 313.8h0M566.0 321.7h0M565.6 311.2h0M565.3 311.5h0M565.5 320.6h0M566.0 316.0h0M566.2 310.1h0M566.2 312.3h0M565.5 314.8h0M564.6 334.4h0M564.6 334.9h0M566.1 316.7h0M566.1 324.3h0M565.2 324.6h0M566.0 310.4h0M564.4 319.3h0M565.3 311.0h0M565.0 314.9h0M564.5 313.6h0M565.0 323.9h0M565.6 316.2h0M565.7 322.1h0M565.7 320.6h0M565.2 316.3h0M565.7 319.5h0M565.4 321.2h0M565.6 315.8h0M564.5 319.5h0M564.5 312.4h0M565.3 312.0h0M565.8 315.1h0M565.9 321.4h0M564.9 323.6h0M565.8 321.9h0M565.1 313.3h0M565.4 312.7h0M564.4 318.8h0M564.4 321.5h0M564.7 310.1h0M564.4 311.2h0M565.7 314.2h0M568.0 295.8h0M564.4 296.4h0M567.9 296.2h0M568.0 318.0h0M568.3 311.5h0M567.5 318.0h0M567.3 319.3h0M567.1 323.8h0M568.1 309.2h0M567.0 321.5h0M567.8 310.8h0M567.3 308.8h0M567.9 325.7h0M566.6 316.7h0M566.8 308.3h0M567.7 325.5h0M567.0 306.7h0M567.8 306.4h0M568.1 320.2h0M567.8 309.7h0M567.6 311.4h0M567.0 312.2h0M567.5 312.2h0M567.5 310.7h0M567.5 308.3h0M567.4 325.6h0M566.4 318.8h0M568.1 305.0h0M566.8 327.4h0M566.4 306.5h0M567.6 308.9h0M566.7 305.6h0M567.1 323.3h0M566.9 314.4h0M566.5 314.2h0M566.7 319.8h0M567.9 333.1h0M567.2 304.9h0M566.6 316.8h0M566.5 335.4h0M566.5 315.1h0M566.6 326.0h0M566.7 323.8h0M568.1 321.3h0M568.1 316.2h0M568.2 305.3h0M567.0 328.0h0M567.5 321.5h0M567.1 307.0h0M567.8 309.7h0M567.1 314.3h0M566.8 311.0h0M568.0 325.7h0M567.0 311.3h0M566.6 296.4h0M564.5 293.1h0M569.3 308.7h0M568.3 309.5h0M569.0 314.5h0M568.6 310.4h0M568.6 314.9h0M569.4 306.9h0M570.1 318.0h0M569.8 305.1h0M569.9 309.7h0M569.3 314.3h0M569.1 316.4h0M568.8 314.2h0M569.3 306.4h0M568.6 319.2h0M568.5 320.2h0M570.1 309.3h0M569.4 307.9h0M570.0 313.5h0M569.0 307.3h0M569.8 325.1h0M570.2 312.7h0M568.9 306.7h0M570.0 319.6h0M568.9 314.2h0M570.0 321.4h0M570.3 316.3h0M569.8 322.6h0M569.7 322.4h0M569.8 310.3h0M569.1 315.5h0M569.7 321.7h0M568.8 318.1h0M568.5 309.6h0M569.7 320.7h0M569.3 309.6h0M569.7 327.3h0M568.7 323.2h0M569.9 310.7h0M569.4 320.4h0M569.2 324.0h0M570.1 320.9h0M569.7 313.5h0M569.0 316.5h0M569.0 306.1h0M568.5 325.7h0M569.9 322.1h0M569.2 321.9h0M569.4 311.6h0M569.4 307.6h0M569.4 336.7h0M565.3 309.6h0M568.8 306.0h0M570.5 322.8h0M572.0 322.3h0M571.3 325.8h0M572.1 317.8h0M571.5 311.8h0M571.6 313.2h0M570.5 325.8h0M572.1 314.0h0M572.1 318.1h0M572.1 308.2h0M571.2 310.7h0M572.0 312.2h0M570.9 315.2h0M572.1 310.4h0M571.7 331.6h0M570.4 312.9h0M571.1 308.7h0M572.3 316.7h0M570.6 316.0h0M571.0 322.4h0M571.7 322.8h0M570.9 325.9h0M570.5 321.0h0M570.8 321.7h0M570.5 314.8h0M571.5 324.3h0M572.0 317.3h0M570.5 321.3h0M571.9 317.5h0M570.4 333.2h0M571.5 326.2h0M570.8 313.5h0M570.9 325.3h0M572.3 315.6h0M571.8 314.6h0M570.7 324.1h0M570.4 309.2h0M571.8 308.3h0M572.2 315.3h0M571.1 311.9h0M571.1 323.0h0M571.6 315.0h0M571.5 318.1h0M570.6 309.8h0M571.4 309.6h0M571.6 310.6h0M571.3 304.7h0M570.1 303.2h0M573.9 329.7h0M573.6 311.9h0M572.6 313.9h0M572.8 316.8h0M572.8 312.7h0M572.8 319.5h0M572.4 318.3h0M572.7 317.0h0M573.7 310.1h0M573.2 313.4h0M572.8 317.3h0M573.3 310.9h0M573.9 313.4h0M572.8 312.9h0M573.2 320.0h0M573.0 315.4h0M573.2 321.9h0M573.7 311.4h0M572.8 314.5h0M574.2 313.1h0M572.7 315.3h0M573.5 314.1h0M573.5 318.4h0M573.4 321.4h0M573.0 324.9h0M574.1 320.5h0M573.2 319.9h0M573.2 315.7h0M573.7 323.1h0M573.0 312.3h0M573.4 326.2h0M574.2 317.9h0M573.3 315.8h0M572.4 329.3h0M572.9 314.4h0M573.3 316.6h0M574.2 310.6h0M574.0 313.4h0M572.5 325.8h0M573.1 320.7h0M572.9 318.9h0M573.5 314.9h0M573.1 331.6h0M574.0 312.8h0M573.8 304.9h0M574.9 302.4h0M574.8 310.7h0M575.6 310.8h0M576.2 310.1h0M576.0 307.1h0M575.9 314.9h0M575.6 317.2h0M575.6 320.8h0M574.6 311.5h0M574.6 307.3h0M575.1 329.4h0M575.2 311.2h0M575.3 313.4h0M575.3 327.3h0M574.7 324.1h0M574.6 310.6h0M575.8 330.6h0M575.1 307.5h0M575.5 330.5h0M576.0 324.3h0M574.4 313.9h0M576.2 334.0h0M574.7 315.7h0M575.8 325.7h0M574.8 315.1h0M576.0 325.5h0M575.3 315.7h0M575.3 328.3h0M575.1 316.9h0M576.1 313.2h0M574.3 313.1h0M574.8 314.3h0M574.8 311.7h0M574.5 310.6h0M574.4 307.6h0M575.2 323.1h0M575.8 317.8h0M575.9 309.8h0M575.7 315.0h0M574.5 310.8h0M574.8 317.8h0M574.7 323.4h0M574.6 310.4h0M575.6 328.8h0M575.8 314.5h0M575.8 315.4h0M575.3 327.4h0M576.0 318.4h0M576.1 330.2h0M576.2 306.7h0M577.2 311.9h0M577.7 331.5h0M576.9 313.8h0M576.8 313.1h0M578.1 326.4h0M577.0 323.2h0M577.1 312.7h0M576.8 317.3h0M577.0 306.9h0M576.5 312.4h0M576.7 308.5h0M577.0 331.2h0M577.7 311.1h0M577.4 324.2h0M576.3 318.0h0M578.2 312.1h0M576.4 312.3h0M577.6 315.6h0M577.7 324.0h0M577.7 324.8h0M577.4 311.1h0M578.0 309.6h0M577.4 316.5h0M576.9 328.4h0M576.8 306.1h0M576.4 315.6h0M577.3 307.1h0M576.7 316.8h0M577.7 309.1h0M578.1 311.8h0M577.4 317.5h0M577.9 311.8h0M577.8 310.3h0M576.9 315.9h0M578.2 311.5h0M576.4 308.6h0M577.1 324.1h0M577.4 322.3h0M577.1 321.9h0M577.4 311.5h0M576.7 310.6h0M576.8 316.6h0M577.1 327.3h0M576.7 312.0h0M578.0 314.2h0M576.3 308.3h0M578.0 329.2h0M578.1 308.1h0M576.9 314.2h0M576.0 309.9h0M579.9 325.3h0M580.2 311.2h0M580.3 312.5h0M579.9 310.0h0M579.8 312.7h0M579.5 312.5h0M579.0 310.6h0M580.2 316.3h0M579.6 314.7h0M579.3 309.3h0M579.5 310.1h0M578.5 314.5h0M580.2 309.8h0M579.9 321.8h0M579.8 317.0h0M580.2 320.0h0M579.3 317.7h0M579.4 311.8h0M578.7 312.1h0M579.5 318.8h0M579.5 320.8h0M579.7 331.4h0M578.5 321.0h0M579.8 321.9h0M579.7 315.1h0M579.9 313.3h0M579.2 327.1h0M580.3 311.8h0M578.6 317.1h0M578.7 320.4h0M578.3 318.7h0M578.9 317.5h0M580.1 313.4h0M579.7 311.3h0M578.7 315.0h0M578.9 321.8h0M579.5 329.2h0M579.0 318.0h0M578.7 322.3h0M578.8 310.5h0M579.7 322.4h0M579.5 318.4h0M578.7 318.0h0M579.8 310.2h0M579.0 324.1h0M580.6 291.7h0M582.5 293.9h0M579.2 292.0h0M581.5 320.8h0M581.5 317.5h0M581.4 308.9h0M580.7 314.2h0M580.8 326.5h0M582.1 307.4h0M581.6 315.2h0M582.2 320.0h0M581.8 318.6h0M580.9 329.2h0M581.6 309.9h0M581.2 314.8h0M581.3 312.0h0M582.1 312.4h0M581.0 336.9h0M581.0 309.3h0M580.6 325.4h0M581.3 320.0h0M580.7 324.1h0M581.4 317.9h0M580.7 318.8h0M581.2 322.1h0M581.0 309.1h0M581.9 320.6h0M581.3 323.3h0M582.1 314.4h0M581.4 328.1h0M580.4 320.9h0M580.4 324.6h0M582.1 313.3h0M580.8 313.9h0M581.8 325.6h0M582.2 309.8h0M581.5 307.3h0M581.1 307.0h0M581.0 308.1h0M581.5 320.5h0M581.4 314.5h0M582.1 306.6h0M581.2 307.0h0M581.4 325.6h0M581.3 319.0h0M581.2 307.0h0M581.8 309.9h0M582.2 319.8h0M581.9 310.3h0M581.1 316.7h0M580.9 327.3h0M580.6 314.1h0M582.6 304.8h0M583.5 307.0h0M583.6 311.8h0M584.0 319.7h0M583.7 313.1h0M583.6 312.4h0M583.5 325.1h0M583.8 318.3h0M582.4 313.2h0M584.3 330.2h0M583.0 314.3h0M582.8 314.8h0M583.6 313.0h0M583.9 317.1h0M584.2 321.9h0M583.1 331.1h0M584.3 313.9h0M582.4 331.3h0M582.4 313.5h0M583.5 317.6h0M582.4 316.6h0M582.8 328.4h0M582.9 321.8h0M583.7 326.2h0M583.9 317.9h0M582.4 312.4h0M583.5 325.7h0M583.2 311.9h0M583.0 324.8h0M583.2 317.5h0M584.2 317.9h0M582.9 310.4h0M583.2 318.2h0M583.4 313.5h0M583.7 312.3h0M583.9 324.7h0M582.3 330.0h0M582.6 314.5h0M584.2 312.4h0M582.7 320.5h0M584.3 309.8h0M584.1 330.6h0M583.4 322.3h0M584.1 324.3h0M583.0 333.1h0M583.3 314.5h0M582.8 325.7h0M583.2 295.7h0M582.6 295.6h0M586.8 296.3h0M583.0 295.7h0M584.4 317.4h0M585.0 314.4h0M586.0 306.7h0M584.7 310.5h0M586.3 319.2h0M585.3 310.1h0M585.0 309.7h0M585.5 322.4h0M585.6 313.4h0M584.8 326.9h0M584.6 313.4h0M585.9 312.2h0M585.9 316.5h0M585.6 305.4h0M585.6 328.1h0M584.6 321.6h0M586.0 316.9h0M585.9 329.3h0M585.3 321.7h0M584.8 309.8h0M586.1 308.6h0M584.6 318.4h0M585.7 328.5h0M586.0 308.0h0M585.8 314.7h0M584.6 315.2h0M585.4 316.4h0M584.8 310.5h0M585.8 313.2h0M585.9 316.3h0M585.7 317.6h0M584.3 317.2h0M585.7 316.5h0M586.2 329.8h0M584.4 327.5h0M585.4 313.6h0M586.2 307.8h0M586.1 320.0h0M584.7 324.9h0M584.5 319.1h0M585.8 324.7h0M585.1 315.8h0M585.1 324.3h0M585.1 306.8h0M585.0 323.1h0M585.9 327.0h0M585.5 323.5h0M585.5 315.1h0M584.9 323.2h0M584.5 319.4h0M585.7 300.4h0M586.7 301.1h0M583.8 300.0h0M587.9 330.3h0M588.1 317.5h0M587.2 335.0h0M587.4 314.8h0M587.8 311.8h0M588.0 312.8h0M587.8 310.9h0M588.3 331.8h0M588.0 318.7h0M587.8 307.3h0M586.4 324.6h0M587.6 305.8h0M587.8 326.8h0M586.7 307.2h0M586.7 313.1h0M586.4 314.3h0M587.6 319.4h0M586.8 316.2h0M587.2 320.0h0M586.6 327.6h0M586.7 316.2h0M586.8 321.7h0M587.4 307.8h0M587.4 310.4h0M587.3 321.5h0M586.9 306.3h0M588.1 331.2h0M586.8 313.5h0M586.9 308.9h0M588.0 307.2h0M587.4 334.1h0M586.6 327.2h0M587.6 312.3h0M588.3 309.2h0M586.4 313.1h0M587.7 328.7h0M586.9 319.8h0M586.4 308.5h0M586.3 328.2h0M586.8 321.5h0M587.5 307.9h0M586.9 322.5h0M586.9 309.0h0M587.4 326.5h0M586.9 305.9h0M588.1 323.4h0M587.7 316.4h0M587.9 314.8h0M586.4 317.7h0M586.0 307.0h0M587.3 308.2h0M586.7 305.0h0M589.7 308.0h0M590.0 314.9h0M588.4 316.4h0M588.6 323.2h0M589.7 309.8h0M589.7 314.5h0M589.8 308.5h0M588.6 325.5h0M589.3 309.8h0M589.2 313.3h0M589.7 315.4h0M589.1 328.3h0M588.5 309.8h0M589.5 311.4h0M588.9 318.1h0M589.1 312.7h0M590.2 326.3h0M588.4 310.4h0M589.4 308.0h0M589.5 311.6h0M589.1 314.1h0M588.7 316.2h0M589.5 308.8h0M589.8 316.7h0M589.9 313.5h0M589.1 312.8h0M589.5 328.9h0M589.1 312.1h0M588.9 313.2h0M589.8 326.3h0M588.5 316.9h0M589.8 320.2h0M590.2 325.2h0M590.2 315.5h0M590.3 321.3h0M589.1 319.4h0M590.3 327.5h0M589.2 315.6h0M590.0 335.0h0M588.9 333.0h0M589.1 316.0h0M589.7 310.7h0M589.2 319.6h0M589.5 308.4h0M589.4 326.3h0M589.1 320.0h0M590.2 290.1h0M586.9 288.9h0M592.3 336.6h0M591.7 315.6h0M591.7 323.1h0M592.0 310.2h0M592.0 312.9h0M591.6 315.1h0M591.2 319.8h0M592.2 313.1h0M591.4 321.2h0M590.8 312.5h0M591.8 309.0h0M591.4 307.0h0M590.9 313.8h0M592.3 314.2h0M590.9 329.4h0M590.8 318.0h0M590.6 314.8h0M591.7 318.2h0M590.8 308.4h0M590.3 306.1h0M590.4 315.6h0M590.4 321.0h0M590.6 309.8h0M591.0 311.9h0M591.3 307.8h0M591.9 314.0h0M591.3 307.0h0M590.3 315.3h0M591.4 316.9h0M592.2 324.0h0M590.6 312.9h0M591.0 312.3h0M590.6 323.6h0M591.1 319.4h0M590.6 313.7h0M592.1 317.4h0M591.9 305.0h0M592.3 334.2h0M590.3 315.6h0M591.2 317.6h0M591.4 325.8h0M591.1 320.6h0M592.3 329.4h0M590.4 306.3h0M590.4 325.0h0M591.3 309.1h0M591.0 327.2h0M592.3 317.8h0M590.8 311.6h0M591.4 308.3h0M592.0 333.8h0M592.6 292.0h0M593.3 292.0h0M593.1 324.2h0M592.3 326.4h0M594.1 309.1h0M592.9 309.4h0M592.5 324.0h0M592.7 323.0h0M592.5 303.7h0M594.0 308.3h0M593.3 307.4h0M593.9 312.0h0M592.8 325.3h0M592.9 324.7h0M592.6 311.6h0M593.2 305.2h0M593.5 321.0h0M593.5 313.2h0M593.1 322.7h0M593.7 320.8h0M594.1 309.8h0M592.5 314.0h0M593.3 308.9h0M593.1 312.3h0M593.0 321.9h0M593.0 309.1h0M592.6 331.0h0M592.3 310.8h0M592.8 324.2h0M592.8 303.8h0M592.4 303.5h0M593.0 304.6h0M593.6 330.5h0M592.8 329.0h0M593.6 322.4h0M594.0 331.8h0M594.3 307.3h0M593.0 309.6h0M592.7 317.1h0M592.4 317.1h0M593.5 323.7h0M594.2 329.1h0M594.0 308.7h0M593.3 319.4h0M592.9 330.8h0M594.1 311.4h0M593.5 310.2h0M594.2 319.8h0M592.5 320.4h0M593.9 317.7h0M592.6 307.5h0M592.3 321.8h0M592.4 303.7h0M594.1 319.9h0M593.0 304.7h0M593.9 306.4h0M595.0 306.0h0M596.0 321.6h0M595.9 325.2h0M596.0 309.4h0M594.7 317.2h0M594.7 334.2h0M595.0 334.8h0M595.5 328.7h0M594.4 314.3h0M594.8 313.0h0M594.4 316.2h0M594.9 319.4h0M595.2 325.2h0M594.9 311.2h0M595.6 315.5h0M594.3 324.9h0M595.7 315.0h0M595.4 335.8h0M595.1 326.3h0M595.5 319.9h0M595.2 310.2h0M595.3 334.0h0M594.8 306.1h0M594.4 323.2h0M595.8 309.5h0M595.9 321.6h0M595.8 325.2h0M595.3 317.8h0M594.9 327.9h0M595.6 307.1h0M595.5 308.9h0M596.0 310.9h0M596.2 315.3h0M595.2 314.3h0M596.1 313.3h0M595.4 326.4h0M595.5 325.0h0M595.1 313.5h0M595.6 325.5h0M594.4 314.5h0M594.9 306.8h0M595.5 322.1h0M595.0 318.5h0M596.1 308.4h0M596.2 310.1h0M594.5 318.1h0M596.0 312.2h0M594.6 328.7h0M594.4 315.7h0M594.5 310.8h0M593.6 298.4h0M594.1 293.3h0M594.0 297.1h0M598.1 305.8h0M596.4 312.7h0M597.7 317.1h0M598.1 321.3h0M597.0 314.0h0M596.7 305.4h0M597.7 335.4h0M597.6 307.2h0M596.9 317.3h0M597.0 327.4h0M597.1 328.3h0M596.4 308.9h0M597.5 305.5h0M596.7 321.0h0M597.9 322.4h0M597.5 326.7h0M597.7 329.1h0M598.2 307.1h0M597.9 334.4h0M596.6 324.2h0M597.1 314.2h0M597.4 318.7h0M596.4 309.6h0M597.2 312.9h0M597.8 322.8h0M597.5 320.3h0M597.7 308.9h0M597.2 309.3h0M598.2 306.2h0M597.9 332.4h0M597.6 311.2h0M597.8 319.8h0M598.1 311.0h0M596.6 318.8h0M596.9 324.7h0M596.8 310.1h0M596.5 312.0h0M597.8 318.0h0M597.2 329.5h0M596.5 314.5h0M598.2 316.5h0M598.2 312.0h0M597.4 310.0h0M596.9 329.0h0M597.6 319.2h0M597.6 308.8h0M596.8 316.9h0M596.4 305.6h0M597.0 305.8h0M597.0 320.3h0M596.0 291.5h0M596.4 292.4h0M598.0 290.1h0M599.6 298.7h0M597.5 297.5h0M599.5 312.6h0M599.9 312.2h0M598.5 320.8h0M598.7 324.4h0M599.1 311.0h0M598.9 335.9h0M599.5 319.4h0M599.7 319.2h0M598.7 309.9h0M599.0 319.0h0M599.4 309.8h0M599.2 309.1h0M599.1 318.3h0M598.9 311.3h0M598.5 326.1h0M599.3 310.3h0M598.4 309.9h0M598.5 312.6h0M599.4 312.0h0M599.3 311.9h0M599.2 324.4h0M599.8 309.9h0M598.5 309.3h0M599.3 324.7h0M598.7 324.2h0M599.9 332.4h0M599.8 309.3h0M600.0 330.3h0M599.5 318.8h0M599.5 312.3h0M599.4 310.2h0M598.9 316.7h0M599.6 315.1h0M599.3 309.2h0M599.6 323.8h0M598.7 314.5h0M598.3 318.0h0M598.3 314.4h0M599.6 325.0h0M599.6 322.3h0M600.0 314.5h0M600.2 332.4h0M599.2 311.6h0M598.3 324.6h0M599.1 318.0h0M599.4 306.1h0M601.8 288.6h0M599.2 291.4h0M600.5 307.1h0M602.2 307.5h0M601.4 307.6h0M602.0 307.8h0M601.3 314.5h0M601.8 317.6h0M602.3 326.7h0M601.1 306.8h0M600.6 312.1h0M600.6 327.0h0M601.7 314.5h0M600.4 316.6h0M600.5 313.8h0M601.2 306.9h0M602.2 306.2h0M601.1 310.1h0M602.0 334.1h0M600.8 315.1h0M602.1 320.4h0M601.5 322.3h0M600.7 324.7h0M600.4 306.8h0M602.1 318.6h0M600.5 311.8h0M602.2 325.8h0M601.0 318.1h0M601.8 309.9h0M601.7 326.2h0M600.6 327.0h0M602.0 326.0h0M601.8 318.0h0M600.6 309.4h0M601.7 310.3h0M601.6 306.5h0M601.1 307.7h0M600.5 324.5h0M600.7 313.3h0M600.6 323.8h0M600.9 317.6h0M602.1 315.7h0M601.9 317.6h0M601.4 323.8h0M600.4 312.9h0M600.9 330.4h0M601.3 316.5h0M600.7 319.8h0M601.0 318.2h0M602.2 312.6h0M602.2 313.8h0M600.8 331.5h0M601.4 331.9h0M602.4 302.6h0M601.0 304.1h0M602.3 299.1h0M603.6 304.9h0M603.9 308.3h0M603.7 304.6h0M604.0 308.5h0M603.1 309.4h0M602.9 325.0h0M603.1 306.2h0M603.1 325.2h0M604.0 312.2h0M604.3 314.9h0M603.9 319.2h0M602.3 305.1h0M603.8 325.1h0M602.7 316.3h0M602.5 312.3h0M603.5 331.8h0M603.3 307.6h0M602.4 310.6h0M602.9 305.4h0M603.4 304.7h0M603.6 319.1h0M603.6 319.7h0M602.7 320.4h0M602.6 335.9h0M602.9 317.7h0M603.6 317.0h0M604.2 305.8h0M603.2 325.3h0M602.5 336.6h0M603.2 312.0h0M603.8 316.5h0M602.5 307.6h0M602.9 309.9h0M602.5 319.6h0M603.6 315.3h0M603.2 327.0h0M604.1 314.7h0M602.6 310.9h0M602.6 305.1h0M603.1 305.7h0M603.6 304.8h0M602.6 312.3h0M602.4 310.2h0M603.1 310.4h0M603.4 306.0h0M602.4 308.7h0M603.9 323.4h0M602.3 307.7h0M604.1 305.1h0M603.3 315.0h0M602.9 310.1h0M605.0 299.8h0M605.8 303.3h0M605.7 316.1h0M605.5 327.4h0M605.9 318.6h0M604.3 326.4h0M605.0 305.2h0M604.8 325.2h0M605.3 329.1h0M605.4 321.6h0M606.0 314.4h0M605.9 317.5h0M605.1 319.4h0M604.7 324.2h0M604.3 306.7h0M606.2 318.2h0M604.7 308.5h0M605.2 328.5h0M605.9 320.1h0M605.7 313.1h0M605.9 320.4h0M605.4 313.7h0M606.2 326.0h0M606.0 316.5h0M604.6 327.5h0M604.8 322.4h0M604.5 324.6h0M604.9 310.2h0M605.9 315.1h0M605.0 321.8h0M605.3 330.2h0M604.5 319.7h0M606.2 312.6h0M604.6 305.3h0M605.9 313.0h0M605.0 305.0h0M605.4 312.6h0M605.9 326.8h0M605.7 311.6h0M606.3 316.0h0M604.9 305.6h0M605.5 319.6h0M605.2 320.2h0M606.1 307.8h0M605.9 319.8h0M604.3 315.3h0M604.6 307.5h0M605.7 316.9h0M604.5 319.7h0M606.2 310.2h0M606.1 303.5h0M604.8 314.4h0M605.3 305.6h0M605.9 318.6h0M605.8 295.7h0M605.0 294.4h0M606.1 295.7h0M606.3 307.5h0M607.0 310.2h0M606.4 308.2h0M607.7 314.2h0M606.5 311.4h0M607.2 316.1h0M608.1 329.0h0M607.6 319.3h0M607.6 312.5h0M607.9 311.0h0M607.7 324.3h0M606.5 312.6h0M608.0 308.3h0M607.2 330.0h0M608.3 310.6h0M607.6 312.8h0M607.3 325.5h0M606.7 328.6h0M606.9 320.8h0M606.7 324.5h0M606.6 309.0h0M607.0 320.5h0M607.1 311.1h0M607.0 325.6h0M608.1 315.8h0M607.0 322.3h0M606.9 325.5h0M607.0 332.3h0M607.2 310.1h0M606.4 312.0h0M607.4 334.3h0M608.2 315.4h0M608.2 311.2h0M607.9 321.5h0M606.4 331.4h0M606.3 324.2h0M607.9 313.6h0M607.8 318.5h0M607.6 316.3h0M608.0 318.9h0M606.7 308.6h0M607.4 307.0h0M608.2 334.2h0M607.8 307.7h0M607.2 312.6h0M607.6 322.4h0M608.1 322.7h0M606.4 311.3h0M607.2 292.1h0M608.3 292.2h0M609.7 307.9h0M608.5 312.4h0M609.0 308.6h0M609.8 308.4h0M608.6 309.5h0M610.2 308.1h0M609.7 314.8h0M609.0 308.3h0M610.2 315.5h0M608.6 322.8h0M609.4 308.2h0M609.7 322.8h0M609.2 311.7h0M609.9 318.9h0M609.9 308.5h0M608.4 312.1h0M608.9 309.4h0M609.6 313.5h0M609.3 311.0h0M609.8 313.0h0M609.4 307.3h0M609.8 314.3h0M610.3 332.6h0M608.6 316.2h0M609.4 317.6h0M609.7 324.8h0M609.8 312.7h0M609.6 326.7h0M609.9 318.3h0M609.8 324.4h0M609.4 313.7h0M609.8 319.6h0M609.4 311.8h0M609.9 310.8h0M608.9 317.2h0M608.7 311.0h0M608.7 317.8h0M608.5 333.1h0M609.9 317.3h0M610.0 331.1h0M610.0 320.7h0M608.4 315.7h0M609.1 312.0h0M609.1 327.3h0M609.9 321.2h0M610.0 313.3h0M610.0 310.6h0M610.9 302.7h0M605.4 301.7h0M607.5 303.5h0M607.1 294.1h0M608.9 293.7h0M610.6 314.6h0M610.4 314.5h0M611.4 323.5h0M610.7 319.4h0M610.7 314.5h0M612.2 315.1h0M611.1 314.9h0M611.7 330.0h0M610.6 327.7h0M611.6 326.7h0M612.1 318.1h0M610.5 327.5h0M610.9 323.5h0M610.6 319.2h0M611.4 315.9h0M610.9 314.5h0M611.6 323.1h0M610.9 329.5h0M612.1 321.7h0M611.5 324.8h0M612.0 321.9h0M611.7 321.9h0M611.3 328.8h0M612.3 320.9h0M611.3 318.9h0M611.8 324.7h0M611.7 315.2h0M610.8 335.1h0M612.0 331.6h0M611.5 330.6h0M611.3 323.1h0M611.6 317.7h0M612.3 319.0h0M610.7 323.9h0M610.3 314.2h0M610.7 318.4h0M611.1 324.6h0M611.2 319.2h0M612.2 299.1h0M612.9 297.7h0M610.7 297.0h0M610.5 281.4h0M611.3 282.6h0M611.1 282.5h0M611.6 285.2h0M610.9 285.7h0M611.9 285.8h0M612.5 322.8h0M613.1 316.8h0M613.4 320.6h0M612.8 314.8h0M612.5 322.3h0M612.8 324.3h0M613.8 321.7h0M613.4 316.4h0M612.7 315.8h0M613.5 326.6h0M613.2 316.8h0M614.2 315.1h0M612.3 317.4h0M613.8 322.3h0M613.4 326.9h0M612.8 324.4h0M612.9 334.3h0M613.7 323.1h0M613.7 321.1h0M612.6 332.7h0M613.9 315.8h0M613.4 321.1h0M613.6 328.4h0M613.7 319.0h0M614.1 325.3h0M614.2 323.2h0M612.9 315.1h0M613.3 314.7h0M612.5 315.0h0M612.6 322.0h0M613.0 325.1h0M613.1 319.7h0M613.1 331.3h0M613.6 329.0h0M613.9 330.6h0M613.1 334.4h0M613.2 323.7h0M613.4 315.4h0M612.3 316.8h0M615.3 278.4h0M612.2 278.6h0M610.9 299.6h0M611.1 301.8h0M615.8 337.1h0M614.8 315.1h0M614.9 314.0h0M614.4 323.0h0M615.5 311.8h0M615.7 316.0h0M616.2 313.0h0M615.8 330.4h0M616.2 317.4h0M615.8 326.9h0M616.2 314.2h0M615.0 316.4h0M615.9 317.8h0M614.4 323.8h0M615.5 313.5h0M614.3 314.8h0M616.0 324.2h0M615.0 320.8h0M615.2 326.8h0M615.1 316.3h0M615.0 314.1h0M614.8 325.1h0M615.5 311.8h0M615.9 320.4h0M615.9 315.9h0M616.1 314.8h0M614.4 329.2h0M614.7 321.1h0M615.8 317.9h0M614.4 317.8h0M616.1 331.3h0M614.8 316.6h0M615.9 319.1h0M616.3 316.5h0M614.5 322.4h0M615.4 311.6h0M614.4 316.9h0M615.2 325.2h0M614.5 322.0h0M615.8 329.8h0M615.3 316.2h0M615.0 314.5h0M615.6 311.1h0M614.0 311.8h0M615.9 296.3h0M616.9 297.3h0M615.3 298.8h0M617.5 321.7h0M616.9 318.9h0M617.5 319.9h0M617.9 311.9h0M617.8 319.3h0M618.1 331.8h0M618.2 314.6h0M618.2 323.4h0M617.7 327.4h0M618.3 312.9h0M616.4 328.0h0M618.3 313.4h0M618.3 315.8h0M617.9 332.2h0M617.6 325.6h0M616.9 315.3h0M617.2 319.0h0M617.5 322.0h0M617.5 316.8h0M617.4 326.0h0M617.4 312.8h0M616.5 324.0h0M617.0 318.3h0M616.4 325.8h0M618.0 316.4h0M616.5 321.6h0M616.7 317.4h0M616.4 318.8h0M617.1 319.4h0M616.9 323.3h0M616.6 319.3h0M617.1 323.3h0M617.8 333.4h0M618.0 323.9h0M617.2 313.0h0M616.6 313.6h0M616.6 314.9h0M616.6 316.8h0M617.8 319.6h0M617.0 314.9h0M617.8 316.1h0M618.7 311.3h0M618.8 314.1h0M614.7 317.6h0M616.7 309.2h0M618.5 307.3h0M618.9 326.9h0M619.0 311.9h0M618.4 313.6h0M619.2 313.7h0M618.9 318.0h0M620.2 331.0h0M618.9 318.8h0M618.4 322.3h0M619.8 318.2h0M619.4 311.8h0M619.6 324.4h0M618.9 318.6h0M618.4 312.3h0M619.8 319.3h0M618.7 314.8h0M618.6 328.9h0M619.3 325.7h0M618.6 314.9h0M619.2 315.4h0M619.0 319.1h0M619.1 313.0h0M620.2 331.3h0M619.9 321.2h0M620.3 312.4h0M619.8 315.5h0M618.7 314.5h0M618.4 322.9h0M619.7 313.6h0M618.5 325.4h0M619.8 314.1h0M619.0 316.2h0M619.9 320.2h0M619.6 317.1h0M619.8 317.2h0M620.0 319.1h0M619.9 324.3h0M618.8 311.8h0M620.2 315.0h0M618.5 313.3h0M618.7 324.4h0M618.5 311.9h0M621.4 313.1h0M618.9 314.2h0M619.8 314.2h0M621.5 315.4h0M622.0 324.9h0M621.1 319.1h0M620.3 314.0h0M622.2 318.4h0M622.1 323.6h0M620.4 318.3h0M622.1 315.7h0M622.3 315.9h0M621.2 315.9h0M620.9 326.4h0M620.5 321.9h0M622.2 314.6h0M620.7 316.4h0M620.6 327.1h0M620.9 327.8h0M621.8 318.7h0M620.3 322.2h0M622.2 319.8h0M620.5 325.3h0M621.4 322.8h0M622.2 316.9h0M621.4 318.7h0M622.2 315.4h0M622.1 329.4h0M621.7 314.5h0M620.6 316.8h0M621.2 330.3h0M622.1 321.0h0M620.5 318.9h0M621.6 321.6h0M621.4 327.1h0M621.1 321.3h0M620.8 322.2h0M621.8 331.5h0M621.2 316.4h0M621.2 326.0h0M620.5 334.5h0M623.8 303.5h0M622.3 305.2h0M620.6 304.9h0M621.8 289.7h0M621.6 291.0h0M622.7 326.1h0M623.3 317.2h0M623.8 334.5h0M623.9 327.6h0M623.2 318.8h0M623.1 317.7h0M624.0 331.7h0M623.8 322.9h0M622.9 328.0h0M623.1 320.5h0M624.2 325.8h0M622.5 320.0h0M623.6 326.2h0M623.7 333.5h0M623.8 328.3h0M622.6 320.7h0M622.5 327.3h0M623.5 318.7h0M623.1 319.6h0M623.8 319.3h0M622.9 322.6h0M623.9 320.4h0M624.3 322.2h0M623.1 317.9h0M623.4 324.0h0M623.0 321.4h0M623.1 326.1h0M622.7 320.6h0M622.4 317.0h0M622.9 327.8h0M623.0 321.3h0M624.1 317.1h0M622.6 320.4h0M623.7 325.4h0M621.6 302.1h0M621.5 299.6h0M622.9 304.8h0M622.4 307.7h0M624.6 325.9h0M624.6 325.1h0M626.2 326.2h0M626.3 329.6h0M625.2 330.2h0M625.9 328.2h0M625.5 325.2h0M624.5 326.9h0M624.9 333.3h0M625.4 327.7h0M624.8 325.3h0M625.1 327.3h0M626.1 328.0h0M624.8 326.1h0M625.0 325.0h0M626.0 331.1h0M625.0 331.9h0M624.4 327.4h0M625.1 330.6h0M625.3 329.3h0M625.5 324.1h0M625.5 329.3h0M626.0 332.0h0M625.3 326.9h0M625.2 333.2h0M626.6 334.4h0M626.5 323.5h0M627.6 327.9h0M626.8 323.6h0M627.5 333.6h0M628.3 322.5h0M626.5 330.7h0M627.7 321.7h0M628.1 322.5h0M627.7 325.0h0M626.8 330.6h0M627.9 322.2h0M627.5 323.9h0M627.7 322.4h0M628.1 333.9h0M627.9 326.0h0M626.4 327.9h0M628.1 323.9h0M628.0 326.6h0M626.6 323.9h0M628.1 328.7h0M627.5 334.2h0M628.1 322.4h0M626.4 322.2h0M628.2 328.4h0M626.3 327.8h0M627.3 322.8h0M626.5 327.4h0M628.9 326.4h0M629.1 333.5h0M630.3 329.8h0M629.2 326.7h0M629.8 329.5h0M630.3 323.7h0M629.3 327.1h0M629.8 323.8h0M630.1 324.6h0M628.4 324.2h0M630.1 327.7h0M629.6 325.8h0M629.5 324.1h0M629.6 330.7h0M629.5 334.1h0M630.2 323.7h0M628.7 326.5h0M628.5 332.0h0M628.8 335.3h0M629.9 333.5h0M629.1 333.0h0M629.3 325.5h0M628.5 323.9h0M629.1 330.0h0M630.0 333.1h0M628.5 324.0h0M631.0 327.1h0M631.4 329.1h0M630.8 336.9h0M631.9 322.9h0M631.7 321.8h0M631.1 331.1h0M631.5 333.5h0M631.6 330.0h0M630.3 332.0h0M631.8 324.3h0M631.4 328.5h0M631.5 323.3h0M631.0 321.7h0M630.9 327.2h0M630.6 325.0h0M630.7 327.1h0M631.9 327.8h0M631.9 325.0h0M631.4 326.4h0M631.0 330.0h0M631.0 324.3h0M632.3 331.4h0M630.6 326.0h0M630.6 326.6h0M630.6 326.6h0M632.1 335.2h0M631.3 333.9h0M630.9 327.2h0M632.7 325.6h0M633.4 327.0h0M632.9 327.7h0M633.6 328.6h0M632.4 330.5h0M633.6 325.1h0M634.0 327.6h0M632.7 326.4h0M633.0 332.8h0M632.8 325.1h0M633.6 324.4h0M634.2 330.5h0M633.6 328.5h0M632.7 325.0h0M632.7 323.9h0M633.9 330.1h0M632.4 325.5h0M632.3 333.2h0M633.4 324.5h0M633.6 325.4h0M632.5 325.8h0M632.5 325.6h0M632.9 328.1h0M632.5 325.4h0M632.7 331.9h0M635.7 322.4h0M635.6 328.7h0M635.0 328.4h0M635.6 332.2h0M635.7 329.5h0M635.8 332.7h0M635.7 321.5h0M634.3 322.0h0M634.7 329.7h0M635.8 322.2h0M636.0 331.3h0M636.0 326.1h0M635.9 327.5h0M636.2 332.6h0M635.2 334.2h0M635.9 335.8h0M635.8 327.3h0M636.0 322.8h0M635.8 330.6h0M634.7 321.6h0M636.2 328.6h0M635.5 332.9h0M635.8 326.2h0M635.7 332.0h0M634.4 324.3h0M635.5 326.7h0M635.8 323.5h0M635.8 332.1h0M637.1 325.4h0M637.0 327.0h0M636.8 333.7h0M638.2 331.9h0M637.3 324.2h0M636.4 326.0h0M636.5 328.4h0M636.3 324.2h0M637.7 323.2h0M638.2 323.0h0M637.8 328.0h0M637.9 328.6h0M637.7 330.6h0M637.5 324.9h0M637.5 335.6h0M637.8 324.8h0M636.7 323.8h0M637.0 327.0h0M636.8 322.9h0M637.5 328.3h0M636.9 324.9h0M637.8 330.7h0M637.4 323.1h0M636.9 328.5h0M637.9 327.1h0M636.8 322.2h0M637.4 326.1h0M638.4 325.3h0M639.8 328.1h0M638.9 328.1h0M638.8 326.0h0M639.0 329.1h0M640.3 323.5h0M639.2 332.2h0M639.5 325.8h0M640.1 330.5h0M638.7 328.8h0M638.7 326.1h0M638.9 323.6h0M638.7 327.5h0M639.7 328.7h0M638.5 326.3h0M639.7 329.0h0M639.8 323.7h0M640.2 325.2h0M639.4 328.9h0M640.0 327.3h0M638.9 328.6h0M639.3 325.9h0M640.0 334.3h0M638.6 330.2h0M638.3 323.5h0M637.5 321.1h0M639.6 321.7h0M642.0 323.4h0M641.5 318.1h0M641.8 322.6h0M641.3 330.8h0M640.8 316.5h0M640.7 328.9h0M641.2 318.0h0M641.8 333.8h0M641.4 323.4h0M641.3 316.2h0M641.8 318.9h0M641.4 315.9h0M641.5 329.5h0M642.1 319.3h0M640.7 324.3h0M641.8 323.6h0M642.2 318.9h0M640.9 328.1h0M642.1 327.1h0M641.6 329.8h0M640.5 316.0h0M642.1 324.5h0M641.2 317.8h0M640.4 318.7h0M640.6 316.6h0M640.7 333.2h0M641.9 317.5h0M641.9 317.3h0M641.0 316.3h0M642.2 333.4h0M641.5 316.2h0M641.5 331.5h0M641.5 318.9h0M641.9 326.9h0M640.5 324.2h0M641.2 318.6h0M640.8 328.1h0M640.7 318.5h0M641.5 319.6h0M641.0 291.8h0M641.5 291.6h0M639.7 291.5h0M644.1 326.6h0M643.9 327.1h0M642.7 320.0h0M643.1 320.1h0M643.9 330.8h0M643.6 320.7h0M643.2 321.5h0M643.7 325.5h0M643.1 318.5h0M643.0 331.2h0M643.6 331.9h0M644.1 321.9h0M644.2 333.9h0M642.7 321.2h0M643.0 318.4h0M643.3 321.2h0M642.5 325.0h0M644.0 327.5h0M642.4 335.3h0M644.2 323.8h0M642.7 318.2h0M642.5 318.9h0M642.9 326.7h0M643.1 330.6h0M643.4 323.6h0M643.0 331.6h0M643.0 319.2h0M642.6 326.4h0M643.7 332.4h0M644.0 328.7h0M642.9 326.6h0M642.4 323.9h0M642.4 323.9h0M646.2 316.2h0M643.7 315.0h0M642.9 297.1h0M644.6 322.4h0M645.2 317.0h0M645.4 322.1h0M644.4 327.5h0M644.5 319.0h0M644.5 327.9h0M644.6 319.7h0M645.2 322.0h0M644.5 324.5h0M646.1 321.7h0M646.0 326.1h0M645.8 320.6h0M646.1 327.7h0M644.7 327.4h0M645.2 323.1h0M644.4 324.2h0M644.6 333.3h0M646.1 328.7h0M645.0 317.3h0M644.8 319.2h0M646.0 328.3h0M644.4 328.3h0M644.8 320.0h0M645.5 325.4h0M644.4 327.1h0M644.9 330.3h0M645.1 328.7h0M644.9 323.5h0M644.4 323.9h0M645.3 319.0h0M645.0 328.9h0M644.9 331.8h0M645.7 323.8h0M646.1 327.8h0M645.7 319.4h0M644.3 284.4h0M644.8 285.4h0M643.7 283.8h0M646.3 301.1h0M646.1 298.2h0M647.5 300.7h0M647.2 332.7h0M647.1 329.9h0M647.2 319.6h0M648.0 326.6h0M648.2 322.3h0M647.1 319.6h0M647.4 319.3h0M647.4 323.4h0M648.1 322.6h0M647.9 323.1h0M647.8 319.2h0M647.5 325.3h0M647.0 324.6h0M648.1 326.8h0M647.9 321.8h0M646.5 320.7h0M646.3 334.4h0M647.8 330.0h0M647.3 323.2h0M647.3 336.1h0M647.4 318.9h0M647.0 324.8h0M647.0 322.9h0M647.3 327.4h0M647.1 325.7h0M646.6 325.8h0M647.7 318.4h0M648.3 322.0h0M647.4 326.7h0M648.2 318.9h0M647.6 320.2h0M647.1 324.9h0M646.5 321.0h0M646.7 324.7h0M646.7 301.2h0M646.1 301.3h0M648.9 321.2h0M648.9 325.8h0M649.5 323.7h0M649.7 324.7h0M649.3 327.5h0M648.8 318.2h0M649.3 317.5h0M649.3 321.0h0M649.5 318.9h0M649.0 318.7h0M648.7 331.7h0M650.0 327.4h0M649.6 316.2h0M648.7 322.3h0M648.6 327.7h0M649.2 331.3h0M649.4 316.8h0M649.8 319.7h0M649.9 316.0h0M648.7 321.3h0M649.6 325.0h0M649.0 326.1h0M648.9 331.7h0M649.7 324.5h0M648.4 332.5h0M648.6 325.0h0M648.6 321.4h0M649.5 322.7h0M650.2 317.8h0M648.8 325.9h0M649.7 330.0h0M649.9 330.8h0M649.2 328.6h0M648.4 324.8h0M649.9 321.6h0M647.7 310.8h0M649.5 310.0h0M648.4 290.3h0M650.2 288.3h0M649.0 288.6h0M651.7 329.4h0M650.7 326.2h0M652.0 326.5h0M651.0 328.0h0M652.1 331.5h0M652.1 319.8h0M650.8 333.9h0M650.7 328.1h0M651.1 329.0h0M651.6 334.3h0M652.3 323.9h0M650.4 328.6h0M652.1 323.6h0M650.5 330.0h0M651.7 329.2h0M650.5 332.0h0M650.3 318.6h0M651.0 323.0h0M651.1 320.9h0M651.9 328.8h0M652.3 330.0h0M651.3 321.7h0M650.8 329.9h0M651.6 321.7h0M652.0 328.8h0M651.1 329.2h0M650.8 324.1h0M651.2 321.3h0M651.4 318.9h0M650.6 324.4h0M651.1 327.4h0M651.0 321.4h0M654.1 294.9h0M651.7 294.9h0M651.8 295.4h0M652.1 312.9h0M653.4 327.9h0M653.9 331.4h0M653.3 334.4h0M653.6 333.4h0M654.0 329.1h0M652.7 328.8h0M652.4 335.4h0M654.1 327.8h0M652.4 330.8h0M653.2 331.8h0M653.4 331.1h0M653.2 334.1h0M652.6 331.9h0M653.1 328.0h0M654.0 333.1h0M654.1 328.0h0M653.6 329.8h0M653.0 333.9h0M654.2 330.1h0M654.5 327.5h0M655.4 329.2h0M655.2 329.6h0M654.4 334.2h0M654.8 330.5h0M656.2 331.1h0M655.9 333.6h0M656.0 330.7h0M654.6 327.6h0M654.7 330.9h0M655.8 327.0h0M656.1 331.9h0M655.7 328.2h0M654.7 331.0h0M654.4 329.5h0M655.7 331.8h0M655.2 330.1h0M654.5 334.2h0M654.4 327.6h0M655.0 328.3h0M657.1 332.4h0M656.5 332.0h0M657.3 328.5h0M656.5 326.9h0M656.7 329.1h0M656.9 332.3h0M657.8 329.0h0M658.3 327.5h0M656.3 335.4h0M658.1 330.3h0M656.9 327.9h0M657.4 332.5h0M656.4 328.4h0M657.8 327.6h0M657.1 334.5h0M658.0 331.9h0M657.6 331.8h0M656.8 332.6h0M658.0 330.6h0M656.9 328.2h0M657.3 327.4h0M659.2 329.2h0M658.9 329.6h0M658.7 329.5h0M659.2 332.0h0M658.7 333.2h0M659.7 328.1h0M658.6 328.3h0M659.0 336.2h0M658.5 333.2h0M658.9 329.3h0M660.3 328.5h0M658.7 336.9h0M660.0 328.0h0M659.9 330.1h0M658.6 333.6h0M660.2 331.1h0M659.2 331.5h0M659.3 332.7h0M658.7 328.5h0M660.6 330.3h0M662.1 327.9h0M661.5 328.6h0M660.3 328.7h0M660.8 327.9h0M661.0 333.0h0M661.5 328.5h0M660.7 328.3h0M660.6 328.1h0M662.0 331.4h0M660.4 327.9h0M660.8 335.1h0M660.6 329.4h0M661.6 328.4h0M661.7 333.7h0M661.6 330.4h0M662.1 331.6h0M660.6 331.4h0M661.0 329.3h0M664.2 334.0h0M663.5 329.2h0M662.9 331.3h0M663.4 332.4h0M664.1 330.6h0M664.0 333.9h0M663.9 329.9h0M662.4 329.9h0M663.4 335.6h0M664.3 329.1h0M662.6 334.0h0M663.2 328.7h0M664.3 329.7h0M662.7 332.5h0M663.9 331.4h0M663.5 330.5h0M663.1 332.4h0M664.0 329.3h0M664.8 337.0h0M664.5 329.5h0M664.6 332.7h0M665.1 332.3h0M665.6 329.4h0M666.2 329.4h0M664.6 328.5h0M664.4 328.9h0M664.7 329.6h0M666.2 333.0h0M664.5 335.7h0M664.3 329.3h0M665.6 330.6h0M664.5 329.9h0M665.5 334.2h0M666.3 330.4h0M665.1 329.8h0M664.9 330.7h0M665.7 330.9h0M667.8 330.5h0M667.4 328.5h0M666.7 328.1h0M667.0 328.1h0M667.0 330.6h0M666.4 327.7h0M666.8 332.8h0M668.2 328.7h0M666.9 337.5h0M667.3 331.2h0M668.3 331.5h0M667.0 333.5h0M666.5 331.3h0M666.4 327.9h0M668.3 333.4h0M667.8 330.3h0M667.7 329.0h0M667.8 326.9h0M666.8 327.5h0M666.8 333.3h0M666.6 328.1h0M668.2 326.4h0M666.8 326.1h0M665.8 327.0h0M668.5 333.9h0M670.3 328.1h0M669.5 331.5h0M668.7 328.8h0M668.8 334.1h0M669.2 327.9h0M669.1 329.5h0M669.1 331.9h0M669.7 330.7h0M670.2 334.0h0M670.2 332.4h0M670.1 335.3h0M668.3 334.3h0M669.1 329.2h0M669.2 334.0h0M670.3 334.4h0M669.8 335.6h0M668.3 328.6h0M670.0 328.7h0M666.7 325.1h0M666.3 327.7h0M667.9 325.2h0M670.4 335.4h0M670.8 335.1h0M671.3 330.5h0M671.3 336.3h0M672.1 330.0h0M672.3 329.4h0M670.3 335.9h0M670.9 328.6h0M671.2 333.9h0M671.1 332.9h0M671.1 331.0h0M671.2 331.9h0M670.5 334.1h0M672.2 331.8h0M671.3 330.5h0M671.7 331.7h0M671.5 328.6h0M671.6 331.3h0M670.7 328.4h0M671.0 325.4h0M673.8 325.5h0M445.8 304.2h0M471.0 277.6h0M476.5 284.3h0M479.0 295.6h0M493.4 325.6h0M500.6 298.7h0M516.0 309.1h0M523.4 321.5h0M621.0 265.7h0M618.0 276.0h0M639.4 285.3h0" stroke="#2b2f62" stroke-width="4.2" stroke-linecap="round" fill="none"/>
<path d="M560.7 306.0h0M584.4 296.1h0M582.0 297.7h0M575.3 290.4h0M581.1 297.2h0M575.3 295.8h0M570.1 294.1h0M579.8 304.5h0M567.0 302.0h0M572.2 306.8h0M573.1 291.7h0M569.0 296.5h0M563.7 298.6h0M578.5 304.3h0M566.1 293.2h0M580.4 297.5h0M568.1 290.1h0M568.9 293.5h0M560.7 293.0h0M572.6 304.4h0M580.3 304.7h0M581.7 309.7h0M560.7 302.7h0M568.1 303.1h0M580.2 303.1h0M574.1 298.6h0M576.1 310.9h0M567.1 302.7h0M582.0 297.9h0M576.3 304.6h0M591.1 303.0h0M589.6 303.2h0M604.9 303.6h0M596.6 295.3h0M588.8 285.9h0M609.4 297.5h0M591.1 286.1h0M601.0 287.1h0M608.0 293.8h0M598.3 288.8h0M600.0 302.1h0M607.0 286.3h0M600.8 283.7h0M601.1 308.4h0M607.5 283.7h0M605.0 283.8h0M587.9 290.7h0M593.8 287.0h0M601.5 286.8h0M600.2 301.3h0M592.5 284.1h0M596.7 292.0h0M607.9 299.1h0M587.3 291.7h0M604.4 300.8h0M597.3 301.4h0M599.2 308.9h0M610.1 306.8h0M587.6 302.0h0M605.3 284.0h0M609.5 301.3h0M596.8 304.3h0M590.8 286.6h0M587.4 307.6h0M606.4 296.8h0M596.4 291.5h0M591.5 286.3h0M608.7 287.0h0M590.2 301.1h0M589.3 301.3h0M619.6 274.5h0M619.6 307.2h0M618.0 316.3h0M613.8 281.5h0M620.3 280.0h0M615.2 293.5h0M611.8 281.2h0M617.9 292.9h0M616.4 306.7h0M621.6 308.4h0M619.6 276.8h0M617.7 301.6h0M618.5 290.8h0M621.6 273.5h0M630.4 320.0h0M631.5 317.1h0M629.2 314.0h0M639.3 320.2h0M634.7 312.1h0M628.9 312.1h0M628.7 317.8h0M634.0 314.4h0M635.0 318.4h0M635.6 316.5h0M632.4 315.4h0M638.2 319.2h0M628.2 316.1h0M638.1 318.3h0M638.2 312.3h0M638.2 312.7h0M644.0 318.6h0M646.4 318.5h0M647.0 282.0h0M644.2 284.9h0M645.8 302.0h0M645.0 295.9h0M644.5 298.8h0M642.6 285.7h0M650.2 305.1h0M649.1 286.6h0M665.0 328.3h0M666.4 324.9h0M665.5 327.7h0M655.6 323.7h0M661.1 326.4h0M653.0 305.3h0M655.1 316.5h0M669.0 308.1h0M658.7 318.5h0M658.6 320.2h0M666.9 318.2h0M653.8 316.7h0M659.6 314.0h0M659.4 319.3h0M652.1 327.8h0M657.7 307.9h0M669.0 318.3h0M653.7 325.0h0M671.4 328.0h0M662.0 306.7h0M656.1 326.8h0M654.0 327.8h0M662.0 325.9h0M663.7 318.3h0M657.7 319.3h0M657.6 318.4h0M653.3 312.7h0M652.4 315.1h0M663.2 322.7h0M654.2 320.5h0M657.8 319.0h0M666.0 324.2h0M664.3 310.5h0M658.0 302.9h0M671.5 323.3h0M666.0 318.6h0M658.5 321.3h0M664.4 321.2h0M662.4 314.1h0M653.6 306.4h0M666.5 307.0h0M663.7 308.2h0M666.8 311.4h0M664.1 307.7h0M664.9 311.7h0M550.3 304.1h0M559.4 309.8h0M551.1 298.8h0M534.6 309.9h0M539.2 309.5h0M531.5 305.7h0M590.6 284.6h0M606.9 282.5h0M601.9 279.8h0M592.1 291.2h0M606.3 272.3h0M595.2 278.1h0M605.1 282.6h0M611.8 291.1h0M611.6 289.8h0M606.5 282.6h0M610.4 275.9h0M591.1 291.3h0M592.8 291.4h0M591.9 283.3h0M604.7 280.7h0M594.1 290.4h0M630.5 279.9h0M651.6 287.8h0M644.4 275.7h0M646.5 269.5h0M646.0 267.2h0M640.7 279.8h0M637.0 286.7h0M630.9 286.2h0M633.3 241.4h0M635.6 242.2h0M631.0 268.2h0M640.2 270.5h0M651.0 275.9h0M647.9 274.4h0M575.0 282.0h0M587.0 279.0h0" stroke="#74c5ec" stroke-width="4.2" stroke-linecap="round" fill="none"/>
<path d="M557.4 308.9h0M558.5 310.5h0M563.9 303.2h0M565.4 296.2h0M567.1 307.7h0M569.1 305.4h0M571.0 305.0h0M574.1 305.0h0M575.3 305.9h0M578.2 304.9h0M578.1 310.0h0M583.0 306.1h0M585.1 295.9h0M583.4 298.6h0M586.5 288.4h0M593.9 294.9h0M594.1 307.4h0M598.1 297.8h0M599.0 306.7h0M598.9 305.4h0M601.4 292.3h0M602.1 302.5h0M599.8 301.0h0M601.8 299.3h0M605.7 297.6h0M602.5 295.5h0M604.9 295.0h0M606.8 295.3h0M604.6 297.3h0M609.2 293.3h0M608.7 291.5h0M613.6 314.7h0M610.1 276.3h0M612.1 300.4h0M613.9 311.0h0M616.4 309.3h0M618.1 311.8h0M617.9 312.4h0M620.7 313.8h0M622.0 291.0h0M624.9 300.7h0M623.1 302.1h0M639.1 321.2h0M641.5 318.2h0M645.2 314.7h0M644.2 299.8h0M642.6 298.5h0M644.6 318.4h0M647.1 319.1h0M650.0 318.2h0M646.6 302.6h0M649.5 310.0h0M652.1 308.0h0M650.6 312.7h0M672.4 321.9h0" stroke="#2b2f62" stroke-width="4.2" stroke-linecap="round" fill="none"/>
<path d="M625.6 256.0h0M635.6 256.0h0M613.4 261.3h0M619.5 282.0h0M644.0 296.8h0M650.7 305.4h0M641.0 278.6h0M608.0 272.0h0M611.0 268.0h0M612.2 260.4h0M617.7 257.8h0M629.0 271.1h0M612.0 254.4h0M626.4 266.3h0M613.9 272.3h0M621.9 255.8h0M620.6 261.5h0M624.8 254.6h0M621.3 254.2h0M612.4 264.9h0M621.4 255.4h0M624.2 258.6h0M631.7 269.6h0M625.1 266.9h0M614.9 271.0h0M629.6 255.3h0M627.2 263.8h0M614.9 272.9h0M616.4 267.0h0M623.5 257.5h0M620.1 270.1h0M628.4 262.0h0M610.0 269.3h0M613.9 271.8h0M610.2 259.4h0M622.3 280.2h0M614.5 288.4h0M613.2 273.0h0M614.4 277.4h0M619.0 281.4h0M615.6 281.3h0M623.5 281.5h0M622.8 282.2h0M640.4 275.0h0M642.6 277.2h0M645.2 269.0h0M654.2 288.3h0M654.2 270.1h0M639.9 289.9h0M643.2 279.0h0M639.5 269.4h0M648.3 278.5h0M647.3 281.0h0M643.8 282.6h0M654.3 264.6h0M642.3 286.9h0M651.3 289.9h0M647.0 265.7h0M639.2 282.3h0M647.1 283.7h0M648.7 269.0h0M653.5 287.4h0M651.2 270.7h0" stroke="#5db945" stroke-width="4.2" stroke-linecap="round" fill="none"/>
<path d="M630.6 227.6h0M623.4 234.5h0M623.4 236.8h0M632.5 229.9h0M641.7 251.4h0M642.5 256.0h0M640.2 258.3h0M621.8 256.0h0M630.2 255.2h0M646.3 264.4h0M647.1 267.5h0M644.0 262.0h0M628.1 248.9h0M627.4 252.2h0M635.3 251.7h0M630.3 245.0h0M640.1 248.4h0M631.8 247.9h0M630.1 250.9h0M634.2 245.3h0M637.4 251.5h0M634.5 245.9h0M629.8 249.1h0M625.8 251.9h0M631.7 245.1h0M626.0 249.7h0M639.8 247.8h0M634.2 252.4h0M632.1 249.9h0M631.5 248.8h0M625.9 250.2h0M630.3 252.1h0M633.3 248.3h0M635.5 246.4h0M638.3 244.8h0M629.5 249.3h0M632.1 247.5h0M638.5 251.9h0M637.1 248.5h0M629.2 249.5h0M645.5 263.5h0M647.5 266.5h0M644.5 268.0h0M648.5 262.5h0M646.0 270.0h0" stroke="#f7a033" stroke-width="4.2" stroke-linecap="round" fill="none"/>
<path d="M627.2 222.3h0M630.2 221.5h0M627.5 224.6h0M631.8 229.9h0M631.0 233.0h0M631.8 234.5h0M637.9 229.9h0M639.4 231.5h0M629.0 239.9h0M641.0 230.7h0" stroke="#e8282a" stroke-width="4.2" stroke-linecap="round" fill="none"/>
<line x1="615.3" y1="213" x2="615.3" y2="344.1" stroke="#d44a4a" stroke-width="0.75" stroke-dasharray="10 8"/>
<line x1="648.7" y1="213" x2="648.7" y2="344.1" stroke="#d44a4a" stroke-width="0.75" stroke-dasharray="10 8"/>
<path d="M628.7 216.3L631.7 221.0L625.7 221.0Z" fill="#e8282a" stroke="#000" stroke-width="0.9"/>
<path d="M637.1 231.1L639.4 233.4L637.1 235.7L634.8 233.4Z" fill="#e8282a" stroke="#000" stroke-width="1.1"/>
<path d="M623.0 247.9L625.3 250.2L623.0 252.5L620.7 250.2Z" fill="#f7a033" stroke="#000" stroke-width="1.1"/>
<path d="M621.4 273.3L623.7 275.6L621.4 277.9L619.1 275.6Z" fill="#5db945" stroke="#000" stroke-width="1.1"/>
<text x="586.2" y="211.8" font-size="8.26" fill="#111">lead SNP: rs314511712</text>
<text x="634.5" y="240.6" font-size="8.2" fill="#111">rs10730210</text>
<text x="613.8" y="252.7" font-size="8.2" text-anchor="end" fill="#111">rs16207879</text>
<text x="613" y="276.8" font-size="8.2" text-anchor="end" fill="#111">rs734773177</text>
<line x1="384.3" y1="212.9" x2="384.3" y2="344.1" stroke="#333" stroke-width="0.75"/>
<line x1="384.3" y1="344.1" x2="685" y2="344.1" stroke="#333" stroke-width="0.75"/>
<line x1="382.7" y1="338" x2="384.3" y2="338" stroke="#333" stroke-width="0.6"/>
<text x="381.8" y="340.7" font-size="7.6" text-anchor="end" fill="#222">0</text>
<line x1="382.7" y1="307.01" x2="384.3" y2="307.01" stroke="#333" stroke-width="0.6"/>
<text x="381.8" y="309.71" font-size="7.6" text-anchor="end" fill="#222">3</text>
<line x1="382.7" y1="276.02" x2="384.3" y2="276.02" stroke="#333" stroke-width="0.6"/>
<text x="381.8" y="278.72" font-size="7.6" text-anchor="end" fill="#222">6</text>
<line x1="382.7" y1="245.03" x2="384.3" y2="245.03" stroke="#333" stroke-width="0.6"/>
<text x="381.8" y="247.73" font-size="7.6" text-anchor="end" fill="#222">9</text>
<line x1="382.7" y1="214.04" x2="384.3" y2="214.04" stroke="#333" stroke-width="0.6"/>
<text x="381.8" y="216.74" font-size="7.6" text-anchor="end" fill="#222">12</text>
<line x1="392.9" y1="344.1" x2="392.9" y2="345.7" stroke="#333" stroke-width="0.6"/>
<text x="392.9" y="353.6" font-size="8.2" text-anchor="middle" fill="#222">5.0</text>
<line x1="501.65" y1="344.1" x2="501.65" y2="345.7" stroke="#333" stroke-width="0.6"/>
<text x="501.65" y="353.6" font-size="8.2" text-anchor="middle" fill="#222">5.5</text>
<line x1="610.4" y1="344.1" x2="610.4" y2="345.7" stroke="#333" stroke-width="0.6"/>
<text x="610.4" y="353.6" font-size="8.2" text-anchor="middle" fill="#222">6.0</text>
<text x="392.6" y="218.2" font-size="9.06" fill="#111">Shank length at 6 weeks of age (cm)</text>
<rect x="397.8" y="229.7" width="5.1" height="5" fill="#2b2f62"/>
<text x="409.8" y="235.1" font-size="8" fill="#222">0.0</text>
<rect x="397.8" y="237.5" width="5.1" height="5" fill="#2b2f62"/>
<text x="409.8" y="242.9" font-size="8" fill="#222">0.2</text>
<rect x="397.8" y="245.3" width="5.1" height="5" fill="#74c5ec"/>
<text x="409.8" y="250.7" font-size="8" fill="#222">0.4</text>
<rect x="397.8" y="253.1" width="5.1" height="5" fill="#5db945"/>
<text x="409.8" y="258.5" font-size="8" fill="#222">0.6</text>
<rect x="397.8" y="260.9" width="5.1" height="5" fill="#f7a033"/>
<text x="409.8" y="266.3" font-size="8" fill="#222">0.8</text>
<rect x="397.8" y="268.7" width="5.1" height="5" fill="#e8282a"/>
<text x="409.8" y="274.1" font-size="8" fill="#222">1.0</text>
<text transform="translate(366.8 282.7) rotate(-90)" font-size="9.85" fill="#111" text-anchor="middle">-log<tspan font-size="6" dy="2.2">10</tspan><tspan dy="-2.2">(</tspan><tspan font-style="italic">P</tspan><tspan font-size="5.6" dy="2.7">GWAS</tspan><tspan dy="-2.7">)</tspan></text>
<text x="526" y="380.2" font-size="9.94" text-anchor="middle" fill="#111">Chromosome 27 position (Mb)</text>
<line x1="398.1" y1="359.3" x2="405" y2="359.3" stroke="#111" stroke-width="0.8"/>
<text x="389.8" y="369" font-size="8.3" fill="#e03a3a" font-style="italic">KCNH6</text>
<circle cx="626.3" cy="351.4" r="0.5" fill="#111"/>
<text x="627" y="359.1" font-size="8" text-anchor="middle" fill="#111" font-style="italic">GIP</text>
<line x1="618" y1="362.2" x2="623" y2="362.2" stroke="#111" stroke-width="0.7"/>
<text x="616.8" y="369.9" font-size="8.3" text-anchor="middle" fill="#e03a3a" font-style="italic">IGF2BP1</text>
<circle cx="646.5" cy="361.5" r="0.5" fill="#111"/>
<text x="646" y="367.8" font-size="8.3" fill="#e03a3a" font-style="italic">HOXB7</text>
<text x="341.8" y="383" font-size="10.5" fill="#000" font-weight="bold">j</text>
<line x1="369.1" y1="399.9" x2="369.1" y2="482.9" stroke="#333" stroke-width="0.75"/>
<line x1="369.1" y1="482.9" x2="458.6" y2="482.9" stroke="#333" stroke-width="0.75"/>
<line x1="367.5" y1="480.1" x2="369.1" y2="480.1" stroke="#333" stroke-width="0.6"/>
<text x="367.2" y="482.8" font-size="7.6" text-anchor="end" fill="#222">-2</text>
<line x1="367.5" y1="454.7" x2="369.1" y2="454.7" stroke="#333" stroke-width="0.6"/>
<text x="367.2" y="457.4" font-size="7.6" text-anchor="end" fill="#222">0</text>
<line x1="367.5" y1="429.3" x2="369.1" y2="429.3" stroke="#333" stroke-width="0.6"/>
<text x="367.2" y="432" font-size="7.6" text-anchor="end" fill="#222">2</text>
<line x1="367.5" y1="403.9" x2="369.1" y2="403.9" stroke="#333" stroke-width="0.6"/>
<text x="367.2" y="406.6" font-size="7.6" text-anchor="end" fill="#222">4</text>
<text x="378.7" y="403.1" font-size="7.4" fill="#222">|Slope| = 0.20</text>
<text x="378.7" y="410.3" font-size="7.4" fill="#222">P<tspan font-size="4.3" dy="1.8">eQTL</tspan><tspan dy="-1.8"> = 2.63×10</tspan><tspan font-size="4.5" dy="-2.6">-6</tspan></text>
<text transform="translate(356.6 441.5) rotate(-90)" font-size="7.3" fill="#111" text-anchor="middle">Nor. TMM (<tspan font-style="italic">IGF2BP1</tspan> in Muscle)</text>
<path d="M385.1 424.5L384.9 425.1L384.9 425.6L384.8 426.2L384.7 426.8L384.6 427.3L384.5 427.9L384.4 428.4L384.3 429.0L384.2 429.6L384.1 430.1L383.9 430.7L383.8 431.2L383.6 431.8L383.4 432.4L383.3 432.9L383.1 433.5L382.9 434.1L382.6 434.6L382.4 435.2L382.2 435.8L382.0 436.3L381.8 436.9L381.6 437.4L381.4 438.0L381.2 438.6L381.0 439.1L380.8 439.7L380.6 440.2L380.4 440.8L380.2 441.4L380.1 441.9L379.9 442.5L379.7 443.1L379.5 443.6L379.4 444.2L379.2 444.8L379.1 445.3L379.0 445.9L378.9 446.4L378.9 447.0L378.8 447.6L378.8 448.1L378.7 448.7L378.6 449.2L378.6 449.8L378.6 450.4L378.6 450.9L378.6 451.5L378.6 452.1L378.7 452.6L378.7 453.2L378.8 453.8L378.9 454.3L379.0 454.9L379.1 455.4L379.2 456.0L379.3 456.6L379.5 457.1L379.6 457.7L379.8 458.2L380.0 458.8L380.2 459.4L380.5 459.9L380.7 460.5L381.0 461.1L381.2 461.6L381.5 462.2L381.8 462.8L382.1 463.3L382.3 463.9L382.6 464.4L382.9 465.0L383.2 465.6L383.4 466.1L383.7 466.7L383.9 467.2L384.2 467.8L384.4 468.4L384.6 468.9L385.0 469.5L385.8 469.5L386.2 468.9L386.4 468.4L386.6 467.8L386.9 467.2L387.1 466.7L387.4 466.1L387.6 465.6L387.9 465.0L388.2 464.4L388.5 463.9L388.7 463.3L389.0 462.8L389.3 462.2L389.5 461.6L389.8 461.1L390.1 460.5L390.3 459.9L390.6 459.4L390.8 458.8L391.0 458.2L391.2 457.7L391.3 457.1L391.5 456.6L391.6 456.0L391.7 455.4L391.8 454.9L391.9 454.3L392.0 453.8L392.1 453.2L392.1 452.6L392.2 452.1L392.2 451.5L392.2 450.9L392.2 450.4L392.2 449.8L392.2 449.2L392.1 448.7L392.0 448.1L392.0 447.6L391.9 447.0L391.9 446.4L391.8 445.9L391.7 445.3L391.6 444.8L391.4 444.2L391.3 443.6L391.1 443.1L390.9 442.5L390.7 441.9L390.5 441.4L390.4 440.8L390.2 440.2L390.0 439.7L389.8 439.1L389.6 438.6L389.4 438.0L389.2 437.4L389.0 436.9L388.8 436.3L388.6 435.8L388.4 435.2L388.1 434.6L387.9 434.1L387.7 433.5L387.5 432.9L387.4 432.4L387.2 431.8L387.0 431.2L386.9 430.7L386.7 430.1L386.6 429.6L386.5 429.0L386.4 428.4L386.3 427.9L386.2 427.3L386.1 426.8L386.0 426.2L385.9 425.6L385.9 425.1L385.7 424.5Z" fill="#d9262a"/>
<line x1="385.4" y1="425.5" x2="385.4" y2="468.8" stroke="#111" stroke-width="0.8"/>
<line x1="381.1" y1="425.5" x2="389.7" y2="425.5" stroke="#111" stroke-width="0.9"/>
<line x1="381.1" y1="468.8" x2="389.7" y2="468.8" stroke="#111" stroke-width="0.9"/>
<rect x="383.5" y="444.4" width="3.8" height="12.7" fill="none" stroke="#222" stroke-width="0.55"/>
<line x1="383.5" y1="452" x2="387.3" y2="452" stroke="#111" stroke-width="0.8"/>
<circle cx="385.4" cy="423.0" r="0.7" fill="#111"/><circle cx="385.4" cy="478.8" r="0.7" fill="#111"/>
<path d="M413.4 432.5L413.0 433.1L412.9 433.7L412.7 434.3L412.5 434.8L412.3 435.4L412.2 436.0L412.0 436.6L411.8 437.2L411.6 437.8L411.5 438.3L411.3 438.9L411.2 439.5L411.1 440.1L410.9 440.7L410.8 441.3L410.7 441.8L410.6 442.4L410.4 443.0L410.3 443.6L410.2 444.2L410.1 444.8L409.9 445.3L409.8 445.9L409.6 446.5L409.5 447.1L409.3 447.7L409.1 448.3L408.9 448.8L408.8 449.4L408.6 450.0L408.4 450.6L408.2 451.2L408.0 451.8L407.8 452.3L407.6 452.9L407.5 453.5L407.3 454.1L407.2 454.7L407.0 455.3L407.0 455.9L406.9 456.4L406.9 457.0L406.9 457.6L406.9 458.2L407.0 458.8L407.0 459.4L407.1 459.9L407.2 460.5L407.3 461.1L407.5 461.7L407.6 462.3L407.8 462.9L408.1 463.4L408.3 464.0L408.5 464.6L408.8 465.2L409.0 465.8L409.2 466.4L409.5 466.9L409.7 467.5L410.0 468.1L410.2 468.7L410.4 469.3L410.7 469.9L410.9 470.4L411.1 471.0L411.4 471.6L411.6 472.2L411.8 472.8L412.0 473.4L412.2 473.9L412.4 474.5L412.5 475.1L412.7 475.7L412.8 476.3L412.9 476.9L413.0 477.4L413.1 478.0L413.2 478.6L413.4 479.2L414.0 479.2L414.2 478.6L414.3 478.0L414.4 477.4L414.5 476.9L414.6 476.3L414.7 475.7L414.9 475.1L415.0 474.5L415.2 473.9L415.4 473.4L415.6 472.8L415.8 472.2L416.0 471.6L416.3 471.0L416.5 470.4L416.7 469.9L417.0 469.3L417.2 468.7L417.4 468.1L417.7 467.5L417.9 466.9L418.2 466.4L418.4 465.8L418.6 465.2L418.9 464.6L419.1 464.0L419.3 463.4L419.6 462.9L419.8 462.3L419.9 461.7L420.1 461.1L420.2 460.5L420.3 459.9L420.4 459.4L420.4 458.8L420.5 458.2L420.5 457.6L420.5 457.0L420.5 456.4L420.4 455.9L420.4 455.3L420.2 454.7L420.1 454.1L419.9 453.5L419.8 452.9L419.6 452.3L419.4 451.8L419.2 451.2L419.0 450.6L418.8 450.0L418.6 449.4L418.5 448.8L418.3 448.3L418.1 447.7L417.9 447.1L417.8 446.5L417.6 445.9L417.5 445.3L417.3 444.8L417.2 444.2L417.1 443.6L416.9 443.0L416.8 442.4L416.7 441.8L416.6 441.3L416.4 440.7L416.3 440.1L416.2 439.5L416.1 438.9L415.9 438.3L415.8 437.8L415.6 437.2L415.4 436.6L415.2 436.0L415.1 435.4L414.9 434.8L414.7 434.3L414.5 433.7L414.4 433.1L414.0 432.5Z" fill="#3a7fc0"/>
<line x1="413.7" y1="433.1" x2="413.7" y2="479.2" stroke="#111" stroke-width="0.8"/>
<line x1="409.4" y1="433.1" x2="418" y2="433.1" stroke="#111" stroke-width="0.9"/>
<line x1="409.4" y1="479.2" x2="418" y2="479.2" stroke="#111" stroke-width="0.9"/>
<rect x="411.8" y="449.3" width="3.8" height="14.7" fill="none" stroke="#222" stroke-width="0.55"/>
<line x1="411.8" y1="455.7" x2="415.6" y2="455.7" stroke="#111" stroke-width="0.8"/>
<circle cx="413.7" cy="421.8" r="0.7" fill="#111"/>
<circle cx="413.7" cy="423.6" r="0.7" fill="#111"/>
<circle cx="413.7" cy="425.6" r="0.7" fill="#111"/>
<path d="M441.8 434.5L441.7 435.1L441.6 435.6L441.6 436.2L441.5 436.7L441.4 437.3L441.4 437.9L441.3 438.4L441.2 439.0L441.1 439.5L441.1 440.1L441.0 440.6L440.9 441.2L440.8 441.8L440.8 442.3L440.7 442.9L440.6 443.4L440.5 444.0L440.4 444.6L440.4 445.1L440.3 445.7L440.2 446.2L440.1 446.8L440.0 447.4L439.9 447.9L439.8 448.5L439.7 449.0L439.6 449.6L439.5 450.1L439.4 450.7L439.2 451.3L439.1 451.8L439.0 452.4L438.9 452.9L438.8 453.5L438.6 454.1L438.5 454.6L438.4 455.2L438.2 455.7L438.1 456.3L438.0 456.9L437.9 457.4L437.7 458.0L437.6 458.5L437.5 459.1L437.3 459.6L437.2 460.2L437.0 460.8L436.9 461.3L436.7 461.9L436.6 462.4L436.4 463.0L436.2 463.6L436.1 464.1L435.9 464.7L435.8 465.2L435.6 465.8L435.5 466.3L435.4 466.9L435.2 467.5L435.1 468.0L435.1 468.6L435.0 469.1L434.9 469.7L434.9 470.3L434.9 470.8L434.9 471.4L434.8 471.9L434.8 472.5L434.8 473.1L434.8 473.6L434.9 474.2L434.9 474.7L435.0 475.3L435.1 475.8L435.2 476.4L435.4 477.0L435.5 477.5L435.6 478.1L435.7 478.6L435.8 479.2L448.2 479.2L448.3 478.6L448.4 478.1L448.5 477.5L448.6 477.0L448.8 476.4L448.9 475.8L449.0 475.3L449.1 474.7L449.1 474.2L449.2 473.6L449.2 473.1L449.2 472.5L449.2 471.9L449.1 471.4L449.1 470.8L449.1 470.3L449.1 469.7L449.0 469.1L448.9 468.6L448.9 468.0L448.8 467.5L448.6 466.9L448.5 466.3L448.4 465.8L448.2 465.2L448.1 464.7L447.9 464.1L447.8 463.6L447.6 463.0L447.4 462.4L447.3 461.9L447.1 461.3L447.0 460.8L446.8 460.2L446.7 459.6L446.5 459.1L446.4 458.5L446.3 458.0L446.1 457.4L446.0 456.9L445.9 456.3L445.8 455.7L445.6 455.2L445.5 454.6L445.4 454.1L445.2 453.5L445.1 452.9L445.0 452.4L444.9 451.8L444.8 451.3L444.6 450.7L444.5 450.1L444.4 449.6L444.3 449.0L444.2 448.5L444.1 447.9L444.0 447.4L443.9 446.8L443.8 446.2L443.7 445.7L443.6 445.1L443.6 444.6L443.5 444.0L443.4 443.4L443.3 442.9L443.2 442.3L443.2 441.8L443.1 441.2L443.0 440.6L442.9 440.1L442.9 439.5L442.8 439.0L442.7 438.4L442.6 437.9L442.6 437.3L442.5 436.7L442.4 436.2L442.4 435.6L442.3 435.1L442.2 434.5Z" fill="#4daf4a"/>
<line x1="442" y1="435" x2="442" y2="479.2" stroke="#111" stroke-width="0.8"/>
<line x1="437.7" y1="435" x2="446.3" y2="435" stroke="#111" stroke-width="0.9"/>
<line x1="437.7" y1="479.2" x2="446.3" y2="479.2" stroke="#111" stroke-width="0.9"/>
<rect x="440.1" y="456" width="3.8" height="16.3" fill="none" stroke="#222" stroke-width="0.55"/>
<line x1="440.1" y1="465" x2="443.9" y2="465" stroke="#111" stroke-width="0.8"/>
<circle cx="442.0" cy="426.4" r="0.7" fill="#111"/>
<line x1="385.4" y1="482.9" x2="385.4" y2="484.5" stroke="#333" stroke-width="0.6"/>
<text x="385.4" y="490.8" font-size="7.6" text-anchor="middle" fill="#222">C/C</text>
<line x1="413.7" y1="482.9" x2="413.7" y2="484.5" stroke="#333" stroke-width="0.6"/>
<text x="413.7" y="490.8" font-size="7.6" text-anchor="middle" fill="#222">T/C</text>
<line x1="442" y1="482.9" x2="442" y2="484.5" stroke="#333" stroke-width="0.6"/>
<text x="442" y="490.8" font-size="7.6" text-anchor="middle" fill="#222">T/T</text>
<text x="412.7" y="500.2" font-size="7.6" text-anchor="middle" fill="#222">rs10730210 genotypes</text>
<text x="348" y="510.6" font-size="8.06" fill="#111">Distance to</text>
<text x="348" y="520.2" font-size="8.06" fill="#111">lead SNP</text>
<text x="391.3" y="517.8" font-size="8.2" fill="#111"><tspan font-style="italic">IGF2BP1</tspan> (7.5 kb)</text>
<line x1="479.2" y1="402.8" x2="479.2" y2="482.1" stroke="#333" stroke-width="0.75"/>
<line x1="479.2" y1="482.1" x2="567.6" y2="482.1" stroke="#333" stroke-width="0.75"/>
<line x1="477.6" y1="466.9" x2="479.2" y2="466.9" stroke="#333" stroke-width="0.6"/>
<text x="476.6" y="469.6" font-size="7.6" text-anchor="end" fill="#222">0</text>
<line x1="477.6" y1="450.5" x2="479.2" y2="450.5" stroke="#333" stroke-width="0.6"/>
<text x="476.6" y="453.2" font-size="7.6" text-anchor="end" fill="#222">1</text>
<line x1="477.6" y1="434.1" x2="479.2" y2="434.1" stroke="#333" stroke-width="0.6"/>
<text x="476.6" y="436.8" font-size="7.6" text-anchor="end" fill="#222">2</text>
<line x1="477.6" y1="417.7" x2="479.2" y2="417.7" stroke="#333" stroke-width="0.6"/>
<text x="476.6" y="420.4" font-size="7.6" text-anchor="end" fill="#222">3</text>
<text x="485.5" y="402.9" font-size="7.4" fill="#222">|Slope| = 0.51</text>
<text x="485.5" y="411.3" font-size="7.4" fill="#222">P<tspan font-size="4.3" dy="1.8">eQTL</tspan><tspan dy="-1.8"> = 1.05×10</tspan><tspan font-size="4.5" dy="-2.6">-5</tspan></text>
<text transform="translate(467.6 443.0) rotate(-90)" font-size="7.3" fill="#111" text-anchor="middle">Nor. TMM (<tspan font-style="italic">HOXB7</tspan> in Embryo)</text>
<path d="M495.0 421.0L494.7 421.7L494.6 422.4L494.4 423.2L494.3 423.9L494.1 424.6L493.9 425.3L493.8 426.0L493.6 426.8L493.4 427.5L493.2 428.2L493.0 428.9L492.8 429.7L492.6 430.4L492.4 431.1L492.1 431.8L491.9 432.5L491.6 433.3L491.4 434.0L491.1 434.7L490.9 435.4L490.6 436.1L490.4 436.9L490.2 437.6L489.9 438.3L489.7 439.0L489.4 439.8L489.2 440.5L489.0 441.2L488.8 441.9L488.6 442.6L488.4 443.4L488.3 444.1L488.1 444.8L488.0 445.5L487.8 446.2L487.6 447.0L487.5 447.7L487.3 448.4L487.2 449.1L487.0 449.9L486.9 450.6L486.8 451.3L486.7 452.0L486.6 452.7L486.5 453.5L486.5 454.2L486.5 454.9L486.5 455.6L486.5 456.3L486.5 457.1L486.6 457.8L486.6 458.5L486.7 459.2L486.7 459.9L486.8 460.7L487.0 461.4L487.1 462.1L487.3 462.8L487.5 463.6L487.8 464.3L488.0 465.0L488.3 465.7L488.6 466.4L488.8 467.2L489.1 467.9L489.4 468.6L489.7 469.3L490.0 470.0L490.3 470.8L490.7 471.5L491.0 472.2L491.3 472.9L491.7 473.7L492.0 474.4L492.4 475.1L492.7 475.8L493.1 476.5L493.3 477.3L493.6 478.0L493.8 478.7L497.0 478.7L497.2 478.0L497.5 477.3L497.7 476.5L498.1 475.8L498.4 475.1L498.8 474.4L499.1 473.7L499.5 472.9L499.8 472.2L500.1 471.5L500.5 470.8L500.8 470.0L501.1 469.3L501.4 468.6L501.7 467.9L502.0 467.2L502.2 466.4L502.5 465.7L502.8 465.0L503.0 464.3L503.3 463.6L503.5 462.8L503.7 462.1L503.8 461.4L504.0 460.7L504.1 459.9L504.1 459.2L504.2 458.5L504.2 457.8L504.2 457.1L504.3 456.3L504.3 455.6L504.3 454.9L504.3 454.2L504.3 453.5L504.2 452.7L504.1 452.0L504.0 451.3L503.9 450.6L503.8 449.9L503.6 449.1L503.5 448.4L503.3 447.7L503.1 447.0L503.0 446.2L502.8 445.5L502.7 444.8L502.5 444.1L502.4 443.4L502.2 442.6L502.0 441.9L501.8 441.2L501.6 440.5L501.4 439.8L501.1 439.0L500.9 438.3L500.6 437.6L500.4 436.9L500.1 436.1L499.9 435.4L499.6 434.7L499.4 434.0L499.2 433.3L498.9 432.5L498.7 431.8L498.4 431.1L498.2 430.4L498.0 429.7L497.8 428.9L497.6 428.2L497.4 427.5L497.2 426.8L497.0 426.0L496.8 425.3L496.7 424.6L496.5 423.9L496.4 423.2L496.2 422.4L496.1 421.7L495.8 421.0Z" fill="#d9262a"/>
<line x1="495.4" y1="421" x2="495.4" y2="478.7" stroke="#111" stroke-width="0.8"/>
<line x1="491.1" y1="421" x2="499.7" y2="421" stroke="#111" stroke-width="0.9"/>
<line x1="491.1" y1="478.7" x2="499.7" y2="478.7" stroke="#111" stroke-width="0.9"/>
<rect x="493.5" y="444" width="3.8" height="21" fill="none" stroke="#222" stroke-width="0.55"/>
<line x1="493.5" y1="453.8" x2="497.3" y2="453.8" stroke="#111" stroke-width="0.8"/>
<path d="M521.7 435.0L520.5 435.5L520.0 436.1L519.5 436.6L518.9 437.2L518.3 437.7L517.7 438.3L517.1 438.8L516.6 439.4L516.0 439.9L515.5 440.5L515.1 441.0L514.6 441.6L514.2 442.1L513.8 442.6L513.5 443.2L513.3 443.7L513.2 444.3L513.1 444.8L513.0 445.4L513.1 445.9L513.1 446.5L513.2 447.0L513.3 447.6L513.4 448.1L513.5 448.7L513.6 449.2L513.7 449.7L513.9 450.3L514.1 450.8L514.3 451.4L514.5 451.9L514.7 452.5L515.0 453.0L515.2 453.6L515.4 454.1L515.7 454.7L515.9 455.2L516.1 455.8L516.3 456.3L516.4 456.9L516.5 457.4L516.5 457.9L516.5 458.5L516.5 459.0L516.5 459.6L516.5 460.1L516.4 460.7L516.3 461.2L516.3 461.8L516.2 462.3L516.1 462.9L515.9 463.4L515.7 464.0L515.5 464.5L515.2 465.0L514.9 465.6L514.6 466.1L514.3 466.7L514.0 467.2L513.7 467.8L513.4 468.3L513.2 468.9L513.0 469.4L512.8 470.0L512.7 470.5L512.7 471.1L512.7 471.6L512.7 472.1L512.7 472.7L512.8 473.2L512.9 473.8L513.0 474.3L513.1 474.9L513.2 475.4L513.4 476.0L513.6 476.5L513.9 477.1L514.2 477.6L514.4 478.2L514.7 478.7L529.7 478.7L530.0 478.2L530.2 477.6L530.5 477.1L530.8 476.5L531.0 476.0L531.2 475.4L531.3 474.9L531.4 474.3L531.5 473.8L531.6 473.2L531.7 472.7L531.7 472.1L531.7 471.6L531.7 471.1L531.7 470.5L531.6 470.0L531.4 469.4L531.2 468.9L531.0 468.3L530.7 467.8L530.4 467.2L530.1 466.7L529.8 466.1L529.5 465.6L529.2 465.0L528.9 464.5L528.7 464.0L528.5 463.4L528.3 462.9L528.2 462.3L528.1 461.8L528.1 461.2L528.0 460.7L528.0 460.1L527.9 459.6L527.9 459.0L527.9 458.5L527.9 457.9L527.9 457.4L528.0 456.9L528.1 456.3L528.3 455.8L528.5 455.2L528.7 454.7L529.0 454.1L529.2 453.6L529.4 453.0L529.7 452.5L529.9 451.9L530.1 451.4L530.3 450.8L530.5 450.3L530.7 449.7L530.8 449.2L530.9 448.7L531.0 448.1L531.1 447.6L531.2 447.0L531.3 446.5L531.3 445.9L531.4 445.4L531.3 444.8L531.2 444.3L531.1 443.7L530.9 443.2L530.6 442.6L530.2 442.1L529.8 441.6L529.3 441.0L528.9 440.5L528.4 439.9L527.8 439.4L527.3 438.8L526.7 438.3L526.1 437.7L525.5 437.2L524.9 436.6L524.4 436.1L523.9 435.5L522.7 435.0Z" fill="#3a7fc0"/>
<line x1="522.2" y1="435.4" x2="522.2" y2="478.7" stroke="#111" stroke-width="0.8"/>
<line x1="517.9" y1="435.4" x2="526.5" y2="435.4" stroke="#111" stroke-width="0.9"/>
<line x1="517.9" y1="478.7" x2="526.5" y2="478.7" stroke="#111" stroke-width="0.9"/>
<rect x="520.3" y="447.2" width="3.8" height="25.8" fill="none" stroke="#222" stroke-width="0.55"/>
<line x1="520.3" y1="457.2" x2="524.1" y2="457.2" stroke="#111" stroke-width="0.8"/>
<path d="M550.0 451.4L549.7 451.5L549.6 451.6L549.4 451.7L549.2 451.8L549.1 452.0L548.9 452.1L548.7 452.2L548.5 452.3L548.3 452.4L548.1 452.5L547.9 452.6L547.7 452.7L547.6 452.8L547.4 453.0L547.2 453.1L547.0 453.2L546.8 453.3L546.6 453.4L546.4 453.5L546.2 453.6L546.0 453.7L545.8 453.8L545.6 454.0L545.4 454.1L545.2 454.2L545.0 454.3L544.8 454.4L544.6 454.5L544.4 454.6L544.2 454.7L544.0 454.8L543.8 455.0L543.7 455.1L543.5 455.2L543.4 455.3L543.4 455.4L543.3 455.5L543.4 455.6L543.4 455.7L543.5 455.9L543.6 456.0L543.8 456.1L543.9 456.2L544.0 456.3L544.1 456.4L544.3 456.5L544.5 456.6L544.6 456.7L544.8 456.9L545.0 457.0L545.3 457.1L545.5 457.2L545.8 457.3L546.0 457.4L546.2 457.5L546.5 457.6L546.8 457.7L547.0 457.9L547.2 458.0L547.5 458.1L547.7 458.2L547.9 458.3L548.1 458.4L548.3 458.5L548.5 458.6L548.6 458.7L548.8 458.9L548.9 459.0L549.0 459.1L549.1 459.2L549.2 459.3L549.2 459.4L549.3 459.5L549.4 459.6L549.5 459.7L549.6 459.9L549.7 460.0L549.8 460.1L549.8 460.2L550.0 460.3L551.0 460.3L551.2 460.2L551.2 460.1L551.3 460.0L551.4 459.9L551.5 459.7L551.6 459.6L551.7 459.5L551.8 459.4L551.8 459.3L551.9 459.2L552.0 459.1L552.1 459.0L552.2 458.9L552.4 458.7L552.5 458.6L552.7 458.5L552.9 458.4L553.1 458.3L553.3 458.2L553.5 458.1L553.8 458.0L554.0 457.9L554.2 457.7L554.5 457.6L554.8 457.5L555.0 457.4L555.2 457.3L555.5 457.2L555.7 457.1L556.0 457.0L556.2 456.9L556.4 456.7L556.5 456.6L556.7 456.5L556.9 456.4L557.0 456.3L557.1 456.2L557.2 456.1L557.4 456.0L557.5 455.9L557.6 455.7L557.6 455.6L557.7 455.5L557.6 455.4L557.6 455.3L557.5 455.2L557.3 455.1L557.2 455.0L557.0 454.8L556.8 454.7L556.6 454.6L556.4 454.5L556.2 454.4L556.0 454.3L555.8 454.2L555.6 454.1L555.4 454.0L555.2 453.8L555.0 453.7L554.8 453.6L554.6 453.5L554.4 453.4L554.2 453.3L554.0 453.2L553.8 453.1L553.6 453.0L553.4 452.8L553.3 452.7L553.1 452.6L552.9 452.5L552.7 452.4L552.5 452.3L552.3 452.2L552.1 452.1L551.9 452.0L551.8 451.8L551.6 451.7L551.4 451.6L551.3 451.5L551.0 451.4Z" fill="#4daf4a"/>
<line x1="550.5" y1="451.4" x2="550.5" y2="460.3" stroke="#111" stroke-width="0.8"/>
<line x1="546.2" y1="451.4" x2="554.8" y2="451.4" stroke="#111" stroke-width="0.9"/>
<line x1="546.2" y1="460.3" x2="554.8" y2="460.3" stroke="#111" stroke-width="0.9"/>
<rect x="548.6" y="453" width="3.8" height="5" fill="none" stroke="#222" stroke-width="0.55"/>
<line x1="548.6" y1="455.5" x2="552.4" y2="455.5" stroke="#111" stroke-width="0.8"/>
<circle cx="550.5" cy="466.4" r="0.8" fill="#111"/>
<line x1="495.4" y1="482.1" x2="495.4" y2="483.7" stroke="#333" stroke-width="0.6"/>
<text x="495.4" y="490.8" font-size="7.6" text-anchor="middle" fill="#222">T/T</text>
<line x1="522.2" y1="482.1" x2="522.2" y2="483.7" stroke="#333" stroke-width="0.6"/>
<text x="522.2" y="490.8" font-size="7.6" text-anchor="middle" fill="#222">T/A</text>
<line x1="550.5" y1="482.1" x2="550.5" y2="483.7" stroke="#333" stroke-width="0.6"/>
<text x="550.5" y="490.8" font-size="7.6" text-anchor="middle" fill="#222">A/A</text>
<text x="519" y="501.9" font-size="8.2" text-anchor="middle" fill="#222">rs734773177 genotypes</text>
<text x="517.7" y="518.1" font-size="8.2" fill="#111" text-anchor="middle"><tspan font-style="italic">HOXB7</tspan> (119 kb)</text>
<line x1="590.5" y1="401.3" x2="590.5" y2="483.4" stroke="#333" stroke-width="0.75"/>
<line x1="590.5" y1="483.4" x2="681.5" y2="483.4" stroke="#333" stroke-width="0.75"/>
<line x1="588.9" y1="476.7" x2="590.5" y2="476.7" stroke="#333" stroke-width="0.6"/>
<text x="587.8" y="479.4" font-size="7.6" text-anchor="end" fill="#222">-2</text>
<line x1="588.9" y1="448.9" x2="590.5" y2="448.9" stroke="#333" stroke-width="0.6"/>
<text x="587.8" y="451.6" font-size="7.6" text-anchor="end" fill="#222">0</text>
<line x1="588.9" y1="421.1" x2="590.5" y2="421.1" stroke="#333" stroke-width="0.6"/>
<text x="587.8" y="423.8" font-size="7.6" text-anchor="end" fill="#222">2</text>
<text x="598.3" y="401.4" font-size="7.4" fill="#222">|Slope| = 0.54</text>
<text x="598.3" y="410.1" font-size="7.4" fill="#222">P<tspan font-size="4.3" dy="1.8">eQTL</tspan><tspan dy="-1.8"> = 1.99×10</tspan><tspan font-size="4.5" dy="-2.6">-6</tspan></text>
<text transform="translate(578.0 442.0) rotate(-90)" font-size="7.3" fill="#111" text-anchor="middle">Nor. TMM (<tspan font-style="italic">KCNH6</tspan> in Jejunum)</text>
<path d="M607.5 419.1L607.0 419.8L606.8 420.6L606.5 421.3L606.2 422.1L605.9 422.8L605.6 423.6L605.3 424.3L605.0 425.1L604.7 425.8L604.4 426.6L604.1 427.3L603.8 428.1L603.4 428.8L603.1 429.6L602.8 430.3L602.5 431.1L602.2 431.8L601.9 432.6L601.6 433.3L601.3 434.1L601.0 434.8L600.7 435.6L600.4 436.3L600.1 437.1L599.9 437.8L599.6 438.6L599.4 439.3L599.2 440.1L599.0 440.8L598.8 441.6L598.5 442.3L598.3 443.1L598.2 443.8L598.0 444.6L597.8 445.3L597.7 446.1L597.6 446.8L597.6 447.6L597.5 448.3L597.5 449.1L597.5 449.8L597.6 450.5L597.6 451.3L597.7 452.0L597.8 452.8L598.0 453.5L598.2 454.3L598.3 455.0L598.5 455.8L598.8 456.5L599.0 457.3L599.2 458.0L599.4 458.8L599.6 459.5L599.9 460.3L600.1 461.0L600.4 461.8L600.7 462.5L601.0 463.3L601.3 464.0L601.6 464.8L601.9 465.5L602.2 466.3L602.5 467.0L602.8 467.8L603.1 468.5L603.4 469.3L603.8 470.0L604.1 470.8L604.4 471.5L604.7 472.3L605.0 473.0L605.3 473.8L605.6 474.5L605.9 475.3L606.2 476.0L606.5 476.8L606.8 477.5L607.0 478.3L607.5 479.0L608.5 479.0L609.0 478.3L609.2 477.5L609.5 476.8L609.8 476.0L610.1 475.3L610.4 474.5L610.7 473.8L611.0 473.0L611.3 472.3L611.6 471.5L611.9 470.8L612.2 470.0L612.6 469.3L612.9 468.5L613.2 467.8L613.5 467.0L613.8 466.3L614.1 465.5L614.4 464.8L614.7 464.0L615.0 463.3L615.3 462.5L615.6 461.8L615.9 461.0L616.1 460.3L616.4 459.5L616.6 458.8L616.8 458.0L617.0 457.3L617.2 456.5L617.5 455.8L617.7 455.0L617.8 454.3L618.0 453.5L618.2 452.8L618.3 452.0L618.4 451.3L618.4 450.5L618.5 449.8L618.5 449.1L618.5 448.3L618.4 447.6L618.4 446.8L618.3 446.1L618.2 445.3L618.0 444.6L617.8 443.8L617.7 443.1L617.5 442.3L617.2 441.6L617.0 440.8L616.8 440.1L616.6 439.3L616.4 438.6L616.1 437.8L615.9 437.1L615.6 436.3L615.3 435.6L615.0 434.8L614.7 434.1L614.4 433.3L614.1 432.6L613.8 431.8L613.5 431.1L613.2 430.3L612.9 429.6L612.6 428.8L612.2 428.1L611.9 427.3L611.6 426.6L611.3 425.8L611.0 425.1L610.7 424.3L610.4 423.6L610.1 422.8L609.8 422.1L609.5 421.3L609.2 420.6L609.0 419.8L608.5 419.1Z" fill="#d9262a"/>
<line x1="608" y1="419.1" x2="608" y2="479" stroke="#111" stroke-width="0.8"/>
<line x1="603.7" y1="419.1" x2="612.3" y2="419.1" stroke="#111" stroke-width="0.9"/>
<line x1="603.7" y1="479" x2="612.3" y2="479" stroke="#111" stroke-width="0.9"/>
<rect x="606.1" y="440" width="3.8" height="21" fill="none" stroke="#222" stroke-width="0.55"/>
<line x1="606.1" y1="449.3" x2="609.9" y2="449.3" stroke="#111" stroke-width="0.8"/>
<path d="M635.1 428.3L634.8 428.7L634.7 429.2L634.6 429.6L634.5 430.0L634.3 430.5L634.2 430.9L634.0 431.3L633.9 431.8L633.7 432.2L633.5 432.6L633.4 433.1L633.2 433.5L633.1 433.9L632.9 434.4L632.7 434.8L632.6 435.2L632.4 435.7L632.2 436.1L632.1 436.5L631.9 437.0L631.7 437.4L631.6 437.8L631.4 438.3L631.2 438.7L631.0 439.1L630.9 439.6L630.7 440.0L630.5 440.4L630.3 440.9L630.1 441.3L630.0 441.7L629.8 442.2L629.6 442.6L629.5 443.0L629.3 443.5L629.2 443.9L629.1 444.3L629.0 444.8L628.9 445.2L628.8 445.6L628.7 446.1L628.6 446.5L628.5 447.0L628.4 447.4L628.3 447.8L628.2 448.3L628.1 448.7L628.1 449.1L628.0 449.6L627.9 450.0L627.9 450.4L627.8 450.9L627.8 451.3L627.8 451.7L627.8 452.2L627.8 452.6L627.8 453.0L627.9 453.5L627.9 453.9L627.9 454.3L627.9 454.8L628.0 455.2L628.0 455.6L628.0 456.1L628.0 456.5L628.1 456.9L628.1 457.4L628.2 457.8L628.3 458.2L628.4 458.7L628.5 459.1L628.6 459.5L628.7 460.0L628.9 460.4L629.0 460.8L629.1 461.3L629.2 461.7L629.3 462.1L629.4 462.6L629.5 463.0L641.7 463.0L641.8 462.6L641.9 462.1L642.0 461.7L642.1 461.3L642.2 460.8L642.4 460.4L642.5 460.0L642.6 459.5L642.7 459.1L642.8 458.7L642.9 458.2L643.0 457.8L643.1 457.4L643.1 456.9L643.2 456.5L643.2 456.1L643.2 455.6L643.2 455.2L643.3 454.8L643.3 454.3L643.3 453.9L643.4 453.5L643.4 453.0L643.4 452.6L643.4 452.2L643.4 451.7L643.4 451.3L643.4 450.9L643.3 450.4L643.3 450.0L643.2 449.6L643.1 449.1L643.1 448.7L643.0 448.3L642.9 447.8L642.8 447.4L642.7 447.0L642.6 446.5L642.5 446.1L642.4 445.6L642.3 445.2L642.2 444.8L642.1 444.3L642.0 443.9L641.9 443.5L641.7 443.0L641.6 442.6L641.4 442.2L641.2 441.7L641.1 441.3L640.9 440.9L640.7 440.4L640.5 440.0L640.4 439.6L640.2 439.1L640.0 438.7L639.8 438.3L639.6 437.8L639.5 437.4L639.3 437.0L639.1 436.5L639.0 436.1L638.8 435.7L638.6 435.2L638.5 434.8L638.3 434.4L638.1 433.9L638.0 433.5L637.8 433.1L637.7 432.6L637.5 432.2L637.4 431.8L637.2 431.3L637.0 430.9L636.9 430.5L636.7 430.0L636.6 429.6L636.5 429.2L636.4 428.7L636.1 428.3Z" fill="#3a7fc0"/>
<line x1="635.6" y1="428.3" x2="635.6" y2="463" stroke="#111" stroke-width="0.8"/>
<line x1="631.3" y1="428.3" x2="639.9" y2="428.3" stroke="#111" stroke-width="0.9"/>
<line x1="631.3" y1="463" x2="639.9" y2="463" stroke="#111" stroke-width="0.9"/>
<rect x="633.7" y="441" width="3.8" height="16.2" fill="none" stroke="#222" stroke-width="0.55"/>
<line x1="633.7" y1="449" x2="637.5" y2="449" stroke="#111" stroke-width="0.8"/>
<path d="M662.7 452.7L662.6 452.8L662.6 452.9L662.6 452.9L662.5 453.0L662.5 453.1L662.4 453.2L662.4 453.3L662.3 453.3L662.3 453.4L662.2 453.5L662.2 453.6L662.1 453.6L662.1 453.7L662.0 453.8L662.0 453.9L662.0 454.0L661.9 454.0L661.9 454.1L661.8 454.2L661.8 454.3L661.7 454.4L661.7 454.4L661.6 454.5L661.6 454.6L661.5 454.7L661.5 454.7L661.4 454.8L661.4 454.9L661.3 455.0L661.3 455.1L661.2 455.1L661.1 455.2L661.0 455.3L661.0 455.4L660.9 455.5L660.8 455.5L660.7 455.6L660.5 455.7L660.4 455.8L660.3 455.9L660.2 455.9L660.1 456.0L660.0 456.1L659.9 456.2L659.8 456.2L659.7 456.3L659.6 456.4L659.5 456.5L659.3 456.6L659.2 456.6L659.1 456.7L659.0 456.8L658.9 456.9L658.8 457.0L658.7 457.0L658.6 457.1L658.5 457.2L658.4 457.3L658.2 457.3L658.1 457.4L658.0 457.5L657.9 457.6L657.8 457.7L657.7 457.7L657.5 457.8L657.4 457.9L657.3 458.0L657.2 458.1L657.1 458.1L657.0 458.2L657.0 458.3L657.1 458.4L657.2 458.4L657.4 458.5L657.7 458.6L657.9 458.7L658.2 458.8L658.4 458.8L658.7 458.9L658.8 459.0L667.6 459.0L667.7 458.9L668.0 458.8L668.2 458.8L668.5 458.7L668.7 458.6L669.0 458.5L669.2 458.4L669.3 458.4L669.4 458.3L669.4 458.2L669.3 458.1L669.2 458.1L669.1 458.0L669.0 457.9L668.9 457.8L668.7 457.7L668.6 457.7L668.5 457.6L668.4 457.5L668.3 457.4L668.2 457.3L668.0 457.3L667.9 457.2L667.8 457.1L667.7 457.0L667.6 457.0L667.5 456.9L667.4 456.8L667.3 456.7L667.2 456.6L667.1 456.6L667.0 456.5L666.8 456.4L666.7 456.3L666.6 456.2L666.5 456.2L666.4 456.1L666.3 456.0L666.2 455.9L666.1 455.9L666.0 455.8L665.9 455.7L665.7 455.6L665.6 455.5L665.5 455.5L665.4 455.4L665.4 455.3L665.3 455.2L665.2 455.1L665.1 455.1L665.1 455.0L665.0 454.9L665.0 454.8L664.9 454.7L664.9 454.7L664.8 454.6L664.8 454.5L664.7 454.4L664.7 454.4L664.6 454.3L664.6 454.2L664.5 454.1L664.5 454.0L664.5 454.0L664.4 453.9L664.4 453.8L664.3 453.7L664.3 453.6L664.2 453.6L664.2 453.5L664.1 453.4L664.1 453.3L664.0 453.3L664.0 453.2L663.9 453.1L663.9 453.0L663.8 452.9L663.8 452.9L663.8 452.8L663.7 452.7Z" fill="#4daf4a"/>
<line x1="663.2" y1="452.7" x2="663.2" y2="459" stroke="#111" stroke-width="0.8"/>
<line x1="658.9" y1="452.7" x2="667.5" y2="452.7" stroke="#111" stroke-width="0.9"/>
<line x1="658.9" y1="459" x2="667.5" y2="459" stroke="#111" stroke-width="0.9"/>
<rect x="661.3" y="454" width="3.8" height="4.3" fill="none" stroke="#222" stroke-width="0.55"/>
<line x1="661.3" y1="456.5" x2="665.1" y2="456.5" stroke="#111" stroke-width="0.8"/>
<line x1="608" y1="483.4" x2="608" y2="485" stroke="#333" stroke-width="0.6"/>
<text x="608" y="490.8" font-size="7.6" text-anchor="middle" fill="#222">T/T</text>
<line x1="635.6" y1="483.4" x2="635.6" y2="485" stroke="#333" stroke-width="0.6"/>
<text x="635.6" y="490.8" font-size="7.6" text-anchor="middle" fill="#222">T/C</text>
<line x1="663.2" y1="483.4" x2="663.2" y2="485" stroke="#333" stroke-width="0.6"/>
<text x="663.2" y="490.8" font-size="7.6" text-anchor="middle" fill="#222">C/C</text>
<text x="637" y="505.8" font-size="8.2" text-anchor="middle" fill="#222">rs16207879 genotypes</text>
<text x="634.3" y="517.7" font-size="8.2" fill="#111" text-anchor="middle"><tspan font-style="italic">KCNH6</tspan> (998 kb)</text>
</svg></body></html>
